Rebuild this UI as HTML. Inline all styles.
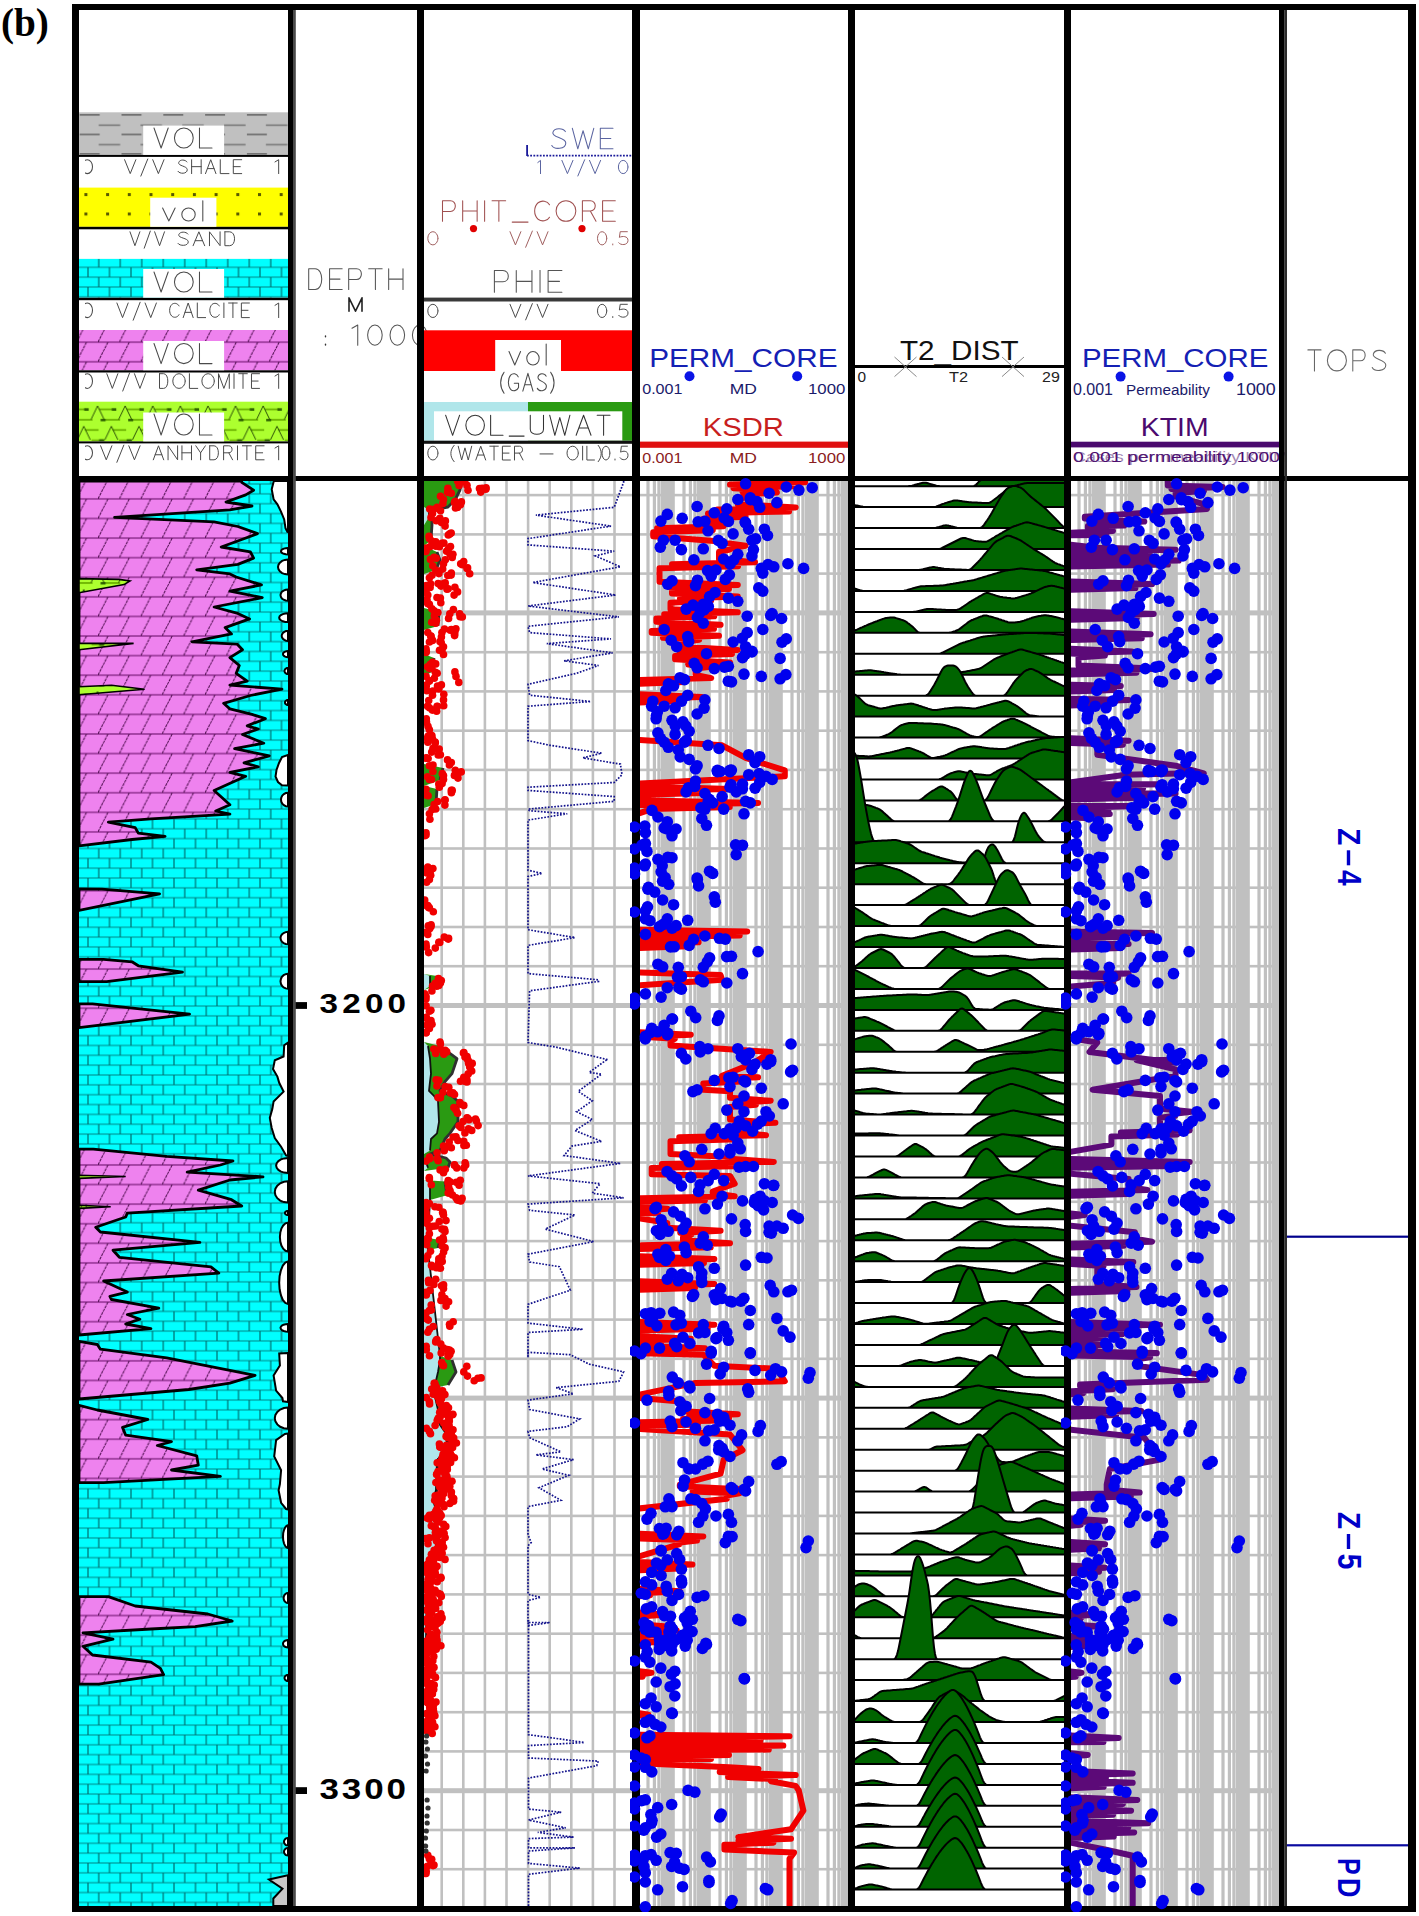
<!DOCTYPE html><html><head><meta charset="utf-8"><style>html,body{margin:0;padding:0;background:#fff}svg{display:block}text{font-family:'Liberation Sans',sans-serif}</style></head><body>
<svg xmlns="http://www.w3.org/2000/svg" width="1419" height="1916" viewBox="0 0 1419 1916">
<defs>
<pattern id="cal" patternUnits="userSpaceOnUse" x="2" y="11.2" width="21.5" height="19.7"><rect width="21.5" height="19.7" fill="#00ffff"/><rect x="0" y="-0.6" width="21.5" height="1.2" fill="#009a9a"/><rect x="0" y="9.25" width="21.5" height="1.2" fill="#009a9a"/><rect x="0" y="19.1" width="21.5" height="1.2" fill="#009a9a"/><rect x="-0.6" y="0" width="1.2" height="9.85" fill="#006e6e"/><rect x="20.9" y="0" width="1.2" height="9.85" fill="#006e6e"/><rect x="10.15" y="9.85" width="1.2" height="9.85" fill="#006e6e"/></pattern>
<pattern id="dol" patternUnits="userSpaceOnUse" x="12.4" y="9.15" width="21.4" height="19.59"><rect width="21.4" height="19.59" fill="#ee82ee"/><rect x="0" y="-0.7" width="21.4" height="1.4" fill="#8a2a8a"/><rect x="0" y="18.89" width="21.4" height="1.4" fill="#8a2a8a"/><line x1="0" y1="19.59" x2="9.9" y2="0" stroke="#4a0a4a" stroke-width="1" stroke-dasharray="3 0.8"/></pattern>
<pattern id="sand" patternUnits="userSpaceOnUse" x="84.4" y="193.1" width="21.7" height="19.4"><rect width="21.7" height="19.4" fill="#ffff00"/><rect x="0" y="0" width="3" height="3" fill="#5a5a00"/></pattern>
<pattern id="shale" patternUnits="userSpaceOnUse" x="79.7" y="114.1" width="41.8" height="19.5"><rect width="41.8" height="19.5" fill="#c0c0c0"/><rect x="0" y="0" width="20" height="1.6" fill="#6a6a6a"/><rect x="19" y="10.3" width="21.5" height="1.6" fill="#7a7a7a"/></pattern>
<pattern id="anh" patternUnits="userSpaceOnUse" x="90.6" y="405.9" width="27.6" height="40.8"><rect width="27.6" height="40.8" fill="#adff2f"/><rect x="8.7" y="2.6" width="14" height="1.8" fill="#6cb400"/><rect x="14" y="13" width="13.6" height="1.8" fill="#6cb400"/><rect x="0" y="13" width="2" height="1.8" fill="#6cb400"/><rect x="22" y="23.2" width="5.6" height="1.8" fill="#6cb400"/><rect x="0" y="23.2" width="8" height="1.8" fill="#6cb400"/><rect x="1" y="33.6" width="13" height="1.8" fill="#6cb400"/><rect x="-6.4" y="2.3" width="4.5" height="2.6" fill="#2d6000"/><rect x="21.2" y="2.3" width="4.5" height="2.6" fill="#2d6000"/><rect x="10" y="13" width="5" height="2.4" fill="#2d6000"/><rect x="8.5" y="33.4" width="5" height="2.4" fill="#2d6000"/><polyline points="0.5,13.5 7,0 13.5,13.5" fill="none" stroke="#1a3a00" stroke-width="0.9"/><polyline points="14.3,33.9 20.8,20.4 27.3,33.9" fill="none" stroke="#1a3a00" stroke-width="0.9"/><polyline points="-13.3,33.9 -6.8,20.4 -0.3,33.9" fill="none" stroke="#1a3a00" stroke-width="0.9"/></pattern>
<clipPath id="cb1"><rect x="79" y="481" width="209" height="1425"/></clipPath>
<clipPath id="cb3"><rect x="424" y="481" width="208" height="1425"/></clipPath>
<clipPath id="cb4"><rect x="640" y="481" width="208" height="1425"/></clipPath>
<clipPath id="cb5"><rect x="855" y="481" width="209" height="1425"/></clipPath>
<clipPath id="cb6"><rect x="1071" y="481" width="208" height="1425"/></clipPath>
<clipPath id="cb7"><rect x="1287" y="481" width="121" height="1425"/></clipPath>
<clipPath id="ch0"><rect x="85" y="100" width="300" height="380"/></clipPath>
<clipPath id="cdot4"><rect x="630" y="476" width="226" height="1436"/></clipPath>
<clipPath id="cdot6"><rect x="1061" y="476" width="226" height="1436"/></clipPath>
</defs>
<rect width="1419" height="1916" fill="#fff"/>
<text x="0.9" y="35.9" font-size="40" font-weight="bold" fill="#000" style="font-family:'Liberation Serif',serif" textLength="48" lengthAdjust="spacingAndGlyphs">(b)</text>
<rect x="79" y="112.3" width="209" height="42.6" fill="url(#shale)"/>
<rect x="79" y="154.9" width="209" height="2" fill="#000"/>
<rect x="79" y="187.6" width="209" height="39.2" fill="url(#sand)"/>
<rect x="79" y="226.8" width="209" height="2.5" fill="#000"/>
<rect x="79" y="258.9" width="209" height="38.8" fill="url(#cal)"/>
<rect x="79" y="297.7" width="209" height="2.5" fill="#000"/>
<rect x="79" y="330" width="209" height="40.3" fill="url(#dol)"/>
<rect x="79" y="370.3" width="209" height="2.2" fill="#000"/>
<rect x="79" y="401.7" width="209" height="39.7" fill="url(#anh)"/>
<rect x="79" y="441.4" width="209" height="2" fill="#000"/>
<rect x="143.2" y="125.6" width="80.9" height="29.3" fill="#fff"/>
<rect x="150.2" y="197.7" width="66.2" height="29.1" fill="#fff"/>
<rect x="143.2" y="269" width="80.9" height="28.7" fill="#fff"/>
<rect x="143.2" y="341" width="80.9" height="29.3" fill="#fff"/>
<rect x="143.2" y="412.5" width="80.9" height="28.9" fill="#fff"/>
<g fill="none" stroke="#4a4a4a" stroke-width="1.05" vector-effect="non-scaling-stroke" stroke-linecap="round" stroke-linejoin="round" ><path vector-effect="non-scaling-stroke" transform="translate(154.00,128.00) scale(20.8633,20.0000)" d="M0,0 L0.34,1 L0.68,0"/><path vector-effect="non-scaling-stroke" transform="translate(174.45,128.00) scale(20.8633,20.0000)" d="M0.9,0.5 A0.45,0.5 0 1,1 0,0.5 A0.45,0.5 0 1,1 0.9,0.5"/><path vector-effect="non-scaling-stroke" transform="translate(199.48,128.00) scale(20.8633,20.0000)" d="M0,0 L0,1 L0.6,1"/></g>
<g fill="none" stroke="#4a4a4a" stroke-width="1.05" vector-effect="non-scaling-stroke" stroke-linecap="round" stroke-linejoin="round" ><path vector-effect="non-scaling-stroke" transform="translate(162.60,200.80) scale(22.3370,20.1000)" d="M0,0.36 L0.28,1 L0.56,0.36"/><path vector-effect="non-scaling-stroke" transform="translate(181.81,200.80) scale(22.3370,20.1000)" d="M0.6,0.68 A0.3,0.32 0 1,1 0,0.68 A0.3,0.32 0 1,1 0.6,0.68"/><path vector-effect="non-scaling-stroke" transform="translate(201.91,200.80) scale(22.3370,20.1000)" d="M0.04,0 L0.04,1"/></g>
<g fill="none" stroke="#4a4a4a" stroke-width="1.05" vector-effect="non-scaling-stroke" stroke-linecap="round" stroke-linejoin="round" ><path vector-effect="non-scaling-stroke" transform="translate(154.00,272.00) scale(20.8633,20.0000)" d="M0,0 L0.34,1 L0.68,0"/><path vector-effect="non-scaling-stroke" transform="translate(174.45,272.00) scale(20.8633,20.0000)" d="M0.9,0.5 A0.45,0.5 0 1,1 0,0.5 A0.45,0.5 0 1,1 0.9,0.5"/><path vector-effect="non-scaling-stroke" transform="translate(199.48,272.00) scale(20.8633,20.0000)" d="M0,0 L0,1 L0.6,1"/></g>
<g fill="none" stroke="#4a4a4a" stroke-width="1.05" vector-effect="non-scaling-stroke" stroke-linecap="round" stroke-linejoin="round" ><path vector-effect="non-scaling-stroke" transform="translate(154.00,343.50) scale(20.8633,20.1000)" d="M0,0 L0.34,1 L0.68,0"/><path vector-effect="non-scaling-stroke" transform="translate(174.45,343.50) scale(20.8633,20.1000)" d="M0.9,0.5 A0.45,0.5 0 1,1 0,0.5 A0.45,0.5 0 1,1 0.9,0.5"/><path vector-effect="non-scaling-stroke" transform="translate(199.48,343.50) scale(20.8633,20.1000)" d="M0,0 L0,1 L0.6,1"/></g>
<g fill="none" stroke="#4a4a4a" stroke-width="1.05" vector-effect="non-scaling-stroke" stroke-linecap="round" stroke-linejoin="round" ><path vector-effect="non-scaling-stroke" transform="translate(154.00,414.00) scale(20.8633,21.0000)" d="M0,0 L0.34,1 L0.68,0"/><path vector-effect="non-scaling-stroke" transform="translate(174.45,414.00) scale(20.8633,21.0000)" d="M0.9,0.5 A0.45,0.5 0 1,1 0,0.5 A0.45,0.5 0 1,1 0.9,0.5"/><path vector-effect="non-scaling-stroke" transform="translate(199.48,414.00) scale(20.8633,21.0000)" d="M0,0 L0,1 L0.6,1"/></g>
<g clip-path="url(#ch1)">
</g>
<g fill="none" stroke="#4a4a4a" stroke-width="1.0" vector-effect="non-scaling-stroke" stroke-linecap="round" stroke-linejoin="round" ><path vector-effect="non-scaling-stroke" transform="translate(124.60,159.70) scale(16.5546,13.9000)" d="M0,0 L0.34,1 L0.68,0"/><path vector-effect="non-scaling-stroke" transform="translate(140.82,159.70) scale(16.5546,13.9000)" d="M0.42,-0.05 L0,1.18"/><path vector-effect="non-scaling-stroke" transform="translate(152.74,159.70) scale(16.5546,13.9000)" d="M0,0 L0.34,1 L0.68,0"/></g>
<g fill="none" stroke="#4a4a4a" stroke-width="1.0" vector-effect="non-scaling-stroke" stroke-linecap="round" stroke-linejoin="round" ><path vector-effect="non-scaling-stroke" transform="translate(178.00,159.70) scale(14.4773,13.9000)" d="M0.62,0.16 C0.52,-0.02 0.12,-0.04 0.05,0.2 C-0.02,0.46 0.64,0.44 0.64,0.72 C0.64,1.04 0.1,1.04 0,0.84"/><path vector-effect="non-scaling-stroke" transform="translate(191.61,159.70) scale(14.4773,13.9000)" d="M0,0 L0,1 M0.66,0 L0.66,1 M0,0.5 L0.66,0.5"/><path vector-effect="non-scaling-stroke" transform="translate(205.51,159.70) scale(14.4773,13.9000)" d="M0,1 L0.36,0 L0.72,1 M0.13,0.64 L0.59,0.64"/><path vector-effect="non-scaling-stroke" transform="translate(220.27,159.70) scale(14.4773,13.9000)" d="M0,0 L0,1 L0.6,1"/><path vector-effect="non-scaling-stroke" transform="translate(233.30,159.70) scale(14.4773,13.9000)" d="M0.58,0 L0,0 L0,1 L0.58,1 M0,0.5 L0.48,0.5"/></g>
<g fill="none" stroke="#4a4a4a" stroke-width="1.0" vector-effect="non-scaling-stroke" stroke-linecap="round" stroke-linejoin="round" ><path vector-effect="non-scaling-stroke" transform="translate(275.00,159.70) scale(16.6667,13.9000)" d="M0,0.16 L0.22,0 L0.22,1"/></g>
<g fill="none" stroke="#4a4a4a" stroke-width="1.0" vector-effect="non-scaling-stroke" stroke-linecap="round" stroke-linejoin="round" ><path vector-effect="non-scaling-stroke" transform="translate(130.00,231.80) scale(14.4958,13.9000)" d="M0,0 L0.34,1 L0.68,0"/><path vector-effect="non-scaling-stroke" transform="translate(144.21,231.80) scale(14.4958,13.9000)" d="M0.42,-0.05 L0,1.18"/><path vector-effect="non-scaling-stroke" transform="translate(154.64,231.80) scale(14.4958,13.9000)" d="M0,0 L0.34,1 L0.68,0"/></g>
<g fill="none" stroke="#4a4a4a" stroke-width="1.0" vector-effect="non-scaling-stroke" stroke-linecap="round" stroke-linejoin="round" ><path vector-effect="non-scaling-stroke" transform="translate(178.00,231.80) scale(16.0615,13.9000)" d="M0.62,0.16 C0.52,-0.02 0.12,-0.04 0.05,0.2 C-0.02,0.46 0.64,0.44 0.64,0.72 C0.64,1.04 0.1,1.04 0,0.84"/><path vector-effect="non-scaling-stroke" transform="translate(193.10,231.80) scale(16.0615,13.9000)" d="M0,1 L0.36,0 L0.72,1 M0.13,0.64 L0.59,0.64"/><path vector-effect="non-scaling-stroke" transform="translate(209.48,231.80) scale(16.0615,13.9000)" d="M0,1 L0,0 L0.66,1 L0.66,0"/><path vector-effect="non-scaling-stroke" transform="translate(224.90,231.80) scale(16.0615,13.9000)" d="M0,0 L0,1 L0.3,1 C0.7,1 0.7,0 0.3,0 L0,0"/></g>
<g fill="none" stroke="#4a4a4a" stroke-width="1.0" vector-effect="non-scaling-stroke" stroke-linecap="round" stroke-linejoin="round" ><path vector-effect="non-scaling-stroke" transform="translate(116.90,303.00) scale(16.5966,14.6000)" d="M0,0 L0.34,1 L0.68,0"/><path vector-effect="non-scaling-stroke" transform="translate(133.16,303.00) scale(16.5966,14.6000)" d="M0.42,-0.05 L0,1.18"/><path vector-effect="non-scaling-stroke" transform="translate(145.11,303.00) scale(16.5966,14.6000)" d="M0,0 L0.34,1 L0.68,0"/></g>
<g fill="none" stroke="#4a4a4a" stroke-width="1.0" vector-effect="non-scaling-stroke" stroke-linecap="round" stroke-linejoin="round" ><path vector-effect="non-scaling-stroke" transform="translate(169.60,303.00) scale(13.8542,14.6000)" d="M0.68,0.2 C0.58,0 0.32,-0.03 0.16,0.1 C-0.05,0.3 -0.05,0.7 0.16,0.9 C0.32,1.03 0.58,1 0.68,0.8"/><path vector-effect="non-scaling-stroke" transform="translate(183.18,303.00) scale(13.8542,14.6000)" d="M0,1 L0.36,0 L0.72,1 M0.13,0.64 L0.59,0.64"/><path vector-effect="non-scaling-stroke" transform="translate(197.31,303.00) scale(13.8542,14.6000)" d="M0,0 L0,1 L0.6,1"/><path vector-effect="non-scaling-stroke" transform="translate(209.78,303.00) scale(13.8542,14.6000)" d="M0.68,0.2 C0.58,0 0.32,-0.03 0.16,0.1 C-0.05,0.3 -0.05,0.7 0.16,0.9 C0.32,1.03 0.58,1 0.68,0.8"/><path vector-effect="non-scaling-stroke" transform="translate(223.35,303.00) scale(13.8542,14.6000)" d="M0.04,0 L0.04,1"/><path vector-effect="non-scaling-stroke" transform="translate(228.62,303.00) scale(13.8542,14.6000)" d="M0,0 L0.62,0 M0.31,0 L0.31,1"/><path vector-effect="non-scaling-stroke" transform="translate(241.36,303.00) scale(13.8542,14.6000)" d="M0.58,0 L0,0 L0,1 L0.58,1 M0,0.5 L0.48,0.5"/></g>
<g fill="none" stroke="#4a4a4a" stroke-width="1.0" vector-effect="non-scaling-stroke" stroke-linecap="round" stroke-linejoin="round" ><path vector-effect="non-scaling-stroke" transform="translate(275.00,303.00) scale(16.6667,14.6000)" d="M0,0.16 L0.22,0 L0.22,1"/></g>
<g fill="none" stroke="#4a4a4a" stroke-width="1.0" vector-effect="non-scaling-stroke" stroke-linecap="round" stroke-linejoin="round" ><path vector-effect="non-scaling-stroke" transform="translate(106.80,373.70) scale(16.2605,14.7000)" d="M0,0 L0.34,1 L0.68,0"/><path vector-effect="non-scaling-stroke" transform="translate(122.74,373.70) scale(16.2605,14.7000)" d="M0.42,-0.05 L0,1.18"/><path vector-effect="non-scaling-stroke" transform="translate(134.44,373.70) scale(16.2605,14.7000)" d="M0,0 L0.34,1 L0.68,0"/></g>
<g fill="none" stroke="#4a4a4a" stroke-width="1.0" vector-effect="non-scaling-stroke" stroke-linecap="round" stroke-linejoin="round" ><path vector-effect="non-scaling-stroke" transform="translate(159.50,373.70) scale(13.8504,14.7000)" d="M0,0 L0,1 L0.3,1 C0.7,1 0.7,0 0.3,0 L0,0"/><path vector-effect="non-scaling-stroke" transform="translate(172.80,373.70) scale(13.8504,14.7000)" d="M0.9,0.5 A0.45,0.5 0 1,1 0,0.5 A0.45,0.5 0 1,1 0.9,0.5"/><path vector-effect="non-scaling-stroke" transform="translate(189.42,373.70) scale(13.8504,14.7000)" d="M0,0 L0,1 L0.6,1"/><path vector-effect="non-scaling-stroke" transform="translate(201.88,373.70) scale(13.8504,14.7000)" d="M0.9,0.5 A0.45,0.5 0 1,1 0,0.5 A0.45,0.5 0 1,1 0.9,0.5"/><path vector-effect="non-scaling-stroke" transform="translate(218.50,373.70) scale(13.8504,14.7000)" d="M0,1 L0,0 L0.39,1 L0.78,0 L0.78,1"/><path vector-effect="non-scaling-stroke" transform="translate(233.46,373.70) scale(13.8504,14.7000)" d="M0.04,0 L0.04,1"/><path vector-effect="non-scaling-stroke" transform="translate(238.72,373.70) scale(13.8504,14.7000)" d="M0,0 L0.62,0 M0.31,0 L0.31,1"/><path vector-effect="non-scaling-stroke" transform="translate(251.47,373.70) scale(13.8504,14.7000)" d="M0.58,0 L0,0 L0,1 L0.58,1 M0,0.5 L0.48,0.5"/></g>
<g fill="none" stroke="#4a4a4a" stroke-width="1.0" vector-effect="non-scaling-stroke" stroke-linecap="round" stroke-linejoin="round" ><path vector-effect="non-scaling-stroke" transform="translate(275.00,373.70) scale(16.6667,14.7000)" d="M0,0.16 L0.22,0 L0.22,1"/></g>
<g fill="none" stroke="#4a4a4a" stroke-width="1.0" vector-effect="non-scaling-stroke" stroke-linecap="round" stroke-linejoin="round" ><path vector-effect="non-scaling-stroke" transform="translate(100.60,445.80) scale(16.5966,14.0000)" d="M0,0 L0.34,1 L0.68,0"/><path vector-effect="non-scaling-stroke" transform="translate(116.86,445.80) scale(16.5966,14.0000)" d="M0.42,-0.05 L0,1.18"/><path vector-effect="non-scaling-stroke" transform="translate(128.81,445.80) scale(16.5966,14.0000)" d="M0,0 L0.34,1 L0.68,0"/></g>
<g fill="none" stroke="#4a4a4a" stroke-width="1.0" vector-effect="non-scaling-stroke" stroke-linecap="round" stroke-linejoin="round" ><path vector-effect="non-scaling-stroke" transform="translate(153.30,445.80) scale(14.4648,14.0000)" d="M0,1 L0.36,0 L0.72,1 M0.13,0.64 L0.59,0.64"/><path vector-effect="non-scaling-stroke" transform="translate(168.05,445.80) scale(14.4648,14.0000)" d="M0,1 L0,0 L0.66,1 L0.66,0"/><path vector-effect="non-scaling-stroke" transform="translate(181.94,445.80) scale(14.4648,14.0000)" d="M0,0 L0,1 M0.66,0 L0.66,1 M0,0.5 L0.66,0.5"/><path vector-effect="non-scaling-stroke" transform="translate(195.83,445.80) scale(14.4648,14.0000)" d="M0,0 L0.33,0.5 L0.66,0 M0.33,0.5 L0.33,1"/><path vector-effect="non-scaling-stroke" transform="translate(209.71,445.80) scale(14.4648,14.0000)" d="M0,0 L0,1 L0.3,1 C0.7,1 0.7,0 0.3,0 L0,0"/><path vector-effect="non-scaling-stroke" transform="translate(223.60,445.80) scale(14.4648,14.0000)" d="M0,1 L0,0 L0.36,0 C0.66,0 0.66,0.5 0.36,0.5 L0,0.5 M0.36,0.5 L0.62,1"/><path vector-effect="non-scaling-stroke" transform="translate(236.91,445.80) scale(14.4648,14.0000)" d="M0.04,0 L0.04,1"/><path vector-effect="non-scaling-stroke" transform="translate(242.40,445.80) scale(14.4648,14.0000)" d="M0,0 L0.62,0 M0.31,0 L0.31,1"/><path vector-effect="non-scaling-stroke" transform="translate(255.71,445.80) scale(14.4648,14.0000)" d="M0.58,0 L0,0 L0,1 L0.58,1 M0,0.5 L0.48,0.5"/></g>
<g fill="none" stroke="#4a4a4a" stroke-width="1.0" vector-effect="non-scaling-stroke" stroke-linecap="round" stroke-linejoin="round" ><path vector-effect="non-scaling-stroke" transform="translate(275.00,445.80) scale(16.6667,14.0000)" d="M0,0.16 L0.22,0 L0.22,1"/></g>
<g clip-path="url(#ch0)">
<g fill="none" stroke="#4a4a4a" stroke-width="1.05" vector-effect="non-scaling-stroke" stroke-linecap="round" stroke-linejoin="round" ><path vector-effect="non-scaling-stroke" transform="translate(82.00,159.70) scale(18.7500,13.9000)" d="M0.56,0.5 A0.28,0.5 0 1,1 0,0.5 A0.28,0.5 0 1,1 0.56,0.5"/></g>
<g fill="none" stroke="#4a4a4a" stroke-width="1.05" vector-effect="non-scaling-stroke" stroke-linecap="round" stroke-linejoin="round" ><path vector-effect="non-scaling-stroke" transform="translate(82.00,303.00) scale(18.7500,14.6000)" d="M0.56,0.5 A0.28,0.5 0 1,1 0,0.5 A0.28,0.5 0 1,1 0.56,0.5"/></g>
<g fill="none" stroke="#4a4a4a" stroke-width="1.05" vector-effect="non-scaling-stroke" stroke-linecap="round" stroke-linejoin="round" ><path vector-effect="non-scaling-stroke" transform="translate(82.00,373.70) scale(18.7500,14.7000)" d="M0.56,0.5 A0.28,0.5 0 1,1 0,0.5 A0.28,0.5 0 1,1 0.56,0.5"/></g>
<g fill="none" stroke="#4a4a4a" stroke-width="1.05" vector-effect="non-scaling-stroke" stroke-linecap="round" stroke-linejoin="round" ><path vector-effect="non-scaling-stroke" transform="translate(82.00,445.80) scale(18.7500,14.0000)" d="M0.56,0.5 A0.28,0.5 0 1,1 0,0.5 A0.28,0.5 0 1,1 0.56,0.5"/></g>
</g>
<g fill="none" stroke="#555" stroke-width="1.05" vector-effect="non-scaling-stroke" stroke-linecap="round" stroke-linejoin="round" ><path vector-effect="non-scaling-stroke" transform="translate(308.70,268.70) scale(21.7281,20.8000)" d="M0,0 L0,1 L0.3,1 C0.7,1 0.7,0 0.3,0 L0,0"/><path vector-effect="non-scaling-stroke" transform="translate(329.56,268.70) scale(21.7281,20.8000)" d="M0.58,0 L0,0 L0,1 L0.58,1 M0,0.5 L0.48,0.5"/><path vector-effect="non-scaling-stroke" transform="translate(348.68,268.70) scale(21.7281,20.8000)" d="M0,1 L0,0 L0.36,0 C0.66,0 0.66,0.52 0.36,0.52 L0,0.52"/><path vector-effect="non-scaling-stroke" transform="translate(368.67,268.70) scale(21.7281,20.8000)" d="M0,0 L0.62,0 M0.31,0 L0.31,1"/><path vector-effect="non-scaling-stroke" transform="translate(388.66,268.70) scale(21.7281,20.8000)" d="M0,0 L0,1 M0.66,0 L0.66,1 M0,0.5 L0.66,0.5"/></g>
<g fill="none" stroke="#222" stroke-width="1.6" vector-effect="non-scaling-stroke" stroke-linecap="round" stroke-linejoin="round" ><path vector-effect="non-scaling-stroke" transform="translate(349.00,297.80) scale(16.6667,13.4000)" d="M0,1 L0,0 L0.39,1 L0.78,0 L0.78,1"/></g>
<g fill="none" stroke="#555" stroke-width="1.05" vector-effect="non-scaling-stroke" stroke-linecap="round" stroke-linejoin="round" ><path vector-effect="non-scaling-stroke" transform="translate(352.00,325.00) scale(26.0417,20.2000)" d="M0,0.16 L0.22,0 L0.22,1"/><path vector-effect="non-scaling-stroke" transform="translate(367.62,325.00) scale(26.0417,20.2000)" d="M0.56,0.5 A0.28,0.5 0 1,1 0,0.5 A0.28,0.5 0 1,1 0.56,0.5"/><path vector-effect="non-scaling-stroke" transform="translate(390.02,325.00) scale(26.0417,20.2000)" d="M0.56,0.5 A0.28,0.5 0 1,1 0,0.5 A0.28,0.5 0 1,1 0.56,0.5"/><path vector-effect="non-scaling-stroke" transform="translate(412.42,325.00) scale(26.0417,20.2000)" d="M0.56,0.5 A0.28,0.5 0 1,1 0,0.5 A0.28,0.5 0 1,1 0.56,0.5"/></g>
<g fill="none" stroke="#333" stroke-width="1.4" vector-effect="non-scaling-stroke" stroke-linecap="round" stroke-linejoin="round" ><path vector-effect="non-scaling-stroke" transform="translate(324.00,332.00) scale(25.0000,13.0000)" d="M0.06,0.3 L0.06,0.36 M0.06,0.93 L0.06,1"/></g>
<g fill="none" stroke="#5a64a0" stroke-width="1.05" vector-effect="non-scaling-stroke" stroke-linecap="round" stroke-linejoin="round" ><path vector-effect="non-scaling-stroke" transform="translate(551.80,128.30) scale(21.8571,20.5000)" d="M0.62,0.16 C0.52,-0.02 0.12,-0.04 0.05,0.2 C-0.02,0.46 0.64,0.44 0.64,0.72 C0.64,1.04 0.1,1.04 0,0.84"/><path vector-effect="non-scaling-stroke" transform="translate(572.35,128.30) scale(21.8571,20.5000)" d="M0,0 L0.25,1 L0.49,0.12 L0.73,1 L0.98,0"/><path vector-effect="non-scaling-stroke" transform="translate(600.32,128.30) scale(21.8571,20.5000)" d="M0.58,0 L0,0 L0,1 L0.58,1 M0,0.5 L0.48,0.5"/></g>
<line x1="527" y1="155.7" x2="632" y2="155.7" stroke="#1a1a9a" stroke-width="1.8" stroke-dasharray="1.8 1.4"/>
<rect x="526.2" y="145" width="1.8" height="11" fill="#1a1a9a"/>
<g fill="none" stroke="#5a64a0" stroke-width="1.0" vector-effect="non-scaling-stroke" stroke-linecap="round" stroke-linejoin="round" ><path vector-effect="non-scaling-stroke" transform="translate(537.80,160.40) scale(12.3333,13.2000)" d="M0,0.16 L0.22,0 L0.22,1"/></g>
<g fill="none" stroke="#5a64a0" stroke-width="1.0" vector-effect="non-scaling-stroke" stroke-linecap="round" stroke-linejoin="round" ><path vector-effect="non-scaling-stroke" transform="translate(561.90,160.40) scale(16.2605,13.2000)" d="M0,0 L0.34,1 L0.68,0"/><path vector-effect="non-scaling-stroke" transform="translate(577.84,160.40) scale(16.2605,13.2000)" d="M0.42,-0.05 L0,1.18"/><path vector-effect="non-scaling-stroke" transform="translate(589.54,160.40) scale(16.2605,13.2000)" d="M0,0 L0.34,1 L0.68,0"/></g>
<g fill="none" stroke="#5a64a0" stroke-width="1.0" vector-effect="non-scaling-stroke" stroke-linecap="round" stroke-linejoin="round" ><path vector-effect="non-scaling-stroke" transform="translate(618.40,160.40) scale(17.1429,13.2000)" d="M0.56,0.5 A0.28,0.5 0 1,1 0,0.5 A0.28,0.5 0 1,1 0.56,0.5"/></g>
<g fill="none" stroke="#a05050" stroke-width="1.05" vector-effect="non-scaling-stroke" stroke-linecap="round" stroke-linejoin="round" ><path vector-effect="non-scaling-stroke" transform="translate(442.50,200.70) scale(21.9289,20.6000)" d="M0,1 L0,0 L0.36,0 C0.66,0 0.66,0.52 0.36,0.52 L0,0.52"/><path vector-effect="non-scaling-stroke" transform="translate(462.67,200.70) scale(21.9289,20.6000)" d="M0,0 L0,1 M0.66,0 L0.66,1 M0,0.5 L0.66,0.5"/><path vector-effect="non-scaling-stroke" transform="translate(483.73,200.70) scale(21.9289,20.6000)" d="M0.04,0 L0.04,1"/><path vector-effect="non-scaling-stroke" transform="translate(492.06,200.70) scale(21.9289,20.6000)" d="M0,0 L0.62,0 M0.31,0 L0.31,1"/><path vector-effect="non-scaling-stroke" transform="translate(512.23,200.70) scale(21.9289,20.6000)" d="M0,1.04 L0.72,1.04"/><path vector-effect="non-scaling-stroke" transform="translate(534.60,200.70) scale(21.9289,20.6000)" d="M0.68,0.2 C0.58,0 0.32,-0.03 0.16,0.1 C-0.05,0.3 -0.05,0.7 0.16,0.9 C0.32,1.03 0.58,1 0.68,0.8"/><path vector-effect="non-scaling-stroke" transform="translate(556.09,200.70) scale(21.9289,20.6000)" d="M0.9,0.5 A0.45,0.5 0 1,1 0,0.5 A0.45,0.5 0 1,1 0.9,0.5"/><path vector-effect="non-scaling-stroke" transform="translate(582.41,200.70) scale(21.9289,20.6000)" d="M0,1 L0,0 L0.36,0 C0.66,0 0.66,0.5 0.36,0.5 L0,0.5 M0.36,0.5 L0.62,1"/><path vector-effect="non-scaling-stroke" transform="translate(602.58,200.70) scale(21.9289,20.6000)" d="M0.58,0 L0,0 L0,1 L0.58,1 M0,0.5 L0.48,0.5"/></g>
<circle cx="473.5" cy="228.6" r="3.6" fill="#e00000"/><circle cx="582" cy="228.6" r="3.6" fill="#e00000"/>
<g fill="none" stroke="#a06060" stroke-width="1.0" vector-effect="non-scaling-stroke" stroke-linecap="round" stroke-linejoin="round" ><path vector-effect="non-scaling-stroke" transform="translate(427.80,231.70) scale(18.2143,13.2000)" d="M0.56,0.5 A0.28,0.5 0 1,1 0,0.5 A0.28,0.5 0 1,1 0.56,0.5"/></g>
<g fill="none" stroke="#a06060" stroke-width="1.0" vector-effect="non-scaling-stroke" stroke-linecap="round" stroke-linejoin="round" ><path vector-effect="non-scaling-stroke" transform="translate(510.00,231.70) scale(15.9664,13.2000)" d="M0,0 L0.34,1 L0.68,0"/><path vector-effect="non-scaling-stroke" transform="translate(525.65,231.70) scale(15.9664,13.2000)" d="M0.42,-0.05 L0,1.18"/><path vector-effect="non-scaling-stroke" transform="translate(537.14,231.70) scale(15.9664,13.2000)" d="M0,0 L0.34,1 L0.68,0"/></g>
<g fill="none" stroke="#a06060" stroke-width="1.0" vector-effect="non-scaling-stroke" stroke-linecap="round" stroke-linejoin="round" ><path vector-effect="non-scaling-stroke" transform="translate(597.50,231.70) scale(16.5761,13.2000)" d="M0.56,0.5 A0.28,0.5 0 1,1 0,0.5 A0.28,0.5 0 1,1 0.56,0.5"/><path vector-effect="non-scaling-stroke" transform="translate(611.76,231.70) scale(16.5761,13.2000)" d="M0.06,0.93 L0.06,1"/><path vector-effect="non-scaling-stroke" transform="translate(618.72,231.70) scale(16.5761,13.2000)" d="M0.52,0 L0.09,0 L0.04,0.43 C0.22,0.32 0.56,0.32 0.56,0.66 C0.56,1.05 0.1,1.05 0,0.84"/></g>
<g fill="none" stroke="#555" stroke-width="1.05" vector-effect="non-scaling-stroke" stroke-linecap="round" stroke-linejoin="round" ><path vector-effect="non-scaling-stroke" transform="translate(494.40,270.50) scale(23.7676,21.7000)" d="M0,1 L0,0 L0.36,0 C0.66,0 0.66,0.52 0.36,0.52 L0,0.52"/><path vector-effect="non-scaling-stroke" transform="translate(516.27,270.50) scale(23.7676,21.7000)" d="M0,0 L0,1 M0.66,0 L0.66,1 M0,0.5 L0.66,0.5"/><path vector-effect="non-scaling-stroke" transform="translate(539.08,270.50) scale(23.7676,21.7000)" d="M0.04,0 L0.04,1"/><path vector-effect="non-scaling-stroke" transform="translate(548.11,270.50) scale(23.7676,21.7000)" d="M0.58,0 L0,0 L0,1 L0.58,1 M0,0.5 L0.48,0.5"/></g>
<rect x="424" y="297.6" width="208" height="3.9" fill="#3a3a3a"/>
<g fill="none" stroke="#4a4a4a" stroke-width="1.0" vector-effect="non-scaling-stroke" stroke-linecap="round" stroke-linejoin="round" ><path vector-effect="non-scaling-stroke" transform="translate(427.80,304.30) scale(18.2143,13.2000)" d="M0.56,0.5 A0.28,0.5 0 1,1 0,0.5 A0.28,0.5 0 1,1 0.56,0.5"/></g>
<g fill="none" stroke="#4a4a4a" stroke-width="1.0" vector-effect="non-scaling-stroke" stroke-linecap="round" stroke-linejoin="round" ><path vector-effect="non-scaling-stroke" transform="translate(510.00,304.30) scale(15.9664,13.2000)" d="M0,0 L0.34,1 L0.68,0"/><path vector-effect="non-scaling-stroke" transform="translate(525.65,304.30) scale(15.9664,13.2000)" d="M0.42,-0.05 L0,1.18"/><path vector-effect="non-scaling-stroke" transform="translate(537.14,304.30) scale(15.9664,13.2000)" d="M0,0 L0.34,1 L0.68,0"/></g>
<g fill="none" stroke="#4a4a4a" stroke-width="1.0" vector-effect="non-scaling-stroke" stroke-linecap="round" stroke-linejoin="round" ><path vector-effect="non-scaling-stroke" transform="translate(597.50,304.30) scale(16.5761,13.2000)" d="M0.56,0.5 A0.28,0.5 0 1,1 0,0.5 A0.28,0.5 0 1,1 0.56,0.5"/><path vector-effect="non-scaling-stroke" transform="translate(611.76,304.30) scale(16.5761,13.2000)" d="M0.06,0.93 L0.06,1"/><path vector-effect="non-scaling-stroke" transform="translate(618.72,304.30) scale(16.5761,13.2000)" d="M0.52,0 L0.09,0 L0.04,0.43 C0.22,0.32 0.56,0.32 0.56,0.66 C0.56,1.05 0.1,1.05 0,0.84"/></g>
<rect x="424" y="330.3" width="208" height="40.7" fill="#ff0000"/>
<rect x="495.2" y="340" width="65.8" height="31" fill="#fff"/>
<g fill="none" stroke="#4a4a4a" stroke-width="1.05" vector-effect="non-scaling-stroke" stroke-linecap="round" stroke-linejoin="round" ><path vector-effect="non-scaling-stroke" transform="translate(509.00,344.00) scale(20.6522,21.0000)" d="M0,0.36 L0.28,1 L0.56,0.36"/><path vector-effect="non-scaling-stroke" transform="translate(526.76,344.00) scale(20.6522,21.0000)" d="M0.6,0.68 A0.3,0.32 0 1,1 0,0.68 A0.3,0.32 0 1,1 0.6,0.68"/><path vector-effect="non-scaling-stroke" transform="translate(545.35,344.00) scale(20.6522,21.0000)" d="M0.04,0 L0.04,1"/></g>
<g fill="none" stroke="#4a4a4a" stroke-width="1.05" vector-effect="non-scaling-stroke" stroke-linecap="round" stroke-linejoin="round" ><path vector-effect="non-scaling-stroke" transform="translate(499.80,373.30) scale(14.2010,17.8000)" d="M0.3,-0.06 C-0.02,0.3 -0.02,0.76 0.3,1.12"/><path vector-effect="non-scaling-stroke" transform="translate(508.32,373.30) scale(14.2010,17.8000)" d="M0.7,0.2 C0.6,0 0.32,-0.03 0.16,0.1 C-0.05,0.3 -0.05,0.7 0.16,0.9 C0.32,1.03 0.62,1 0.72,0.8 L0.72,0.56 L0.42,0.56"/><path vector-effect="non-scaling-stroke" transform="translate(522.81,373.30) scale(14.2010,17.8000)" d="M0,1 L0.36,0 L0.72,1 M0.13,0.64 L0.59,0.64"/><path vector-effect="non-scaling-stroke" transform="translate(537.29,373.30) scale(14.2010,17.8000)" d="M0.62,0.16 C0.52,-0.02 0.12,-0.04 0.05,0.2 C-0.02,0.46 0.64,0.44 0.64,0.72 C0.64,1.04 0.1,1.04 0,0.84"/><path vector-effect="non-scaling-stroke" transform="translate(550.64,373.30) scale(14.2010,17.8000)" d="M0,-0.06 C0.32,0.3 0.32,0.76 0,1.12"/></g>
<rect x="424" y="402" width="104" height="38.7" fill="#b0e6ea"/>
<rect x="528" y="402" width="104" height="38.7" fill="#2a9a12"/>
<rect x="434" y="411.3" width="188.3" height="29.4" fill="#fff"/>
<g fill="none" stroke="#333" stroke-width="1.05" vector-effect="non-scaling-stroke" stroke-linecap="round" stroke-linejoin="round" ><path vector-effect="non-scaling-stroke" transform="translate(445.60,415.20) scale(20.6533,20.1000)" d="M0,0 L0.34,1 L0.68,0"/><path vector-effect="non-scaling-stroke" transform="translate(465.84,415.20) scale(20.6533,20.1000)" d="M0.9,0.5 A0.45,0.5 0 1,1 0,0.5 A0.45,0.5 0 1,1 0.9,0.5"/><path vector-effect="non-scaling-stroke" transform="translate(490.62,415.20) scale(20.6533,20.1000)" d="M0,0 L0,1 L0.6,1"/><path vector-effect="non-scaling-stroke" transform="translate(509.21,415.20) scale(20.6533,20.1000)" d="M0,1.04 L0.72,1.04"/><path vector-effect="non-scaling-stroke" transform="translate(530.28,415.20) scale(20.6533,20.1000)" d="M0,0 L0,0.7 C0,1.03 0.64,1.03 0.64,0.7 L0.64,0"/><path vector-effect="non-scaling-stroke" transform="translate(549.69,415.20) scale(20.6533,20.1000)" d="M0,0 L0.25,1 L0.49,0.12 L0.73,1 L0.98,0"/><path vector-effect="non-scaling-stroke" transform="translate(576.13,415.20) scale(20.6533,20.1000)" d="M0,1 L0.36,0 L0.72,1 M0.13,0.64 L0.59,0.64"/><path vector-effect="non-scaling-stroke" transform="translate(597.19,415.20) scale(20.6533,20.1000)" d="M0,0 L0.62,0 M0.31,0 L0.31,1"/></g>
<rect x="424" y="440.7" width="208" height="3.1" fill="#111"/>
<g fill="none" stroke="#4a4a4a" stroke-width="1.0" vector-effect="non-scaling-stroke" stroke-linecap="round" stroke-linejoin="round" ><path vector-effect="non-scaling-stroke" transform="translate(427.80,446.20) scale(18.2143,13.8000)" d="M0.56,0.5 A0.28,0.5 0 1,1 0,0.5 A0.28,0.5 0 1,1 0.56,0.5"/></g>
<g fill="none" stroke="#4a4a4a" stroke-width="1.0" vector-effect="non-scaling-stroke" stroke-linecap="round" stroke-linejoin="round" ><path vector-effect="non-scaling-stroke" transform="translate(450.00,446.20) scale(13.7218,13.8000)" d="M0.3,-0.06 C-0.02,0.3 -0.02,0.76 0.3,1.12"/><path vector-effect="non-scaling-stroke" transform="translate(458.23,446.20) scale(13.7218,13.8000)" d="M0,0 L0.25,1 L0.49,0.12 L0.73,1 L0.98,0"/><path vector-effect="non-scaling-stroke" transform="translate(475.80,446.20) scale(13.7218,13.8000)" d="M0,1 L0.36,0 L0.72,1 M0.13,0.64 L0.59,0.64"/><path vector-effect="non-scaling-stroke" transform="translate(489.79,446.20) scale(13.7218,13.8000)" d="M0,0 L0.62,0 M0.31,0 L0.31,1"/><path vector-effect="non-scaling-stroke" transform="translate(502.42,446.20) scale(13.7218,13.8000)" d="M0.58,0 L0,0 L0,1 L0.58,1 M0,0.5 L0.48,0.5"/><path vector-effect="non-scaling-stroke" transform="translate(514.49,446.20) scale(13.7218,13.8000)" d="M0,1 L0,0 L0.36,0 C0.66,0 0.66,0.5 0.36,0.5 L0,0.5 M0.36,0.5 L0.62,1"/></g>
<g fill="none" stroke="#4a4a4a" stroke-width="1.0" vector-effect="non-scaling-stroke" stroke-linecap="round" stroke-linejoin="round" ><path vector-effect="non-scaling-stroke" transform="translate(540.00,446.20) scale(26.0000,13.8000)" d="M0,0.56 L0.5,0.56"/></g>
<g fill="none" stroke="#4a4a4a" stroke-width="1.0" vector-effect="non-scaling-stroke" stroke-linecap="round" stroke-linejoin="round" ><path vector-effect="non-scaling-stroke" transform="translate(567.00,446.20) scale(12.5899,13.8000)" d="M0.9,0.5 A0.45,0.5 0 1,1 0,0.5 A0.45,0.5 0 1,1 0.9,0.5"/><path vector-effect="non-scaling-stroke" transform="translate(582.11,446.20) scale(12.5899,13.8000)" d="M0.04,0 L0.04,1"/><path vector-effect="non-scaling-stroke" transform="translate(586.89,446.20) scale(12.5899,13.8000)" d="M0,0 L0,1 L0.6,1"/><path vector-effect="non-scaling-stroke" transform="translate(598.22,446.20) scale(12.5899,13.8000)" d="M0,-0.06 C0.32,0.3 0.32,0.76 0,1.12"/></g>
<g fill="none" stroke="#4a4a4a" stroke-width="1.0" vector-effect="non-scaling-stroke" stroke-linecap="round" stroke-linejoin="round" ><path vector-effect="non-scaling-stroke" transform="translate(602.00,446.20) scale(14.1304,13.8000)" d="M0.56,0.5 A0.28,0.5 0 1,1 0,0.5 A0.28,0.5 0 1,1 0.56,0.5"/><path vector-effect="non-scaling-stroke" transform="translate(614.15,446.20) scale(14.1304,13.8000)" d="M0.06,0.93 L0.06,1"/><path vector-effect="non-scaling-stroke" transform="translate(620.09,446.20) scale(14.1304,13.8000)" d="M0.52,0 L0.09,0 L0.04,0.43 C0.22,0.32 0.56,0.32 0.56,0.66 C0.56,1.05 0.1,1.05 0,0.84"/></g>
<text x="649.2" y="367.2" font-size="26.4" fill="#1420b4" textLength="188.3" lengthAdjust="spacingAndGlyphs" >PERM_CORE</text>
<circle cx="689.5" cy="376.2" r="5" fill="#0a14e6"/><circle cx="797.2" cy="376.2" r="5" fill="#0a14e6"/>
<text x="642.2" y="394.3" font-size="15.1" fill="#1a1a6a" textLength="40.3" lengthAdjust="spacingAndGlyphs" >0.001</text>
<text x="729.8" y="394.3" font-size="15.1" fill="#1a1a6a" textLength="27.2" lengthAdjust="spacingAndGlyphs" >MD</text>
<text x="808" y="394.3" font-size="15.1" fill="#1a1a6a" textLength="37.3" lengthAdjust="spacingAndGlyphs" >1000</text>
<text x="702.7" y="436.2" font-size="26" fill="#c81e1e" textLength="81.3" lengthAdjust="spacingAndGlyphs" >KSDR</text>
<rect x="640" y="441.6" width="208" height="6.2" fill="#e01010"/>
<text x="642.2" y="462.6" font-size="14.1" fill="#8a2020" textLength="40.3" lengthAdjust="spacingAndGlyphs" >0.001</text>
<text x="729.8" y="462.6" font-size="14.1" fill="#8a2020" textLength="27.2" lengthAdjust="spacingAndGlyphs" >MD</text>
<text x="808" y="462.6" font-size="14.1" fill="#8a2020" textLength="37.3" lengthAdjust="spacingAndGlyphs" >1000</text>
<text x="900" y="359.5" font-size="28.1" fill="#111" textLength="118.7" lengthAdjust="spacingAndGlyphs" >T2_DIST</text>
<rect x="855" y="365" width="209" height="3" fill="#000"/>
<path d="M894.5,357 L916.5,376.6 M894.5,376.6 L916.5,357" stroke="#8a8a8a" stroke-width="1"/>
<path d="M1002,357 L1024,376.6 M1002,376.6 L1024,357" stroke="#8a8a8a" stroke-width="1"/>
<text x="857.4" y="382" font-size="14" fill="#222" textLength="8.6" lengthAdjust="spacingAndGlyphs" >0</text>
<text x="949" y="382" font-size="14" fill="#222" textLength="19" lengthAdjust="spacingAndGlyphs" >T2</text>
<text x="1042" y="382" font-size="14" fill="#222" textLength="17.8" lengthAdjust="spacingAndGlyphs" >29</text>
<text x="1081.9" y="366.8" font-size="25.1" fill="#1420b4" textLength="186.4" lengthAdjust="spacingAndGlyphs" >PERM_CORE</text>
<circle cx="1120.6" cy="376.6" r="5" fill="#0a14e6"/><circle cx="1228.6" cy="376.6" r="5" fill="#0a14e6"/>
<text x="1073" y="394.6" font-size="16.2" fill="#1a1a6a" textLength="40" lengthAdjust="spacingAndGlyphs" >0.001</text>
<text x="1126" y="394.6" font-size="15.5" fill="#1a1a6a" textLength="84" lengthAdjust="spacingAndGlyphs" >Permeability</text>
<text x="1236" y="394.6" font-size="16.2" fill="#1a1a6a" textLength="39.7" lengthAdjust="spacingAndGlyphs" >1000</text>
<text x="1140.8" y="435.5" font-size="25.1" fill="#4b0a6e" textLength="67.8" lengthAdjust="spacingAndGlyphs" >KTIM</text>
<rect x="1071" y="441.7" width="208" height="5.7" fill="#4b0a6e"/>
<text x="1073" y="462.4" font-size="15.5" fill="#4b0a6e" textLength="207" lengthAdjust="spacingAndGlyphs" >0.001 permeability 1000</text>
<text x="1073" y="462.4" font-size="15.5" fill="#5a2a7a" textLength="215" lengthAdjust="spacingAndGlyphs" opacity="0.55">Cases permmeability KTIM</text>
<g fill="none" stroke="#666" stroke-width="1.05" vector-effect="non-scaling-stroke" stroke-linecap="round" stroke-linejoin="round" ><path vector-effect="non-scaling-stroke" transform="translate(1307.90,349.90) scale(21.1685,21.0000)" d="M0,0 L0.62,0 M0.31,0 L0.31,1"/><path vector-effect="non-scaling-stroke" transform="translate(1327.38,349.90) scale(21.1685,21.0000)" d="M0.9,0.5 A0.45,0.5 0 1,1 0,0.5 A0.45,0.5 0 1,1 0.9,0.5"/><path vector-effect="non-scaling-stroke" transform="translate(1352.78,349.90) scale(21.1685,21.0000)" d="M0,1 L0,0 L0.36,0 C0.66,0 0.66,0.52 0.36,0.52 L0,0.52"/><path vector-effect="non-scaling-stroke" transform="translate(1372.25,349.90) scale(21.1685,21.0000)" d="M0.62,0.16 C0.52,-0.02 0.12,-0.04 0.05,0.2 C-0.02,0.46 0.64,0.44 0.64,0.72 C0.64,1.04 0.1,1.04 0,0.84"/></g>
<g clip-path="url(#cb1)">
<rect x="79" y="481" width="209" height="1425" fill="url(#cal)"/>
<polygon points="79,481 241.7,481 241.7,482.3 253.6,490.2 245.7,494.9 226,502 252,506 229.9,509.9 114.6,517.4 214,521.8 237.8,526.5 257.5,533.6 242.5,539.2 221.2,547 250.4,551.8 253.6,558.1 237.8,564.4 196.7,569.9 229.9,573.9 236.2,577 261.5,584.9 229.9,591.2 262.3,597.6 214.1,607 237.8,613.4 249.6,618.9 225.1,627.6 231.5,633.9 192,641.8 237,644.1 242.5,649.7 229.9,657.6 239.3,665.5 236.2,673.3 247.2,681.2 229.9,685.2 282,689.1 250.4,695.5 223.6,703.3 229.9,708.9 252,714.4 265.4,718.7 247.2,725.8 258.3,729 242.5,734.5 263.8,743.2 234.6,748.7 269.3,755.8 244,762.9 258.3,766.8 229.9,772.4 245.7,776.3 214.1,790.5 229.9,804.7 215.7,811 229.9,814.2 151,818.9 108.3,822.1 135.2,827.6 138.3,833.1 165.1,836.3 132,839.5 79,845.8" fill="url(#dol)" stroke="#000" stroke-width="2.8" stroke-linejoin="round"/>
<polygon points="79,889 102,889.2 159.6,893.9 79,910.5" fill="url(#dol)" stroke="#000" stroke-width="2.8" stroke-linejoin="round"/>
<polygon points="79,959.4 103.6,959.4 132,961.8 138.3,965.8 182.5,972.1 106.7,981.6 79,981.6" fill="url(#dol)" stroke="#000" stroke-width="2.8" stroke-linejoin="round"/>
<polygon points="79,1003.9 92.5,1003.9 189.6,1014.2 79,1027.6" fill="url(#dol)" stroke="#000" stroke-width="2.8" stroke-linejoin="round"/>
<polygon points="79,1149.2 93.3,1149.2 166.7,1156.3 233,1161 220.4,1165 187.2,1172.1 263,1176.8 229.9,1180 198.3,1190.2 231.5,1199.7 241.7,1206 127.3,1213.1 125.7,1217 95.7,1227.3 100.4,1232 199.9,1242.3 113,1250.2 119.4,1257.3 210.9,1266.8 218.8,1273.1 103.6,1281 127.3,1292.1 109.9,1296.3 111.5,1299.5 158.8,1308.2 127.3,1314.5 139.9,1319.2 125.7,1324 150.9,1328.7 79,1335" fill="url(#dol)" stroke="#000" stroke-width="2.8" stroke-linejoin="round"/>
<polygon points="79,1341.3 97.3,1344.5 100.4,1349.2 166.7,1357.9 255.1,1375.3 229.9,1383.1 188.8,1389.5 79,1399" fill="url(#dol)" stroke="#000" stroke-width="2.8" stroke-linejoin="round"/>
<polygon points="79,1405.3 97.3,1410 147.8,1419.5 122.5,1427.4 125.7,1435.2 171.5,1441.6 157.3,1445.5 196.7,1455.8 198.3,1465.2 171.5,1470 220.4,1476.3 103.6,1482.6 79,1482.6" fill="url(#dol)" stroke="#000" stroke-width="2.8" stroke-linejoin="round"/>
<polygon points="79,1596.6 108.3,1596.6 135.2,1606 207.8,1614 232.2,1621 195.1,1626.6 151,1629 83,1632.9 113,1639.2 83,1646.3 92.5,1655 151,1662.1 160.4,1668.4 163.6,1674.7 98.8,1684.2 79,1684.2" fill="url(#dol)" stroke="#000" stroke-width="2.8" stroke-linejoin="round"/>
<polygon points="79,578.6 119,579.4 130,581 124,584.6 79,592.8" fill="url(#anh)" stroke="#000" stroke-width="1.6"/>
<polygon points="79,643.4 133.6,643.4 79,649.7" fill="url(#anh)" stroke="#000" stroke-width="1.6"/>
<polygon points="79,686.8 111.5,685.3 144.6,689.3 79,694.7" fill="url(#anh)" stroke="#000" stroke-width="1.6"/>
<polygon points="79,1175.2 125.7,1176.5 79,1178.4" fill="url(#anh)" stroke="#000" stroke-width="1.6"/>
<polygon points="79,1205.2 110.7,1206.8 79,1208.4" fill="url(#anh)" stroke="#000" stroke-width="1.6"/>
<polygon points="288,481 273.6,481 273.6,481.8 271.7,489.3 273.6,499.3 277.4,504.3 281.1,511.8 284.2,519.4 285.5,528.1 287.4,531.9 288,532" fill="#fff" stroke="#000" stroke-width="2"/>
<polygon points="288,548 285.8,548.2 283.9,548.6 282.3,549.3 281.3,550.2 281,551.2 281.3,552.2 282.3,553.1 283.9,553.8 285.8,554.2 288,554.4" fill="#fff" stroke="#000" stroke-width="2"/>
<polygon points="288,559.5 284.9,559.9 282.1,560.9 279.9,562.6 278.5,564.7 278,567 278.5,569.3 279.9,571.4 282.1,573.1 284.9,574.1 288,574.5" fill="#fff" stroke="#000" stroke-width="2"/>
<polygon points="288,589.5 285.7,589.8 283.6,590.6 281.9,591.8 280.9,593.4 280.5,595.1 280.9,596.9 281.9,598.5 283.6,599.7 285.7,600.5 288,600.8" fill="#fff" stroke="#000" stroke-width="2"/>
<polygon points="288,613.3 285.3,613.5 282.8,614.1 280.9,615.1 279.6,616.3 279.2,617.7 279.6,619.1 280.9,620.3 282.8,621.3 285.3,621.9 288,622.1" fill="#fff" stroke="#000" stroke-width="2"/>
<polygon points="288,630.9 286.1,631.1 284.3,631.9 282.9,633 282,634.4 281.7,635.9 282,637.4 282.9,638.8 284.3,639.9 286.1,640.7 288,640.9" fill="#fff" stroke="#000" stroke-width="2"/>
<polygon points="288,651 286.5,651.2 285.1,651.6 284,652.3 283.2,653.1 283,654.1 283.2,655.1 284,655.9 285.1,656.6 286.5,657 288,657.2" fill="#fff" stroke="#000" stroke-width="2"/>
<polygon points="288,668 286.9,668.1 285.9,668.6 285.2,669.2 284.7,670.1 284.5,671 284.7,671.9 285.2,672.8 285.9,673.4 286.9,673.9 288,674" fill="#fff" stroke="#000" stroke-width="2"/>
<polygon points="288,700 287.1,700.1 286.2,700.5 285.6,701 285.1,701.7 285,702.5 285.1,703.3 285.6,704 286.2,704.5 287.1,704.9 288,705" fill="#fff" stroke="#000" stroke-width="2"/>
<polygon points="288,755 282,757 279,763 276.5,770 275.5,776.5 278,782 282,785.2 288,785.5" fill="#fff" stroke="#000" stroke-width="2"/>
<polygon points="288,792.7 285.8,793 283.9,794 282.3,795.5 281.3,797.5 281,799.6 281.3,801.7 282.3,803.7 283.9,805.2 285.8,806.2 288,806.5" fill="#fff" stroke="#000" stroke-width="2"/>
<polygon points="288,931.8 285.7,932.1 283.6,933 281.9,934.4 280.9,936.1 280.5,938 280.9,940 281.9,941.7 283.6,943.1 285.7,944 288,944.3" fill="#fff" stroke="#000" stroke-width="2"/>
<polygon points="288,973.8 285.7,974.2 283.6,975.2 281.9,976.9 280.9,979 280.5,981.3 280.9,983.6 281.9,985.7 283.6,987.4 285.7,988.4 288,988.8" fill="#fff" stroke="#000" stroke-width="2"/>
<polygon points="288,1042.7 284.2,1045.2 283.6,1056.5 274.8,1060.3 273,1069 277.4,1076.6 279.2,1082.8 283.6,1091.6 273.6,1101.6 272.3,1109.1 269.8,1117.9 271.7,1128 274.8,1138 281.1,1146.7 286.1,1155.5 288,1156" fill="#fff" stroke="#000" stroke-width="2"/>
<polygon points="288,1158 284.3,1158.4 281,1159.4 278.4,1161.1 276.7,1163.2 276.1,1165.5 276.7,1167.8 278.4,1169.9 281,1171.6 284.3,1172.6 288,1173" fill="#fff" stroke="#000" stroke-width="2"/>
<polygon points="288,1181.3 283.9,1181.8 280.2,1183.3 277.3,1185.7 275.4,1188.7 274.8,1191.9 275.4,1195.2 277.3,1198.2 280.2,1200.6 283.9,1202.1 288,1202.6" fill="#fff" stroke="#000" stroke-width="2"/>
<polygon points="288,1211 287,1211.1 286.2,1211.4 285.5,1211.8 285.1,1212.4 284.9,1213 285.1,1213.6 285.5,1214.2 286.2,1214.6 287,1214.9 288,1215" fill="#fff" stroke="#000" stroke-width="2"/>
<polygon points="288,1222.6 285.5,1223.3 283.2,1225.4 281.4,1228.6 280.3,1232.6 279.9,1237 280.3,1241.5 281.4,1245.5 283.2,1248.7 285.5,1250.8 288,1251.5" fill="#fff" stroke="#000" stroke-width="2"/>
<polygon points="288,1261.5 285.3,1262.5 282.8,1265.6 280.9,1270.3 279.6,1276.2 279.2,1282.8 279.6,1289.3 280.9,1295.2 282.8,1299.9 285.3,1303 288,1304" fill="#fff" stroke="#000" stroke-width="2"/>
<polygon points="288,1324 285.7,1324.2 283.6,1324.7 281.9,1325.6 280.9,1326.7 280.5,1327.8 280.9,1329 281.9,1330.1 283.6,1331 285.7,1331.5 288,1331.7" fill="#fff" stroke="#000" stroke-width="2"/>
<polygon points="288,1353 279.2,1353.5 279.9,1365.5 273.6,1375.5 276.1,1390.6 282.4,1398 283,1401.3 288,1402" fill="#fff" stroke="#000" stroke-width="2"/>
<polygon points="288,1407.5 283.9,1408 280.2,1409.5 277.3,1411.9 275.4,1414.9 274.8,1418.1 275.4,1421.4 277.3,1424.4 280.2,1426.8 283.9,1428.3 288,1428.8" fill="#fff" stroke="#000" stroke-width="2"/>
<polygon points="288,1433.5 284.9,1433.9 276.1,1440.1 274.2,1456.4 281.1,1470.2 279.9,1484 278.6,1490.3 281.1,1502.8 286.1,1509 288,1509.5" fill="#fff" stroke="#000" stroke-width="2"/>
<polygon points="288,1525.3 286.5,1525.9 285.1,1527.5 284,1530 283.2,1533.1 283,1536.6 283.2,1540.2 284,1543.3 285.1,1545.8 286.5,1547.4 288,1548" fill="#fff" stroke="#000" stroke-width="2"/>
<polygon points="288,1593 286.6,1593.2 285.4,1594 284.4,1595.1 283.8,1596.5 283.6,1598 283.8,1599.5 284.4,1600.9 285.4,1602 286.6,1602.8 288,1603" fill="#fff" stroke="#000" stroke-width="2"/>
<polygon points="288,1640 286.5,1640.2 285.1,1640.7 284,1641.5 283.2,1642.6 283,1643.8 283.2,1644.9 284,1646 285.1,1646.8 286.5,1647.3 288,1647.5" fill="#fff" stroke="#000" stroke-width="2"/>
<polygon points="288,1675 286.9,1675.1 285.9,1675.6 285.2,1676.2 284.7,1677.1 284.5,1678 284.7,1678.9 285.2,1679.8 285.9,1680.4 286.9,1680.9 288,1681" fill="#fff" stroke="#000" stroke-width="2"/>
<polygon points="288,1838 286.8,1838.2 285.6,1838.7 284.8,1839.5 284.2,1840.6 284,1841.8 284.2,1842.9 284.8,1844 285.6,1844.8 286.8,1845.3 288,1845.5" fill="#fff" stroke="#000" stroke-width="2"/>
<polygon points="288,1848 286.8,1848.2 285.6,1848.7 284.8,1849.5 284.2,1850.6 284,1851.8 284.2,1852.9 284.8,1854 285.6,1854.8 286.8,1855.3 288,1855.5" fill="#fff" stroke="#000" stroke-width="2"/>
<polygon points="288,1875.2 269,1879.5 282.5,1888.6 273.3,1898.5 273.3,1906 288,1906" fill="#c8c8c8" stroke="#000" stroke-width="2"/>
</g>
<rect x="293" y="1002.1" width="14" height="6.8" fill="#000"/>
<text transform="translate(319.5,1013.4) scale(1.17,1)" x="0" y="0" font-size="28.4" font-weight="bold" fill="#000" textLength="74" lengthAdjust="spacing">3200</text>
<rect x="293" y="1787.2" width="14" height="6.8" fill="#000"/>
<text transform="translate(319.5,1799) scale(1.17,1)" x="0" y="0" font-size="29.9" font-weight="bold" fill="#000" textLength="74" lengthAdjust="spacing">3300</text>
<g clip-path="url(#cb3)">
<rect x="440.4" y="481" width="2.6" height="1425" fill="#c0c0c0"/>
<rect x="462" y="481" width="2.6" height="1425" fill="#c0c0c0"/>
<rect x="483.6" y="481" width="2.6" height="1425" fill="#c0c0c0"/>
<rect x="505.2" y="481" width="2.6" height="1425" fill="#c0c0c0"/>
<rect x="526.8" y="481" width="2.6" height="1425" fill="#c0c0c0"/>
<rect x="548.4" y="481" width="2.6" height="1425" fill="#c0c0c0"/>
<rect x="570" y="481" width="2.6" height="1425" fill="#c0c0c0"/>
<rect x="591.6" y="481" width="2.6" height="1425" fill="#c0c0c0"/>
<rect x="613.2" y="481" width="2.6" height="1425" fill="#c0c0c0"/>
<rect x="424" y="493.8" width="208" height="2.6" fill="#c0c0c0"/>
<rect x="424" y="533.1" width="208" height="2.6" fill="#c0c0c0"/>
<rect x="424" y="572.3" width="208" height="2.6" fill="#c0c0c0"/>
<rect x="424" y="610.4" width="208" height="5" fill="#c0c0c0"/>
<rect x="424" y="650.9" width="208" height="2.6" fill="#c0c0c0"/>
<rect x="424" y="690.1" width="208" height="2.6" fill="#c0c0c0"/>
<rect x="424" y="729.4" width="208" height="2.6" fill="#c0c0c0"/>
<rect x="424" y="768.6" width="208" height="2.6" fill="#c0c0c0"/>
<rect x="424" y="807.9" width="208" height="2.6" fill="#c0c0c0"/>
<rect x="424" y="847.2" width="208" height="2.6" fill="#c0c0c0"/>
<rect x="424" y="886.4" width="208" height="2.6" fill="#c0c0c0"/>
<rect x="424" y="925.7" width="208" height="2.6" fill="#c0c0c0"/>
<rect x="424" y="964.9" width="208" height="2.6" fill="#c0c0c0"/>
<rect x="424" y="1003" width="208" height="5" fill="#c0c0c0"/>
<rect x="424" y="1043.5" width="208" height="2.6" fill="#c0c0c0"/>
<rect x="424" y="1082.7" width="208" height="2.6" fill="#c0c0c0"/>
<rect x="424" y="1122" width="208" height="2.6" fill="#c0c0c0"/>
<rect x="424" y="1161.2" width="208" height="2.6" fill="#c0c0c0"/>
<rect x="424" y="1200.5" width="208" height="2.6" fill="#c0c0c0"/>
<rect x="424" y="1239.8" width="208" height="2.6" fill="#c0c0c0"/>
<rect x="424" y="1279" width="208" height="2.6" fill="#c0c0c0"/>
<rect x="424" y="1318.3" width="208" height="2.6" fill="#c0c0c0"/>
<rect x="424" y="1357.5" width="208" height="2.6" fill="#c0c0c0"/>
<rect x="424" y="1395.6" width="208" height="5" fill="#c0c0c0"/>
<rect x="424" y="1436.1" width="208" height="2.6" fill="#c0c0c0"/>
<rect x="424" y="1475.3" width="208" height="2.6" fill="#c0c0c0"/>
<rect x="424" y="1514.6" width="208" height="2.6" fill="#c0c0c0"/>
<rect x="424" y="1553.8" width="208" height="2.6" fill="#c0c0c0"/>
<rect x="424" y="1593.1" width="208" height="2.6" fill="#c0c0c0"/>
<rect x="424" y="1632.4" width="208" height="2.6" fill="#c0c0c0"/>
<rect x="424" y="1671.6" width="208" height="2.6" fill="#c0c0c0"/>
<rect x="424" y="1710.9" width="208" height="2.6" fill="#c0c0c0"/>
<rect x="424" y="1750.1" width="208" height="2.6" fill="#c0c0c0"/>
<rect x="424" y="1788.2" width="208" height="5" fill="#c0c0c0"/>
<rect x="424" y="1828.7" width="208" height="2.6" fill="#c0c0c0"/>
<rect x="424" y="1867.9" width="208" height="2.6" fill="#c0c0c0"/>
<polygon points="424,481 424,481 424,490 424,500 424,507 429,510 429,517 424,525 424,540 424,546 424,552 424,560 424,570 424,574 424,608 424,612 424,626 424,630 424,654 424,658 424,672 424,676 424,764 424,768 424,780 424,786 424,789 424,804 424,808 424,974 430,976 430,986 424,990 424,1042 428,1046 430,1058.7 431,1073.6 430,1081.7 429,1090.8 434,1096 438,1101.2 439,1121.8 437,1133.3 431,1139 430,1150.5 424,1154 424,1158 426,1162 428,1167.8 424,1171 424,1180 430,1181.5 430,1195.3 430,1200 428,1238 428,1240 428,1248 428,1250 440,1356 440,1360 438,1372 435,1385 433,1388 438,1410 440,1425 447,1435 446,1450 437,1460 436,1490 433,1500 436,1510 436,1555 429,1560 427,1572 426,1640 424,1650 424,1906 424,1906" fill="#b0e6ea"/>
<polygon points="424,481 424,490 424,500 424,507 429,510 429,517 424,525 424,540 424,546 424,552 424,560 424,570 424,574 424,608 424,612 424,626 424,630 424,654 424,658 424,672 424,676 424,764 424,768 424,780 424,786 424,789 424,804 424,808 424,974 430,976 430,986 424,990 424,1042 428,1046 430,1058.7 431,1073.6 430,1081.7 429,1090.8 434,1096 438,1101.2 439,1121.8 437,1133.3 431,1139 430,1150.5 424,1154 424,1158 426,1162 428,1167.8 424,1171 424,1180 430,1181.5 430,1195.3 430,1200 428,1238 428,1240 428,1248 428,1250 440,1356 440,1360 438,1372 435,1385 433,1388 438,1410 440,1425 447,1435 446,1450 437,1460 436,1490 433,1500 436,1510 436,1555 429,1560 427,1572 426,1640 424,1650 424,1906 424,1906 424,1650 426,1640 427,1572 429,1560 436,1555 437,1510 434,1500 437,1490 438,1460 447,1450 449,1435 442,1425 440,1410 433,1388 448,1385 456,1372 452,1360 440,1356 428,1250 438,1248 440,1240 428,1238 430,1200 447,1195.3 445,1181.5 424,1180 424,1171 448,1167.8 450,1162 446,1158 430,1154 440,1150.5 445,1139 450,1133.3 458,1121.8 458,1101.2 452,1096 440,1090.8 445,1081.7 452,1073.6 457,1058.7 440,1046 424,1042 424,990 436,986 437,976 424,974 424,808 436,804 437,789 424,786 440,780 443,768 424,764 424,676 432,672 434,658 424,654 424,630 438,626 439,612 424,608 424,574 436,570 440,560 437,552 424,546 431,540 432,525 432,517 432,510 448,507 455,500 460,490 462,481" fill="#2a9a12"/>
<polyline points="462,481 460,490 455,500 448,507 432,510 432,517 432,525 431,540" fill="none" stroke="#303030" stroke-width="2.8" stroke-linejoin="round"/>
<polyline points="437,552 440,560 436,570" fill="none" stroke="#303030" stroke-width="2.8" stroke-linejoin="round"/>
<polyline points="439,612 438,626" fill="none" stroke="#303030" stroke-width="2.8" stroke-linejoin="round"/>
<polyline points="434,658 432,672" fill="none" stroke="#303030" stroke-width="2.8" stroke-linejoin="round"/>
<polyline points="443,768 440,780" fill="none" stroke="#303030" stroke-width="2.8" stroke-linejoin="round"/>
<polyline points="437,789 436,804" fill="none" stroke="#303030" stroke-width="2.8" stroke-linejoin="round"/>
<polyline points="437,976 436,986" fill="none" stroke="#303030" stroke-width="2.8" stroke-linejoin="round"/>
<polyline points="440,1046 457,1058.7 452,1073.6 445,1081.7 440,1090.8 452,1096 458,1101.2 458,1121.8 450,1133.3 445,1139 440,1150.5 430,1154 446,1158 450,1162 448,1167.8" fill="none" stroke="#303030" stroke-width="2.8" stroke-linejoin="round"/>
<polyline points="445,1181.5 447,1195.3" fill="none" stroke="#303030" stroke-width="2.8" stroke-linejoin="round"/>
<polyline points="440,1240 438,1248" fill="none" stroke="#303030" stroke-width="2.8" stroke-linejoin="round"/>
<polyline points="452,1360 456,1372 448,1385" fill="none" stroke="#303030" stroke-width="2.8" stroke-linejoin="round"/>
<polyline points="440,1410 442,1425 449,1435 447,1450 438,1460 437,1490 434,1500 437,1510" fill="none" stroke="#303030" stroke-width="2.8" stroke-linejoin="round"/>
<polyline points="429,510 429,517" fill="none" stroke="#111" stroke-width="1.8" stroke-linejoin="round"/>
<polyline points="430,976 430,986" fill="none" stroke="#111" stroke-width="1.8" stroke-linejoin="round"/>
<polyline points="428,1046 430,1058.7 431,1073.6 430,1081.7 429,1090.8 434,1096 438,1101.2 439,1121.8 437,1133.3 431,1139 430,1150.5" fill="none" stroke="#111" stroke-width="1.8" stroke-linejoin="round"/>
<polyline points="426,1162 428,1167.8" fill="none" stroke="#111" stroke-width="1.8" stroke-linejoin="round"/>
<polyline points="430,1181.5 430,1195.3 430,1200 428,1238 428,1240 428,1248 428,1250 440,1356 440,1360 438,1372 435,1385 433,1388 438,1410 440,1425 447,1435 446,1450 437,1460 436,1490 433,1500 436,1510 436,1555 429,1560 427,1572 426,1640" fill="none" stroke="#111" stroke-width="1.8" stroke-linejoin="round"/>
<polyline points="623.6,481 623.6,482.3 614.2,507.3 535.9,515.1 611,526.1 528,538.6 528,544.9 614.2,551.2 595.4,555.9 620.4,566.8 532.7,582.5 615.7,595 528,606 618.9,616.9 528,626.3 529.6,632.6 611,638.9 546.8,643.6 612.6,652.9 564.1,660.8 598.5,665.5 576.6,673.3 528,684.3 529.6,695.2 590.7,701.5 528,706.2 528,740.6 550,745.3 601.6,753.2 582.9,757.9 620.4,764.1 622,774.7 614.2,782.5 528,787.2 528,790.4 614.2,796.6 614.2,801.3 528,809.1 529.6,810.7 567.2,813.8 528,820.1 528,870.2 542.1,873.4 528,876.5 528,929.7 575,937.6 528,945.4 528,973.6 598.5,979.8 598.5,981.4 529.6,990.8 528,1042.5 556.2,1047.2 607.9,1059.7 606.3,1060 589.1,1072.5 601.6,1074.1 578.2,1091.3 592.3,1100.7 576.6,1111.7 592.3,1119.5 575,1130.5 601.6,1141.4 571.9,1146.1 564.1,1155.5 620.4,1163.4 528,1175.9 600.1,1183.7 592.3,1193.1 623.6,1197.8 528,1204.1 529.6,1210.3 575,1215 545.3,1229.1 593.8,1241.6 528,1254.2 529.6,1262 559.4,1266.7 570.3,1290.2 528,1304.3 528,1323.1 582.9,1329.3 528,1332.5 528,1357.5 528,1352.3 570.3,1354.7 589.1,1364.1 623.6,1371.9 618.9,1381.3 556.2,1387.6 573.5,1393.8 528,1400.1 529.6,1409.5 579.7,1418.9 567.2,1426.7 528,1431.4 529.6,1437.7 560.9,1451.8 535.9,1454.9 573.5,1459.6 542.1,1469 568.8,1475.3 539,1487.8 560.9,1500.3 528,1506.6 528,1534.8 531.2,1542.6 528,1545.7 528,1594.3 540.6,1597.4 528,1600.5 528,1622.5 550,1622.5 528,1625.6 528.5,1620 528.5,1734.7 551.8,1737.8 584.3,1742.5 528.5,1745.6 528.5,1758 598.3,1761.1 596.7,1765.7 528.5,1778.1 528.5,1809.1 561.1,1812.2 528.5,1820 565.7,1827.8 537.8,1832.4 573.5,1837.1 528.5,1838.6 528.5,1847.9 575,1847.9 528.5,1851 528.5,1863.4 579.7,1868.1 528.5,1874.3 528.5,1909.9 528.5,1906" fill="none" stroke="#12128c" stroke-width="1.7" stroke-dasharray="1.7 1.5"/>
<circle cx="459.1" cy="485.4" r="3.8" fill="#f00000"/>
<circle cx="457.7" cy="481.2" r="3.8" fill="#f00000"/>
<circle cx="460.4" cy="480.3" r="3.8" fill="#f00000"/>
<circle cx="485.8" cy="489.3" r="3.8" fill="#f00000"/>
<circle cx="486.1" cy="487.7" r="3.8" fill="#f00000"/>
<circle cx="482.2" cy="489.4" r="3.8" fill="#f00000"/>
<circle cx="451.3" cy="493.2" r="3.8" fill="#f00000"/>
<circle cx="447.6" cy="492.4" r="3.8" fill="#f00000"/>
<circle cx="447.9" cy="488.3" r="3.8" fill="#f00000"/>
<circle cx="443.5" cy="499.5" r="3.8" fill="#f00000"/>
<circle cx="442.9" cy="503.4" r="3.8" fill="#f00000"/>
<circle cx="440.5" cy="496.2" r="3.8" fill="#f00000"/>
<circle cx="454.5" cy="502.6" r="3.8" fill="#f00000"/>
<circle cx="455.5" cy="508" r="3.8" fill="#f00000"/>
<circle cx="455.1" cy="501.4" r="3.8" fill="#f00000"/>
<circle cx="457.6" cy="507.3" r="3.8" fill="#f00000"/>
<circle cx="461.4" cy="501.9" r="3.8" fill="#f00000"/>
<circle cx="460.4" cy="504.8" r="3.8" fill="#f00000"/>
<circle cx="432.5" cy="513.6" r="3.8" fill="#f00000"/>
<circle cx="429.7" cy="509" r="3.8" fill="#f00000"/>
<circle cx="431" cy="517.4" r="3.8" fill="#f00000"/>
<circle cx="438.8" cy="519.8" r="3.8" fill="#f00000"/>
<circle cx="436.2" cy="520.8" r="3.8" fill="#f00000"/>
<circle cx="439.9" cy="518.3" r="3.8" fill="#f00000"/>
<circle cx="445.1" cy="526.1" r="3.8" fill="#f00000"/>
<circle cx="445.4" cy="520.9" r="3.8" fill="#f00000"/>
<circle cx="441.5" cy="522.6" r="3.8" fill="#f00000"/>
<circle cx="449.8" cy="533.9" r="3.8" fill="#f00000"/>
<circle cx="451.2" cy="533.1" r="3.8" fill="#f00000"/>
<circle cx="448.3" cy="535" r="3.8" fill="#f00000"/>
<circle cx="429.4" cy="538.6" r="3.8" fill="#f00000"/>
<circle cx="429" cy="536.2" r="3.8" fill="#f00000"/>
<circle cx="431.8" cy="541" r="3.8" fill="#f00000"/>
<circle cx="435.7" cy="541.8" r="3.8" fill="#f00000"/>
<circle cx="433.6" cy="542.7" r="3.8" fill="#f00000"/>
<circle cx="435.9" cy="546.3" r="3.8" fill="#f00000"/>
<circle cx="446.6" cy="551.2" r="3.8" fill="#f00000"/>
<circle cx="448.5" cy="548.6" r="3.8" fill="#f00000"/>
<circle cx="450.5" cy="546.6" r="3.8" fill="#f00000"/>
<circle cx="452.9" cy="554.3" r="3.8" fill="#f00000"/>
<circle cx="452.2" cy="557.4" r="3.8" fill="#f00000"/>
<circle cx="450.1" cy="554.2" r="3.8" fill="#f00000"/>
<circle cx="434.1" cy="557.4" r="3.8" fill="#f00000"/>
<circle cx="430.4" cy="559.4" r="3.8" fill="#f00000"/>
<circle cx="436.2" cy="558.3" r="3.8" fill="#f00000"/>
<circle cx="460.7" cy="563.7" r="3.8" fill="#f00000"/>
<circle cx="463.7" cy="561.5" r="3.8" fill="#f00000"/>
<circle cx="462.3" cy="564.8" r="3.8" fill="#f00000"/>
<circle cx="467" cy="568.4" r="3.8" fill="#f00000"/>
<circle cx="467.6" cy="567.9" r="3.8" fill="#f00000"/>
<circle cx="469.7" cy="573.7" r="3.8" fill="#f00000"/>
<circle cx="451.3" cy="573.1" r="3.8" fill="#f00000"/>
<circle cx="451.1" cy="575.1" r="3.8" fill="#f00000"/>
<circle cx="447.8" cy="575.5" r="3.8" fill="#f00000"/>
<circle cx="429.4" cy="577.8" r="3.8" fill="#f00000"/>
<circle cx="430.6" cy="583.7" r="3.8" fill="#f00000"/>
<circle cx="432" cy="575.2" r="3.8" fill="#f00000"/>
<circle cx="441.9" cy="584" r="3.8" fill="#f00000"/>
<circle cx="441" cy="586.1" r="3.8" fill="#f00000"/>
<circle cx="438.1" cy="583.6" r="3.8" fill="#f00000"/>
<circle cx="457.6" cy="591.9" r="3.8" fill="#f00000"/>
<circle cx="454.9" cy="587.3" r="3.8" fill="#f00000"/>
<circle cx="454.1" cy="595.1" r="3.8" fill="#f00000"/>
<circle cx="427.8" cy="595" r="3.8" fill="#f00000"/>
<circle cx="426" cy="592" r="3.8" fill="#f00000"/>
<circle cx="427" cy="599.5" r="3.8" fill="#f00000"/>
<circle cx="440.4" cy="598.1" r="3.8" fill="#f00000"/>
<circle cx="437" cy="597.5" r="3.8" fill="#f00000"/>
<circle cx="440.8" cy="602.7" r="3.8" fill="#f00000"/>
<circle cx="429.4" cy="604.4" r="3.8" fill="#f00000"/>
<circle cx="431.9" cy="608.8" r="3.8" fill="#f00000"/>
<circle cx="427.6" cy="603.4" r="3.8" fill="#f00000"/>
<circle cx="449.8" cy="613.8" r="3.8" fill="#f00000"/>
<circle cx="448.6" cy="618.4" r="3.8" fill="#f00000"/>
<circle cx="453.4" cy="609.6" r="3.8" fill="#f00000"/>
<circle cx="462.3" cy="616.9" r="3.8" fill="#f00000"/>
<circle cx="459.7" cy="613.7" r="3.8" fill="#f00000"/>
<circle cx="460.1" cy="616.8" r="3.8" fill="#f00000"/>
<circle cx="435.7" cy="623.2" r="3.8" fill="#f00000"/>
<circle cx="436.4" cy="620.3" r="3.8" fill="#f00000"/>
<circle cx="431.7" cy="622.2" r="3.8" fill="#f00000"/>
<circle cx="451.3" cy="629.5" r="3.8" fill="#f00000"/>
<circle cx="450.3" cy="630.3" r="3.8" fill="#f00000"/>
<circle cx="454.9" cy="631.7" r="3.8" fill="#f00000"/>
<circle cx="454.5" cy="634.2" r="3.8" fill="#f00000"/>
<circle cx="454.6" cy="635.6" r="3.8" fill="#f00000"/>
<circle cx="455.9" cy="628.8" r="3.8" fill="#f00000"/>
<circle cx="427.8" cy="632.6" r="3.8" fill="#f00000"/>
<circle cx="431" cy="636" r="3.8" fill="#f00000"/>
<circle cx="430.8" cy="636.2" r="3.8" fill="#f00000"/>
<circle cx="432.5" cy="640.4" r="3.8" fill="#f00000"/>
<circle cx="431.7" cy="639.2" r="3.8" fill="#f00000"/>
<circle cx="429.4" cy="642" r="3.8" fill="#f00000"/>
<circle cx="443.5" cy="646.7" r="3.8" fill="#f00000"/>
<circle cx="440" cy="641.5" r="3.8" fill="#f00000"/>
<circle cx="441.2" cy="642.6" r="3.8" fill="#f00000"/>
<circle cx="443.5" cy="654.5" r="3.8" fill="#f00000"/>
<circle cx="442.2" cy="649.1" r="3.8" fill="#f00000"/>
<circle cx="439.5" cy="650.3" r="3.8" fill="#f00000"/>
<circle cx="435.7" cy="663.9" r="3.8" fill="#f00000"/>
<circle cx="432.5" cy="662.3" r="3.8" fill="#f00000"/>
<circle cx="431.9" cy="668.4" r="3.8" fill="#f00000"/>
<circle cx="429.4" cy="668.6" r="3.8" fill="#f00000"/>
<circle cx="430.3" cy="664.4" r="3.8" fill="#f00000"/>
<circle cx="427.4" cy="666.8" r="3.8" fill="#f00000"/>
<circle cx="456" cy="676.4" r="3.8" fill="#f00000"/>
<circle cx="454.9" cy="671.9" r="3.8" fill="#f00000"/>
<circle cx="458.8" cy="682.4" r="3.8" fill="#f00000"/>
<circle cx="429.4" cy="681.1" r="3.8" fill="#f00000"/>
<circle cx="429.1" cy="680.9" r="3.8" fill="#f00000"/>
<circle cx="426.1" cy="676.4" r="3.8" fill="#f00000"/>
<circle cx="438.8" cy="689" r="3.8" fill="#f00000"/>
<circle cx="437.5" cy="686.1" r="3.8" fill="#f00000"/>
<circle cx="441.4" cy="684.9" r="3.8" fill="#f00000"/>
<circle cx="432.5" cy="695.2" r="3.8" fill="#f00000"/>
<circle cx="428.7" cy="700.6" r="3.8" fill="#f00000"/>
<circle cx="432.8" cy="691" r="3.8" fill="#f00000"/>
<circle cx="443.5" cy="699.9" r="3.8" fill="#f00000"/>
<circle cx="443.8" cy="694.3" r="3.8" fill="#f00000"/>
<circle cx="443.7" cy="705.7" r="3.8" fill="#f00000"/>
<circle cx="429.4" cy="707.8" r="3.8" fill="#f00000"/>
<circle cx="432.3" cy="710.1" r="3.8" fill="#f00000"/>
<circle cx="427.5" cy="706.2" r="3.8" fill="#f00000"/>
<circle cx="426.3" cy="718.7" r="3.8" fill="#f00000"/>
<circle cx="426" cy="722" r="3.8" fill="#f00000"/>
<circle cx="426.5" cy="722.1" r="3.8" fill="#f00000"/>
<circle cx="429.4" cy="729.7" r="3.8" fill="#f00000"/>
<circle cx="428" cy="726.4" r="3.8" fill="#f00000"/>
<circle cx="431.9" cy="735.5" r="3.8" fill="#f00000"/>
<circle cx="432.5" cy="739.1" r="3.8" fill="#f00000"/>
<circle cx="435.3" cy="742.7" r="3.8" fill="#f00000"/>
<circle cx="435.1" cy="742" r="3.8" fill="#f00000"/>
<circle cx="440.4" cy="754.7" r="3.8" fill="#f00000"/>
<circle cx="438.2" cy="754.9" r="3.8" fill="#f00000"/>
<circle cx="439.2" cy="749.1" r="3.8" fill="#f00000"/>
<circle cx="451.3" cy="762.6" r="3.8" fill="#f00000"/>
<circle cx="447.5" cy="759.9" r="3.8" fill="#f00000"/>
<circle cx="449.4" cy="764.9" r="3.8" fill="#f00000"/>
<circle cx="429.4" cy="765.7" r="3.8" fill="#f00000"/>
<circle cx="433" cy="765.1" r="3.8" fill="#f00000"/>
<circle cx="432.9" cy="771.6" r="3.8" fill="#f00000"/>
<circle cx="457.6" cy="773.5" r="3.8" fill="#f00000"/>
<circle cx="461.2" cy="771.9" r="3.8" fill="#f00000"/>
<circle cx="455.3" cy="770.2" r="3.8" fill="#f00000"/>
<circle cx="467" cy="485.4" r="3.8" fill="#f00000"/>
<circle cx="464.6" cy="481.8" r="3.8" fill="#f00000"/>
<circle cx="468" cy="490.2" r="3.8" fill="#f00000"/>
<circle cx="479.5" cy="488.5" r="3.8" fill="#f00000"/>
<circle cx="482.2" cy="488.3" r="3.8" fill="#f00000"/>
<circle cx="480.7" cy="492.1" r="3.8" fill="#f00000"/>
<circle cx="437.2" cy="507.3" r="3.8" fill="#f00000"/>
<circle cx="433.9" cy="509.2" r="3.8" fill="#f00000"/>
<circle cx="440.5" cy="510.7" r="3.8" fill="#f00000"/>
<circle cx="441.9" cy="543.3" r="3.8" fill="#f00000"/>
<circle cx="443.9" cy="543.1" r="3.8" fill="#f00000"/>
<circle cx="439.4" cy="546.8" r="3.8" fill="#f00000"/>
<circle cx="426.3" cy="548" r="3.8" fill="#f00000"/>
<circle cx="426" cy="551.6" r="3.8" fill="#f00000"/>
<circle cx="430" cy="546.8" r="3.8" fill="#f00000"/>
<circle cx="443.5" cy="563.7" r="3.8" fill="#f00000"/>
<circle cx="442.7" cy="569.1" r="3.8" fill="#f00000"/>
<circle cx="445.3" cy="559.7" r="3.8" fill="#f00000"/>
<circle cx="435.7" cy="570" r="3.8" fill="#f00000"/>
<circle cx="432.7" cy="565.8" r="3.8" fill="#f00000"/>
<circle cx="438.9" cy="573.6" r="3.8" fill="#f00000"/>
<circle cx="426.3" cy="585.6" r="3.8" fill="#f00000"/>
<circle cx="426" cy="589.5" r="3.8" fill="#f00000"/>
<circle cx="430.1" cy="587.5" r="3.8" fill="#f00000"/>
<circle cx="448.2" cy="588.7" r="3.8" fill="#f00000"/>
<circle cx="447" cy="589.3" r="3.8" fill="#f00000"/>
<circle cx="445.2" cy="582.9" r="3.8" fill="#f00000"/>
<circle cx="434.1" cy="610.7" r="3.8" fill="#f00000"/>
<circle cx="437.9" cy="612.5" r="3.8" fill="#f00000"/>
<circle cx="434.3" cy="615.9" r="3.8" fill="#f00000"/>
<circle cx="441.9" cy="632.6" r="3.8" fill="#f00000"/>
<circle cx="441.4" cy="637.1" r="3.8" fill="#f00000"/>
<circle cx="444.5" cy="629.1" r="3.8" fill="#f00000"/>
<circle cx="426.3" cy="651.4" r="3.8" fill="#f00000"/>
<circle cx="426" cy="648.9" r="3.8" fill="#f00000"/>
<circle cx="426" cy="652.4" r="3.8" fill="#f00000"/>
<circle cx="437.2" cy="673.3" r="3.8" fill="#f00000"/>
<circle cx="435.3" cy="672.3" r="3.8" fill="#f00000"/>
<circle cx="434.3" cy="678.2" r="3.8" fill="#f00000"/>
<circle cx="426.3" cy="685.8" r="3.8" fill="#f00000"/>
<circle cx="426" cy="685.3" r="3.8" fill="#f00000"/>
<circle cx="426.9" cy="690.7" r="3.8" fill="#f00000"/>
<circle cx="437.2" cy="706.2" r="3.8" fill="#f00000"/>
<circle cx="436.6" cy="711.2" r="3.8" fill="#f00000"/>
<circle cx="437.2" cy="706.6" r="3.8" fill="#f00000"/>
<circle cx="427.8" cy="742.2" r="3.8" fill="#f00000"/>
<circle cx="428" cy="736.4" r="3.8" fill="#f00000"/>
<circle cx="427.4" cy="738.4" r="3.8" fill="#f00000"/>
<circle cx="435.7" cy="748.5" r="3.8" fill="#f00000"/>
<circle cx="431.7" cy="752.1" r="3.8" fill="#f00000"/>
<circle cx="433" cy="748.2" r="3.8" fill="#f00000"/>
<circle cx="426.3" cy="757.9" r="3.8" fill="#f00000"/>
<circle cx="428.1" cy="758.5" r="3.8" fill="#f00000"/>
<circle cx="426" cy="758.1" r="3.8" fill="#f00000"/>
<circle cx="457.6" cy="774.7" r="3.8" fill="#f00000"/>
<circle cx="458" cy="778.1" r="3.8" fill="#f00000"/>
<circle cx="454.4" cy="775.4" r="3.8" fill="#f00000"/>
<circle cx="429.4" cy="779.4" r="3.8" fill="#f00000"/>
<circle cx="427.4" cy="776.7" r="3.8" fill="#f00000"/>
<circle cx="431.6" cy="779.5" r="3.8" fill="#f00000"/>
<circle cx="438.8" cy="784.1" r="3.8" fill="#f00000"/>
<circle cx="439.3" cy="787.2" r="3.8" fill="#f00000"/>
<circle cx="442.1" cy="783.4" r="3.8" fill="#f00000"/>
<circle cx="451.3" cy="790.4" r="3.8" fill="#f00000"/>
<circle cx="452.2" cy="790.4" r="3.8" fill="#f00000"/>
<circle cx="451.4" cy="792.7" r="3.8" fill="#f00000"/>
<circle cx="445.1" cy="799.8" r="3.8" fill="#f00000"/>
<circle cx="444.7" cy="800.2" r="3.8" fill="#f00000"/>
<circle cx="444.9" cy="805.1" r="3.8" fill="#f00000"/>
<circle cx="434.1" cy="804.5" r="3.8" fill="#f00000"/>
<circle cx="435.7" cy="809" r="3.8" fill="#f00000"/>
<circle cx="437.6" cy="801.6" r="3.8" fill="#f00000"/>
<circle cx="429.4" cy="813.8" r="3.8" fill="#f00000"/>
<circle cx="429.9" cy="819.2" r="3.8" fill="#f00000"/>
<circle cx="432.1" cy="809.5" r="3.8" fill="#f00000"/>
<circle cx="424.7" cy="835.8" r="3.8" fill="#f00000"/>
<circle cx="426" cy="835.1" r="3.8" fill="#f00000"/>
<circle cx="426" cy="832.7" r="3.8" fill="#f00000"/>
<circle cx="427.8" cy="867.1" r="3.8" fill="#f00000"/>
<circle cx="426" cy="869.1" r="3.8" fill="#f00000"/>
<circle cx="430.1" cy="871.9" r="3.8" fill="#f00000"/>
<circle cx="429.4" cy="879.6" r="3.8" fill="#f00000"/>
<circle cx="426.6" cy="882.2" r="3.8" fill="#f00000"/>
<circle cx="430.7" cy="875.3" r="3.8" fill="#f00000"/>
<circle cx="424.7" cy="900" r="3.8" fill="#f00000"/>
<circle cx="427.8" cy="905.6" r="3.8" fill="#f00000"/>
<circle cx="426" cy="905.4" r="3.8" fill="#f00000"/>
<circle cx="429.4" cy="907.8" r="3.8" fill="#f00000"/>
<circle cx="428.6" cy="907.6" r="3.8" fill="#f00000"/>
<circle cx="433.3" cy="911.8" r="3.8" fill="#f00000"/>
<circle cx="431" cy="926.6" r="3.8" fill="#f00000"/>
<circle cx="428.3" cy="925.8" r="3.8" fill="#f00000"/>
<circle cx="431.1" cy="924.7" r="3.8" fill="#f00000"/>
<circle cx="427.8" cy="934.4" r="3.8" fill="#f00000"/>
<circle cx="426" cy="932.2" r="3.8" fill="#f00000"/>
<circle cx="429.6" cy="928.7" r="3.8" fill="#f00000"/>
<circle cx="448.2" cy="939.1" r="3.8" fill="#f00000"/>
<circle cx="448.6" cy="938.4" r="3.8" fill="#f00000"/>
<circle cx="444.3" cy="937.1" r="3.8" fill="#f00000"/>
<circle cx="438.8" cy="942.3" r="3.8" fill="#f00000"/>
<circle cx="439.8" cy="942.4" r="3.8" fill="#f00000"/>
<circle cx="435.3" cy="948.1" r="3.8" fill="#f00000"/>
<circle cx="426.3" cy="946.9" r="3.8" fill="#f00000"/>
<circle cx="428.6" cy="952.6" r="3.8" fill="#f00000"/>
<circle cx="426" cy="944.1" r="3.8" fill="#f00000"/>
<circle cx="440.4" cy="983" r="3.8" fill="#f00000"/>
<circle cx="436.7" cy="986.3" r="3.8" fill="#f00000"/>
<circle cx="438.5" cy="978.5" r="3.8" fill="#f00000"/>
<circle cx="432.5" cy="986.1" r="3.8" fill="#f00000"/>
<circle cx="431.9" cy="991" r="3.8" fill="#f00000"/>
<circle cx="435.1" cy="983.2" r="3.8" fill="#f00000"/>
<circle cx="424.7" cy="993.9" r="3.8" fill="#f00000"/>
<circle cx="426" cy="999" r="3.8" fill="#f00000"/>
<circle cx="426" cy="996.3" r="3.8" fill="#f00000"/>
<circle cx="429.4" cy="1011.2" r="3.8" fill="#f00000"/>
<circle cx="426.1" cy="1005.8" r="3.8" fill="#f00000"/>
<circle cx="430.9" cy="1010.3" r="3.8" fill="#f00000"/>
<circle cx="431" cy="1020.5" r="3.8" fill="#f00000"/>
<circle cx="427.5" cy="1025.8" r="3.8" fill="#f00000"/>
<circle cx="432" cy="1024.2" r="3.8" fill="#f00000"/>
<circle cx="429.4" cy="1028.4" r="3.8" fill="#f00000"/>
<circle cx="426.1" cy="1032.7" r="3.8" fill="#f00000"/>
<circle cx="426" cy="1032.7" r="3.8" fill="#f00000"/>
<circle cx="440.4" cy="1044" r="3.8" fill="#f00000"/>
<circle cx="440" cy="1042.1" r="3.8" fill="#f00000"/>
<circle cx="440.8" cy="1049.2" r="3.8" fill="#f00000"/>
<circle cx="435.7" cy="1053.4" r="3.8" fill="#f00000"/>
<circle cx="433.8" cy="1049" r="3.8" fill="#f00000"/>
<circle cx="435.9" cy="1050.3" r="3.8" fill="#f00000"/>
<circle cx="467" cy="1056.6" r="3.8" fill="#f00000"/>
<circle cx="463.9" cy="1052.5" r="3.8" fill="#f00000"/>
<circle cx="463.4" cy="1053" r="3.8" fill="#f00000"/>
<circle cx="470.1" cy="1066" r="3.8" fill="#f00000"/>
<circle cx="468.6" cy="1063.6" r="3.8" fill="#f00000"/>
<circle cx="472.2" cy="1063.4" r="3.8" fill="#f00000"/>
<circle cx="443.5" cy="779.4" r="3.8" fill="#f00000"/>
<circle cx="443.5" cy="775.5" r="3.8" fill="#f00000"/>
<circle cx="442.3" cy="773.6" r="3.8" fill="#f00000"/>
<circle cx="426.3" cy="795.1" r="3.8" fill="#f00000"/>
<circle cx="426" cy="789.2" r="3.8" fill="#f00000"/>
<circle cx="428.1" cy="795.7" r="3.8" fill="#f00000"/>
<circle cx="429.4" cy="873.4" r="3.8" fill="#f00000"/>
<circle cx="426.9" cy="873" r="3.8" fill="#f00000"/>
<circle cx="432.9" cy="868.6" r="3.8" fill="#f00000"/>
<circle cx="438.8" cy="981.4" r="3.8" fill="#f00000"/>
<circle cx="441.3" cy="980.6" r="3.8" fill="#f00000"/>
<circle cx="438.8" cy="985.4" r="3.8" fill="#f00000"/>
<circle cx="426.3" cy="1017.4" r="3.8" fill="#f00000"/>
<circle cx="426" cy="1017.5" r="3.8" fill="#f00000"/>
<circle cx="427.8" cy="1023.2" r="3.8" fill="#f00000"/>
<circle cx="445.1" cy="1050.3" r="3.8" fill="#f00000"/>
<circle cx="443.8" cy="1054.3" r="3.8" fill="#f00000"/>
<circle cx="446.7" cy="1051.9" r="3.8" fill="#f00000"/>
<circle cx="468.5" cy="1061.6" r="3.8" fill="#f00000"/>
<circle cx="467.8" cy="1059.7" r="3.8" fill="#f00000"/>
<circle cx="465" cy="1057.1" r="3.8" fill="#f00000"/>
<circle cx="471.7" cy="1071" r="3.8" fill="#f00000"/>
<circle cx="468.2" cy="1073.9" r="3.8" fill="#f00000"/>
<circle cx="469.7" cy="1066.9" r="3.8" fill="#f00000"/>
<circle cx="463.8" cy="1077.2" r="3.8" fill="#f00000"/>
<circle cx="460.5" cy="1081.3" r="3.8" fill="#f00000"/>
<circle cx="466.8" cy="1079.3" r="3.8" fill="#f00000"/>
<circle cx="467" cy="1081.9" r="3.8" fill="#f00000"/>
<circle cx="465.2" cy="1078.8" r="3.8" fill="#f00000"/>
<circle cx="465.3" cy="1081.4" r="3.8" fill="#f00000"/>
<circle cx="438.8" cy="1080.4" r="3.8" fill="#f00000"/>
<circle cx="436.1" cy="1079.7" r="3.8" fill="#f00000"/>
<circle cx="436.9" cy="1085.9" r="3.8" fill="#f00000"/>
<circle cx="445.1" cy="1086.6" r="3.8" fill="#f00000"/>
<circle cx="448.8" cy="1087.2" r="3.8" fill="#f00000"/>
<circle cx="443" cy="1092.2" r="3.8" fill="#f00000"/>
<circle cx="454.5" cy="1094.5" r="3.8" fill="#f00000"/>
<circle cx="452.9" cy="1092.7" r="3.8" fill="#f00000"/>
<circle cx="450.5" cy="1093" r="3.8" fill="#f00000"/>
<circle cx="440.4" cy="1097.6" r="3.8" fill="#f00000"/>
<circle cx="440.2" cy="1097.6" r="3.8" fill="#f00000"/>
<circle cx="438" cy="1097.6" r="3.8" fill="#f00000"/>
<circle cx="463.8" cy="1105.4" r="3.8" fill="#f00000"/>
<circle cx="459.9" cy="1102.6" r="3.8" fill="#f00000"/>
<circle cx="460.6" cy="1104.2" r="3.8" fill="#f00000"/>
<circle cx="457.6" cy="1113.2" r="3.8" fill="#f00000"/>
<circle cx="453.9" cy="1107.5" r="3.8" fill="#f00000"/>
<circle cx="456" cy="1110" r="3.8" fill="#f00000"/>
<circle cx="467" cy="1117.9" r="3.8" fill="#f00000"/>
<circle cx="467.7" cy="1118.3" r="3.8" fill="#f00000"/>
<circle cx="469" cy="1119.8" r="3.8" fill="#f00000"/>
<circle cx="476.4" cy="1121.1" r="3.8" fill="#f00000"/>
<circle cx="478.1" cy="1125.6" r="3.8" fill="#f00000"/>
<circle cx="475.5" cy="1119" r="3.8" fill="#f00000"/>
<circle cx="459.1" cy="1125.8" r="3.8" fill="#f00000"/>
<circle cx="463" cy="1121.6" r="3.8" fill="#f00000"/>
<circle cx="460.9" cy="1127.5" r="3.8" fill="#f00000"/>
<circle cx="468.5" cy="1128.9" r="3.8" fill="#f00000"/>
<circle cx="464.9" cy="1132.9" r="3.8" fill="#f00000"/>
<circle cx="471.7" cy="1130.4" r="3.8" fill="#f00000"/>
<circle cx="456" cy="1136.7" r="3.8" fill="#f00000"/>
<circle cx="457.9" cy="1140.5" r="3.8" fill="#f00000"/>
<circle cx="453.1" cy="1137" r="3.8" fill="#f00000"/>
<circle cx="463.8" cy="1141.4" r="3.8" fill="#f00000"/>
<circle cx="463.9" cy="1145.4" r="3.8" fill="#f00000"/>
<circle cx="466.3" cy="1145.3" r="3.8" fill="#f00000"/>
<circle cx="443.5" cy="1146.1" r="3.8" fill="#f00000"/>
<circle cx="444.2" cy="1150.8" r="3.8" fill="#f00000"/>
<circle cx="445" cy="1148.4" r="3.8" fill="#f00000"/>
<circle cx="451.3" cy="1147.7" r="3.8" fill="#f00000"/>
<circle cx="449.2" cy="1142.1" r="3.8" fill="#f00000"/>
<circle cx="448.4" cy="1146" r="3.8" fill="#f00000"/>
<circle cx="429.4" cy="1157.1" r="3.8" fill="#f00000"/>
<circle cx="426.2" cy="1161.1" r="3.8" fill="#f00000"/>
<circle cx="429.9" cy="1158.6" r="3.8" fill="#f00000"/>
<circle cx="437.2" cy="1158.7" r="3.8" fill="#f00000"/>
<circle cx="438.2" cy="1160.8" r="3.8" fill="#f00000"/>
<circle cx="437.1" cy="1152.7" r="3.8" fill="#f00000"/>
<circle cx="454.5" cy="1164.9" r="3.8" fill="#f00000"/>
<circle cx="456.8" cy="1167.9" r="3.8" fill="#f00000"/>
<circle cx="454.5" cy="1165.3" r="3.8" fill="#f00000"/>
<circle cx="463.8" cy="1168" r="3.8" fill="#f00000"/>
<circle cx="465.1" cy="1162.8" r="3.8" fill="#f00000"/>
<circle cx="465.7" cy="1165.1" r="3.8" fill="#f00000"/>
<circle cx="443.5" cy="1172.7" r="3.8" fill="#f00000"/>
<circle cx="440.1" cy="1169.9" r="3.8" fill="#f00000"/>
<circle cx="445.3" cy="1169.2" r="3.8" fill="#f00000"/>
<circle cx="429.4" cy="1179" r="3.8" fill="#f00000"/>
<circle cx="431.3" cy="1184.7" r="3.8" fill="#f00000"/>
<circle cx="429.3" cy="1177.6" r="3.8" fill="#f00000"/>
<circle cx="448.2" cy="1180.6" r="3.8" fill="#f00000"/>
<circle cx="448" cy="1182.8" r="3.8" fill="#f00000"/>
<circle cx="450.3" cy="1182" r="3.8" fill="#f00000"/>
<circle cx="459.1" cy="1185.3" r="3.8" fill="#f00000"/>
<circle cx="460.3" cy="1180.2" r="3.8" fill="#f00000"/>
<circle cx="456.3" cy="1182.3" r="3.8" fill="#f00000"/>
<circle cx="448.2" cy="1193.1" r="3.8" fill="#f00000"/>
<circle cx="450.1" cy="1190.8" r="3.8" fill="#f00000"/>
<circle cx="448.7" cy="1187.3" r="3.8" fill="#f00000"/>
<circle cx="456" cy="1197.8" r="3.8" fill="#f00000"/>
<circle cx="452.5" cy="1195" r="3.8" fill="#f00000"/>
<circle cx="457.4" cy="1200.1" r="3.8" fill="#f00000"/>
<circle cx="460.7" cy="1200.9" r="3.8" fill="#f00000"/>
<circle cx="462.1" cy="1198.4" r="3.8" fill="#f00000"/>
<circle cx="460.8" cy="1200.5" r="3.8" fill="#f00000"/>
<circle cx="426.3" cy="1207.2" r="3.8" fill="#f00000"/>
<circle cx="426" cy="1202.6" r="3.8" fill="#f00000"/>
<circle cx="429.4" cy="1203.6" r="3.8" fill="#f00000"/>
<circle cx="438.8" cy="1207.2" r="3.8" fill="#f00000"/>
<circle cx="442.6" cy="1212.4" r="3.8" fill="#f00000"/>
<circle cx="434.9" cy="1206.7" r="3.8" fill="#f00000"/>
<circle cx="443.5" cy="1215" r="3.8" fill="#f00000"/>
<circle cx="446" cy="1220.6" r="3.8" fill="#f00000"/>
<circle cx="443.1" cy="1212.3" r="3.8" fill="#f00000"/>
<circle cx="429.4" cy="1218.2" r="3.8" fill="#f00000"/>
<circle cx="427.1" cy="1223.5" r="3.8" fill="#f00000"/>
<circle cx="427.1" cy="1219.1" r="3.8" fill="#f00000"/>
<circle cx="435.7" cy="1226" r="3.8" fill="#f00000"/>
<circle cx="432.8" cy="1226.3" r="3.8" fill="#f00000"/>
<circle cx="439.3" cy="1221.6" r="3.8" fill="#f00000"/>
<circle cx="441.9" cy="1229.1" r="3.8" fill="#f00000"/>
<circle cx="444.5" cy="1229.2" r="3.8" fill="#f00000"/>
<circle cx="445" cy="1231.6" r="3.8" fill="#f00000"/>
<circle cx="429.4" cy="1233.8" r="3.8" fill="#f00000"/>
<circle cx="427.2" cy="1238.6" r="3.8" fill="#f00000"/>
<circle cx="429.3" cy="1228.1" r="3.8" fill="#f00000"/>
<circle cx="443.5" cy="1240.1" r="3.8" fill="#f00000"/>
<circle cx="439.5" cy="1240" r="3.8" fill="#f00000"/>
<circle cx="443.1" cy="1237.7" r="3.8" fill="#f00000"/>
<circle cx="445.1" cy="1247.9" r="3.8" fill="#f00000"/>
<circle cx="442.2" cy="1246" r="3.8" fill="#f00000"/>
<circle cx="443.6" cy="1252" r="3.8" fill="#f00000"/>
<circle cx="427.8" cy="1255.7" r="3.8" fill="#f00000"/>
<circle cx="426" cy="1258.7" r="3.8" fill="#f00000"/>
<circle cx="430.5" cy="1251.2" r="3.8" fill="#f00000"/>
<circle cx="438.8" cy="1258.9" r="3.8" fill="#f00000"/>
<circle cx="442.2" cy="1261.4" r="3.8" fill="#f00000"/>
<circle cx="442" cy="1256.4" r="3.8" fill="#f00000"/>
<circle cx="432.5" cy="1266.7" r="3.8" fill="#f00000"/>
<circle cx="431.5" cy="1265.4" r="3.8" fill="#f00000"/>
<circle cx="436.5" cy="1267.8" r="3.8" fill="#f00000"/>
<circle cx="440.4" cy="1268.3" r="3.8" fill="#f00000"/>
<circle cx="439.2" cy="1267.4" r="3.8" fill="#f00000"/>
<circle cx="438.6" cy="1262.8" r="3.8" fill="#f00000"/>
<circle cx="435.7" cy="1279.2" r="3.8" fill="#f00000"/>
<circle cx="432.5" cy="1283.2" r="3.8" fill="#f00000"/>
<circle cx="433.9" cy="1284.5" r="3.8" fill="#f00000"/>
<circle cx="443.5" cy="1288.6" r="3.8" fill="#f00000"/>
<circle cx="441.5" cy="1285.8" r="3.8" fill="#f00000"/>
<circle cx="443.6" cy="1284.9" r="3.8" fill="#f00000"/>
<circle cx="441.9" cy="1294.9" r="3.8" fill="#f00000"/>
<circle cx="440.9" cy="1300.4" r="3.8" fill="#f00000"/>
<circle cx="445" cy="1298.6" r="3.8" fill="#f00000"/>
<circle cx="445.1" cy="1301.2" r="3.8" fill="#f00000"/>
<circle cx="446.1" cy="1306.1" r="3.8" fill="#f00000"/>
<circle cx="448.6" cy="1301.7" r="3.8" fill="#f00000"/>
<circle cx="429.4" cy="1310.5" r="3.8" fill="#f00000"/>
<circle cx="431.2" cy="1305.1" r="3.8" fill="#f00000"/>
<circle cx="431.3" cy="1310" r="3.8" fill="#f00000"/>
<circle cx="426.3" cy="1318.4" r="3.8" fill="#f00000"/>
<circle cx="428.3" cy="1320.1" r="3.8" fill="#f00000"/>
<circle cx="426" cy="1313" r="3.8" fill="#f00000"/>
<circle cx="449.8" cy="1326.2" r="3.8" fill="#f00000"/>
<circle cx="453.2" cy="1321.7" r="3.8" fill="#f00000"/>
<circle cx="449.5" cy="1324.3" r="3.8" fill="#f00000"/>
<circle cx="429.4" cy="1329.3" r="3.8" fill="#f00000"/>
<circle cx="427.8" cy="1332.2" r="3.8" fill="#f00000"/>
<circle cx="433.2" cy="1326.5" r="3.8" fill="#f00000"/>
<circle cx="435.7" cy="1341.9" r="3.8" fill="#f00000"/>
<circle cx="436.9" cy="1339.5" r="3.8" fill="#f00000"/>
<circle cx="436.1" cy="1340.6" r="3.8" fill="#f00000"/>
<circle cx="443.5" cy="1348.1" r="3.8" fill="#f00000"/>
<circle cx="440.8" cy="1344.1" r="3.8" fill="#f00000"/>
<circle cx="441.2" cy="1353" r="3.8" fill="#f00000"/>
<circle cx="426.3" cy="1349.7" r="3.8" fill="#f00000"/>
<circle cx="426.2" cy="1346.3" r="3.8" fill="#f00000"/>
<circle cx="429.5" cy="1355.7" r="3.8" fill="#f00000"/>
<circle cx="449.8" cy="1354.4" r="3.8" fill="#f00000"/>
<circle cx="449.4" cy="1350.1" r="3.8" fill="#f00000"/>
<circle cx="447.3" cy="1349.5" r="3.8" fill="#f00000"/>
<circle cx="426.3" cy="1216.6" r="3.8" fill="#f00000"/>
<circle cx="426" cy="1211.7" r="3.8" fill="#f00000"/>
<circle cx="426" cy="1213.7" r="3.8" fill="#f00000"/>
<circle cx="426.3" cy="1240.1" r="3.8" fill="#f00000"/>
<circle cx="426.8" cy="1244.7" r="3.8" fill="#f00000"/>
<circle cx="428.3" cy="1239" r="3.8" fill="#f00000"/>
<circle cx="429.4" cy="1282.4" r="3.8" fill="#f00000"/>
<circle cx="428.7" cy="1282.7" r="3.8" fill="#f00000"/>
<circle cx="428.4" cy="1280.4" r="3.8" fill="#f00000"/>
<circle cx="426.3" cy="1294.9" r="3.8" fill="#f00000"/>
<circle cx="426" cy="1292.2" r="3.8" fill="#f00000"/>
<circle cx="430" cy="1290.4" r="3.8" fill="#f00000"/>
<circle cx="448.2" cy="1354.7" r="3.8" fill="#f00000"/>
<circle cx="448.2" cy="1356.3" r="3.8" fill="#f00000"/>
<circle cx="451.1" cy="1351.3" r="3.8" fill="#f00000"/>
<circle cx="443.5" cy="1365.7" r="3.8" fill="#f00000"/>
<circle cx="441.7" cy="1362.6" r="3.8" fill="#f00000"/>
<circle cx="442.7" cy="1365" r="3.8" fill="#f00000"/>
<circle cx="463.8" cy="1371.9" r="3.8" fill="#f00000"/>
<circle cx="467.5" cy="1376.1" r="3.8" fill="#f00000"/>
<circle cx="466.8" cy="1366.2" r="3.8" fill="#f00000"/>
<circle cx="477.9" cy="1378.2" r="3.8" fill="#f00000"/>
<circle cx="474.2" cy="1380.7" r="3.8" fill="#f00000"/>
<circle cx="481.1" cy="1377.9" r="3.8" fill="#f00000"/>
<circle cx="434.1" cy="1389.1" r="3.8" fill="#f00000"/>
<circle cx="434.8" cy="1383.2" r="3.8" fill="#f00000"/>
<circle cx="433.2" cy="1394.3" r="3.8" fill="#f00000"/>
<circle cx="438.8" cy="1393.8" r="3.8" fill="#f00000"/>
<circle cx="441.4" cy="1398.1" r="3.8" fill="#f00000"/>
<circle cx="442.6" cy="1390.8" r="3.8" fill="#f00000"/>
<circle cx="429.4" cy="1401.7" r="3.8" fill="#f00000"/>
<circle cx="426.3" cy="1397.5" r="3.8" fill="#f00000"/>
<circle cx="429.6" cy="1403.9" r="3.8" fill="#f00000"/>
<circle cx="443.5" cy="1409.5" r="3.8" fill="#f00000"/>
<circle cx="447" cy="1412.2" r="3.8" fill="#f00000"/>
<circle cx="444.7" cy="1412.7" r="3.8" fill="#f00000"/>
<circle cx="452.9" cy="1414.2" r="3.8" fill="#f00000"/>
<circle cx="452.5" cy="1414.8" r="3.8" fill="#f00000"/>
<circle cx="449.2" cy="1417.6" r="3.8" fill="#f00000"/>
<circle cx="437.2" cy="1420.5" r="3.8" fill="#f00000"/>
<circle cx="435.1" cy="1425.5" r="3.8" fill="#f00000"/>
<circle cx="438.4" cy="1418.1" r="3.8" fill="#f00000"/>
<circle cx="429.4" cy="1431.4" r="3.8" fill="#f00000"/>
<circle cx="426.4" cy="1428.4" r="3.8" fill="#f00000"/>
<circle cx="430.5" cy="1433.8" r="3.8" fill="#f00000"/>
<circle cx="451.3" cy="1434.6" r="3.8" fill="#f00000"/>
<circle cx="448.2" cy="1429.4" r="3.8" fill="#f00000"/>
<circle cx="451.5" cy="1435.6" r="3.8" fill="#f00000"/>
<circle cx="452.9" cy="1444" r="3.8" fill="#f00000"/>
<circle cx="452" cy="1440.6" r="3.8" fill="#f00000"/>
<circle cx="453.7" cy="1438.1" r="3.8" fill="#f00000"/>
<circle cx="446.6" cy="1451.8" r="3.8" fill="#f00000"/>
<circle cx="445" cy="1451.3" r="3.8" fill="#f00000"/>
<circle cx="450.3" cy="1453.5" r="3.8" fill="#f00000"/>
<circle cx="451.3" cy="1458" r="3.8" fill="#f00000"/>
<circle cx="454.4" cy="1457.8" r="3.8" fill="#f00000"/>
<circle cx="449.2" cy="1455" r="3.8" fill="#f00000"/>
<circle cx="443.5" cy="1464.3" r="3.8" fill="#f00000"/>
<circle cx="447.2" cy="1466.8" r="3.8" fill="#f00000"/>
<circle cx="441.9" cy="1458.6" r="3.8" fill="#f00000"/>
<circle cx="445.1" cy="1472.1" r="3.8" fill="#f00000"/>
<circle cx="445" cy="1474.2" r="3.8" fill="#f00000"/>
<circle cx="444.4" cy="1469.2" r="3.8" fill="#f00000"/>
<circle cx="438.8" cy="1480" r="3.8" fill="#f00000"/>
<circle cx="440.1" cy="1485.1" r="3.8" fill="#f00000"/>
<circle cx="436.6" cy="1474.4" r="3.8" fill="#f00000"/>
<circle cx="443.5" cy="1487.8" r="3.8" fill="#f00000"/>
<circle cx="442.2" cy="1486.8" r="3.8" fill="#f00000"/>
<circle cx="444.9" cy="1484.2" r="3.8" fill="#f00000"/>
<circle cx="451.3" cy="1495.6" r="3.8" fill="#f00000"/>
<circle cx="453.7" cy="1498.5" r="3.8" fill="#f00000"/>
<circle cx="451.4" cy="1492.1" r="3.8" fill="#f00000"/>
<circle cx="449.8" cy="1503.5" r="3.8" fill="#f00000"/>
<circle cx="453.5" cy="1501.2" r="3.8" fill="#f00000"/>
<circle cx="452.3" cy="1500.2" r="3.8" fill="#f00000"/>
<circle cx="435.7" cy="1511.3" r="3.8" fill="#f00000"/>
<circle cx="433.4" cy="1514.4" r="3.8" fill="#f00000"/>
<circle cx="434" cy="1516.7" r="3.8" fill="#f00000"/>
<circle cx="429.4" cy="1519.1" r="3.8" fill="#f00000"/>
<circle cx="429.4" cy="1515.4" r="3.8" fill="#f00000"/>
<circle cx="427.2" cy="1518.1" r="3.8" fill="#f00000"/>
<circle cx="434.1" cy="1526.9" r="3.8" fill="#f00000"/>
<circle cx="435.4" cy="1532.3" r="3.8" fill="#f00000"/>
<circle cx="431.3" cy="1525.7" r="3.8" fill="#f00000"/>
<circle cx="438.8" cy="1534.8" r="3.8" fill="#f00000"/>
<circle cx="436.5" cy="1540.5" r="3.8" fill="#f00000"/>
<circle cx="435.9" cy="1529.4" r="3.8" fill="#f00000"/>
<circle cx="440.4" cy="1542.6" r="3.8" fill="#f00000"/>
<circle cx="436.8" cy="1541.3" r="3.8" fill="#f00000"/>
<circle cx="443.5" cy="1547.2" r="3.8" fill="#f00000"/>
<circle cx="434.1" cy="1550.4" r="3.8" fill="#f00000"/>
<circle cx="436" cy="1556.4" r="3.8" fill="#f00000"/>
<circle cx="437.5" cy="1548.4" r="3.8" fill="#f00000"/>
<circle cx="429.4" cy="1559.8" r="3.8" fill="#f00000"/>
<circle cx="426.9" cy="1565.1" r="3.8" fill="#f00000"/>
<circle cx="431.4" cy="1554.2" r="3.8" fill="#f00000"/>
<circle cx="435.7" cy="1567.7" r="3.8" fill="#f00000"/>
<circle cx="437" cy="1566.2" r="3.8" fill="#f00000"/>
<circle cx="434.7" cy="1565.6" r="3.8" fill="#f00000"/>
<circle cx="429.4" cy="1575.5" r="3.8" fill="#f00000"/>
<circle cx="426.7" cy="1569.5" r="3.8" fill="#f00000"/>
<circle cx="427.6" cy="1573.7" r="3.8" fill="#f00000"/>
<circle cx="437.2" cy="1581.8" r="3.8" fill="#f00000"/>
<circle cx="440.9" cy="1577.2" r="3.8" fill="#f00000"/>
<circle cx="440.9" cy="1578.2" r="3.8" fill="#f00000"/>
<circle cx="432.5" cy="1591.2" r="3.8" fill="#f00000"/>
<circle cx="431.4" cy="1595" r="3.8" fill="#f00000"/>
<circle cx="435.1" cy="1590.3" r="3.8" fill="#f00000"/>
<circle cx="429.4" cy="1600.5" r="3.8" fill="#f00000"/>
<circle cx="426" cy="1600.2" r="3.8" fill="#f00000"/>
<circle cx="428.4" cy="1605.6" r="3.8" fill="#f00000"/>
<circle cx="435.7" cy="1608.4" r="3.8" fill="#f00000"/>
<circle cx="433.2" cy="1606.7" r="3.8" fill="#f00000"/>
<circle cx="438.8" cy="1602.7" r="3.8" fill="#f00000"/>
<circle cx="438.8" cy="1619.3" r="3.8" fill="#f00000"/>
<circle cx="438.1" cy="1623.1" r="3.8" fill="#f00000"/>
<circle cx="440.9" cy="1613.8" r="3.8" fill="#f00000"/>
<circle cx="429.4" cy="1627.2" r="3.8" fill="#f00000"/>
<circle cx="426" cy="1621.9" r="3.8" fill="#f00000"/>
<circle cx="432.8" cy="1624.3" r="3.8" fill="#f00000"/>
<circle cx="432.5" cy="1638.1" r="3.8" fill="#f00000"/>
<circle cx="434.5" cy="1642.9" r="3.8" fill="#f00000"/>
<circle cx="431.2" cy="1635.4" r="3.8" fill="#f00000"/>
<circle cx="437.2" cy="1644.4" r="3.8" fill="#f00000"/>
<circle cx="440.9" cy="1645.8" r="3.8" fill="#f00000"/>
<circle cx="435.3" cy="1647" r="3.8" fill="#f00000"/>
<circle cx="435.7" cy="1386" r="3.8" fill="#f00000"/>
<circle cx="434.2" cy="1383.3" r="3.8" fill="#f00000"/>
<circle cx="431.7" cy="1389.1" r="3.8" fill="#f00000"/>
<circle cx="445.1" cy="1423.6" r="3.8" fill="#f00000"/>
<circle cx="448.4" cy="1425.2" r="3.8" fill="#f00000"/>
<circle cx="448.6" cy="1417.9" r="3.8" fill="#f00000"/>
<circle cx="449.8" cy="1437.7" r="3.8" fill="#f00000"/>
<circle cx="447.6" cy="1437.4" r="3.8" fill="#f00000"/>
<circle cx="453.4" cy="1443.1" r="3.8" fill="#f00000"/>
<circle cx="440.4" cy="1447.1" r="3.8" fill="#f00000"/>
<circle cx="439.4" cy="1444.1" r="3.8" fill="#f00000"/>
<circle cx="439.8" cy="1447" r="3.8" fill="#f00000"/>
<circle cx="448.2" cy="1459.6" r="3.8" fill="#f00000"/>
<circle cx="451.6" cy="1455.8" r="3.8" fill="#f00000"/>
<circle cx="450.6" cy="1462.5" r="3.8" fill="#f00000"/>
<circle cx="441.9" cy="1469" r="3.8" fill="#f00000"/>
<circle cx="444.5" cy="1472.3" r="3.8" fill="#f00000"/>
<circle cx="442.8" cy="1466.9" r="3.8" fill="#f00000"/>
<circle cx="449.8" cy="1486.2" r="3.8" fill="#f00000"/>
<circle cx="448.3" cy="1484.6" r="3.8" fill="#f00000"/>
<circle cx="452" cy="1481.2" r="3.8" fill="#f00000"/>
<circle cx="440.4" cy="1500.3" r="3.8" fill="#f00000"/>
<circle cx="437.9" cy="1503.4" r="3.8" fill="#f00000"/>
<circle cx="438.3" cy="1495.1" r="3.8" fill="#f00000"/>
<circle cx="429.4" cy="1537.9" r="3.8" fill="#f00000"/>
<circle cx="426" cy="1538.5" r="3.8" fill="#f00000"/>
<circle cx="428" cy="1543.7" r="3.8" fill="#f00000"/>
<circle cx="441.9" cy="1553.6" r="3.8" fill="#f00000"/>
<circle cx="445" cy="1559.4" r="3.8" fill="#f00000"/>
<circle cx="440" cy="1548.6" r="3.8" fill="#f00000"/>
<circle cx="427.8" cy="1584.9" r="3.8" fill="#f00000"/>
<circle cx="426" cy="1584.9" r="3.8" fill="#f00000"/>
<circle cx="429.5" cy="1584.3" r="3.8" fill="#f00000"/>
<circle cx="440.4" cy="1594.3" r="3.8" fill="#f00000"/>
<circle cx="438.2" cy="1593.3" r="3.8" fill="#f00000"/>
<circle cx="441.3" cy="1596.4" r="3.8" fill="#f00000"/>
<circle cx="429.4" cy="1616.2" r="3.8" fill="#f00000"/>
<circle cx="431.4" cy="1620.4" r="3.8" fill="#f00000"/>
<circle cx="430.7" cy="1611.7" r="3.8" fill="#f00000"/>
<circle cx="429.3" cy="1623.1" r="3.8" fill="#f00000"/>
<circle cx="432" cy="1620.6" r="3.8" fill="#f00000"/>
<circle cx="429.8" cy="1621.6" r="3.8" fill="#f00000"/>
<circle cx="440.2" cy="1621.6" r="3.8" fill="#f00000"/>
<circle cx="442.1" cy="1617.9" r="3.8" fill="#f00000"/>
<circle cx="438.1" cy="1618.5" r="3.8" fill="#f00000"/>
<circle cx="429.3" cy="1638.6" r="3.8" fill="#f00000"/>
<circle cx="426.5" cy="1643.2" r="3.8" fill="#f00000"/>
<circle cx="429.9" cy="1636.5" r="3.8" fill="#f00000"/>
<circle cx="437.1" cy="1643.3" r="3.8" fill="#f00000"/>
<circle cx="436.2" cy="1649.2" r="3.8" fill="#f00000"/>
<circle cx="437.1" cy="1640" r="3.8" fill="#f00000"/>
<circle cx="427.8" cy="1647.9" r="3.8" fill="#f00000"/>
<circle cx="430.2" cy="1649.7" r="3.8" fill="#f00000"/>
<circle cx="431.7" cy="1643.1" r="3.8" fill="#f00000"/>
<circle cx="429.3" cy="1669.6" r="3.8" fill="#f00000"/>
<circle cx="429.1" cy="1673.4" r="3.8" fill="#f00000"/>
<circle cx="432" cy="1674.6" r="3.8" fill="#f00000"/>
<circle cx="435.5" cy="1677.4" r="3.8" fill="#f00000"/>
<circle cx="431.8" cy="1674.9" r="3.8" fill="#f00000"/>
<circle cx="432.5" cy="1673.6" r="3.8" fill="#f00000"/>
<circle cx="427.8" cy="1685.1" r="3.8" fill="#f00000"/>
<circle cx="431.5" cy="1686.1" r="3.8" fill="#f00000"/>
<circle cx="431.2" cy="1683.6" r="3.8" fill="#f00000"/>
<circle cx="429.3" cy="1694.4" r="3.8" fill="#f00000"/>
<circle cx="432.2" cy="1693.8" r="3.8" fill="#f00000"/>
<circle cx="427.4" cy="1697.8" r="3.8" fill="#f00000"/>
<circle cx="432.4" cy="1706.8" r="3.8" fill="#f00000"/>
<circle cx="436" cy="1702.1" r="3.8" fill="#f00000"/>
<circle cx="433.2" cy="1708.3" r="3.8" fill="#f00000"/>
<circle cx="434" cy="1714.6" r="3.8" fill="#f00000"/>
<circle cx="431.7" cy="1713" r="3.8" fill="#f00000"/>
<circle cx="431.1" cy="1711" r="3.8" fill="#f00000"/>
<circle cx="427.8" cy="1722.3" r="3.8" fill="#f00000"/>
<circle cx="426" cy="1723.5" r="3.8" fill="#f00000"/>
<circle cx="429" cy="1718.8" r="3.8" fill="#f00000"/>
<circle cx="427.8" cy="1728.5" r="3.8" fill="#f00000"/>
<circle cx="426" cy="1726.5" r="3.8" fill="#f00000"/>
<circle cx="429.2" cy="1724.7" r="3.8" fill="#f00000"/>
<circle cx="429.3" cy="1858.8" r="3.8" fill="#f00000"/>
<circle cx="427.8" cy="1855.2" r="3.8" fill="#f00000"/>
<circle cx="431.7" cy="1859.3" r="3.8" fill="#f00000"/>
<circle cx="434" cy="1865" r="3.8" fill="#f00000"/>
<circle cx="430.5" cy="1860.2" r="3.8" fill="#f00000"/>
<circle cx="433.1" cy="1865.6" r="3.8" fill="#f00000"/>
<circle cx="426.2" cy="1871.2" r="3.8" fill="#f00000"/>
<circle cx="427.3" cy="1866.3" r="3.8" fill="#f00000"/>
<circle cx="426" cy="1873.5" r="3.8" fill="#f00000"/>
<circle cx="436.9" cy="1388" r="3.8" fill="#f00000"/>
<circle cx="435.9" cy="1390.2" r="3.8" fill="#f00000"/>
<circle cx="436.7" cy="1392.4" r="3.8" fill="#f00000"/>
<circle cx="444.9" cy="1394.6" r="3.8" fill="#f00000"/>
<circle cx="437.7" cy="1396.8" r="3.8" fill="#f00000"/>
<circle cx="441.3" cy="1399" r="3.8" fill="#f00000"/>
<circle cx="439.3" cy="1401.2" r="3.8" fill="#f00000"/>
<circle cx="440.5" cy="1403.4" r="3.8" fill="#f00000"/>
<circle cx="446.4" cy="1405.6" r="3.8" fill="#f00000"/>
<circle cx="448.5" cy="1407.8" r="3.8" fill="#f00000"/>
<circle cx="441.4" cy="1410" r="3.8" fill="#f00000"/>
<circle cx="439.7" cy="1412.2" r="3.8" fill="#f00000"/>
<circle cx="446.3" cy="1414.4" r="3.8" fill="#f00000"/>
<circle cx="440.3" cy="1416.6" r="3.8" fill="#f00000"/>
<circle cx="438.2" cy="1418.8" r="3.8" fill="#f00000"/>
<circle cx="449.3" cy="1421" r="3.8" fill="#f00000"/>
<circle cx="443.8" cy="1423.2" r="3.8" fill="#f00000"/>
<circle cx="449.1" cy="1425.4" r="3.8" fill="#f00000"/>
<circle cx="445.7" cy="1427.6" r="3.8" fill="#f00000"/>
<circle cx="453" cy="1429.8" r="3.8" fill="#f00000"/>
<circle cx="449.4" cy="1432" r="3.8" fill="#f00000"/>
<circle cx="447.4" cy="1434.2" r="3.8" fill="#f00000"/>
<circle cx="446.1" cy="1436.4" r="3.8" fill="#f00000"/>
<circle cx="452.4" cy="1438.6" r="3.8" fill="#f00000"/>
<circle cx="453.3" cy="1440.8" r="3.8" fill="#f00000"/>
<circle cx="456.4" cy="1443" r="3.8" fill="#f00000"/>
<circle cx="446.4" cy="1445.2" r="3.8" fill="#f00000"/>
<circle cx="452.6" cy="1447.4" r="3.8" fill="#f00000"/>
<circle cx="449.5" cy="1449.6" r="3.8" fill="#f00000"/>
<circle cx="449.4" cy="1451.8" r="3.8" fill="#f00000"/>
<circle cx="443.2" cy="1454" r="3.8" fill="#f00000"/>
<circle cx="442.8" cy="1456.2" r="3.8" fill="#f00000"/>
<circle cx="443.7" cy="1458.4" r="3.8" fill="#f00000"/>
<circle cx="447.1" cy="1460.6" r="3.8" fill="#f00000"/>
<circle cx="437.2" cy="1462.8" r="3.8" fill="#f00000"/>
<circle cx="441.7" cy="1465" r="3.8" fill="#f00000"/>
<circle cx="445.4" cy="1467.2" r="3.8" fill="#f00000"/>
<circle cx="447.3" cy="1469.4" r="3.8" fill="#f00000"/>
<circle cx="438" cy="1471.6" r="3.8" fill="#f00000"/>
<circle cx="437.1" cy="1473.8" r="3.8" fill="#f00000"/>
<circle cx="446.8" cy="1476" r="3.8" fill="#f00000"/>
<circle cx="447.1" cy="1478.2" r="3.8" fill="#f00000"/>
<circle cx="441.1" cy="1480.4" r="3.8" fill="#f00000"/>
<circle cx="435.9" cy="1482.6" r="3.8" fill="#f00000"/>
<circle cx="446.3" cy="1484.8" r="3.8" fill="#f00000"/>
<circle cx="439.8" cy="1487" r="3.8" fill="#f00000"/>
<circle cx="445.9" cy="1489.2" r="3.8" fill="#f00000"/>
<circle cx="442" cy="1491.4" r="3.8" fill="#f00000"/>
<circle cx="443.8" cy="1493.6" r="3.8" fill="#f00000"/>
<circle cx="435.2" cy="1495.8" r="3.8" fill="#f00000"/>
<circle cx="442" cy="1498" r="3.8" fill="#f00000"/>
<circle cx="434.7" cy="1500.2" r="3.8" fill="#f00000"/>
<circle cx="437.6" cy="1502.4" r="3.8" fill="#f00000"/>
<circle cx="443.5" cy="1504.6" r="3.8" fill="#f00000"/>
<circle cx="444" cy="1506.8" r="3.8" fill="#f00000"/>
<circle cx="436.9" cy="1509" r="3.8" fill="#f00000"/>
<circle cx="437.6" cy="1511.2" r="3.8" fill="#f00000"/>
<circle cx="439.8" cy="1513.4" r="3.8" fill="#f00000"/>
<circle cx="441.2" cy="1515.6" r="3.8" fill="#f00000"/>
<circle cx="439.6" cy="1517.8" r="3.8" fill="#f00000"/>
<circle cx="436.5" cy="1520" r="3.8" fill="#f00000"/>
<circle cx="438" cy="1522.2" r="3.8" fill="#f00000"/>
<circle cx="443.7" cy="1524.4" r="3.8" fill="#f00000"/>
<circle cx="445.8" cy="1526.6" r="3.8" fill="#f00000"/>
<circle cx="435.5" cy="1528.8" r="3.8" fill="#f00000"/>
<circle cx="441.7" cy="1531" r="3.8" fill="#f00000"/>
<circle cx="444.1" cy="1533.2" r="3.8" fill="#f00000"/>
<circle cx="435.5" cy="1535.4" r="3.8" fill="#f00000"/>
<circle cx="445.1" cy="1537.6" r="3.8" fill="#f00000"/>
<circle cx="436.4" cy="1539.8" r="3.8" fill="#f00000"/>
<circle cx="442.2" cy="1542" r="3.8" fill="#f00000"/>
<circle cx="441.6" cy="1544.2" r="3.8" fill="#f00000"/>
<circle cx="442.5" cy="1546.4" r="3.8" fill="#f00000"/>
<circle cx="438.7" cy="1548.6" r="3.8" fill="#f00000"/>
<circle cx="440" cy="1550.8" r="3.8" fill="#f00000"/>
<circle cx="442" cy="1553" r="3.8" fill="#f00000"/>
<circle cx="439.8" cy="1555.2" r="3.8" fill="#f00000"/>
<circle cx="439.5" cy="1557.4" r="3.8" fill="#f00000"/>
<circle cx="433.9" cy="1559.6" r="3.8" fill="#f00000"/>
<circle cx="433" cy="1561.8" r="3.8" fill="#f00000"/>
<circle cx="427.6" cy="1564" r="3.8" fill="#f00000"/>
<circle cx="434.4" cy="1566.2" r="3.8" fill="#f00000"/>
<circle cx="432.5" cy="1568.4" r="3.8" fill="#f00000"/>
<circle cx="429.1" cy="1570.6" r="3.8" fill="#f00000"/>
<circle cx="435.2" cy="1572.8" r="3.8" fill="#f00000"/>
<circle cx="435.3" cy="1575" r="3.8" fill="#f00000"/>
<circle cx="431.4" cy="1577.2" r="3.8" fill="#f00000"/>
<circle cx="428" cy="1579.4" r="3.8" fill="#f00000"/>
<circle cx="431.5" cy="1581.6" r="3.8" fill="#f00000"/>
<circle cx="427.1" cy="1583.8" r="3.8" fill="#f00000"/>
<circle cx="427.3" cy="1586" r="3.8" fill="#f00000"/>
<circle cx="430.9" cy="1588.2" r="3.8" fill="#f00000"/>
<circle cx="426.8" cy="1590.4" r="3.8" fill="#f00000"/>
<circle cx="431" cy="1592.6" r="3.8" fill="#f00000"/>
<circle cx="431.8" cy="1594.8" r="3.8" fill="#f00000"/>
<circle cx="426.5" cy="1597" r="3.8" fill="#f00000"/>
<circle cx="433.2" cy="1599.2" r="3.8" fill="#f00000"/>
<circle cx="426.6" cy="1601.4" r="3.8" fill="#f00000"/>
<circle cx="434.3" cy="1603.6" r="3.8" fill="#f00000"/>
<circle cx="434.8" cy="1605.8" r="3.8" fill="#f00000"/>
<circle cx="431.6" cy="1608" r="3.8" fill="#f00000"/>
<circle cx="426.5" cy="1610.2" r="3.8" fill="#f00000"/>
<circle cx="431.5" cy="1612.4" r="3.8" fill="#f00000"/>
<circle cx="429.9" cy="1614.6" r="3.8" fill="#f00000"/>
<circle cx="436.8" cy="1616.8" r="3.8" fill="#f00000"/>
<circle cx="426.9" cy="1619" r="3.8" fill="#f00000"/>
<circle cx="435.6" cy="1621.2" r="3.8" fill="#f00000"/>
<circle cx="437.2" cy="1623.4" r="3.8" fill="#f00000"/>
<circle cx="434" cy="1625.6" r="3.8" fill="#f00000"/>
<circle cx="435" cy="1627.8" r="3.8" fill="#f00000"/>
<circle cx="427.5" cy="1630" r="3.8" fill="#f00000"/>
<circle cx="436.9" cy="1632.2" r="3.8" fill="#f00000"/>
<circle cx="431" cy="1634.4" r="3.8" fill="#f00000"/>
<circle cx="436.5" cy="1636.6" r="3.8" fill="#f00000"/>
<circle cx="436" cy="1638.8" r="3.8" fill="#f00000"/>
<circle cx="426.8" cy="1641" r="3.8" fill="#f00000"/>
<circle cx="433.8" cy="1643.2" r="3.8" fill="#f00000"/>
<circle cx="435.1" cy="1645.4" r="3.8" fill="#f00000"/>
<circle cx="426.5" cy="1647.6" r="3.8" fill="#f00000"/>
<circle cx="427.3" cy="1649.8" r="3.8" fill="#f00000"/>
<circle cx="432.1" cy="1652" r="3.8" fill="#f00000"/>
<circle cx="426.5" cy="1654.2" r="3.8" fill="#f00000"/>
<circle cx="433.8" cy="1656.4" r="3.8" fill="#f00000"/>
<circle cx="426.5" cy="1658.6" r="3.8" fill="#f00000"/>
<circle cx="432.8" cy="1660.8" r="3.8" fill="#f00000"/>
<circle cx="426.5" cy="1663" r="3.8" fill="#f00000"/>
<circle cx="429" cy="1665.2" r="3.8" fill="#f00000"/>
<circle cx="434" cy="1667.4" r="3.8" fill="#f00000"/>
<circle cx="426.5" cy="1669.6" r="3.8" fill="#f00000"/>
<circle cx="426.5" cy="1671.8" r="3.8" fill="#f00000"/>
<circle cx="429.1" cy="1674" r="3.8" fill="#f00000"/>
<circle cx="426.8" cy="1676.2" r="3.8" fill="#f00000"/>
<circle cx="426.5" cy="1678.4" r="3.8" fill="#f00000"/>
<circle cx="426.5" cy="1680.6" r="3.8" fill="#f00000"/>
<circle cx="426.5" cy="1682.8" r="3.8" fill="#f00000"/>
<circle cx="434.2" cy="1685" r="3.8" fill="#f00000"/>
<circle cx="431.2" cy="1687.2" r="3.8" fill="#f00000"/>
<circle cx="433.7" cy="1689.4" r="3.8" fill="#f00000"/>
<circle cx="426.5" cy="1691.6" r="3.8" fill="#f00000"/>
<circle cx="432.4" cy="1693.8" r="3.8" fill="#f00000"/>
<circle cx="426.5" cy="1696" r="3.8" fill="#f00000"/>
<circle cx="429.4" cy="1698.2" r="3.8" fill="#f00000"/>
<circle cx="430.6" cy="1700.4" r="3.8" fill="#f00000"/>
<circle cx="427.3" cy="1702.6" r="3.8" fill="#f00000"/>
<circle cx="433.5" cy="1704.8" r="3.8" fill="#f00000"/>
<circle cx="429.7" cy="1707" r="3.8" fill="#f00000"/>
<circle cx="430" cy="1709.2" r="3.8" fill="#f00000"/>
<circle cx="433.6" cy="1711.4" r="3.8" fill="#f00000"/>
<circle cx="426.5" cy="1713.6" r="3.8" fill="#f00000"/>
<circle cx="434.9" cy="1715.8" r="3.8" fill="#f00000"/>
<circle cx="430.6" cy="1718" r="3.8" fill="#f00000"/>
<circle cx="427.7" cy="1720.2" r="3.8" fill="#f00000"/>
<circle cx="432.6" cy="1722.4" r="3.8" fill="#f00000"/>
<circle cx="426.5" cy="1724.6" r="3.8" fill="#f00000"/>
<circle cx="434.9" cy="1726.8" r="3.8" fill="#f00000"/>
<circle cx="429.9" cy="1729" r="3.8" fill="#f00000"/>
<circle cx="427.3" cy="1731.2" r="3.8" fill="#f00000"/>
<circle cx="432.2" cy="1733.4" r="3.8" fill="#f00000"/>
<circle cx="426.6" cy="1736" r="2.6" fill="#333"/>
<circle cx="425.9" cy="1742" r="2.6" fill="#333"/>
<circle cx="427.4" cy="1749" r="2.6" fill="#333"/>
<circle cx="425.6" cy="1756" r="2.6" fill="#333"/>
<circle cx="427.5" cy="1764" r="2.6" fill="#333"/>
<circle cx="426.1" cy="1771" r="2.6" fill="#333"/>
<circle cx="427.1" cy="1800" r="2.6" fill="#333"/>
<circle cx="428" cy="1808" r="2.6" fill="#333"/>
<circle cx="427" cy="1816" r="2.6" fill="#333"/>
<circle cx="427.2" cy="1823" r="2.6" fill="#333"/>
<circle cx="426.3" cy="1831" r="2.6" fill="#333"/>
<circle cx="425.5" cy="1838" r="2.6" fill="#333"/>
<circle cx="425.6" cy="1846" r="2.6" fill="#333"/>
<circle cx="425.9" cy="1851" r="2.6" fill="#333"/>
</g>
<g clip-path="url(#cb4)">
<rect x="640" y="481" width="208" height="1425" fill="#fff"/>
<rect x="635.6" y="481" width="3.2" height="1425" fill="#c0c0c0"/>
<rect x="646.4" y="481" width="3.2" height="1425" fill="#c0c0c0"/>
<rect x="652.8" y="481" width="3.2" height="1425" fill="#c0c0c0"/>
<rect x="657.3" y="481" width="3.2" height="1425" fill="#c0c0c0"/>
<rect x="660.8" y="481" width="3.2" height="1425" fill="#c0c0c0"/>
<rect x="663.6" y="481" width="3.2" height="1425" fill="#c0c0c0"/>
<rect x="666" y="481" width="3.2" height="1425" fill="#c0c0c0"/>
<rect x="668.1" y="481" width="3.2" height="1425" fill="#c0c0c0"/>
<rect x="670" y="481" width="3.2" height="1425" fill="#c0c0c0"/>
<rect x="671.6" y="481" width="3.2" height="1425" fill="#c0c0c0"/>
<rect x="682.4" y="481" width="3.2" height="1425" fill="#c0c0c0"/>
<rect x="688.8" y="481" width="3.2" height="1425" fill="#c0c0c0"/>
<rect x="693.3" y="481" width="3.2" height="1425" fill="#c0c0c0"/>
<rect x="696.8" y="481" width="3.2" height="1425" fill="#c0c0c0"/>
<rect x="699.6" y="481" width="3.2" height="1425" fill="#c0c0c0"/>
<rect x="702" y="481" width="3.2" height="1425" fill="#c0c0c0"/>
<rect x="704.1" y="481" width="3.2" height="1425" fill="#c0c0c0"/>
<rect x="706" y="481" width="3.2" height="1425" fill="#c0c0c0"/>
<rect x="707.6" y="481" width="3.2" height="1425" fill="#c0c0c0"/>
<rect x="718.4" y="481" width="3.2" height="1425" fill="#c0c0c0"/>
<rect x="724.8" y="481" width="3.2" height="1425" fill="#c0c0c0"/>
<rect x="729.3" y="481" width="3.2" height="1425" fill="#c0c0c0"/>
<rect x="732.8" y="481" width="3.2" height="1425" fill="#c0c0c0"/>
<rect x="735.6" y="481" width="3.2" height="1425" fill="#c0c0c0"/>
<rect x="738" y="481" width="3.2" height="1425" fill="#c0c0c0"/>
<rect x="740.1" y="481" width="3.2" height="1425" fill="#c0c0c0"/>
<rect x="742" y="481" width="3.2" height="1425" fill="#c0c0c0"/>
<rect x="743.6" y="481" width="3.2" height="1425" fill="#c0c0c0"/>
<rect x="754.4" y="481" width="3.2" height="1425" fill="#c0c0c0"/>
<rect x="760.8" y="481" width="3.2" height="1425" fill="#c0c0c0"/>
<rect x="765.3" y="481" width="3.2" height="1425" fill="#c0c0c0"/>
<rect x="768.8" y="481" width="3.2" height="1425" fill="#c0c0c0"/>
<rect x="771.6" y="481" width="3.2" height="1425" fill="#c0c0c0"/>
<rect x="774" y="481" width="3.2" height="1425" fill="#c0c0c0"/>
<rect x="776.1" y="481" width="3.2" height="1425" fill="#c0c0c0"/>
<rect x="778" y="481" width="3.2" height="1425" fill="#c0c0c0"/>
<rect x="779.6" y="481" width="3.2" height="1425" fill="#c0c0c0"/>
<rect x="790.4" y="481" width="3.2" height="1425" fill="#c0c0c0"/>
<rect x="796.8" y="481" width="3.2" height="1425" fill="#c0c0c0"/>
<rect x="801.3" y="481" width="3.2" height="1425" fill="#c0c0c0"/>
<rect x="804.8" y="481" width="3.2" height="1425" fill="#c0c0c0"/>
<rect x="807.6" y="481" width="3.2" height="1425" fill="#c0c0c0"/>
<rect x="810" y="481" width="3.2" height="1425" fill="#c0c0c0"/>
<rect x="812.1" y="481" width="3.2" height="1425" fill="#c0c0c0"/>
<rect x="814" y="481" width="3.2" height="1425" fill="#c0c0c0"/>
<rect x="815.6" y="481" width="3.2" height="1425" fill="#c0c0c0"/>
<rect x="826.4" y="481" width="3.2" height="1425" fill="#c0c0c0"/>
<rect x="832.8" y="481" width="3.2" height="1425" fill="#c0c0c0"/>
<rect x="837.3" y="481" width="3.2" height="1425" fill="#c0c0c0"/>
<rect x="840.8" y="481" width="3.2" height="1425" fill="#c0c0c0"/>
<rect x="843.6" y="481" width="3.2" height="1425" fill="#c0c0c0"/>
<rect x="846" y="481" width="3.2" height="1425" fill="#c0c0c0"/>
<rect x="848.1" y="481" width="3.2" height="1425" fill="#c0c0c0"/>
<rect x="850" y="481" width="3.2" height="1425" fill="#c0c0c0"/>
<rect x="851.6" y="481" width="3.2" height="1425" fill="#c0c0c0"/>
<rect x="862.4" y="481" width="3.2" height="1425" fill="#c0c0c0"/>
<rect x="868.8" y="481" width="3.2" height="1425" fill="#c0c0c0"/>
<rect x="873.3" y="481" width="3.2" height="1425" fill="#c0c0c0"/>
<rect x="876.8" y="481" width="3.2" height="1425" fill="#c0c0c0"/>
<rect x="879.6" y="481" width="3.2" height="1425" fill="#c0c0c0"/>
<rect x="882" y="481" width="3.2" height="1425" fill="#c0c0c0"/>
<rect x="884.1" y="481" width="3.2" height="1425" fill="#c0c0c0"/>
<rect x="886" y="481" width="3.2" height="1425" fill="#c0c0c0"/>
<rect x="640" y="493.8" width="208" height="2.6" fill="#c0c0c0"/>
<rect x="640" y="533.1" width="208" height="2.6" fill="#c0c0c0"/>
<rect x="640" y="572.3" width="208" height="2.6" fill="#c0c0c0"/>
<rect x="640" y="610.4" width="208" height="5" fill="#c0c0c0"/>
<rect x="640" y="650.9" width="208" height="2.6" fill="#c0c0c0"/>
<rect x="640" y="690.1" width="208" height="2.6" fill="#c0c0c0"/>
<rect x="640" y="729.4" width="208" height="2.6" fill="#c0c0c0"/>
<rect x="640" y="768.6" width="208" height="2.6" fill="#c0c0c0"/>
<rect x="640" y="807.9" width="208" height="2.6" fill="#c0c0c0"/>
<rect x="640" y="847.2" width="208" height="2.6" fill="#c0c0c0"/>
<rect x="640" y="886.4" width="208" height="2.6" fill="#c0c0c0"/>
<rect x="640" y="925.7" width="208" height="2.6" fill="#c0c0c0"/>
<rect x="640" y="964.9" width="208" height="2.6" fill="#c0c0c0"/>
<rect x="640" y="1003" width="208" height="5" fill="#c0c0c0"/>
<rect x="640" y="1043.5" width="208" height="2.6" fill="#c0c0c0"/>
<rect x="640" y="1082.7" width="208" height="2.6" fill="#c0c0c0"/>
<rect x="640" y="1122" width="208" height="2.6" fill="#c0c0c0"/>
<rect x="640" y="1161.2" width="208" height="2.6" fill="#c0c0c0"/>
<rect x="640" y="1200.5" width="208" height="2.6" fill="#c0c0c0"/>
<rect x="640" y="1239.8" width="208" height="2.6" fill="#c0c0c0"/>
<rect x="640" y="1279" width="208" height="2.6" fill="#c0c0c0"/>
<rect x="640" y="1318.3" width="208" height="2.6" fill="#c0c0c0"/>
<rect x="640" y="1357.5" width="208" height="2.6" fill="#c0c0c0"/>
<rect x="640" y="1395.6" width="208" height="5" fill="#c0c0c0"/>
<rect x="640" y="1436.1" width="208" height="2.6" fill="#c0c0c0"/>
<rect x="640" y="1475.3" width="208" height="2.6" fill="#c0c0c0"/>
<rect x="640" y="1514.6" width="208" height="2.6" fill="#c0c0c0"/>
<rect x="640" y="1553.8" width="208" height="2.6" fill="#c0c0c0"/>
<rect x="640" y="1593.1" width="208" height="2.6" fill="#c0c0c0"/>
<rect x="640" y="1632.4" width="208" height="2.6" fill="#c0c0c0"/>
<rect x="640" y="1671.6" width="208" height="2.6" fill="#c0c0c0"/>
<rect x="640" y="1710.9" width="208" height="2.6" fill="#c0c0c0"/>
<rect x="640" y="1750.1" width="208" height="2.6" fill="#c0c0c0"/>
<rect x="640" y="1788.2" width="208" height="5" fill="#c0c0c0"/>
<rect x="640" y="1828.7" width="208" height="2.6" fill="#c0c0c0"/>
<rect x="640" y="1867.9" width="208" height="2.6" fill="#c0c0c0"/>
</g>
<g clip-path="url(#cb6)">
<rect x="1071" y="481" width="208" height="1425" fill="#fff"/>
<rect x="1066.6" y="481" width="3.2" height="1425" fill="#c0c0c0"/>
<rect x="1077.4" y="481" width="3.2" height="1425" fill="#c0c0c0"/>
<rect x="1083.8" y="481" width="3.2" height="1425" fill="#c0c0c0"/>
<rect x="1088.3" y="481" width="3.2" height="1425" fill="#c0c0c0"/>
<rect x="1091.8" y="481" width="3.2" height="1425" fill="#c0c0c0"/>
<rect x="1094.6" y="481" width="3.2" height="1425" fill="#c0c0c0"/>
<rect x="1097" y="481" width="3.2" height="1425" fill="#c0c0c0"/>
<rect x="1099.1" y="481" width="3.2" height="1425" fill="#c0c0c0"/>
<rect x="1101" y="481" width="3.2" height="1425" fill="#c0c0c0"/>
<rect x="1102.6" y="481" width="3.2" height="1425" fill="#c0c0c0"/>
<rect x="1113.4" y="481" width="3.2" height="1425" fill="#c0c0c0"/>
<rect x="1119.8" y="481" width="3.2" height="1425" fill="#c0c0c0"/>
<rect x="1124.3" y="481" width="3.2" height="1425" fill="#c0c0c0"/>
<rect x="1127.8" y="481" width="3.2" height="1425" fill="#c0c0c0"/>
<rect x="1130.6" y="481" width="3.2" height="1425" fill="#c0c0c0"/>
<rect x="1133" y="481" width="3.2" height="1425" fill="#c0c0c0"/>
<rect x="1135.1" y="481" width="3.2" height="1425" fill="#c0c0c0"/>
<rect x="1137" y="481" width="3.2" height="1425" fill="#c0c0c0"/>
<rect x="1138.6" y="481" width="3.2" height="1425" fill="#c0c0c0"/>
<rect x="1149.4" y="481" width="3.2" height="1425" fill="#c0c0c0"/>
<rect x="1155.8" y="481" width="3.2" height="1425" fill="#c0c0c0"/>
<rect x="1160.3" y="481" width="3.2" height="1425" fill="#c0c0c0"/>
<rect x="1163.8" y="481" width="3.2" height="1425" fill="#c0c0c0"/>
<rect x="1166.6" y="481" width="3.2" height="1425" fill="#c0c0c0"/>
<rect x="1169" y="481" width="3.2" height="1425" fill="#c0c0c0"/>
<rect x="1171.1" y="481" width="3.2" height="1425" fill="#c0c0c0"/>
<rect x="1173" y="481" width="3.2" height="1425" fill="#c0c0c0"/>
<rect x="1174.6" y="481" width="3.2" height="1425" fill="#c0c0c0"/>
<rect x="1185.4" y="481" width="3.2" height="1425" fill="#c0c0c0"/>
<rect x="1191.8" y="481" width="3.2" height="1425" fill="#c0c0c0"/>
<rect x="1196.3" y="481" width="3.2" height="1425" fill="#c0c0c0"/>
<rect x="1199.8" y="481" width="3.2" height="1425" fill="#c0c0c0"/>
<rect x="1202.6" y="481" width="3.2" height="1425" fill="#c0c0c0"/>
<rect x="1205" y="481" width="3.2" height="1425" fill="#c0c0c0"/>
<rect x="1207.1" y="481" width="3.2" height="1425" fill="#c0c0c0"/>
<rect x="1209" y="481" width="3.2" height="1425" fill="#c0c0c0"/>
<rect x="1210.6" y="481" width="3.2" height="1425" fill="#c0c0c0"/>
<rect x="1221.4" y="481" width="3.2" height="1425" fill="#c0c0c0"/>
<rect x="1227.8" y="481" width="3.2" height="1425" fill="#c0c0c0"/>
<rect x="1232.3" y="481" width="3.2" height="1425" fill="#c0c0c0"/>
<rect x="1235.8" y="481" width="3.2" height="1425" fill="#c0c0c0"/>
<rect x="1238.6" y="481" width="3.2" height="1425" fill="#c0c0c0"/>
<rect x="1241" y="481" width="3.2" height="1425" fill="#c0c0c0"/>
<rect x="1243.1" y="481" width="3.2" height="1425" fill="#c0c0c0"/>
<rect x="1245" y="481" width="3.2" height="1425" fill="#c0c0c0"/>
<rect x="1246.6" y="481" width="3.2" height="1425" fill="#c0c0c0"/>
<rect x="1257.4" y="481" width="3.2" height="1425" fill="#c0c0c0"/>
<rect x="1263.8" y="481" width="3.2" height="1425" fill="#c0c0c0"/>
<rect x="1268.3" y="481" width="3.2" height="1425" fill="#c0c0c0"/>
<rect x="1271.8" y="481" width="3.2" height="1425" fill="#c0c0c0"/>
<rect x="1274.6" y="481" width="3.2" height="1425" fill="#c0c0c0"/>
<rect x="1277" y="481" width="3.2" height="1425" fill="#c0c0c0"/>
<rect x="1279.1" y="481" width="3.2" height="1425" fill="#c0c0c0"/>
<rect x="1281" y="481" width="3.2" height="1425" fill="#c0c0c0"/>
<rect x="1282.6" y="481" width="3.2" height="1425" fill="#c0c0c0"/>
<rect x="1293.4" y="481" width="3.2" height="1425" fill="#c0c0c0"/>
<rect x="1299.8" y="481" width="3.2" height="1425" fill="#c0c0c0"/>
<rect x="1304.3" y="481" width="3.2" height="1425" fill="#c0c0c0"/>
<rect x="1307.8" y="481" width="3.2" height="1425" fill="#c0c0c0"/>
<rect x="1310.6" y="481" width="3.2" height="1425" fill="#c0c0c0"/>
<rect x="1313" y="481" width="3.2" height="1425" fill="#c0c0c0"/>
<rect x="1315.1" y="481" width="3.2" height="1425" fill="#c0c0c0"/>
<rect x="1317" y="481" width="3.2" height="1425" fill="#c0c0c0"/>
<rect x="1071" y="493.8" width="208" height="2.6" fill="#c0c0c0"/>
<rect x="1071" y="533.1" width="208" height="2.6" fill="#c0c0c0"/>
<rect x="1071" y="572.3" width="208" height="2.6" fill="#c0c0c0"/>
<rect x="1071" y="610.4" width="208" height="5" fill="#c0c0c0"/>
<rect x="1071" y="650.9" width="208" height="2.6" fill="#c0c0c0"/>
<rect x="1071" y="690.1" width="208" height="2.6" fill="#c0c0c0"/>
<rect x="1071" y="729.4" width="208" height="2.6" fill="#c0c0c0"/>
<rect x="1071" y="768.6" width="208" height="2.6" fill="#c0c0c0"/>
<rect x="1071" y="807.9" width="208" height="2.6" fill="#c0c0c0"/>
<rect x="1071" y="847.2" width="208" height="2.6" fill="#c0c0c0"/>
<rect x="1071" y="886.4" width="208" height="2.6" fill="#c0c0c0"/>
<rect x="1071" y="925.7" width="208" height="2.6" fill="#c0c0c0"/>
<rect x="1071" y="964.9" width="208" height="2.6" fill="#c0c0c0"/>
<rect x="1071" y="1003" width="208" height="5" fill="#c0c0c0"/>
<rect x="1071" y="1043.5" width="208" height="2.6" fill="#c0c0c0"/>
<rect x="1071" y="1082.7" width="208" height="2.6" fill="#c0c0c0"/>
<rect x="1071" y="1122" width="208" height="2.6" fill="#c0c0c0"/>
<rect x="1071" y="1161.2" width="208" height="2.6" fill="#c0c0c0"/>
<rect x="1071" y="1200.5" width="208" height="2.6" fill="#c0c0c0"/>
<rect x="1071" y="1239.8" width="208" height="2.6" fill="#c0c0c0"/>
<rect x="1071" y="1279" width="208" height="2.6" fill="#c0c0c0"/>
<rect x="1071" y="1318.3" width="208" height="2.6" fill="#c0c0c0"/>
<rect x="1071" y="1357.5" width="208" height="2.6" fill="#c0c0c0"/>
<rect x="1071" y="1395.6" width="208" height="5" fill="#c0c0c0"/>
<rect x="1071" y="1436.1" width="208" height="2.6" fill="#c0c0c0"/>
<rect x="1071" y="1475.3" width="208" height="2.6" fill="#c0c0c0"/>
<rect x="1071" y="1514.6" width="208" height="2.6" fill="#c0c0c0"/>
<rect x="1071" y="1553.8" width="208" height="2.6" fill="#c0c0c0"/>
<rect x="1071" y="1593.1" width="208" height="2.6" fill="#c0c0c0"/>
<rect x="1071" y="1632.4" width="208" height="2.6" fill="#c0c0c0"/>
<rect x="1071" y="1671.6" width="208" height="2.6" fill="#c0c0c0"/>
<rect x="1071" y="1710.9" width="208" height="2.6" fill="#c0c0c0"/>
<rect x="1071" y="1750.1" width="208" height="2.6" fill="#c0c0c0"/>
<rect x="1071" y="1788.2" width="208" height="5" fill="#c0c0c0"/>
<rect x="1071" y="1828.7" width="208" height="2.6" fill="#c0c0c0"/>
<rect x="1071" y="1867.9" width="208" height="2.6" fill="#c0c0c0"/>
</g>
<g clip-path="url(#cb4)"><polyline points="805.1,481 805.1,482.3 730,484.6 730,484.6 792.6,486.2 733.5,488.2 774,490.2 742.5,491.7 742.5,491.7 742.5,491.7 776.9,492.5 743.3,494.5 756.8,496.5 737.8,498.6 737.8,499.5 737.8,504.3 795.7,507.4 717.4,509.4 789.1,511.4 708,513.5 708,513.6 708,513.7 745.6,516.8 703.5,518.8 719.7,520.8 703.3,522.9 703.3,523 703.3,523.1 723.7,526.2 657.1,528.2 712.8,530.2 653.2,532.3 653.2,536.3 723.7,541.8 723.7,542.6 745.6,545.7 733.9,547.7 728.9,549.7 719,551.8 719,554.3 719,559.1 755,562.2 672,564.2 738.1,566.2 659.5,568.3 659.5,577.8 659.5,581.8 737.8,584.9 669.1,586.9 729,588.9 672,591 672,591.9 672,593.5 737.8,596.6 680,598.6 711.1,600.6 670.5,602.7 670.5,606 670.5,609.2 737.8,612.3 664.2,614.3 714.3,616.3 656.4,618.4 656.4,621.6 656.4,621.7 720.6,624.8 661.7,626.8 714,628.8 651.7,630.9 651.7,631 651.7,632.7 719,635.8 663,637.8 699.2,639.8 683,641.9 683,645.1 683,646.8 737.8,649.9 679.7,651.9 732,653.9 675.1,656 675.1,659.2 675.1,659.3 730,662.4 688.1,664.4 713.1,666.4 695.5,668.5 695.5,671.7 695.5,675 711.2,678.1 638.8,680.1 684.2,682.1 628,684.2 628,687.4 628,693.8 701.8,696.9 638.7,698.9 673.7,700.9 628,703 628,706.2 628,739.1 722.1,745.3 745.6,757.9 784.8,770.4 784.8,776.3 628,784.1 628,785.8 730,788.9 633.9,790.9 704.9,792.9 628,795 628,796.6 628,799.9 758.1,803 634.7,805 729.8,807 651.7,809.1 651.7,809.1 628,817 628,929.7 628,929.7 747.2,931.4 641.2,933.4 739.7,935.4 628,937.5 628,939.1 628,939.2 698.6,942.3 630,944.3 688.2,946.3 628,948.4 628,972 720.6,975.1 722.1,979.8 628,986.1 628,1023.7 628,1031.6 690.8,1034.7 642.5,1036.7 674.9,1038.7 670.5,1040.8 670.5,1045.6 770.7,1051.9 758.1,1060 761.3,1060 722.1,1075.7 722.1,1075.7 758.1,1077.3 712.7,1079.3 745.6,1081.3 703.3,1083.4 703.3,1089.8 730,1091.3 730,1097.7 770.7,1100.8 737.6,1102.8 756,1104.8 730,1106.9 730,1111.7 730,1119.6 775.4,1122.7 735.2,1124.7 755.7,1126.7 730,1128.8 730,1130.5 730,1132.1 766,1135.2 679.2,1137.2 738.4,1139.2 670.5,1141.3 670.5,1154 730,1157.1 730,1158.8 773.8,1161.9 661.9,1163.9 745.6,1165.9 651.7,1168 651.7,1174.3 730,1175.9 734.7,1183.7 712.7,1191.5 712.7,1193.2 734.7,1196.3 640.8,1198.3 704.9,1200.3 628,1202.4 628,1204.1 628,1205.7 667.3,1208.8 638.1,1210.8 658.2,1212.8 628,1214.9 628,1216.6 667.3,1222.9 667.3,1227.7 720.6,1230.8 680.2,1232.8 691.4,1234.8 683,1236.9 683,1238.5 683,1240.2 730,1243.3 641.6,1245.3 710.7,1247.3 628,1249.4 628,1252.6 628,1255.8 714.3,1258.9 638.7,1260.9 704,1262.9 628,1265 628,1269.8 628,1280.9 714.3,1284 640.5,1286 695,1288 628,1290.1 628,1301.2 628,1310.5 628,1321.6 714.3,1324.7 632.3,1326.7 707.7,1328.7 628,1330.8 628,1334 628,1335.7 690.8,1338.8 640.8,1340.8 661.1,1342.8 628,1344.9 628,1345 628,1345.1 704.9,1348.2 629.3,1350.2 679.9,1352.2 628,1353.1 628,1353.1 703.3,1354.7 714.3,1365.7 776.9,1368.8 784.8,1381.3 695.5,1382.9 628,1397 683,1401.7 683,1411.2 737.8,1414.3 689.1,1416.3 729,1418.3 683,1418.9 683,1418.9 683,1418.9 722.1,1420.5 632.4,1422.5 697.9,1424.5 628,1426.6 628,1428.3 730,1434.6 742.5,1450.2 723.7,1459.6 720.6,1473.7 679.8,1484.7 679.8,1486.3 745.6,1489.4 692.9,1491.4 739.5,1493.4 726.8,1495.5 726.8,1498.8 628,1509.7 628,1522.3 628,1533.3 703.3,1536.4 637.2,1538.4 697.2,1540.4 679.8,1542.5 679.8,1544.2 628,1559.8 628,1561.5 692.4,1564.6 638.8,1566.6 679.1,1568.6 628,1570.7 628,1575.5 628,1588.1 679.8,1591.2 641.2,1593.2 650.3,1595.2 628,1597.3 628,1600.5 628,1611.6 664.2,1614.7 635.6,1616.7 634.2,1618.7 628,1620.8 628,1624 628,1627.3 676.7,1630.4 632.6,1632.4 669.8,1634.4 628,1636.5 628,1644.4 628,1620 628,1623.2 663.9,1626.3 637,1628.3 658.1,1630.3 628,1632.4 628,1635.5 628,1638.7 659.3,1641.8 631,1643.8 644.1,1645.8 628,1647.9 628,1651 628,1669.7 651.5,1672.8 637.2,1674.8 642.6,1676.8 628,1675.8 628,1675.8 628,1711.5 648.4,1714.6 628.6,1716.6 621.7,1718.6 628,1719.2 628,1719.2 628,1734.7 628,1734.7 789.5,1736.3 632.7,1738.3 760.5,1740.3 628,1742.4 628,1744 628,1744 783.3,1745.6 641.4,1747.6 768.8,1749.6 628,1750.2 628,1750.2 628,1751.8 729,1754.9 634.9,1756.9 711,1758.9 628,1761 628,1762.6 729,1767.3 729,1767.3 758.5,1768.9 729.4,1770.9 738.6,1772.9 719.7,1771.9 719.7,1771.9 719.7,1772 795.7,1775.1 728.1,1777.1 775.2,1779.1 770.9,1781.2 770.9,1781.2 795.7,1785.9 798.8,1790.5 803.4,1810.7 791,1829.3 738.3,1837.1 738.3,1837.1 791,1838.7 738.5,1840.7 773.4,1842.7 724.4,1844.8 724.4,1849.5 794.1,1852.6 789.5,1858.8 789.5,1911.5 789.5,1906" fill="none" stroke="#f00000" stroke-width="6" stroke-linejoin="round" stroke-linecap="round"/></g>
<g clip-path="url(#cb6)"><polyline points="1167.8,481 1167.8,485.4 1167.8,485.4 1222.6,487 1171.4,489 1204,491 1175.6,493.1 1175.6,496.4 1203.8,504.2 1206.9,508.9 1084.8,516.7 1084.8,518.4 1144.3,521.5 1090.3,523.5 1124.2,525.5 1087.9,526.1 1087.9,526.1 1087.9,527.8 1113,530.9 1067.4,532.9 1106.3,534.9 1058,535.5 1058,535.5 1058,546.6 1175.6,549.7 1058.2,551.7 1149.7,553.7 1058,543.3 1058,543.3 1058,557.5 1178.7,560.6 1061.9,562.6 1167.9,564.6 1058,566.7 1058,577.8 1058,581 1152.1,584.1 1072.9,586.1 1135.4,588.1 1058,590.2 1058,606 1058,610.8 1153.7,613.9 1070.5,615.9 1136.8,617.9 1058,620 1058,624.8 1058,631.1 1150.6,634.2 1067.6,636.2 1141.8,638.2 1058,640.3 1058,643.6 1058,648.3 1131.8,651.4 1067.5,653.4 1105.1,655.4 1078.5,657.5 1078.5,660.8 1078.5,665.6 1160,668.7 1065.8,670.7 1136.4,672.7 1058,674.8 1058,684.3 1058,684.3 1120.8,685.9 1068.1,687.9 1114.2,689.9 1058,692 1058,698.4 1058,698.4 1128.6,700 1069.4,702 1108.9,704 1058,706.1 1058,726.5 1058,737.6 1128.6,740.7 1062.5,742.7 1122.9,744.7 1097.3,746.8 1097.3,754.7 1175.6,765.7 1203.8,773.5 1199.1,773.1 1125.5,774.7 1058,784.1 1058,784.1 1160,784.2 1071,786.2 1143.1,788.2 1058,790.3 1058,793.5 1058,793.5 1175.6,793.6 1068.8,795.6 1148.6,797.6 1058,799.7 1058,806 1058,806 1136.5,806.1 1068.7,808.1 1108.4,810.1 1058,812.2 1058,813.8 1058,813.8 1109.8,813.9 1063.9,815.9 1084.8,817.9 1058,817 1058,817 1058,931.3 1058,931.3 1152.1,932.9 1064.7,934.9 1123.7,936.9 1058,939 1058,943.8 1058,943.8 1128.6,943.9 1071.2,945.9 1121.2,947.9 1058,950 1058,973.6 1058,973.6 1128.6,973.6 1060,975.6 1118.2,977.6 1113,979.7 1113,983 1058,987.7 1058,1036.2 1097.3,1042.5 1089.5,1051.9 1175.6,1062.8 1175.6,1060 1136.5,1060 1175.6,1069.4 1175.6,1075.7 1092.6,1089.8 1160,1096 1160,1108.6 1191.3,1111.7 1174.4,1113.7 1175.4,1115.7 1160,1117.8 1160,1122.6 1160,1127.4 1189.7,1130.5 1120.8,1132.5 1177.2,1134.5 1111.4,1136.6 1111.4,1144.6 1058,1154 1058,1158.8 1189.7,1161.9 1065.6,1163.9 1175.1,1165.9 1058,1168 1058,1172.7 1128.6,1179 1128.6,1186.9 1147.4,1190 1063.3,1192 1127.8,1194 1058,1196.1 1058,1200.9 1058,1212 1084.8,1215.1 1066.8,1217.1 1057.2,1219.1 1058,1221.2 1058,1224.4 1134.9,1232.3 1134.9,1238.6 1152.1,1241.7 1068.2,1243.7 1123.9,1245.7 1058,1247.8 1058,1252.6 1058,1259 1133.3,1262.1 1070.8,1264.1 1103.6,1266.1 1097.3,1268.2 1097.3,1276.1 1097.3,1284 1136.5,1287.1 1068.1,1289.1 1127.4,1291.1 1058,1293.2 1058,1299.6 1058,1321.6 1160,1324.7 1070.9,1326.7 1130.8,1328.7 1058,1329.3 1058,1329.3 1058,1331 1122.4,1334.1 1071.6,1336.1 1103.1,1338.1 1058,1340.2 1058,1341.9 1058,1342 1105.1,1345.1 1068.7,1347.1 1094.9,1349.1 1058,1351.2 1058,1351.3 1058,1351.3 1156.8,1352.9 1070.5,1354.9 1137.5,1356.9 1058,1353.1 1058,1353.1 1058,1353.1 1156.8,1353.2 1062.3,1355.2 1150.2,1357.2 1136.5,1359.3 1136.5,1365.7 1203.8,1375.1 1206.9,1379.8 1080.1,1384.5 1080.1,1386.1 1113,1389.2 1070.8,1391.2 1083.2,1393.2 1058,1395.3 1058,1403.2 1058,1408 1141.2,1411.1 1059.3,1413.1 1116.1,1415.1 1058,1417.2 1058,1428.3 1144.3,1437.7 1153.7,1450.2 1160,1459.6 1109.8,1469 1106.7,1484.7 1106.7,1489.5 1139.6,1492.6 1064.2,1494.6 1130.8,1496.6 1058,1498.7 1058,1506.6 1058,1517.7 1105.1,1520.8 1062.4,1522.8 1080.9,1524.8 1058,1526.9 1058,1530.1 1058,1541.1 1105.1,1544.2 1071.1,1546.2 1099,1548.2 1058,1550.3 1058,1553.6 1058,1564.6 1105.1,1567.7 1067.2,1569.7 1099,1571.7 1058,1573.8 1058,1584.9 1058,1611.6 1094.2,1614.7 1068.8,1616.7 1080.9,1618.7 1058,1620.8 1058,1624 1058,1635.1 1097.3,1638.2 1071.2,1640.2 1067.8,1642.2 1058,1620 1058,1620 1058,1623.2 1097,1626.3 1065.6,1628.3 1067,1630.3 1058,1632.4 1058,1635.5 1058,1638.7 1097,1641.8 1062.6,1643.8 1090.1,1645.8 1058,1647.9 1058,1651 1058,1669.7 1081.5,1672.8 1067,1674.8 1075.7,1676.8 1058,1677.4 1058,1677.4 1058,1734.8 1118.7,1737.9 1061,1739.9 1103.5,1741.9 1058,1742.5 1058,1742.5 1058,1751.8 1087.7,1754.9 1067.2,1756.9 1078.8,1758.9 1058,1759.5 1058,1759.5 1058,1770.4 1132.7,1773.5 1058.6,1775.5 1106,1777.5 1058,1779.6 1058,1779.7 1058,1779.7 1132.7,1782.8 1062.7,1784.8 1103.7,1786.8 1058,1788.9 1058,1790.5 1058,1796.8 1137.3,1799.9 1071.4,1801.9 1122.9,1803.9 1058,1806 1058,1806 1058,1807.6 1131.1,1810.7 1064.9,1812.7 1113.1,1814.7 1058,1816.8 1058,1818.4 1058,1820.1 1148.2,1823.2 1067.7,1825.2 1128.3,1827.2 1058,1829.3 1058,1829.3 1058,1829.4 1134.2,1832.5 1066.4,1834.5 1113.7,1836.5 1058,1838.6 1058,1840.2 1104.8,1849.5 1132.7,1855.7 1132.7,1911.5 1132.7,1906" fill="none" stroke="#5c0a78" stroke-width="6" stroke-linejoin="round" stroke-linecap="round"/></g>
<g clip-path="url(#cb5)">
<polygon points="853,486.2 853,486.2 854,486.2 855,486.2 856,486.2 857,486.2 858,486.2 859,486.2 860,486.2 861,486.2 862,486.2 863,486.2 864,486.2 865,486.2 866,486.2 867,486.2 868,486.2 869,486.2 870,486.2 871,486.2 872,486.2 873,486.2 874,486.2 875,486.2 876,486.2 877,486.2 878,486.2 879,486.2 880,486.2 881,486.2 882,486.2 883,486.2 884,486.2 885,486.2 886,486.2 887,486.2 888,486.2 889,486.2 890,486.2 891,486.2 892,486.2 893,486.2 894,486.2 895,486.2 896,486.2 897,486.2 898,486.2 899,486.2 900,486.2 901,486.2 902,486.2 903,486.2 904,486.2 905,486.2 906,486.2 907,486.2 908,486.2 909,486.1 910,486 911,485.9 912,485.7 913,485.4 914,485.1 915,484.8 916,484.6 917,484.3 918,484 919,483.8 920,483.5 921,483.2 922,482.9 923,482.7 924,482.7 925,482.7 926,482.8 927,483 928,483.3 929,483.6 930,483.9 931,484.2 932,484.5 933,484.8 934,485.1 935,485.3 936,485.6 937,485.9 938,486 939,486.1 940,486.2 941,486.2 942,486.2 943,486.2 944,486.2 945,486.2 946,486.2 947,486.2 948,486.2 949,486.2 950,486.2 951,486.2 952,486.2 953,486.2 954,486.2 955,486.2 956,486.2 957,486.2 958,486.2 959,486.2 960,486.2 961,486.2 962,486.2 963,486.2 964,486.2 965,486.2 966,486.2 967,486.2 968,486.2 969,486.2 970,486.2 971,486.2 972,486.2 973,486.2 974,486 975,485.5 976,484.8 977,483.8 978,482.6 979,481.6 980,480.7 981,480 982,479.4 983,479 984,478.6 985,478.2 986,477.8 987,477.4 988,477 989,476.7 990,476.4 991,476.3 992,476.2 993,476.2 994,476.2 995,476.2 996,476.2 997,476.2 998,476.2 999,476.2 1000,476.2 1001,476.2 1002,476.2 1003,476.2 1004,476.2 1005,476.2 1006,476.2 1007,476.2 1008,476.2 1009,476.2 1010,476.2 1011,476.2 1012,476.2 1013,476.2 1014,476.2 1015,476.2 1016,476.2 1017,476.2 1018,476.2 1019,476.2 1020,476.2 1021,476.2 1022,476.2 1023,476.2 1024,476.2 1025,476.2 1026,476.2 1027,476.2 1028,476.2 1029,476.2 1030,476.2 1031,476.2 1032,476.2 1033,476.2 1034,476.2 1035,476.2 1036,476.2 1037,476.2 1038,476.2 1039,476.2 1040,476.2 1041,476.2 1042,476.2 1043,476.2 1044,476.2 1045,476.2 1046,476.2 1047,476.2 1048,476.2 1049,476.2 1050,476.2 1051,476.2 1052,476.2 1053,476.2 1054,476.2 1055,476.2 1056,476.2 1057,476.2 1058,476.2 1059,476.2 1060,476.2 1061,476.2 1062,476.2 1063,476.2 1064,476.2 1065,476.2 1066,476.2 1066,486.2" fill="#006400" stroke="#000" stroke-width="2" stroke-linejoin="round"/>
<polygon points="853,507.1 853,505 854,505.1 855,505.2 856,505.4 857,505.6 858,505.8 859,506 860,506.2 861,506.4 862,506.6 863,506.8 864,506.9 865,507 866,507.1 867,507.1 868,507.1 869,507.1 870,507.1 871,507.1 872,507.1 873,507.1 874,507.1 875,507.1 876,507.1 877,507.1 878,507.1 879,507.1 880,507.1 881,507.1 882,507.1 883,507.1 884,507.1 885,507.1 886,507.1 887,507.1 888,507.1 889,507.1 890,507.1 891,507.1 892,507.1 893,507.1 894,507.1 895,507.1 896,507.1 897,507.1 898,507.1 899,507.1 900,507.1 901,507.1 902,507.1 903,507.1 904,507.1 905,507.1 906,507.1 907,507.1 908,507.1 909,507.1 910,507.1 911,507.1 912,507.1 913,507.1 914,507.1 915,507.1 916,507.1 917,507.1 918,507.1 919,507.1 920,507.1 921,507.1 922,507.1 923,507.1 924,507.1 925,507.1 926,507.1 927,507.1 928,507.1 929,507.1 930,507.1 931,507.1 932,507.1 933,507.1 934,507.1 935,506.9 936,506.7 937,506.3 938,505.9 939,505.5 940,505.1 941,504.7 942,504.3 943,503.9 944,503.6 945,503.2 946,502.9 947,502.6 948,502.3 949,502 950,501.7 951,501.4 952,501.1 953,500.8 954,500.6 955,500.5 956,500.4 957,500.4 958,500.6 959,500.7 960,500.9 961,501 962,501.2 963,501.4 964,501.5 965,501.7 966,501.8 967,502 968,502.1 969,502.2 970,502.2 971,502.3 972,502.4 973,502.4 974,502.5 975,502.5 976,502.6 977,502.6 978,502.7 979,502.7 980,502.8 981,502.8 982,502.9 983,502.9 984,503 985,503 986,503.1 987,503.1 988,503.1 989,502.9 990,502.5 991,502 992,501.3 993,500.5 994,499.8 995,499 996,498.2 997,497.5 998,496.7 999,495.9 1000,495.1 1001,494.3 1002,493.5 1003,492.7 1004,491.9 1005,491.1 1006,490.3 1007,489.5 1008,488.7 1009,488.1 1010,487.5 1011,487 1012,486.6 1013,486.3 1014,486.1 1015,485.8 1016,485.5 1017,485.3 1018,485 1019,484.7 1020,484.5 1021,484.2 1022,483.9 1023,483.7 1024,483.5 1025,483.3 1026,483.2 1027,483.1 1028,483.1 1029,483.1 1030,483.1 1031,483.1 1032,483.1 1033,483.1 1034,483.1 1035,483.1 1036,483.1 1037,483.1 1038,483.1 1039,483.1 1040,483.1 1041,483.1 1042,483.1 1043,483.1 1044,483.1 1045,483.1 1046,483.1 1047,483.1 1048,483.1 1049,483.1 1050,483.1 1051,483.1 1052,483.1 1053,483.1 1054,483.1 1055,483.1 1056,483.1 1057,483.1 1058,483.1 1059,483.1 1060,483.1 1061,483.1 1062,483.1 1063,483.1 1064,483.1 1065,483.1 1066,483.1 1066,507.1" fill="#006400" stroke="#000" stroke-width="2" stroke-linejoin="round"/>
<polygon points="853,528.1 853,528.1 854,528.1 855,528.1 856,528.1 857,528.1 858,528.1 859,528.1 860,528.1 861,528.1 862,528.1 863,528.1 864,528.1 865,528.1 866,528.1 867,528.1 868,528.1 869,528.1 870,528.1 871,528.1 872,528.1 873,528.1 874,528.1 875,528.1 876,528.1 877,528.1 878,528.1 879,528.1 880,528.1 881,528.1 882,528.1 883,528.1 884,528.1 885,528.1 886,528.1 887,528.1 888,528.1 889,528.1 890,528.1 891,528.1 892,528.1 893,528.1 894,528.1 895,528.1 896,528.1 897,528.1 898,528.1 899,528.1 900,528.1 901,528.1 902,528.1 903,528.1 904,528.1 905,528.1 906,528.1 907,528.1 908,528.1 909,528.1 910,528.1 911,528.1 912,528.1 913,528.1 914,528.1 915,528.1 916,528.1 917,528.1 918,528.1 919,528.1 920,528.1 921,528.1 922,528.1 923,528.1 924,528.1 925,528.1 926,528.1 927,528.1 928,528.1 929,528.1 930,528.1 931,528.1 932,528.1 933,528.1 934,528 935,527.9 936,527.8 937,527.5 938,527.2 939,527 940,526.7 941,526.4 942,526.1 943,525.8 944,525.6 945,525.4 946,525.3 947,525.4 948,525.5 949,525.8 950,526 951,526.3 952,526.5 953,526.8 954,527.1 955,527.3 956,527.6 957,527.8 958,527.9 959,528 960,528.1 961,528.1 962,528.1 963,528.1 964,528.1 965,528.1 966,528.1 967,528.1 968,528.1 969,528.1 970,528.1 971,528.1 972,528.1 973,528.1 974,528.1 975,528.1 976,528.1 977,528.1 978,528.1 979,528.1 980,528 981,527.7 982,527 983,526.1 984,524.9 985,523.4 986,521.9 987,520.5 988,519 989,517.5 990,515.9 991,514.2 992,512.5 993,510.7 994,508.9 995,507.1 996,505.3 997,503.5 998,501.7 999,500 1000,498.3 1001,496.7 1002,495.2 1003,493.8 1004,492.4 1005,490.9 1006,489.7 1007,488.7 1008,488 1009,487.4 1010,487 1011,486.7 1012,486.3 1013,486.1 1014,485.9 1015,486 1016,486.1 1017,486.4 1018,486.7 1019,487.1 1020,487.4 1021,487.9 1022,488.5 1023,489.2 1024,490.1 1025,491.1 1026,492.1 1027,493.1 1028,494.1 1029,495.1 1030,496 1031,496.9 1032,497.7 1033,498.5 1034,499.3 1035,500.1 1036,500.9 1037,501.7 1038,502.5 1039,503.3 1040,504.1 1041,504.9 1042,505.7 1043,506.5 1044,507.3 1045,508.2 1046,509.1 1047,510.1 1048,511.1 1049,512.1 1050,513.1 1051,514.1 1052,515.1 1053,516.1 1054,517.1 1055,518.1 1056,519.2 1057,520.3 1058,521.3 1059,522.4 1060,523.5 1061,524.5 1062,525.4 1063,526.2 1064,526.9 1065,527.3 1066,527.5 1066,528.1" fill="#006400" stroke="#000" stroke-width="2" stroke-linejoin="round"/>
<polygon points="853,549 853,549 854,549 855,549 856,549 857,549 858,549 859,549 860,549 861,549 862,549 863,549 864,549 865,549 866,549 867,549 868,549 869,549 870,549 871,549 872,549 873,549 874,549 875,549 876,549 877,549 878,549 879,549 880,549 881,549 882,549 883,549 884,549 885,549 886,549 887,549 888,549 889,549 890,549 891,549 892,549 893,549 894,549 895,549 896,549 897,549 898,549 899,549 900,549 901,549 902,549 903,549 904,549 905,549 906,549 907,549 908,549 909,549 910,549 911,549 912,549 913,549 914,549 915,549 916,549 917,549 918,549 919,549 920,549 921,549 922,549 923,549 924,549 925,549 926,549 927,549 928,549 929,549 930,549 931,549 932,549 933,549 934,549 935,549 936,549 937,549 938,549 939,548.9 940,548.7 941,548.4 942,548 943,547.5 944,547 945,546.5 946,546 947,545.5 948,545 949,544.5 950,544 951,543.5 952,543 953,542.5 954,542 955,541.5 956,541 957,540.5 958,540 959,539.5 960,539 961,538.5 962,538.2 963,538 964,537.9 965,538 966,538.3 967,538.6 968,538.9 969,539.2 970,539.5 971,539.8 972,540.1 973,540.4 974,540.7 975,540.9 976,541.1 977,541.2 978,541.3 979,541.4 980,541.5 981,541.6 982,541.7 983,541.7 984,541.8 985,541.8 986,541.7 987,541.4 988,541 989,540.5 990,539.9 991,539.3 992,538.7 993,538.1 994,537.5 995,536.8 996,536.2 997,535.6 998,535.1 999,534.5 1000,533.9 1001,533.3 1002,532.8 1003,532.2 1004,531.6 1005,531 1006,530.5 1007,529.9 1008,529.3 1009,528.8 1010,528.2 1011,527.7 1012,527.2 1013,526.7 1014,526.3 1015,526 1016,525.7 1017,525.3 1018,525 1019,524.6 1020,524.3 1021,523.9 1022,523.6 1023,523.2 1024,522.9 1025,522.6 1026,522.4 1027,522.3 1028,522.4 1029,522.6 1030,522.9 1031,523.1 1032,523.4 1033,523.7 1034,524 1035,524.3 1036,524.5 1037,524.8 1038,525.1 1039,525.4 1040,525.6 1041,525.9 1042,526.2 1043,526.5 1044,526.8 1045,527.1 1046,527.4 1047,527.7 1048,528 1049,528.3 1050,528.6 1051,528.9 1052,529.2 1053,529.5 1054,529.8 1055,530.1 1056,530.4 1057,530.8 1058,531.1 1059,531.4 1060,531.7 1061,532 1062,532.3 1063,532.6 1064,532.9 1065,533.1 1066,533.2 1066,549" fill="#006400" stroke="#000" stroke-width="2" stroke-linejoin="round"/>
<polygon points="853,570 853,570 854,570 855,570 856,570 857,570 858,570 859,570 860,570 861,570 862,570 863,570 864,570 865,570 866,570 867,570 868,570 869,570 870,570 871,570 872,570 873,570 874,570 875,570 876,570 877,570 878,570 879,570 880,570 881,570 882,570 883,570 884,570 885,570 886,570 887,570 888,570 889,570 890,570 891,570 892,570 893,570 894,570 895,570 896,570 897,570 898,570 899,570 900,570 901,570 902,570 903,570 904,570 905,570 906,570 907,570 908,570 909,570 910,570 911,570 912,570 913,570 914,570 915,570 916,570 917,570 918,570 919,569.9 920,569.8 921,569.7 922,569.5 923,569.3 924,569 925,568.8 926,568.6 927,568.3 928,568.1 929,567.8 930,567.6 931,567.4 932,567.2 933,567.1 934,567.1 935,567.2 936,567.4 937,567.6 938,567.8 939,567.9 940,568.1 941,568.3 942,568.5 943,568.6 944,568.8 945,568.9 946,569 947,569.1 948,569.1 949,569.1 950,569.2 951,569.2 952,569.3 953,569.3 954,569.3 955,569.4 956,569.4 957,569.5 958,569.5 959,569.5 960,569.6 961,569.6 962,569.7 963,569.7 964,569.7 965,569.8 966,569.8 967,569.9 968,569.9 969,569.7 970,569.4 971,568.8 972,568 973,567 974,566 975,565 976,564 977,563 978,562 979,560.9 980,559.9 981,558.7 982,557.6 983,556.4 984,555.2 985,554 986,552.8 987,551.6 988,550.4 989,549.2 990,548 991,546.8 992,545.6 993,544.4 994,543.3 995,542.4 996,541.6 997,540.9 998,540.4 999,539.9 1000,539.4 1001,538.8 1002,538.3 1003,537.8 1004,537.2 1005,536.7 1006,536.2 1007,535.8 1008,535.7 1009,535.7 1010,535.9 1011,536.3 1012,536.7 1013,537.1 1014,537.5 1015,537.9 1016,538.3 1017,538.7 1018,539.2 1019,539.6 1020,540.1 1021,540.7 1022,541.3 1023,542 1024,542.7 1025,543.3 1026,544 1027,544.7 1028,545.3 1029,546 1030,546.7 1031,547.3 1032,548 1033,548.7 1034,549.3 1035,549.9 1036,550.6 1037,551.2 1038,551.8 1039,552.4 1040,553 1041,553.6 1042,554.2 1043,554.8 1044,555.4 1045,556 1046,556.7 1047,557.4 1048,558.1 1049,558.8 1050,559.5 1051,560.2 1052,560.9 1053,561.6 1054,562.2 1055,562.8 1056,563.3 1057,563.7 1058,564.1 1059,564.4 1060,564.8 1061,565.2 1062,565.5 1063,565.9 1064,566.3 1065,566.4 1066,566.6 1066,570" fill="#006400" stroke="#000" stroke-width="2" stroke-linejoin="round"/>
<polygon points="853,590.9 853,588.3 854,588.4 855,588.6 856,588.9 857,589.3 858,589.6 859,589.9 860,590.3 861,590.5 862,590.7 863,590.9 864,590.9 865,590.9 866,590.9 867,590.9 868,590.9 869,590.9 870,590.9 871,590.9 872,590.9 873,590.9 874,590.9 875,590.9 876,590.9 877,590.9 878,590.9 879,590.9 880,590.9 881,590.9 882,590.9 883,590.9 884,590.9 885,590.9 886,590.9 887,590.9 888,590.9 889,590.9 890,590.9 891,590.9 892,590.9 893,590.9 894,590.9 895,590.9 896,590.9 897,590.9 898,590.9 899,590.9 900,590.9 901,590.9 902,590.9 903,590.9 904,590.8 905,590.6 906,590.4 907,590.1 908,589.8 909,589.5 910,589.2 911,588.9 912,588.6 913,588.3 914,588.1 915,587.8 916,587.5 917,587.2 918,586.9 919,586.7 920,586.5 921,586.3 922,586.3 923,586.2 924,586.2 925,586.2 926,586.1 927,586.1 928,586.1 929,586 930,586 931,585.9 932,585.9 933,585.9 934,585.8 935,585.8 936,585.8 937,585.7 938,585.7 939,585.7 940,585.6 941,585.6 942,585.5 943,585.4 944,585.3 945,585.2 946,585 947,584.8 948,584.6 949,584.5 950,584.3 951,584.1 952,583.9 953,583.8 954,583.6 955,583.4 956,583.2 957,583 958,582.9 959,582.7 960,582.5 961,582.3 962,582.2 963,582 964,581.8 965,581.6 966,581.4 967,581.3 968,581.1 969,580.9 970,580.7 971,580.6 972,580.4 973,580.2 974,580 975,579.7 976,579.4 977,579.1 978,578.8 979,578.5 980,578.2 981,577.9 982,577.6 983,577.3 984,577 985,576.7 986,576.4 987,576.1 988,575.8 989,575.5 990,575.2 991,574.9 992,574.6 993,574.3 994,574 995,573.7 996,573.4 997,573.1 998,572.8 999,572.5 1000,572.2 1001,571.9 1002,571.6 1003,571.3 1004,571.1 1005,570.8 1006,570.6 1007,570.4 1008,570.3 1009,570.1 1010,570 1011,569.8 1012,569.7 1013,569.5 1014,569.4 1015,569.2 1016,569.1 1017,568.9 1018,568.8 1019,568.7 1020,568.6 1021,568.6 1022,568.6 1023,568.7 1024,568.8 1025,568.9 1026,569 1027,569.1 1028,569.2 1029,569.3 1030,569.4 1031,569.5 1032,569.6 1033,569.7 1034,569.8 1035,569.9 1036,570 1037,570.1 1038,570.2 1039,570.3 1040,570.4 1041,570.5 1042,570.6 1043,570.7 1044,570.9 1045,571.1 1046,571.3 1047,571.6 1048,571.9 1049,572.2 1050,572.5 1051,572.7 1052,573 1053,573.3 1054,573.6 1055,573.9 1056,574.1 1057,574.4 1058,574.7 1059,575 1060,575.3 1061,575.5 1062,575.8 1063,576.1 1064,576.4 1065,576.5 1066,576.7 1066,590.9" fill="#006400" stroke="#000" stroke-width="2" stroke-linejoin="round"/>
<polygon points="853,611.9 853,611.9 854,611.9 855,611.9 856,611.9 857,611.9 858,611.9 859,611.9 860,611.9 861,611.9 862,611.9 863,611.9 864,611.9 865,611.9 866,611.9 867,611.9 868,611.9 869,611.9 870,611.9 871,611.9 872,611.9 873,611.9 874,611.9 875,611.9 876,611.9 877,611.9 878,611.9 879,611.9 880,611.9 881,611.9 882,611.9 883,611.9 884,611.9 885,611.9 886,611.9 887,611.9 888,611.9 889,611.9 890,611.9 891,611.9 892,611.9 893,611.9 894,611.9 895,611.9 896,611.9 897,611.9 898,611.9 899,611.9 900,611.9 901,611.9 902,611.9 903,611.9 904,611.9 905,611.9 906,611.9 907,611.9 908,611.9 909,611.9 910,611.9 911,611.9 912,611.9 913,611.9 914,611.8 915,611.7 916,611.6 917,611.4 918,611.1 919,610.9 920,610.6 921,610.4 922,610.1 923,609.9 924,609.6 925,609.4 926,609.2 927,609 928,608.9 929,608.9 930,608.9 931,609 932,609.1 933,609.1 934,609.2 935,609.2 936,609.3 937,609.4 938,609.4 939,609.5 940,609.6 941,609.6 942,609.7 943,609.8 944,609.8 945,609.8 946,609.9 947,609.9 948,609.9 949,609.9 950,609.9 951,609.9 952,609.9 953,609.9 954,609.9 955,609.9 956,609.9 957,609.8 958,609.6 959,609.2 960,608.8 961,608.1 962,607.4 963,606.7 964,606 965,605.4 966,604.7 967,604 968,603.3 969,602.6 970,601.9 971,601.3 972,600.7 973,600.2 974,599.6 975,599 976,598.4 977,597.9 978,597.3 979,596.7 980,596.1 981,595.6 982,595 983,594.4 984,593.9 985,593.4 986,593.1 987,593 988,593.1 989,593.3 990,593.6 991,594 992,594.3 993,594.6 994,594.9 995,595.3 996,595.6 997,595.9 998,596.2 999,596.5 1000,596.8 1001,597 1002,597.1 1003,597.3 1004,597.4 1005,597.5 1006,597.6 1007,597.8 1008,597.9 1009,598 1010,598.1 1011,598.3 1012,598.4 1013,598.5 1014,598.4 1015,598.3 1016,598.1 1017,597.9 1018,597.5 1019,597.2 1020,596.9 1021,596.6 1022,596.3 1023,596 1024,595.7 1025,595.4 1026,595.1 1027,594.8 1028,594.5 1029,594.1 1030,593.8 1031,593.4 1032,592.9 1033,592.5 1034,592 1035,591.5 1036,591.1 1037,590.6 1038,590.1 1039,589.7 1040,589.2 1041,588.7 1042,588.3 1043,587.8 1044,587.4 1045,587 1046,586.7 1047,586.5 1048,586.2 1049,586 1050,585.9 1051,585.8 1052,585.8 1053,585.9 1054,586 1055,586.3 1056,586.5 1057,586.8 1058,587 1059,587.2 1060,587.5 1061,587.7 1062,587.9 1063,588.2 1064,588.4 1065,588.5 1066,588.6 1066,611.9" fill="#006400" stroke="#000" stroke-width="2" stroke-linejoin="round"/>
<polygon points="853,632.8 853,630.9 854,630.7 855,630.4 856,630 857,629.6 858,629.1 859,628.7 860,628.2 861,627.8 862,627.4 863,626.9 864,626.5 865,626 866,625.6 867,625.1 868,624.7 869,624.3 870,623.9 871,623.5 872,623.1 873,622.7 874,622.3 875,621.9 876,621.5 877,621.2 878,620.8 879,620.4 880,620 881,619.6 882,619.3 883,618.9 884,618.6 885,618.3 886,618.1 887,617.9 888,617.8 889,617.7 890,617.6 891,617.6 892,617.5 893,617.5 894,617.6 895,617.8 896,618.1 897,618.4 898,618.7 899,619 900,619.3 901,619.6 902,619.9 903,620.2 904,620.6 905,621.1 906,621.7 907,622.4 908,623.2 909,623.9 910,624.7 911,625.5 912,626.3 913,627.1 914,628.1 915,629.2 916,630.3 917,631.3 918,632.1 919,632.6 920,632.8 921,632.8 922,632.8 923,632.8 924,632.8 925,632.8 926,632.8 927,632.8 928,632.8 929,632.8 930,632.8 931,632.8 932,632.8 933,632.8 934,632.8 935,632.8 936,632.8 937,632.8 938,632.8 939,632.8 940,632.8 941,632.8 942,632.8 943,632.8 944,632.8 945,632.8 946,632.8 947,632.8 948,632.8 949,632.8 950,632.6 951,632.4 952,632.1 953,631.8 954,631.4 955,631.1 956,630.7 957,630.3 958,629.8 959,629.3 960,628.6 961,627.9 962,627.1 963,626.3 964,625.5 965,624.7 966,624 967,623.2 968,622.4 969,621.7 970,621.1 971,620.5 972,620 973,619.7 974,619.3 975,618.9 976,618.5 977,618.1 978,617.7 979,617.3 980,616.9 981,616.5 982,616.2 983,615.8 984,615.5 985,615.4 986,615.4 987,615.6 988,615.9 989,616.2 990,616.4 991,616.7 992,617 993,617.3 994,617.6 995,617.9 996,618.2 997,618.5 998,618.8 999,619.2 1000,619.5 1001,619.8 1002,620.2 1003,620.5 1004,620.8 1005,621.2 1006,621.5 1007,621.8 1008,622.2 1009,622.4 1010,622.6 1011,622.6 1012,622.6 1013,622.6 1014,622.5 1015,622.4 1016,622.3 1017,622.2 1018,622.1 1019,622 1020,621.8 1021,621.5 1022,621.2 1023,620.9 1024,620.6 1025,620.2 1026,619.9 1027,619.5 1028,619.2 1029,618.9 1030,618.5 1031,618.2 1032,617.8 1033,617.5 1034,617.2 1035,616.9 1036,616.7 1037,616.5 1038,616.3 1039,616.1 1040,615.9 1041,615.8 1042,615.6 1043,615.4 1044,615.3 1045,615.2 1046,615.3 1047,615.4 1048,615.5 1049,615.7 1050,615.9 1051,616.1 1052,616.3 1053,616.5 1054,616.7 1055,616.9 1056,617.1 1057,617.4 1058,617.6 1059,617.9 1060,618.2 1061,618.5 1062,618.7 1063,619 1064,619.3 1065,619.4 1066,619.5 1066,632.8" fill="#006400" stroke="#000" stroke-width="2" stroke-linejoin="round"/>
<polygon points="853,653.8 853,653.8 854,653.8 855,653.8 856,653.8 857,653.8 858,653.8 859,653.8 860,653.8 861,653.8 862,653.8 863,653.8 864,653.8 865,653.8 866,653.8 867,653.8 868,653.8 869,653.8 870,653.8 871,653.8 872,653.8 873,653.8 874,653.8 875,653.8 876,653.8 877,653.8 878,653.8 879,653.8 880,653.8 881,653.8 882,653.8 883,653.8 884,653.8 885,653.8 886,653.8 887,653.8 888,653.8 889,653.8 890,653.8 891,653.8 892,653.8 893,653.8 894,653.8 895,653.8 896,653.8 897,653.8 898,653.8 899,653.8 900,653.8 901,653.8 902,653.8 903,653.8 904,653.8 905,653.8 906,653.8 907,653.8 908,653.8 909,653.8 910,653.8 911,653.8 912,653.8 913,653.8 914,653.8 915,653.8 916,653.8 917,653.8 918,653.8 919,653.8 920,653.8 921,653.8 922,653.8 923,653.8 924,653.8 925,653.8 926,653.8 927,653.8 928,653.8 929,653.8 930,653.8 931,653.8 932,653.8 933,653.8 934,653.8 935,653.8 936,653.8 937,653.8 938,653.8 939,653.7 940,653.5 941,653.2 942,652.8 943,652.3 944,651.8 945,651.3 946,650.8 947,650.3 948,649.8 949,649.3 950,648.8 951,648.3 952,647.8 953,647.3 954,646.8 955,646.3 956,645.8 957,645.3 958,644.8 959,644.3 960,643.9 961,643.5 962,643.1 963,642.8 964,642.5 965,642.2 966,641.8 967,641.5 968,641.2 969,640.9 970,640.6 971,640.2 972,639.9 973,639.6 974,639.3 975,639 976,638.6 977,638.3 978,638 979,637.7 980,637.4 981,637.1 982,636.9 983,636.7 984,636.5 985,636.4 986,636.3 987,636.2 988,636.1 989,636 990,635.9 991,635.8 992,635.7 993,635.6 994,635.5 995,635.4 996,635.3 997,635.2 998,635.1 999,635 1000,634.9 1001,634.8 1002,634.7 1003,634.6 1004,634.5 1005,634.4 1006,634.3 1007,634.2 1008,634.2 1009,634.1 1010,634 1011,634 1012,633.9 1013,633.9 1014,633.8 1015,633.7 1016,633.7 1017,633.6 1018,633.5 1019,633.5 1020,633.4 1021,633.3 1022,633.3 1023,633.2 1024,633.1 1025,633.1 1026,633 1027,633 1028,632.9 1029,632.9 1030,632.9 1031,633 1032,633 1033,633 1034,633.1 1035,633.1 1036,633.1 1037,633.1 1038,633.2 1039,633.2 1040,633.2 1041,633.3 1042,633.3 1043,633.3 1044,633.4 1045,633.4 1046,633.4 1047,633.5 1048,633.5 1049,633.5 1050,633.6 1051,633.7 1052,633.8 1053,633.9 1054,634 1055,634.1 1056,634.2 1057,634.3 1058,634.4 1059,634.5 1060,634.6 1061,634.7 1062,634.8 1063,634.9 1064,635 1065,635 1066,635.1 1066,653.8" fill="#006400" stroke="#000" stroke-width="2" stroke-linejoin="round"/>
<polygon points="853,674.7 853,671.6 854,671.6 855,671.5 856,671.4 857,671.3 858,671.2 859,671.2 860,671.1 861,671 862,670.9 863,670.8 864,670.7 865,670.6 866,670.5 867,670.4 868,670.3 869,670.3 870,670.3 871,670.3 872,670.4 873,670.6 874,670.7 875,670.9 876,671 877,671.2 878,671.3 879,671.5 880,671.6 881,671.8 882,672 883,672.1 884,672.3 885,672.4 886,672.6 887,672.7 888,672.9 889,673.1 890,673.2 891,673.4 892,673.5 893,673.7 894,673.8 895,674 896,674.1 897,674.3 898,674.4 899,674.5 900,674.6 901,674.7 902,674.7 903,674.7 904,674.7 905,674.7 906,674.7 907,674.7 908,674.7 909,674.7 910,674.7 911,674.7 912,674.7 913,674.7 914,674.7 915,674.7 916,674.7 917,674.7 918,674.7 919,674.7 920,674.7 921,674.7 922,674.7 923,674.7 924,674.7 925,674.7 926,674.7 927,674.7 928,674.7 929,674.7 930,674.7 931,674.7 932,674.7 933,674.7 934,674.7 935,674.7 936,674.7 937,674.7 938,674.7 939,674.7 940,674.6 941,674.6 942,674.5 943,674.4 944,674.2 945,674.1 946,674 947,673.9 948,673.8 949,673.6 950,673.5 951,673.4 952,673.3 953,673.2 954,673 955,672.9 956,672.8 957,672.7 958,672.6 959,672.4 960,672.3 961,672.2 962,672.1 963,672 964,671.8 965,671.7 966,671.5 967,671.3 968,671.1 969,670.9 970,670.7 971,670.5 972,670.3 973,670.1 974,669.9 975,669.7 976,669.5 977,669.3 978,669.1 979,668.8 980,668.4 981,668 982,667.4 983,666.7 984,666 985,665.4 986,664.7 987,664 988,663.4 989,662.7 990,662 991,661.4 992,660.7 993,660 994,659.4 995,658.9 996,658.4 997,657.9 998,657.5 999,657.1 1000,656.7 1001,656.3 1002,655.9 1003,655.5 1004,655.1 1005,654.7 1006,654.4 1007,654 1008,653.6 1009,653.3 1010,652.9 1011,652.5 1012,652.2 1013,651.8 1014,651.5 1015,651.1 1016,650.7 1017,650.4 1018,650 1019,649.7 1020,649.6 1021,649.5 1022,649.6 1023,649.8 1024,650.1 1025,650.4 1026,650.7 1027,651 1028,651.3 1029,651.6 1030,651.8 1031,652.1 1032,652.4 1033,652.7 1034,653 1035,653.3 1036,653.6 1037,653.9 1038,654.1 1039,654.4 1040,654.8 1041,655.1 1042,655.4 1043,655.8 1044,656.1 1045,656.5 1046,656.8 1047,657.2 1048,657.5 1049,657.9 1050,658.2 1051,658.6 1052,658.9 1053,659.3 1054,659.6 1055,660 1056,660.3 1057,660.7 1058,661 1059,661.4 1060,661.7 1061,662.1 1062,662.4 1063,662.8 1064,663.1 1065,663.3 1066,663.5 1066,674.7" fill="#006400" stroke="#000" stroke-width="2" stroke-linejoin="round"/>
<polygon points="853,695.7 853,695.7 854,695.7 855,695.7 856,695.7 857,695.7 858,695.7 859,695.7 860,695.7 861,695.7 862,695.7 863,695.7 864,695.7 865,695.7 866,695.7 867,695.7 868,695.7 869,695.7 870,695.7 871,695.7 872,695.7 873,695.7 874,695.7 875,695.7 876,695.7 877,695.7 878,695.7 879,695.7 880,695.7 881,695.7 882,695.7 883,695.7 884,695.7 885,695.7 886,695.7 887,695.7 888,695.7 889,695.7 890,695.7 891,695.7 892,695.7 893,695.7 894,695.7 895,695.7 896,695.7 897,695.7 898,695.7 899,695.7 900,695.7 901,695.7 902,695.7 903,695.7 904,695.7 905,695.7 906,695.7 907,695.7 908,695.7 909,695.7 910,695.7 911,695.7 912,695.7 913,695.7 914,695.7 915,695.7 916,695.7 917,695.7 918,695.7 919,695.7 920,695.7 921,695.7 922,695.7 923,695.7 924,695.7 925,695.7 926,695.5 927,695 928,694.2 929,693.1 930,691.7 931,690.1 932,688.5 933,686.9 934,685.2 935,683.4 936,681.6 937,679.7 938,677.7 939,675.7 940,673.7 941,671.7 942,669.9 943,668.5 944,667.4 945,666.6 946,666.1 947,665.8 948,665.6 949,665.5 950,665.5 951,665.5 952,665.5 953,665.5 954,665.7 955,666.1 956,666.7 957,667.5 958,668.6 959,669.8 960,671.3 961,673.1 962,675 963,677.2 964,679.3 965,681.4 966,683.3 967,685 968,686.7 969,688.2 970,689.7 971,691.2 972,692.7 973,693.9 974,694.8 975,695.4 976,695.7 977,695.7 978,695.7 979,695.7 980,695.7 981,695.7 982,695.7 983,695.7 984,695.7 985,695.7 986,695.7 987,695.7 988,695.7 989,695.7 990,695.7 991,695.7 992,695.7 993,695.7 994,695.7 995,695.7 996,695.7 997,695.7 998,695.7 999,695.7 1000,695.7 1001,695.7 1002,695.7 1003,695.7 1004,695.4 1005,694.8 1006,693.9 1007,692.7 1008,691.2 1009,689.7 1010,688.2 1011,686.7 1012,685.2 1013,683.7 1014,682.3 1015,681 1016,679.8 1017,678.7 1018,677.7 1019,676.7 1020,675.7 1021,674.7 1022,673.7 1023,672.7 1024,671.8 1025,671.1 1026,670.5 1027,670 1028,669.7 1029,669.3 1030,669.1 1031,669 1032,669.1 1033,669.4 1034,669.8 1035,670.3 1036,670.8 1037,671.2 1038,671.7 1039,672.2 1040,672.8 1041,673.4 1042,674.1 1043,674.8 1044,675.5 1045,676.2 1046,676.9 1047,677.6 1048,678.3 1049,678.9 1050,679.5 1051,680.1 1052,680.6 1053,681.1 1054,681.5 1055,682 1056,682.5 1057,682.9 1058,683.4 1059,683.9 1060,684.3 1061,684.8 1062,685.3 1063,685.8 1064,686.2 1065,686.5 1066,686.7 1066,695.7" fill="#006400" stroke="#000" stroke-width="2" stroke-linejoin="round"/>
<polygon points="853,716.6 853,694 854,694.3 855,694.6 856,695.3 857,696 858,696.8 859,697.7 860,698.6 861,699.6 862,700.6 863,701.6 864,702.6 865,703.5 866,704.2 867,704.7 868,705.2 869,705.4 870,705.7 871,706 872,706.3 873,706.6 874,706.8 875,707.1 876,707.4 877,707.7 878,708 879,708.2 880,708.4 881,708.5 882,708.5 883,708.3 884,708.1 885,707.9 886,707.7 887,707.4 888,707.2 889,707 890,706.7 891,706.5 892,706.3 893,706.1 894,705.9 895,705.7 896,705.5 897,705.3 898,705.2 899,705.1 900,705 901,704.8 902,704.7 903,704.6 904,704.4 905,704.3 906,704.2 907,704.1 908,703.9 909,703.8 910,703.7 911,703.6 912,703.7 913,703.8 914,704.1 915,704.4 916,704.7 917,705 918,705.3 919,705.7 920,706 921,706.3 922,706.6 923,707 924,707.3 925,707.6 926,707.9 927,708.2 928,708.6 929,708.9 930,709.2 931,709.5 932,709.8 933,710 934,710.1 935,710.1 936,710 937,709.9 938,709.7 939,709.6 940,709.4 941,709.2 942,709.1 943,708.9 944,708.8 945,708.6 946,708.5 947,708.4 948,708.3 949,708.2 950,708.1 951,708 952,707.9 953,707.8 954,707.7 955,707.6 956,707.5 957,707.5 958,707.4 959,707.4 960,707.4 961,707.5 962,707.6 963,707.7 964,707.7 965,707.8 966,707.9 967,708 968,708.1 969,708.1 970,708.2 971,708.3 972,708.4 973,708.4 974,708.5 975,708.4 976,708.3 977,708.1 978,707.8 979,707.5 980,707.3 981,707 982,706.7 983,706.5 984,706.2 985,705.9 986,705.7 987,705.4 988,705.1 989,704.9 990,704.6 991,704.3 992,704.1 993,703.8 994,703.6 995,703.3 996,703.1 997,702.8 998,702.5 999,702.3 1000,702 1001,701.8 1002,701.5 1003,701.2 1004,701 1005,700.8 1006,700.8 1007,700.9 1008,701.2 1009,701.6 1010,702.2 1011,702.7 1012,703.3 1013,703.8 1014,704.4 1015,704.9 1016,705.5 1017,706.1 1018,706.8 1019,707.5 1020,708.3 1021,709.1 1022,709.9 1023,710.7 1024,711.6 1025,712.4 1026,713.2 1027,713.9 1028,714.5 1029,715 1030,715.3 1031,715.5 1032,715.6 1033,715.7 1034,715.8 1035,716 1036,716.1 1037,716.2 1038,716.3 1039,716.5 1040,716.5 1041,716.6 1042,716.6 1043,716.6 1044,716.6 1045,716.6 1046,716.6 1047,716.6 1048,716.6 1049,716.6 1050,716.6 1051,716.6 1052,716.6 1053,716.6 1054,716.6 1055,716.6 1056,716.6 1057,716.6 1058,716.6 1059,716.6 1060,716.6 1061,716.6 1062,716.6 1063,716.6 1064,716.6 1065,716.6 1066,716.6 1066,716.6" fill="#006400" stroke="#000" stroke-width="2" stroke-linejoin="round"/>
<polygon points="853,737.6 853,737.6 854,737.6 855,737.6 856,737.6 857,737.6 858,737.6 859,737.6 860,737.6 861,737.6 862,737.6 863,737.6 864,737.6 865,737.6 866,737.6 867,737.6 868,737.6 869,737.6 870,737.6 871,737.6 872,737.6 873,737.6 874,737.6 875,737.6 876,737.6 877,737.6 878,737.6 879,737.5 880,737.3 881,737.1 882,736.8 883,736.4 884,736 885,735.6 886,735.2 887,734.8 888,734.4 889,733.9 890,733.3 891,732.7 892,732 893,731.2 894,730.4 895,729.6 896,728.8 897,728 898,727.2 899,726.5 900,725.8 901,725.3 902,724.9 903,724.6 904,724.3 905,724 906,723.7 907,723.4 908,723.2 909,723 910,722.9 911,722.9 912,723 913,723 914,723 915,723.1 916,723.1 917,723.1 918,723.2 919,723.2 920,723.2 921,723.3 922,723.3 923,723.3 924,723.4 925,723.4 926,723.4 927,723.5 928,723.5 929,723.5 930,723.6 931,723.6 932,723.7 933,723.8 934,723.9 935,723.9 936,724 937,724.1 938,724.2 939,724.2 940,724.3 941,724.4 942,724.5 943,724.7 944,724.9 945,725.1 946,725.4 947,725.7 948,726 949,726.3 950,726.6 951,726.9 952,727.2 953,727.5 954,727.7 955,728 956,728.3 957,728.6 958,729 959,729.4 960,729.9 961,730.5 962,731 963,731.6 964,732.2 965,732.7 966,733.3 967,733.9 968,734.4 969,734.9 970,735.4 971,735.7 972,736 973,736.2 974,736.5 975,736.7 976,736.9 977,737.1 978,737.1 979,736.9 980,736.5 981,735.9 982,735.2 983,734.5 984,733.8 985,733.1 986,732.4 987,731.7 988,731 989,730.3 990,729.6 991,729 992,728.3 993,727.7 994,727.1 995,726.5 996,725.9 997,725.2 998,724.6 999,724 1000,723.4 1001,722.8 1002,722.2 1003,721.7 1004,721.3 1005,720.9 1006,720.5 1007,720.2 1008,719.8 1009,719.5 1010,719.1 1011,718.8 1012,718.7 1013,718.7 1014,718.8 1015,719.1 1016,719.6 1017,720 1018,720.5 1019,720.9 1020,721.3 1021,721.8 1022,722.2 1023,722.7 1024,723.1 1025,723.6 1026,724.1 1027,724.6 1028,725.2 1029,725.7 1030,726.2 1031,726.8 1032,727.3 1033,727.8 1034,728.4 1035,728.9 1036,729.4 1037,730 1038,730.5 1039,731 1040,731.5 1041,732 1042,732.6 1043,733.1 1044,733.6 1045,734.1 1046,734.6 1047,735.1 1048,735.6 1049,736 1050,736.3 1051,736.5 1052,736.7 1053,736.7 1054,736.8 1055,736.9 1056,736.9 1057,737 1058,737.1 1059,737.1 1060,737.2 1061,737.2 1062,737.3 1063,737.4 1064,737.4 1065,737.5 1066,737.5 1066,737.6" fill="#006400" stroke="#000" stroke-width="2" stroke-linejoin="round"/>
<polygon points="853,758.5 853,755.6 854,755.6 855,755.6 856,755.7 857,755.7 858,755.8 859,755.9 860,755.9 861,756 862,756 863,756.1 864,756.1 865,756.2 866,756.3 867,756.3 868,756.4 869,756.4 870,756.3 871,756.2 872,756.1 873,755.9 874,755.7 875,755.5 876,755.3 877,755.1 878,754.9 879,754.7 880,754.5 881,754.3 882,754.1 883,753.9 884,753.7 885,753.5 886,753.3 887,753.1 888,752.9 889,752.7 890,752.5 891,752.2 892,752 893,751.7 894,751.5 895,751.2 896,750.9 897,750.7 898,750.4 899,750.2 900,749.9 901,749.6 902,749.4 903,749.1 904,748.9 905,748.6 906,748.3 907,748.1 908,748 909,748 910,748.1 911,748.4 912,748.8 913,749.1 914,749.5 915,749.9 916,750.3 917,750.6 918,751 919,751.4 920,751.7 921,752.2 922,752.6 923,753.1 924,753.7 925,754.3 926,754.9 927,755.5 928,756.1 929,756.7 930,757.3 931,757.7 932,758 933,758.1 934,758 935,757.8 936,757.6 937,757.3 938,757.1 939,756.9 940,756.7 941,756.4 942,756.2 943,756 944,755.7 945,755.4 946,755 947,754.6 948,754.1 949,753.6 950,753.2 951,752.7 952,752.2 953,751.8 954,751.3 955,750.8 956,750.4 957,749.9 958,749.4 959,749 960,748.7 961,748.4 962,748.2 963,748 964,747.8 965,747.6 966,747.5 967,747.3 968,747.1 969,747 970,746.8 971,746.6 972,746.4 973,746.3 974,746.3 975,746.3 976,746.4 977,746.5 978,746.7 979,746.8 980,747 981,747.1 982,747.3 983,747.4 984,747.6 985,747.7 986,747.9 987,748 988,748.2 989,748.3 990,748.4 991,748.5 992,748.6 993,748.6 994,748.7 995,748.7 996,748.8 997,748.8 998,748.9 999,748.9 1000,749 1001,749 1002,749.1 1003,749.1 1004,749.1 1005,749 1006,748.8 1007,748.5 1008,748.2 1009,747.9 1010,747.5 1011,747.2 1012,746.9 1013,746.5 1014,746.2 1015,745.8 1016,745.5 1017,745.2 1018,744.8 1019,744.5 1020,744.2 1021,743.8 1022,743.5 1023,743.2 1024,742.9 1025,742.6 1026,742.3 1027,742.1 1028,741.8 1029,741.6 1030,741.4 1031,741.2 1032,740.9 1033,740.7 1034,740.5 1035,740.3 1036,740 1037,739.8 1038,739.6 1039,739.4 1040,739.1 1041,738.9 1042,738.7 1043,738.5 1044,738.4 1045,738.2 1046,738.1 1047,738.1 1048,738 1049,737.9 1050,737.9 1051,737.8 1052,737.7 1053,737.7 1054,737.6 1055,737.5 1056,737.5 1057,737.4 1058,737.3 1059,737.3 1060,737.2 1061,737.1 1062,737.1 1063,737 1064,736.9 1065,736.9 1066,736.9 1066,758.5" fill="#006400" stroke="#000" stroke-width="2" stroke-linejoin="round"/>
<polygon points="853,779.4 853,779.4 854,779.4 855,779.4 856,779.4 857,779.4 858,779.4 859,779.4 860,779.4 861,779.4 862,779.4 863,779.4 864,779.4 865,779.4 866,779.4 867,779.4 868,779.4 869,779.4 870,779.4 871,779.4 872,779.4 873,779.4 874,779.4 875,779.4 876,779.4 877,779.4 878,779.4 879,779.4 880,779.4 881,779.4 882,779.4 883,779.4 884,779.4 885,779.4 886,779.4 887,779.4 888,779.4 889,779.4 890,779.4 891,779.4 892,779.4 893,779.4 894,779.4 895,779.4 896,779.4 897,779.4 898,779.4 899,779.4 900,779.4 901,779.4 902,779.4 903,779.4 904,779.4 905,779.4 906,779.4 907,779.4 908,779.4 909,779.4 910,779.4 911,779.4 912,779.4 913,779.4 914,779.4 915,779.4 916,779.4 917,779.4 918,779.4 919,779.4 920,779.4 921,779.4 922,779.4 923,779.4 924,779.4 925,779.4 926,779.4 927,779.4 928,779.4 929,779.4 930,779.4 931,779.4 932,779.4 933,779.4 934,779.4 935,779.4 936,779.4 937,779.4 938,779.4 939,779.3 940,779.1 941,778.7 942,778.2 943,777.6 944,777 945,776.4 946,775.8 947,775.2 948,774.6 949,774.1 950,773.6 951,773.2 952,772.9 953,772.6 954,772.3 955,772 956,771.7 957,771.4 958,771.3 959,771.3 960,771.3 961,771.5 962,771.7 963,771.9 964,772.1 965,772.4 966,772.6 967,772.8 968,773 969,773.2 970,773.4 971,773.5 972,773.7 973,773.8 974,773.9 975,774 976,774.1 977,774.2 978,774.3 979,774.4 980,774.5 981,774.6 982,774.7 983,774.8 984,775 985,775.1 986,775.2 987,775.3 988,775.3 989,775.2 990,775 991,774.6 992,774.1 993,773.5 994,772.9 995,772.3 996,771.8 997,771.2 998,770.6 999,770.1 1000,769.6 1001,769.1 1002,768.7 1003,768.3 1004,768 1005,767.6 1006,767.2 1007,766.9 1008,766.5 1009,766.1 1010,765.8 1011,765.4 1012,765 1013,764.5 1014,763.9 1015,763.3 1016,762.6 1017,762 1018,761.3 1019,760.7 1020,760 1021,759.4 1022,758.7 1023,758 1024,757.4 1025,756.7 1026,756.1 1027,755.4 1028,754.8 1029,754.2 1030,753.7 1031,753.2 1032,752.8 1033,752.5 1034,752.2 1035,751.9 1036,751.6 1037,751.3 1038,751 1039,750.7 1040,750.4 1041,750.1 1042,749.8 1043,749.6 1044,749.5 1045,749.5 1046,749.6 1047,749.7 1048,749.8 1049,750 1050,750.1 1051,750.3 1052,750.4 1053,750.6 1054,750.7 1055,750.9 1056,751 1057,751.1 1058,751.3 1059,751.4 1060,751.6 1061,751.7 1062,751.9 1063,752 1064,752.2 1065,752.2 1066,752.3 1066,779.4" fill="#006400" stroke="#000" stroke-width="2" stroke-linejoin="round"/>
<polygon points="853,800.4 853,800.4 854,800.4 855,800.4 856,800.4 857,800.4 858,800.4 859,800.4 860,800.4 861,800.4 862,800.4 863,800.4 864,800.4 865,800.4 866,800.4 867,800.4 868,800.4 869,800.4 870,800.4 871,800.4 872,800.4 873,800.4 874,800.4 875,800.4 876,800.4 877,800.4 878,800.4 879,800.4 880,800.4 881,800.4 882,800.4 883,800.4 884,800.4 885,800.4 886,800.4 887,800.4 888,800.4 889,800.4 890,800.4 891,800.4 892,800.4 893,800.4 894,800.4 895,800.4 896,800.4 897,800.4 898,800.4 899,800.4 900,800.4 901,800.4 902,800.4 903,800.4 904,800.4 905,800.4 906,800.4 907,800.4 908,800.4 909,800.4 910,800.4 911,800.4 912,800.4 913,800.4 914,800.4 915,800.4 916,800.4 917,800.4 918,800.4 919,800.2 920,799.9 921,799.4 922,798.8 923,798 924,797.2 925,796.4 926,795.6 927,794.8 928,794 929,793.2 930,792.5 931,791.9 932,791.2 933,790.6 934,790.1 935,789.5 936,788.9 937,788.3 938,787.7 939,787.1 940,786.7 941,786.5 942,786.5 943,786.8 944,787.3 945,787.9 946,788.6 947,789.2 948,789.8 949,790.5 950,791.1 951,791.9 952,793 953,794.2 954,795.6 955,797.2 956,798.5 957,799.4 958,800.1 959,800.4 960,800.4 961,800.4 962,800.4 963,800.4 964,800.4 965,800.4 966,800.4 967,800.4 968,800.4 969,800.4 970,800.4 971,800.4 972,800.4 973,800.4 974,800.4 975,800.4 976,800.4 977,800.4 978,800.4 979,800.4 980,800.4 981,800.4 982,800.4 983,800.4 984,800.4 985,800.1 986,799.5 987,798.4 988,796.9 989,794.9 990,792.9 991,790.8 992,788.7 993,786.6 994,784.6 995,782.7 996,781 997,779.4 998,777.9 999,776.4 1000,774.9 1001,773.4 1002,772.1 1003,771 1004,770.1 1005,769.4 1006,768.9 1007,768.4 1008,767.9 1009,767.4 1010,767 1011,766.8 1012,766.8 1013,767 1014,767.3 1015,767.6 1016,768 1017,768.3 1018,768.7 1019,769.1 1020,769.6 1021,770.2 1022,770.9 1023,771.6 1024,772.3 1025,773.1 1026,773.8 1027,774.5 1028,775.3 1029,776 1030,776.7 1031,777.5 1032,778.2 1033,778.9 1034,779.7 1035,780.4 1036,781.1 1037,781.9 1038,782.6 1039,783.3 1040,784.1 1041,784.8 1042,785.5 1043,786.3 1044,787 1045,787.7 1046,788.5 1047,789.2 1048,789.9 1049,790.7 1050,791.4 1051,792.1 1052,792.9 1053,793.6 1054,794.4 1055,795.1 1056,795.9 1057,796.6 1058,797.4 1059,798.1 1060,798.9 1061,799.5 1062,799.9 1063,800.2 1064,800.4 1065,800.4 1066,800.4 1066,800.4" fill="#006400" stroke="#000" stroke-width="2" stroke-linejoin="round"/>
<polygon points="853,821.3 853,807.1 854,806.9 855,806.8 856,806.5 857,806.2 858,805.9 859,805.7 860,805.5 861,805.3 862,805.2 863,805.2 864,805.1 865,805.1 866,805 867,805.1 868,805.2 869,805.4 870,805.7 871,806 872,806.4 873,806.8 874,807.1 875,807.5 876,807.9 877,808.2 878,808.6 879,809.1 880,809.7 881,810.3 882,811.1 883,812 884,812.9 885,813.8 886,814.7 887,815.6 888,816.5 889,817.4 890,818.3 891,819.2 892,820 893,820.6 894,821 895,821.3 896,821.3 897,821.3 898,821.3 899,821.3 900,821.3 901,821.3 902,821.3 903,821.3 904,821.3 905,821.3 906,821.3 907,821.3 908,821.3 909,821.3 910,821.3 911,821.3 912,821.3 913,821.3 914,821.3 915,821.3 916,821.3 917,821.3 918,821.3 919,821.3 920,821.3 921,821.3 922,821.3 923,821.3 924,821.3 925,821.3 926,821.3 927,821.3 928,821.3 929,821.3 930,821.3 931,821.3 932,821.3 933,821.3 934,821.3 935,821.3 936,821.3 937,821.3 938,821.3 939,821.3 940,821.3 941,821.3 942,821.3 943,821.3 944,821.3 945,821.3 946,821.3 947,821.3 948,821.3 949,820.9 950,820 951,818.6 952,816.6 953,814.2 954,811.6 955,809 956,806.5 957,803.8 958,801 959,798.1 960,795.1 961,791.9 962,788.8 963,785.6 964,782.7 965,779.9 966,777.4 967,775.1 968,772.9 969,771.4 970,770.8 971,770.9 972,771.8 973,773.6 974,775.5 975,777.6 976,779.8 977,782.3 978,784.8 979,787.6 980,790.3 981,793.1 982,795.8 983,798.5 984,801.1 985,803.6 986,806 987,808.4 988,810.7 989,813.1 990,815.5 991,817.6 992,819.2 993,820.4 994,821.1 995,821.3 996,821.3 997,821.3 998,821.3 999,821.3 1000,821.3 1001,821.3 1002,821.3 1003,821.3 1004,821.3 1005,821.3 1006,821.3 1007,821.3 1008,821.3 1009,821.3 1010,821.3 1011,821.3 1012,821.3 1013,821.3 1014,821.3 1015,821.3 1016,821.3 1017,821.3 1018,821.3 1019,821.3 1020,821.3 1021,821.3 1022,821.3 1023,821.3 1024,821.3 1025,821.3 1026,821.3 1027,821.3 1028,821.3 1029,821.3 1030,821.3 1031,821.3 1032,821.3 1033,821.3 1034,821.3 1035,821.3 1036,821.3 1037,821.3 1038,821.3 1039,821.3 1040,821.3 1041,821.3 1042,821.3 1043,821.3 1044,821.3 1045,821.3 1046,821.3 1047,821.3 1048,821.3 1049,821.1 1050,820.7 1051,820.1 1052,819.3 1053,818.3 1054,817.3 1055,816.3 1056,815.3 1057,814.3 1058,813.3 1059,812.2 1060,811.1 1061,810 1062,808.8 1063,807.7 1064,806.6 1065,806 1066,805.5 1066,821.3" fill="#006400" stroke="#000" stroke-width="2" stroke-linejoin="round"/>
<polygon points="853,842.3 853,752.4 854,752.5 855,753.6 856,755.6 857,758.6 858,762.5 859,767.7 860,773.2 861,778.9 862,785 863,791.4 864,797.6 865,803.6 866,809.3 867,814.8 868,820.1 869,824.9 870,829.4 871,833.6 872,837 873,839.4 874,841.1 875,842.1 876,842.3 877,842.3 878,842.3 879,842.3 880,842.3 881,842.3 882,842.3 883,842.3 884,842.3 885,842.3 886,842.3 887,842.3 888,842.3 889,842.3 890,842.3 891,842.3 892,842.3 893,842.3 894,842.3 895,842.3 896,842.3 897,842.3 898,842.3 899,842.3 900,842.3 901,842.3 902,842.3 903,842.3 904,842.3 905,842.3 906,842.3 907,842.3 908,842.3 909,842.3 910,842.3 911,842.3 912,842.3 913,842.3 914,842.3 915,842.3 916,842.3 917,842.3 918,842.3 919,842.3 920,842.3 921,842.3 922,842.3 923,842.3 924,842.3 925,842.3 926,842.3 927,842.3 928,842.3 929,842.3 930,842.3 931,842.3 932,842.3 933,842.3 934,842.3 935,842.3 936,842.3 937,842.3 938,842.3 939,842.3 940,842.3 941,842.3 942,842.3 943,842.3 944,842.3 945,842.3 946,842.3 947,842.3 948,842.3 949,842.3 950,842.3 951,842.3 952,842.3 953,842.3 954,842.3 955,842.3 956,842.3 957,842.3 958,842.3 959,842.3 960,842.3 961,842.3 962,842.3 963,842.3 964,842.3 965,842.3 966,842.3 967,842.3 968,842.3 969,842.3 970,842.3 971,842.3 972,842.3 973,842.3 974,842.3 975,842.3 976,842.3 977,842.3 978,842.3 979,842.3 980,842.3 981,842.3 982,842.3 983,842.3 984,842.3 985,842.3 986,842.3 987,842.3 988,842.3 989,842.3 990,842.3 991,842.3 992,842.3 993,842.3 994,842.3 995,842.3 996,842.3 997,842.3 998,842.3 999,842.3 1000,842.3 1001,842.3 1002,842.3 1003,842.3 1004,842.3 1005,842.3 1006,842.3 1007,842.3 1008,842.3 1009,842.3 1010,842.3 1011,842.3 1012,842.3 1013,841.3 1014,839.3 1015,836.3 1016,832.3 1017,827.9 1018,824 1019,820.8 1020,818.1 1021,816 1022,814.1 1023,813.1 1024,812.7 1025,813.1 1026,814.2 1027,815.7 1028,817.2 1029,818.8 1030,820.6 1031,822.4 1032,824.3 1033,826.3 1034,828.3 1035,830.3 1036,832.1 1037,833.8 1038,835.3 1039,836.6 1040,837.8 1041,839 1042,840.1 1043,841 1044,841.7 1045,842.1 1046,842.3 1047,842.3 1048,842.3 1049,842.3 1050,842.3 1051,842.3 1052,842.3 1053,842.3 1054,842.3 1055,842.3 1056,842.3 1057,842.3 1058,842.3 1059,842.3 1060,842.3 1061,842.3 1062,842.3 1063,842.3 1064,842.3 1065,842.3 1066,842.3 1066,842.3" fill="#006400" stroke="#000" stroke-width="2" stroke-linejoin="round"/>
<polygon points="853,863.2 853,843.7 854,843.6 855,843.5 856,843.4 857,843.2 858,843.1 859,842.9 860,842.8 861,842.6 862,842.5 863,842.3 864,842.1 865,842 866,841.8 867,841.7 868,841.5 869,841.4 870,841.3 871,841.2 872,841.1 873,841.1 874,841 875,841 876,840.9 877,840.9 878,840.8 879,840.8 880,840.7 881,840.7 882,840.6 883,840.6 884,840.5 885,840.5 886,840.4 887,840.4 888,840.3 889,840.3 890,840.2 891,840.2 892,840.1 893,840.1 894,840.1 895,840 896,840.1 897,840.2 898,840.4 899,840.7 900,841 901,841.4 902,841.7 903,842 904,842.3 905,842.6 906,843 907,843.3 908,843.6 909,844 910,844.5 911,845 912,845.6 913,846.3 914,847 915,847.7 916,848.4 917,849.1 918,849.8 919,850.5 920,851 921,851.5 922,851.9 923,852.2 924,852.5 925,852.8 926,853.2 927,853.5 928,853.8 929,854.1 930,854.4 931,854.8 932,855.1 933,855.4 934,855.7 935,856.1 936,856.4 937,856.7 938,857 939,857.3 940,857.7 941,858 942,858.3 943,858.6 944,858.8 945,859.1 946,859.3 947,859.6 948,859.8 949,860 950,860.3 951,860.5 952,860.7 953,861 954,861.2 955,861.4 956,861.6 957,861.9 958,862 959,862.2 960,862.3 961,862.3 962,862.4 963,862.4 964,862.5 965,862.5 966,862.5 967,862.6 968,862.6 969,862.7 970,862.7 971,862.7 972,862.8 973,862.8 974,862.9 975,862.9 976,862.9 977,863 978,863 979,863.1 980,863.1 981,863.1 982,862.4 983,861 984,858.7 985,855.7 986,852.5 987,849.9 988,847.9 989,846.4 990,845.4 991,844.7 992,844.4 993,844.6 994,845.3 995,846.4 996,847.9 997,849.6 998,851.3 999,853.2 1000,855.2 1001,857.2 1002,859.2 1003,860.8 1004,862 1005,862.8 1006,863.2 1007,863.2 1008,863.2 1009,863.2 1010,863.2 1011,863.2 1012,863.2 1013,863.2 1014,863.2 1015,863.2 1016,863.2 1017,863.2 1018,863.2 1019,863.2 1020,863.2 1021,863.2 1022,863.2 1023,863.2 1024,863.2 1025,863.2 1026,863.2 1027,863.2 1028,863.2 1029,863.2 1030,863.2 1031,863.2 1032,863.2 1033,863.2 1034,863.2 1035,863.2 1036,863.2 1037,863.2 1038,863.2 1039,863.2 1040,863.2 1041,863.2 1042,863.2 1043,863.2 1044,863.2 1045,863.2 1046,863.2 1047,863.2 1048,863.2 1049,863.2 1050,863.2 1051,863.2 1052,863.2 1053,863.2 1054,863.2 1055,863.2 1056,863.2 1057,863.2 1058,863.2 1059,863.2 1060,863.2 1061,863.2 1062,863.2 1063,863.2 1064,863.2 1065,863.2 1066,863.2 1066,863.2" fill="#006400" stroke="#000" stroke-width="2" stroke-linejoin="round"/>
<polygon points="853,884.2 853,869.9 854,869.7 855,869.6 856,869.3 857,868.9 858,868.6 859,868.3 860,868 861,867.7 862,867.4 863,867.1 864,866.8 865,866.5 866,866.3 867,866.1 868,866 869,865.9 870,865.8 871,865.7 872,865.6 873,865.5 874,865.4 875,865.3 876,865.2 877,865.1 878,865.1 879,865 880,864.9 881,865 882,865.1 883,865.3 884,865.6 885,865.9 886,866.2 887,866.5 888,866.8 889,867 890,867.3 891,867.6 892,867.9 893,868.2 894,868.5 895,868.8 896,869 897,869.3 898,869.6 899,869.9 900,870.3 901,870.8 902,871.2 903,871.8 904,872.3 905,872.8 906,873.4 907,873.9 908,874.4 909,875 910,875.5 911,876 912,876.6 913,877.1 914,877.7 915,878.3 916,878.9 917,879.5 918,880.2 919,880.8 920,881.5 921,882.2 922,882.8 923,883.4 924,883.8 925,884 926,884.2 927,884.2 928,884.2 929,884.2 930,884.2 931,884.2 932,884.2 933,884.2 934,884.2 935,884.2 936,884.2 937,884.2 938,884.2 939,884.2 940,884.2 941,884.2 942,884.2 943,884.2 944,884.2 945,884.2 946,884.2 947,884.2 948,884.2 949,884.1 950,883.8 951,883.2 952,882.4 953,881.3 954,880 955,878.7 956,877.4 957,876.1 958,874.8 959,873.4 960,872 961,870.5 962,869 963,867.4 964,865.8 965,864.2 966,862.6 967,861 968,859.4 969,857.9 970,856.6 971,855.3 972,854.2 973,853.3 974,852.3 975,851.3 976,850.7 977,850.4 978,850.5 979,851 980,851.8 981,852.7 982,853.6 983,854.4 984,855.5 985,856.8 986,858.4 987,860.2 988,862.2 989,864.2 990,866.2 991,868.2 992,870.7 993,873.6 994,876.8 995,879.6 996,882 997,883.6 998,884.2 999,884.2 1000,884.2 1001,884.2 1002,884.2 1003,884.2 1004,884.2 1005,884.2 1006,884.2 1007,884.2 1008,884.2 1009,884.2 1010,884.2 1011,884.2 1012,884.2 1013,884.2 1014,884.2 1015,884.2 1016,884.2 1017,884.2 1018,884.2 1019,884.2 1020,884.2 1021,884.2 1022,884.2 1023,884.2 1024,884.2 1025,884.2 1026,884.2 1027,884.2 1028,884.2 1029,884.2 1030,884.2 1031,884.2 1032,884.2 1033,884.2 1034,884.2 1035,884.2 1036,884.2 1037,884.2 1038,884.2 1039,884.2 1040,884.2 1041,884.2 1042,884.2 1043,884.2 1044,884.2 1045,884.2 1046,884.2 1047,884.2 1048,884.2 1049,884.2 1050,884.2 1051,884.2 1052,884.2 1053,884.2 1054,884.2 1055,884.2 1056,884.2 1057,884.2 1058,884.2 1059,884.2 1060,884.2 1061,884.2 1062,884.2 1063,884.2 1064,884.2 1065,884.2 1066,884.2 1066,884.2" fill="#006400" stroke="#000" stroke-width="2" stroke-linejoin="round"/>
<polygon points="853,905.1 853,905.1 854,905.1 855,905.1 856,905.1 857,905.1 858,905.1 859,905.1 860,905.1 861,905.1 862,905.1 863,905.1 864,905.1 865,905.1 866,905.1 867,905.1 868,905.1 869,905.1 870,905.1 871,905.1 872,905.1 873,905.1 874,905.1 875,905.1 876,905.1 877,905.1 878,905.1 879,905.1 880,905.1 881,905.1 882,905.1 883,905.1 884,905.1 885,905.1 886,905.1 887,905.1 888,905.1 889,905.1 890,905.1 891,905.1 892,905.1 893,905.1 894,905.1 895,905.1 896,905.1 897,905.1 898,905.1 899,905.1 900,905.1 901,905.1 902,905.1 903,905.1 904,905 905,904.8 906,904.4 907,903.9 908,903.3 909,902.7 910,902 911,901.4 912,900.8 913,900.2 914,899.6 915,899 916,898.4 917,897.7 918,897.1 919,896.4 920,895.8 921,895.1 922,894.5 923,893.8 924,893.1 925,892.5 926,891.8 927,891.1 928,890.5 929,889.8 930,889.3 931,888.7 932,888.3 933,887.8 934,887.4 935,887 936,886.6 937,886.1 938,885.7 939,885.3 940,884.9 941,884.8 942,884.8 943,885 944,885.4 945,885.9 946,886.3 947,886.8 948,887.3 949,887.7 950,888.2 951,888.8 952,889.4 953,890.2 954,891.1 955,892.1 956,893.1 957,894.1 958,895.1 959,896.1 960,897.1 961,898.1 962,899.1 963,900.1 964,901.1 965,902.1 966,903.1 967,903.9 968,904.5 969,904.9 970,905.1 971,905.1 972,905.1 973,905.1 974,905.1 975,905.1 976,905.1 977,905.1 978,905.1 979,905.1 980,905.1 981,905.1 982,905.1 983,905.1 984,905.1 985,904.7 986,903.8 987,902.5 988,900.8 989,898.7 990,896.5 991,894.4 992,892.3 993,890.1 994,888 995,885.8 996,883.7 997,881.5 998,879.4 999,877.5 1000,875.9 1001,874.5 1002,873.4 1003,872.5 1004,871.7 1005,870.9 1006,870.4 1007,870.2 1008,870.3 1009,870.6 1010,871.1 1011,871.6 1012,872.1 1013,872.9 1014,874 1015,875.4 1016,877.1 1017,879.1 1018,881.1 1019,883.1 1020,884.9 1021,886.8 1022,888.5 1023,890.3 1024,892 1025,893.7 1026,895.6 1027,897.7 1028,900 1029,901.9 1030,903.5 1031,904.6 1032,905.1 1033,905.1 1034,905.1 1035,905.1 1036,905.1 1037,905.1 1038,905.1 1039,905.1 1040,905.1 1041,905.1 1042,905.1 1043,905.1 1044,905.1 1045,905.1 1046,905.1 1047,905.1 1048,905.1 1049,905.1 1050,905.1 1051,905.1 1052,905.1 1053,905.1 1054,905.1 1055,905.1 1056,905.1 1057,905.1 1058,905.1 1059,905.1 1060,905.1 1061,905.1 1062,905.1 1063,905.1 1064,905.1 1065,905.1 1066,905.1 1066,905.1" fill="#006400" stroke="#000" stroke-width="2" stroke-linejoin="round"/>
<polygon points="853,926.1 853,907.3 854,907.6 855,907.9 856,908.5 857,909.1 858,909.7 859,910.3 860,910.9 861,911.5 862,912.1 863,912.8 864,913.5 865,914.2 866,914.9 867,915.6 868,916.3 869,917 870,917.7 871,918.3 872,918.9 873,919.4 874,919.8 875,920.2 876,920.6 877,921 878,921.4 879,921.8 880,922.2 881,922.6 882,923 883,923.3 884,923.7 885,924.1 886,924.5 887,924.9 888,925.3 889,925.6 890,925.8 891,926 892,926.1 893,926.1 894,926.1 895,926.1 896,926.1 897,926.1 898,926.1 899,926.1 900,926.1 901,926.1 902,926.1 903,926.1 904,926.1 905,926.1 906,926.1 907,926.1 908,926.1 909,926.1 910,926.1 911,926.1 912,926.1 913,926.1 914,926.1 915,926.1 916,926.1 917,926.1 918,926 919,925.8 920,925.4 921,924.7 922,923.9 923,922.9 924,921.9 925,921 926,920 927,919 928,918 929,917.1 930,916.3 931,915.5 932,914.9 933,914.3 934,913.7 935,913.1 936,912.5 937,911.9 938,911.3 939,910.7 940,910.1 941,909.5 942,909 943,908.8 944,908.8 945,908.9 946,909.2 947,909.5 948,909.8 949,910.2 950,910.5 951,910.8 952,911.1 953,911.4 954,911.7 955,912.1 956,912.4 957,912.7 958,913 959,913.2 960,913.5 961,913.8 962,914.1 963,914.4 964,914.7 965,915 966,915.3 967,915.6 968,915.9 969,916.2 970,916.3 971,916.4 972,916.3 973,916.1 974,915.7 975,915.4 976,915.1 977,914.7 978,914.4 979,914.1 980,913.7 981,913.4 982,913.1 983,912.7 984,912.4 985,912.1 986,911.9 987,911.6 988,911.4 989,911.1 990,910.9 991,910.7 992,910.5 993,910.2 994,910 995,909.8 996,909.5 997,909.3 998,909.1 999,908.8 1000,908.6 1001,908.4 1002,908.2 1003,907.9 1004,907.8 1005,907.9 1006,908.1 1007,908.5 1008,909 1009,909.5 1010,910 1011,910.5 1012,911 1013,911.5 1014,912 1015,912.5 1016,913.1 1017,913.6 1018,914.2 1019,914.9 1020,915.7 1021,916.5 1022,917.3 1023,918.1 1024,918.9 1025,919.7 1026,920.5 1027,921.2 1028,921.9 1029,922.5 1030,923.1 1031,923.6 1032,924.1 1033,924.6 1034,925.1 1035,925.5 1036,925.8 1037,926 1038,926.1 1039,926.1 1040,926.1 1041,926.1 1042,926.1 1043,926.1 1044,926.1 1045,926.1 1046,926.1 1047,926.1 1048,926.1 1049,926.1 1050,926.1 1051,926.1 1052,926.1 1053,926.1 1054,926.1 1055,926.1 1056,926.1 1057,926.1 1058,926.1 1059,926.1 1060,926.1 1061,926.1 1062,926.1 1063,926.1 1064,926.1 1065,926.1 1066,926.1 1066,926.1" fill="#006400" stroke="#000" stroke-width="2" stroke-linejoin="round"/>
<polygon points="853,947 853,942.6 854,942.4 855,942.2 856,941.7 857,941.2 858,940.8 859,940.3 860,939.8 861,939.4 862,938.9 863,938.4 864,938 865,937.5 866,937.2 867,936.9 868,936.7 869,936.5 870,936.4 871,936.2 872,936.1 873,935.9 874,935.7 875,935.6 876,935.4 877,935.3 878,935.1 879,934.9 880,934.8 881,934.8 882,934.8 883,935 884,935.1 885,935.3 886,935.5 887,935.6 888,935.8 889,936 890,936.2 891,936.3 892,936.5 893,936.7 894,936.8 895,937 896,937.1 897,937.2 898,937.3 899,937.4 900,937.5 901,937.5 902,937.6 903,937.7 904,937.8 905,937.9 906,938 907,938.1 908,938.2 909,938.2 910,938.3 911,938.4 912,938.3 913,938.2 914,938 915,937.8 916,937.5 917,937.3 918,937 919,936.8 920,936.5 921,936.3 922,936 923,935.8 924,935.5 925,935.3 926,935 927,934.8 928,934.5 929,934.3 930,934 931,933.8 932,933.6 933,933.4 934,933.2 935,933.1 936,932.9 937,932.7 938,932.5 939,932.3 940,932.1 941,931.9 942,931.8 943,931.9 944,932 945,932.3 946,932.7 947,933 948,933.4 949,933.8 950,934.2 951,934.6 952,935 953,935.3 954,935.7 955,936.1 956,936.5 957,936.9 958,937.2 959,937.6 960,938 961,938.4 962,938.7 963,939.1 964,939.5 965,939.8 966,940.2 967,940.6 968,940.9 969,941.3 970,941.7 971,942 972,942.4 973,942.6 974,942.6 975,942.4 976,942.1 977,941.6 978,941.1 979,940.6 980,940.1 981,939.6 982,939.1 983,938.6 984,938 985,937.5 986,937 987,936.5 988,936 989,935.6 990,935.1 991,934.8 992,934.5 993,934.2 994,933.9 995,933.6 996,933.3 997,933.1 998,932.8 999,932.5 1000,932.2 1001,932 1002,931.7 1003,931.4 1004,931.1 1005,930.8 1006,930.6 1007,930.4 1008,930.4 1009,930.5 1010,930.7 1011,931.1 1012,931.4 1013,931.8 1014,932.2 1015,932.5 1016,932.9 1017,933.2 1018,933.6 1019,933.9 1020,934.3 1021,934.7 1022,935.2 1023,935.8 1024,936.4 1025,937.1 1026,937.8 1027,938.5 1028,939.2 1029,939.9 1030,940.6 1031,941.2 1032,941.9 1033,942.6 1034,943.3 1035,943.9 1036,944.3 1037,944.7 1038,944.9 1039,944.9 1040,945 1041,945.1 1042,945.2 1043,945.2 1044,945.3 1045,945.4 1046,945.5 1047,945.6 1048,945.6 1049,945.7 1050,945.8 1051,945.9 1052,945.9 1053,946 1054,946.1 1055,946.2 1056,946.2 1057,946.3 1058,946.4 1059,946.5 1060,946.6 1061,946.6 1062,946.7 1063,946.8 1064,946.9 1065,946.9 1066,946.9 1066,947" fill="#006400" stroke="#000" stroke-width="2" stroke-linejoin="round"/>
<polygon points="853,968 853,967.2 854,966.9 855,966.5 856,965.8 857,965.1 858,964.4 859,963.6 860,962.8 861,962 862,961.2 863,960.3 864,959.4 865,958.5 866,957.6 867,956.7 868,955.8 869,954.9 870,954.2 871,953.5 872,953 873,952.5 874,952 875,951.5 876,951 877,950.5 878,950 879,949.5 880,949.2 881,949.1 882,949.2 883,949.5 884,950 885,950.5 886,951 887,951.5 888,952 889,952.5 890,953 891,953.6 892,954.4 893,955.4 894,956.5 895,957.7 896,959 897,960.2 898,961.5 899,962.7 900,964 901,965.3 902,966.4 903,967.2 904,967.7 905,968 906,968 907,968 908,968 909,968 910,968 911,968 912,968 913,968 914,968 915,968 916,968 917,968 918,968 919,968 920,968 921,968 922,968 923,968 924,967.8 925,967.4 926,966.8 927,966 928,965 929,964 930,963 931,962 932,961 933,960 934,959 935,958 936,957.1 937,956.1 938,955.2 939,954.3 940,953.4 941,952.4 942,951.5 943,950.6 944,949.7 945,948.7 946,947.9 947,947.3 948,947.1 949,947.1 950,947.3 951,947.8 952,948.3 953,948.7 954,949.2 955,949.6 956,950.1 957,950.6 958,951 959,951.5 960,951.9 961,952.3 962,952.7 963,953.1 964,953.4 965,953.8 966,954.2 967,954.5 968,954.9 969,955.3 970,955.6 971,955.9 972,956.1 973,956.3 974,956.4 975,956.4 976,956.4 977,956.4 978,956.4 979,956.4 980,956.4 981,956.4 982,956.4 983,956.4 984,956.4 985,956.4 986,956.4 987,956.4 988,956.4 989,956.3 990,956.3 991,956.3 992,956.3 993,956.2 994,956.1 995,956.1 996,956 997,956 998,955.9 999,955.9 1000,955.8 1001,955.8 1002,955.7 1003,955.7 1004,955.7 1005,955.7 1006,955.8 1007,955.9 1008,956.1 1009,956.3 1010,956.4 1011,956.6 1012,956.8 1013,957 1014,957.1 1015,957.3 1016,957.5 1017,957.7 1018,957.8 1019,958 1020,958.2 1021,958.4 1022,958.6 1023,958.7 1024,958.9 1025,959.1 1026,959.3 1027,959.4 1028,959.6 1029,959.7 1030,959.8 1031,959.8 1032,959.8 1033,959.7 1034,959.6 1035,959.5 1036,959.4 1037,959.3 1038,959.2 1039,959.1 1040,959 1041,958.9 1042,958.8 1043,958.8 1044,958.7 1045,958.7 1046,958.7 1047,958.7 1048,958.7 1049,958.7 1050,958.7 1051,958.8 1052,958.8 1053,958.8 1054,958.8 1055,958.8 1056,958.8 1057,958.8 1058,958.8 1059,958.9 1060,958.9 1061,958.9 1062,958.9 1063,958.9 1064,958.9 1065,958.9 1066,958.9 1066,968" fill="#006400" stroke="#000" stroke-width="2" stroke-linejoin="round"/>
<polygon points="853,988.9 853,969.4 854,969.7 855,969.9 856,970.4 857,970.9 858,971.4 859,971.9 860,972.4 861,972.9 862,973.4 863,973.9 864,974.4 865,974.9 866,975.4 867,976 868,976.5 869,977 870,977.6 871,978.1 872,978.6 873,979.2 874,979.7 875,980.2 876,980.8 877,981.3 878,981.8 879,982.4 880,982.9 881,983.4 882,983.8 883,984.3 884,984.8 885,985.2 886,985.7 887,986.1 888,986.6 889,987.1 890,987.5 891,988 892,988.4 893,988.6 894,988.8 895,988.9 896,988.9 897,988.9 898,988.9 899,988.9 900,988.9 901,988.9 902,988.9 903,988.9 904,988.9 905,988.9 906,988.9 907,988.9 908,988.9 909,988.9 910,988.9 911,988.9 912,988.9 913,988.9 914,988.9 915,988.9 916,988.9 917,988.9 918,988.9 919,988.9 920,988.9 921,988.9 922,988.9 923,988.9 924,988.9 925,988.9 926,988.9 927,988.9 928,988.9 929,988.9 930,988.9 931,988.9 932,988.9 933,988.9 934,988.9 935,988.9 936,988.9 937,988.9 938,988.9 939,988.7 940,988.3 941,987.7 942,986.9 943,985.9 944,984.9 945,983.9 946,982.9 947,981.9 948,980.9 949,979.9 950,979 951,978.1 952,977.3 953,976.5 954,975.7 955,974.9 956,974.1 957,973.3 958,972.5 959,971.8 960,971.2 961,970.6 962,970.2 963,969.8 964,969.4 965,969 966,968.7 967,968.5 968,968.5 969,968.7 970,969.1 971,969.5 972,970 973,970.5 974,971 975,971.5 976,971.9 977,972.4 978,972.8 979,973.2 980,973.5 981,973.8 982,974.2 983,974.5 984,974.8 985,975.1 986,975.4 987,975.7 988,976 989,976.1 990,976.1 991,975.9 992,975.6 993,975.3 994,975 995,974.6 996,974.3 997,973.9 998,973.6 999,973.3 1000,972.9 1001,972.6 1002,972.3 1003,972 1004,971.7 1005,971.4 1006,971.1 1007,970.8 1008,970.6 1009,970.3 1010,970 1011,969.7 1012,969.4 1013,969.2 1014,969.1 1015,969.2 1016,969.4 1017,969.8 1018,970.2 1019,970.6 1020,971 1021,971.3 1022,971.7 1023,972.1 1024,972.5 1025,972.9 1026,973.3 1027,973.7 1028,974.1 1029,974.6 1030,975.1 1031,975.8 1032,976.5 1033,977.2 1034,978 1035,978.8 1036,979.6 1037,980.3 1038,981.1 1039,981.9 1040,982.7 1041,983.5 1042,984.2 1043,985 1044,985.8 1045,986.6 1046,987.3 1047,988 1048,988.4 1049,988.7 1050,988.9 1051,988.9 1052,988.9 1053,988.9 1054,988.9 1055,988.9 1056,988.9 1057,988.9 1058,988.9 1059,988.9 1060,988.9 1061,988.9 1062,988.9 1063,988.9 1064,988.9 1065,988.9 1066,988.9 1066,988.9" fill="#006400" stroke="#000" stroke-width="2" stroke-linejoin="round"/>
<polygon points="853,1009.9 853,998.2 854,998.1 855,998.1 856,998 857,997.9 858,997.8 859,997.8 860,997.7 861,997.6 862,997.5 863,997.4 864,997.3 865,997.3 866,997.2 867,997.1 868,997 869,996.9 870,996.9 871,996.8 872,996.7 873,996.6 874,996.5 875,996.5 876,996.4 877,996.3 878,996.2 879,996.2 880,996.1 881,996 882,995.9 883,995.9 884,995.8 885,995.7 886,995.7 887,995.6 888,995.6 889,995.5 890,995.5 891,995.4 892,995.4 893,995.3 894,995.3 895,995.2 896,995.2 897,995.1 898,995.1 899,995 900,995 901,994.9 902,994.9 903,994.8 904,994.8 905,994.7 906,994.7 907,994.6 908,994.6 909,994.5 910,994.5 911,994.4 912,994.4 913,994.4 914,994.5 915,994.5 916,994.6 917,994.6 918,994.7 919,994.7 920,994.8 921,994.8 922,994.9 923,994.9 924,995 925,995 926,995.1 927,995 928,995 929,994.9 930,994.7 931,994.6 932,994.4 933,994.2 934,994.1 935,993.9 936,993.7 937,993.6 938,993.4 939,993.2 940,993.1 941,992.9 942,992.7 943,992.6 944,992.4 945,992.2 946,992.1 947,991.9 948,991.7 949,991.6 950,991.5 951,991.4 952,991.4 953,991.5 954,991.6 955,991.7 956,991.8 957,991.9 958,992.2 959,992.5 960,992.9 961,993.5 962,994 963,994.6 964,995.2 965,995.7 966,996.5 967,997.5 968,998.8 969,1000.3 970,1002 971,1003.7 972,1005.4 973,1006.8 974,1007.9 975,1008.6 976,1009 977,1009 978,1009.1 979,1009.1 980,1009.2 981,1009.2 982,1009.3 983,1009.4 984,1009.4 985,1009.5 986,1009.5 987,1009.6 988,1009.6 989,1009.7 990,1009.7 991,1009.7 992,1009.4 993,1009.1 994,1008.6 995,1007.9 996,1007.3 997,1006.7 998,1006 999,1005.4 1000,1004.8 1001,1004.1 1002,1003.6 1003,1003.1 1004,1002.7 1005,1002.3 1006,1002.1 1007,1001.8 1008,1001.5 1009,1001.3 1010,1001 1011,1000.7 1012,1000.5 1013,1000.3 1014,1000.2 1015,1000.3 1016,1000.4 1017,1000.7 1018,1001 1019,1001.3 1020,1001.7 1021,1002 1022,1002.3 1023,1002.6 1024,1002.9 1025,1003.3 1026,1003.6 1027,1003.9 1028,1004.2 1029,1004.5 1030,1004.8 1031,1005 1032,1005.3 1033,1005.5 1034,1005.7 1035,1005.9 1036,1006.2 1037,1006.4 1038,1006.6 1039,1006.8 1040,1007 1041,1007.2 1042,1007.5 1043,1007.6 1044,1007.8 1045,1007.9 1046,1008 1047,1008.1 1048,1008.2 1049,1008.3 1050,1008.4 1051,1008.5 1052,1008.6 1053,1008.7 1054,1008.8 1055,1008.9 1056,1008.9 1057,1009 1058,1009.1 1059,1009.2 1060,1009.3 1061,1009.4 1062,1009.5 1063,1009.6 1064,1009.7 1065,1009.7 1066,1009.8 1066,1009.9" fill="#006400" stroke="#000" stroke-width="2" stroke-linejoin="round"/>
<polygon points="853,1030.8 853,1018.6 854,1018.6 855,1018.5 856,1018.3 857,1018.2 858,1018 859,1017.8 860,1017.7 861,1017.5 862,1017.4 863,1017.2 864,1017.1 865,1017.1 866,1017.2 867,1017.5 868,1017.8 869,1018.2 870,1018.7 871,1019.1 872,1019.5 873,1019.9 874,1020.3 875,1020.7 876,1021.1 877,1021.6 878,1022 879,1022.4 880,1022.9 881,1023.4 882,1023.9 883,1024.4 884,1024.9 885,1025.5 886,1026 887,1026.5 888,1027.1 889,1027.6 890,1028.1 891,1028.7 892,1029.2 893,1029.7 894,1030.2 895,1030.5 896,1030.7 897,1030.8 898,1030.8 899,1030.8 900,1030.8 901,1030.8 902,1030.8 903,1030.8 904,1030.8 905,1030.8 906,1030.8 907,1030.8 908,1030.8 909,1030.8 910,1030.8 911,1030.8 912,1030.8 913,1030.8 914,1030.8 915,1030.8 916,1030.8 917,1030.8 918,1030.8 919,1030.8 920,1030.8 921,1030.8 922,1030.8 923,1030.8 924,1030.8 925,1030.8 926,1030.8 927,1030.8 928,1030.8 929,1030.8 930,1030.8 931,1030.8 932,1030.8 933,1030.8 934,1030.8 935,1030.8 936,1030.8 937,1030.8 938,1030.8 939,1030.6 940,1030.1 941,1029.4 942,1028.4 943,1027.2 944,1026 945,1024.8 946,1023.6 947,1022.4 948,1021.2 949,1020 950,1018.9 951,1017.9 952,1016.8 953,1015.9 954,1014.9 955,1013.9 956,1013 957,1012 958,1011 959,1010 960,1009.2 961,1008.7 962,1008.6 963,1008.8 964,1009.4 965,1010.2 966,1011 967,1011.8 968,1012.6 969,1013.4 970,1014.2 971,1015 972,1015.9 973,1016.9 974,1017.9 975,1018.9 976,1020 977,1021 978,1022 979,1023.1 980,1024.1 981,1025.2 982,1026.2 983,1027.3 984,1028.3 985,1029.2 986,1029.9 987,1030.4 988,1030.7 989,1030.8 990,1030.8 991,1030.8 992,1030.8 993,1030.8 994,1030.8 995,1030.8 996,1030.8 997,1030.8 998,1030.8 999,1030.8 1000,1030.8 1001,1030.8 1002,1030.8 1003,1030.8 1004,1030.8 1005,1030.8 1006,1030.8 1007,1030.8 1008,1030.8 1009,1030.8 1010,1030.8 1011,1030.8 1012,1030.8 1013,1030.8 1014,1030.8 1015,1030.8 1016,1030.8 1017,1030.8 1018,1030.8 1019,1030.6 1020,1030.2 1021,1029.6 1022,1028.8 1023,1027.8 1024,1026.8 1025,1025.8 1026,1024.8 1027,1023.8 1028,1022.8 1029,1021.8 1030,1021 1031,1020.1 1032,1019.3 1033,1018.6 1034,1017.8 1035,1017.1 1036,1016.4 1037,1015.6 1038,1014.9 1039,1014.1 1040,1013.4 1041,1012.7 1042,1012 1043,1011.4 1044,1011.1 1045,1010.9 1046,1010.9 1047,1011.1 1048,1011.2 1049,1011.3 1050,1011.5 1051,1011.6 1052,1011.8 1053,1011.9 1054,1012.1 1055,1012.2 1056,1012.4 1057,1012.5 1058,1012.6 1059,1012.8 1060,1012.9 1061,1013.1 1062,1013.2 1063,1013.4 1064,1013.5 1065,1013.6 1066,1013.7 1066,1030.8" fill="#006400" stroke="#000" stroke-width="2" stroke-linejoin="round"/>
<polygon points="853,1051.7 853,1039.5 854,1039.3 855,1039.2 856,1038.9 857,1038.6 858,1038.3 859,1038 860,1037.7 861,1037.4 862,1037.1 863,1036.8 864,1036.6 865,1036.3 866,1036.2 867,1036 868,1035.9 869,1035.8 870,1035.7 871,1035.7 872,1035.8 873,1036 874,1036.4 875,1036.8 876,1037.2 877,1037.5 878,1037.9 879,1038.4 880,1039 881,1039.6 882,1040.3 883,1041.1 884,1041.9 885,1042.7 886,1043.5 887,1044.3 888,1045.1 889,1046 890,1046.9 891,1047.8 892,1048.7 893,1049.7 894,1050.5 895,1051.1 896,1051.5 897,1051.7 898,1051.7 899,1051.7 900,1051.7 901,1051.7 902,1051.7 903,1051.7 904,1051.7 905,1051.7 906,1051.7 907,1051.7 908,1051.7 909,1051.7 910,1051.7 911,1051.7 912,1051.7 913,1051.7 914,1051.7 915,1051.7 916,1051.7 917,1051.7 918,1051.7 919,1051.7 920,1051.7 921,1051.7 922,1051.7 923,1051.7 924,1051.7 925,1051.7 926,1051.7 927,1051.7 928,1051.7 929,1051.7 930,1051.7 931,1051.7 932,1051.7 933,1051.7 934,1051.7 935,1051.6 936,1051.3 937,1050.9 938,1050.4 939,1049.7 940,1049.1 941,1048.4 942,1047.7 943,1047.1 944,1046.4 945,1045.8 946,1045.1 947,1044.5 948,1043.9 949,1043.3 950,1042.7 951,1042 952,1041.4 953,1040.8 954,1040.3 955,1040.1 956,1040 957,1040.2 958,1040.5 959,1041 960,1041.5 961,1041.9 962,1042.4 963,1042.8 964,1043.3 965,1043.8 966,1044.3 967,1044.7 968,1045.2 969,1045.7 970,1046.2 971,1046.7 972,1047.2 973,1047.7 974,1048.2 975,1048.7 976,1049.2 977,1049.6 978,1049.9 979,1050.1 980,1050.1 981,1050 982,1050 983,1049.9 984,1049.8 985,1049.6 986,1049.4 987,1049.2 988,1048.9 989,1048.7 990,1048.4 991,1048.1 992,1047.9 993,1047.6 994,1047.3 995,1047.1 996,1046.8 997,1046.5 998,1046.3 999,1046 1000,1045.7 1001,1045.5 1002,1045.2 1003,1044.9 1004,1044.6 1005,1044.3 1006,1044.1 1007,1043.8 1008,1043.5 1009,1043.2 1010,1042.9 1011,1042.7 1012,1042.4 1013,1042.1 1014,1041.8 1015,1041.5 1016,1041.3 1017,1041 1018,1040.7 1019,1040.4 1020,1040.1 1021,1039.8 1022,1039.5 1023,1039.2 1024,1038.9 1025,1038.5 1026,1038.2 1027,1037.9 1028,1037.6 1029,1037.3 1030,1036.9 1031,1036.6 1032,1036.3 1033,1036 1034,1035.7 1035,1035.3 1036,1035 1037,1034.7 1038,1034.4 1039,1034 1040,1033.7 1041,1033.3 1042,1033 1043,1032.6 1044,1032.2 1045,1031.8 1046,1031.4 1047,1031 1048,1030.6 1049,1030.3 1050,1029.9 1051,1029.7 1052,1029.5 1053,1029.4 1054,1029.5 1055,1029.6 1056,1029.7 1057,1029.8 1058,1029.9 1059,1030 1060,1030.1 1061,1030.2 1062,1030.3 1063,1030.4 1064,1030.5 1065,1030.6 1066,1030.6 1066,1051.7" fill="#006400" stroke="#000" stroke-width="2" stroke-linejoin="round"/>
<polygon points="853,1072.7 853,1069.6 854,1069.6 855,1069.5 856,1069.5 857,1069.4 858,1069.3 859,1069.2 860,1069.1 861,1069.1 862,1069 863,1068.9 864,1068.8 865,1068.7 866,1068.7 867,1068.6 868,1068.5 869,1068.4 870,1068.3 871,1068.3 872,1068.2 873,1068.2 874,1068.3 875,1068.4 876,1068.5 877,1068.7 878,1068.9 879,1069 880,1069.2 881,1069.4 882,1069.5 883,1069.7 884,1069.9 885,1070 886,1070.2 887,1070.4 888,1070.5 889,1070.7 890,1070.9 891,1071 892,1071.2 893,1071.4 894,1071.5 895,1071.6 896,1071.8 897,1071.9 898,1072 899,1072.1 900,1072.2 901,1072.3 902,1072.4 903,1072.5 904,1072.6 905,1072.6 906,1072.7 907,1072.7 908,1072.7 909,1072.7 910,1072.7 911,1072.7 912,1072.7 913,1072.7 914,1072.7 915,1072.7 916,1072.7 917,1072.7 918,1072.7 919,1072.7 920,1072.7 921,1072.7 922,1072.7 923,1072.7 924,1072.7 925,1072.7 926,1072.7 927,1072.7 928,1072.7 929,1072.7 930,1072.7 931,1072.7 932,1072.7 933,1072.7 934,1072.7 935,1072.7 936,1072.7 937,1072.7 938,1072.7 939,1072.7 940,1072.7 941,1072.7 942,1072.7 943,1072.7 944,1072.7 945,1072.7 946,1072.7 947,1072.7 948,1072.7 949,1072.7 950,1072.7 951,1072.7 952,1072.7 953,1072.7 954,1072.7 955,1072.7 956,1072.7 957,1072.7 958,1072.7 959,1072.7 960,1072.7 961,1072.7 962,1072.7 963,1072.7 964,1072.7 965,1072.5 966,1072 967,1071.4 968,1070.5 969,1069.4 970,1068.2 971,1067.1 972,1066 973,1064.9 974,1063.9 975,1063.1 976,1062.5 977,1062 978,1061.6 979,1061.2 980,1060.9 981,1060.5 982,1060.1 983,1059.8 984,1059.4 985,1059 986,1058.7 987,1058.3 988,1057.9 989,1057.6 990,1057.3 991,1057 992,1056.8 993,1056.6 994,1056.4 995,1056.2 996,1055.9 997,1055.7 998,1055.5 999,1055.3 1000,1055.1 1001,1054.9 1002,1054.7 1003,1054.5 1004,1054.3 1005,1054.2 1006,1054.1 1007,1054 1008,1053.9 1009,1053.9 1010,1053.8 1011,1053.8 1012,1053.7 1013,1053.6 1014,1053.6 1015,1053.5 1016,1053.5 1017,1053.4 1018,1053.4 1019,1053.3 1020,1053.2 1021,1053.2 1022,1053.1 1023,1053.1 1024,1053 1025,1053 1026,1052.9 1027,1052.9 1028,1052.8 1029,1052.7 1030,1052.6 1031,1052.5 1032,1052.4 1033,1052.2 1034,1052 1035,1051.9 1036,1051.7 1037,1051.5 1038,1051.4 1039,1051.2 1040,1051 1041,1050.9 1042,1050.7 1043,1050.5 1044,1050.4 1045,1050.2 1046,1050 1047,1049.9 1048,1049.7 1049,1049.6 1050,1049.5 1051,1049.5 1052,1049.6 1053,1049.7 1054,1049.8 1055,1049.9 1056,1050 1057,1050.1 1058,1050.2 1059,1050.3 1060,1050.4 1061,1050.5 1062,1050.6 1063,1050.7 1064,1050.8 1065,1050.8 1066,1050.9 1066,1072.7" fill="#006400" stroke="#000" stroke-width="2" stroke-linejoin="round"/>
<polygon points="853,1093.6 853,1090.5 854,1090.5 855,1090.4 856,1090.3 857,1090.2 858,1090.1 859,1090 860,1089.9 861,1089.8 862,1089.6 863,1089.5 864,1089.4 865,1089.3 866,1089.2 867,1089.1 868,1089 869,1088.9 870,1088.8 871,1088.7 872,1088.5 873,1088.4 874,1088.4 875,1088.4 876,1088.5 877,1088.7 878,1088.9 879,1089.1 880,1089.4 881,1089.6 882,1089.8 883,1090 884,1090.2 885,1090.5 886,1090.7 887,1090.9 888,1091.1 889,1091.3 890,1091.5 891,1091.8 892,1092 893,1092.2 894,1092.4 895,1092.6 896,1092.7 897,1092.8 898,1092.9 899,1093 900,1093.1 901,1093.2 902,1093.3 903,1093.4 904,1093.5 905,1093.6 906,1093.6 907,1093.6 908,1093.6 909,1093.6 910,1093.6 911,1093.6 912,1093.6 913,1093.6 914,1093.6 915,1093.6 916,1093.6 917,1093.6 918,1093.6 919,1093.6 920,1093.6 921,1093.6 922,1093.6 923,1093.6 924,1093.6 925,1093.6 926,1093.6 927,1093.6 928,1093.6 929,1093.6 930,1093.6 931,1093.6 932,1093.6 933,1093.6 934,1093.6 935,1093.6 936,1093.6 937,1093.6 938,1093.6 939,1093.6 940,1093.6 941,1093.6 942,1093.6 943,1093.6 944,1093.6 945,1093.6 946,1093.6 947,1093.6 948,1093.6 949,1093.6 950,1093.6 951,1093.6 952,1093.6 953,1093.6 954,1093.6 955,1093.6 956,1093.6 957,1093.5 958,1093.3 959,1092.8 960,1092.2 961,1091.4 962,1090.5 963,1089.6 964,1088.7 965,1087.9 966,1087 967,1086.1 968,1085.2 969,1084.3 970,1083.4 971,1082.6 972,1081.9 973,1081.3 974,1080.7 975,1080.3 976,1079.9 977,1079.4 978,1079 979,1078.5 980,1078.1 981,1077.6 982,1077.2 983,1076.7 984,1076.3 985,1075.9 986,1075.4 987,1075 988,1074.5 989,1074.1 990,1073.8 991,1073.4 992,1073.1 993,1072.9 994,1072.7 995,1072.4 996,1072.2 997,1071.9 998,1071.7 999,1071.4 1000,1071.2 1001,1070.9 1002,1070.7 1003,1070.4 1004,1070.2 1005,1069.9 1006,1069.7 1007,1069.5 1008,1069.2 1009,1069 1010,1068.7 1011,1068.5 1012,1068.4 1013,1068.3 1014,1068.4 1015,1068.5 1016,1068.7 1017,1068.9 1018,1069.1 1019,1069.3 1020,1069.5 1021,1069.8 1022,1070 1023,1070.2 1024,1070.4 1025,1070.6 1026,1070.8 1027,1071 1028,1071.2 1029,1071.5 1030,1071.8 1031,1072.1 1032,1072.5 1033,1072.9 1034,1073.4 1035,1073.8 1036,1074.2 1037,1074.6 1038,1075 1039,1075.4 1040,1075.8 1041,1076.2 1042,1076.5 1043,1076.9 1044,1077.3 1045,1077.7 1046,1078.1 1047,1078.5 1048,1078.9 1049,1079.2 1050,1079.6 1051,1079.9 1052,1080.1 1053,1080.4 1054,1080.6 1055,1080.9 1056,1081.1 1057,1081.4 1058,1081.6 1059,1081.9 1060,1082.1 1061,1082.4 1062,1082.6 1063,1082.9 1064,1083.1 1065,1083.3 1066,1083.4 1066,1093.6" fill="#006400" stroke="#000" stroke-width="2" stroke-linejoin="round"/>
<polygon points="853,1114.6 853,1110.3 854,1110.4 855,1110.6 856,1110.9 857,1111.2 858,1111.5 859,1111.8 860,1112.1 861,1112.4 862,1112.7 863,1113 864,1113.2 865,1113.4 866,1113.6 867,1113.7 868,1113.8 869,1113.8 870,1113.9 871,1114 872,1114 873,1114.1 874,1114.2 875,1114.2 876,1114.3 877,1114.4 878,1114.4 879,1114.5 880,1114.5 881,1114.4 882,1114.3 883,1114.2 884,1114 885,1113.9 886,1113.8 887,1113.6 888,1113.5 889,1113.4 890,1113.2 891,1113.1 892,1113 893,1112.8 894,1112.7 895,1112.6 896,1112.5 897,1112.4 898,1112.2 899,1112.1 900,1112 901,1111.9 902,1111.8 903,1111.7 904,1111.6 905,1111.5 906,1111.4 907,1111.2 908,1111.1 909,1111 910,1110.9 911,1110.8 912,1110.8 913,1110.9 914,1111 915,1111.2 916,1111.3 917,1111.5 918,1111.6 919,1111.8 920,1112 921,1112.1 922,1112.3 923,1112.5 924,1112.6 925,1112.8 926,1112.9 927,1113.1 928,1113.3 929,1113.4 930,1113.5 931,1113.6 932,1113.6 933,1113.7 934,1113.7 935,1113.7 936,1113.7 937,1113.7 938,1113.8 939,1113.8 940,1113.8 941,1113.8 942,1113.9 943,1113.9 944,1113.9 945,1113.9 946,1114 947,1114 948,1114 949,1114 950,1114.1 951,1114.1 952,1114.1 953,1114.1 954,1114.1 955,1114.2 956,1114.2 957,1114.2 958,1114.2 959,1114.3 960,1114.3 961,1114.3 962,1114.3 963,1114.4 964,1114.4 965,1114.4 966,1114.4 967,1114.5 968,1114.5 969,1114.5 970,1114.5 971,1114.4 972,1114 973,1113.3 974,1112.4 975,1111.2 976,1109.8 977,1108.5 978,1107.1 979,1105.7 980,1104.4 981,1103 982,1101.7 983,1100.3 984,1099.1 985,1097.9 986,1096.9 987,1096 988,1095.2 989,1094.4 990,1093.6 991,1092.8 992,1092 993,1091.2 994,1090.5 995,1089.8 996,1089.3 997,1088.8 998,1088.5 999,1088.1 1000,1087.7 1001,1087.4 1002,1087 1003,1086.6 1004,1086.2 1005,1085.9 1006,1085.5 1007,1085.1 1008,1084.8 1009,1084.4 1010,1084.1 1011,1084 1012,1084 1013,1084.1 1014,1084.4 1015,1084.7 1016,1085 1017,1085.3 1018,1085.6 1019,1085.8 1020,1086.1 1021,1086.4 1022,1086.7 1023,1087 1024,1087.3 1025,1087.6 1026,1088 1027,1088.3 1028,1088.7 1029,1089 1030,1089.4 1031,1089.8 1032,1090.1 1033,1090.5 1034,1090.9 1035,1091.3 1036,1091.7 1037,1092.2 1038,1092.7 1039,1093.3 1040,1093.9 1041,1094.4 1042,1095 1043,1095.6 1044,1096.2 1045,1096.7 1046,1097.3 1047,1097.9 1048,1098.4 1049,1099 1050,1099.5 1051,1099.9 1052,1100.3 1053,1100.6 1054,1101 1055,1101.4 1056,1101.7 1057,1102.1 1058,1102.4 1059,1102.8 1060,1103.1 1061,1103.5 1062,1103.9 1063,1104.2 1064,1104.6 1065,1104.7 1066,1104.9 1066,1114.6" fill="#006400" stroke="#000" stroke-width="2" stroke-linejoin="round"/>
<polygon points="853,1135.5 853,1133.5 854,1133.5 855,1133.5 856,1133.5 857,1133.5 858,1133.5 859,1133.5 860,1133.4 861,1133.4 862,1133.4 863,1133.4 864,1133.4 865,1133.4 866,1133.4 867,1133.4 868,1133.4 869,1133.3 870,1133.3 871,1133.3 872,1133.3 873,1133.3 874,1133.3 875,1133.3 876,1133.3 877,1133.3 878,1133.2 879,1133.3 880,1133.3 881,1133.4 882,1133.5 883,1133.6 884,1133.7 885,1133.8 886,1133.9 887,1134 888,1134.1 889,1134.3 890,1134.4 891,1134.5 892,1134.6 893,1134.7 894,1134.8 895,1135 896,1135.1 897,1135.2 898,1135.3 899,1135.4 900,1135.5 901,1135.5 902,1135.5 903,1135.5 904,1135.5 905,1135.5 906,1135.5 907,1135.5 908,1135.5 909,1135.5 910,1135.5 911,1135.5 912,1135.5 913,1135.5 914,1135.5 915,1135.5 916,1135.5 917,1135.5 918,1135.5 919,1135.5 920,1135.5 921,1135.5 922,1135.5 923,1135.5 924,1135.5 925,1135.5 926,1135.5 927,1135.5 928,1135.5 929,1135.5 930,1135.5 931,1135.5 932,1135.5 933,1135.5 934,1135.5 935,1135.5 936,1135.5 937,1135.5 938,1135.5 939,1135.5 940,1135.5 941,1135.5 942,1135.5 943,1135.5 944,1135.5 945,1135.5 946,1135.5 947,1135.5 948,1135.5 949,1135.5 950,1135.5 951,1135.5 952,1135.5 953,1135.5 954,1135.5 955,1135.5 956,1135.5 957,1135.5 958,1135.5 959,1135.5 960,1135.5 961,1135.5 962,1135.5 963,1135.5 964,1135.3 965,1134.9 966,1134.3 967,1133.5 968,1132.5 969,1131.5 970,1130.5 971,1129.5 972,1128.5 973,1127.5 974,1126.6 975,1125.8 976,1125 977,1124.3 978,1123.7 979,1123.1 980,1122.5 981,1121.9 982,1121.3 983,1120.7 984,1120.1 985,1119.5 986,1118.9 987,1118.3 988,1117.7 989,1117.2 990,1116.7 991,1116.3 992,1116 993,1115.7 994,1115.4 995,1115.2 996,1114.9 997,1114.6 998,1114.4 999,1114.1 1000,1113.8 1001,1113.5 1002,1113.3 1003,1113 1004,1112.7 1005,1112.4 1006,1112.2 1007,1111.9 1008,1111.6 1009,1111.4 1010,1111.1 1011,1110.8 1012,1110.7 1013,1110.6 1014,1110.6 1015,1110.7 1016,1110.9 1017,1111.1 1018,1111.3 1019,1111.5 1020,1111.7 1021,1111.9 1022,1112.1 1023,1112.3 1024,1112.4 1025,1112.6 1026,1112.8 1027,1113 1028,1113.2 1029,1113.4 1030,1113.6 1031,1113.8 1032,1114 1033,1114.1 1034,1114.4 1035,1114.6 1036,1114.8 1037,1115.1 1038,1115.4 1039,1115.7 1040,1116 1041,1116.3 1042,1116.6 1043,1116.8 1044,1117.1 1045,1117.4 1046,1117.7 1047,1118 1048,1118.3 1049,1118.6 1050,1118.9 1051,1119.2 1052,1119.5 1053,1119.8 1054,1120 1055,1120.3 1056,1120.6 1057,1120.9 1058,1121.2 1059,1121.5 1060,1121.8 1061,1122.1 1062,1122.4 1063,1122.7 1064,1122.9 1065,1123.1 1066,1123.2 1066,1135.5" fill="#006400" stroke="#000" stroke-width="2" stroke-linejoin="round"/>
<polygon points="853,1156.5 853,1156.5 854,1156.5 855,1156.5 856,1156.5 857,1156.5 858,1156.5 859,1156.5 860,1156.5 861,1156.5 862,1156.5 863,1156.5 864,1156.5 865,1156.5 866,1156.5 867,1156.5 868,1156.5 869,1156.5 870,1156.5 871,1156.5 872,1156.5 873,1156.5 874,1156.5 875,1156.5 876,1156.5 877,1156.5 878,1156.5 879,1156.5 880,1156.5 881,1156.5 882,1156.5 883,1156.5 884,1156.5 885,1156.5 886,1156.5 887,1156.5 888,1156.5 889,1156.5 890,1156.5 891,1156.5 892,1156.5 893,1156.5 894,1156.5 895,1156.5 896,1156.3 897,1156 898,1155.6 899,1155 900,1154.2 901,1153.5 902,1152.7 903,1152 904,1151.2 905,1150.5 906,1149.8 907,1149 908,1148.3 909,1147.6 910,1146.9 911,1146.2 912,1145.5 913,1144.8 914,1144.3 915,1144 916,1144 917,1144.3 918,1144.8 919,1145.3 920,1145.8 921,1146.4 922,1146.9 923,1147.4 924,1148 925,1148.7 926,1149.4 927,1150.2 928,1151.1 929,1152 930,1152.9 931,1153.8 932,1154.7 933,1155.4 934,1155.9 935,1156.3 936,1156.5 937,1156.5 938,1156.5 939,1156.5 940,1156.5 941,1156.5 942,1156.5 943,1156.5 944,1156.5 945,1156.5 946,1156.5 947,1156.5 948,1156.5 949,1156.5 950,1156.5 951,1156.5 952,1156.5 953,1156.5 954,1156.5 955,1156.5 956,1156.5 957,1156.5 958,1156.5 959,1156.3 960,1156 961,1155.5 962,1154.9 963,1154.1 964,1153.3 965,1152.5 966,1151.7 967,1150.9 968,1150.1 969,1149.3 970,1148.6 971,1148 972,1147.4 973,1146.8 974,1146.2 975,1145.7 976,1145.1 977,1144.6 978,1144 979,1143.4 980,1142.9 981,1142.4 982,1141.9 983,1141.4 984,1141 985,1140.6 986,1140.2 987,1139.8 988,1139.4 989,1139 990,1138.7 991,1138.3 992,1137.9 993,1137.5 994,1137.1 995,1136.7 996,1136.3 997,1135.9 998,1135.5 999,1135.1 1000,1134.8 1001,1134.5 1002,1134.3 1003,1134.2 1004,1134.2 1005,1134.4 1006,1134.5 1007,1134.7 1008,1134.8 1009,1134.9 1010,1135.1 1011,1135.2 1012,1135.4 1013,1135.5 1014,1135.6 1015,1135.8 1016,1135.9 1017,1136.1 1018,1136.2 1019,1136.4 1020,1136.6 1021,1136.8 1022,1137 1023,1137.3 1024,1137.6 1025,1137.8 1026,1138.1 1027,1138.4 1028,1138.7 1029,1139 1030,1139.3 1031,1139.7 1032,1140 1033,1140.3 1034,1140.7 1035,1141 1036,1141.3 1037,1141.6 1038,1142 1039,1142.3 1040,1142.6 1041,1143 1042,1143.3 1043,1143.6 1044,1144 1045,1144.3 1046,1144.6 1047,1145 1048,1145.3 1049,1145.6 1050,1145.9 1051,1146.2 1052,1146.4 1053,1146.6 1054,1146.7 1055,1146.8 1056,1146.9 1057,1147 1058,1147.1 1059,1147.2 1060,1147.3 1061,1147.5 1062,1147.6 1063,1147.7 1064,1147.8 1065,1147.8 1066,1147.9 1066,1156.5" fill="#006400" stroke="#000" stroke-width="2" stroke-linejoin="round"/>
<polygon points="853,1177.4 853,1177.4 854,1177.4 855,1177.4 856,1177.4 857,1177.4 858,1177.4 859,1177.4 860,1177.4 861,1177.4 862,1177.4 863,1177.4 864,1177.4 865,1177.4 866,1177.4 867,1177.3 868,1177.1 869,1176.7 870,1176.3 871,1175.7 872,1175.1 873,1174.6 874,1174 875,1173.5 876,1172.9 877,1172.4 878,1171.9 879,1171.4 880,1170.9 881,1170.5 882,1170 883,1169.6 884,1169.5 885,1169.6 886,1169.9 887,1170.4 888,1170.9 889,1171.4 890,1171.9 891,1172.4 892,1172.9 893,1173.5 894,1174 895,1174.6 896,1175.1 897,1175.7 898,1176.3 899,1176.7 900,1177.1 901,1177.3 902,1177.4 903,1177.4 904,1177.4 905,1177.4 906,1177.4 907,1177.4 908,1177.4 909,1177.4 910,1177.4 911,1177.4 912,1177.4 913,1177.4 914,1177.4 915,1177.4 916,1177.4 917,1177.4 918,1177.4 919,1177.4 920,1177.4 921,1177.4 922,1177.4 923,1177.4 924,1177.4 925,1177.4 926,1177.4 927,1177.4 928,1177.4 929,1177.4 930,1177.4 931,1177.4 932,1177.4 933,1177.4 934,1177.4 935,1177.4 936,1177.4 937,1177.4 938,1177.4 939,1177.4 940,1177.4 941,1177.4 942,1177.4 943,1177.4 944,1177.4 945,1177.4 946,1177.4 947,1177.4 948,1177.4 949,1177.4 950,1177.4 951,1177.4 952,1177.4 953,1177.4 954,1177.4 955,1177.4 956,1177.4 957,1177.4 958,1177.4 959,1177.4 960,1177.4 961,1177.4 962,1177.4 963,1177.3 964,1176.8 965,1176 966,1174.9 967,1173.3 968,1171.5 969,1169.8 970,1168 971,1166.3 972,1164.6 973,1163 974,1161.4 975,1159.9 976,1158.4 977,1156.9 978,1155.4 979,1154.1 980,1152.9 981,1151.9 982,1151 983,1150.3 984,1149.6 985,1149.1 986,1148.8 987,1148.8 988,1149.1 989,1149.7 990,1150.4 991,1151.1 992,1151.9 993,1152.8 994,1153.9 995,1155.1 996,1156.4 997,1157.8 998,1159.1 999,1160.4 1000,1161.8 1001,1163 1002,1164.1 1003,1165.2 1004,1166.2 1005,1167 1006,1167.9 1007,1168.8 1008,1169.7 1009,1170.4 1010,1170.9 1011,1171.3 1012,1171.6 1013,1171.7 1014,1171.8 1015,1171.8 1016,1171.8 1017,1171.6 1018,1171.2 1019,1170.7 1020,1170 1021,1169.4 1022,1168.7 1023,1168 1024,1167.4 1025,1166.7 1026,1166.1 1027,1165.4 1028,1164.7 1029,1164 1030,1163.3 1031,1162.6 1032,1161.8 1033,1160.9 1034,1160.1 1035,1159.3 1036,1158.4 1037,1157.6 1038,1156.8 1039,1155.9 1040,1155.1 1041,1154.3 1042,1153.6 1043,1153 1044,1152.4 1045,1151.9 1046,1151.5 1047,1151 1048,1150.5 1049,1150 1050,1149.5 1051,1149.2 1052,1149 1053,1149 1054,1149 1055,1149.1 1056,1149.2 1057,1149.4 1058,1149.5 1059,1149.6 1060,1149.7 1061,1149.8 1062,1149.9 1063,1150.1 1064,1150.2 1065,1150.2 1066,1150.3 1066,1177.4" fill="#006400" stroke="#000" stroke-width="2" stroke-linejoin="round"/>
<polygon points="853,1198.4 853,1196.3 854,1196.2 855,1196.2 856,1196.1 857,1195.9 858,1195.8 859,1195.7 860,1195.6 861,1195.5 862,1195.4 863,1195.3 864,1195.2 865,1195.1 866,1195 867,1194.9 868,1194.8 869,1194.7 870,1194.6 871,1194.5 872,1194.4 873,1194.3 874,1194.2 875,1194.1 876,1194 877,1193.9 878,1193.9 879,1194 880,1194.1 881,1194.3 882,1194.4 883,1194.6 884,1194.8 885,1194.9 886,1195.1 887,1195.2 888,1195.4 889,1195.6 890,1195.7 891,1195.9 892,1196.1 893,1196.2 894,1196.4 895,1196.5 896,1196.7 897,1196.9 898,1197 899,1197.2 900,1197.3 901,1197.4 902,1197.4 903,1197.4 904,1197.4 905,1197.5 906,1197.5 907,1197.5 908,1197.5 909,1197.5 910,1197.5 911,1197.6 912,1197.6 913,1197.6 914,1197.6 915,1197.6 916,1197.6 917,1197.7 918,1197.7 919,1197.7 920,1197.7 921,1197.7 922,1197.7 923,1197.8 924,1197.8 925,1197.8 926,1197.8 927,1197.8 928,1197.8 929,1197.9 930,1197.9 931,1197.9 932,1197.9 933,1197.9 934,1198 935,1198 936,1198 937,1198 938,1198 939,1198 940,1198.1 941,1198.1 942,1198.1 943,1198.1 944,1198.1 945,1198.1 946,1198.2 947,1198.2 948,1198.2 949,1198.2 950,1198.2 951,1198.2 952,1198.3 953,1198.3 954,1198.3 955,1198.3 956,1198.3 957,1198.2 958,1198 959,1197.6 960,1197 961,1196.4 962,1195.7 963,1195 964,1194.4 965,1193.7 966,1193 967,1192.4 968,1191.7 969,1191 970,1190.3 971,1189.7 972,1189 973,1188.3 974,1187.6 975,1186.8 976,1186.1 977,1185.4 978,1184.7 979,1184 980,1183.3 981,1182.7 982,1182.2 983,1181.7 984,1181.3 985,1180.9 986,1180.6 987,1180.2 988,1179.9 989,1179.5 990,1179.1 991,1178.8 992,1178.4 993,1178.1 994,1177.8 995,1177.5 996,1177.2 997,1177 998,1176.8 999,1176.7 1000,1176.5 1001,1176.3 1002,1176.1 1003,1176 1004,1175.8 1005,1175.6 1006,1175.4 1007,1175.3 1008,1175.3 1009,1175.3 1010,1175.3 1011,1175.5 1012,1175.6 1013,1175.7 1014,1175.9 1015,1176 1016,1176.1 1017,1176.3 1018,1176.4 1019,1176.5 1020,1176.7 1021,1176.8 1022,1177 1023,1177.1 1024,1177.3 1025,1177.4 1026,1177.7 1027,1177.9 1028,1178.2 1029,1178.5 1030,1178.7 1031,1179 1032,1179.3 1033,1179.5 1034,1179.8 1035,1180.1 1036,1180.4 1037,1180.7 1038,1180.9 1039,1181.2 1040,1181.5 1041,1181.8 1042,1182.1 1043,1182.4 1044,1182.6 1045,1182.9 1046,1183.2 1047,1183.5 1048,1183.8 1049,1184.1 1050,1184.3 1051,1184.5 1052,1184.7 1053,1184.8 1054,1185 1055,1185.1 1056,1185.3 1057,1185.4 1058,1185.6 1059,1185.7 1060,1185.9 1061,1186 1062,1186.2 1063,1186.3 1064,1186.5 1065,1186.5 1066,1186.6 1066,1198.4" fill="#006400" stroke="#000" stroke-width="2" stroke-linejoin="round"/>
<polygon points="853,1219.3 853,1219.3 854,1219.3 855,1219.3 856,1219.3 857,1219.3 858,1219.3 859,1219.3 860,1219.3 861,1219.3 862,1219.3 863,1219.3 864,1219.3 865,1219.3 866,1219.3 867,1219.3 868,1219.3 869,1219.3 870,1219.3 871,1219.3 872,1219.3 873,1219.3 874,1219.3 875,1219.3 876,1219.3 877,1219.3 878,1219.3 879,1219.3 880,1219.3 881,1219.3 882,1219.3 883,1219.3 884,1219.3 885,1219.3 886,1219.3 887,1219.3 888,1219.3 889,1219.3 890,1219.3 891,1219.3 892,1219.3 893,1219.3 894,1219.3 895,1219.3 896,1219.3 897,1219.3 898,1219.3 899,1219.3 900,1219.3 901,1219.3 902,1219.3 903,1219.3 904,1219.3 905,1219.2 906,1218.9 907,1218.5 908,1218 909,1217.3 910,1216.6 911,1216 912,1215.3 913,1214.6 914,1213.9 915,1213.2 916,1212.4 917,1211.5 918,1210.6 919,1209.7 920,1208.8 921,1207.9 922,1207 923,1206.1 924,1205.3 925,1204.7 926,1204.1 927,1203.7 928,1203.3 929,1203 930,1202.7 931,1202.4 932,1202.1 933,1201.9 934,1201.9 935,1202 936,1202.3 937,1202.6 938,1203 939,1203.3 940,1203.6 941,1204 942,1204.3 943,1204.6 944,1204.9 945,1205.2 946,1205.5 947,1205.7 948,1205.9 949,1206.1 950,1206.2 951,1206.4 952,1206.6 953,1206.8 954,1207 955,1207.2 956,1207.4 957,1207.6 958,1207.7 959,1207.9 960,1208.1 961,1208 962,1207.9 963,1207.6 964,1207.1 965,1206.6 966,1206.1 967,1205.5 968,1205 969,1204.5 970,1204 971,1203.4 972,1202.9 973,1202.4 974,1201.9 975,1201.4 976,1201 977,1200.7 978,1200.3 979,1200 980,1199.7 981,1199.4 982,1199 983,1198.7 984,1198.4 985,1198.2 986,1198.1 987,1198.1 988,1198.3 989,1198.7 990,1199.1 991,1199.5 992,1199.9 993,1200.3 994,1200.7 995,1201.1 996,1201.5 997,1202 998,1202.5 999,1203.1 1000,1203.8 1001,1204.6 1002,1205.3 1003,1206.1 1004,1206.8 1005,1207.6 1006,1208.3 1007,1209.1 1008,1209.8 1009,1210.5 1010,1211.1 1011,1211.7 1012,1212.2 1013,1212.7 1014,1213.1 1015,1213.6 1016,1214 1017,1214.2 1018,1214.3 1019,1214.3 1020,1214.1 1021,1213.8 1022,1213.6 1023,1213.3 1024,1213.1 1025,1212.8 1026,1212.6 1027,1212.3 1028,1212.1 1029,1211.8 1030,1211.6 1031,1211.3 1032,1211.1 1033,1210.8 1034,1210.6 1035,1210.4 1036,1210.2 1037,1210 1038,1209.9 1039,1209.7 1040,1209.6 1041,1209.5 1042,1209.3 1043,1209.2 1044,1209 1045,1208.9 1046,1208.8 1047,1208.6 1048,1208.6 1049,1208.6 1050,1208.7 1051,1208.8 1052,1209 1053,1209.2 1054,1209.3 1055,1209.5 1056,1209.7 1057,1209.8 1058,1210 1059,1210.2 1060,1210.3 1061,1210.5 1062,1210.7 1063,1210.8 1064,1211 1065,1211.1 1066,1211.1 1066,1219.3" fill="#006400" stroke="#000" stroke-width="2" stroke-linejoin="round"/>
<polygon points="853,1240.3 853,1236 854,1235.9 855,1235.8 856,1235.5 857,1235.3 858,1235 859,1234.8 860,1234.5 861,1234.3 862,1234 863,1233.8 864,1233.5 865,1233.4 866,1233.2 867,1233.1 868,1233.1 869,1233 870,1232.9 871,1232.9 872,1232.8 873,1232.8 874,1232.7 875,1232.6 876,1232.6 877,1232.6 878,1232.7 879,1232.8 880,1233 881,1233.2 882,1233.5 883,1233.7 884,1234 885,1234.2 886,1234.5 887,1234.7 888,1235 889,1235.2 890,1235.5 891,1235.8 892,1236 893,1236.3 894,1236.6 895,1236.9 896,1237.3 897,1237.6 898,1237.9 899,1238.3 900,1238.6 901,1238.9 902,1239.3 903,1239.6 904,1239.9 905,1240.1 906,1240.2 907,1240.3 908,1240.3 909,1240.3 910,1240.3 911,1240.3 912,1240.3 913,1240.3 914,1240.3 915,1240.3 916,1240.3 917,1240.3 918,1240.3 919,1240.3 920,1240.3 921,1240.3 922,1240.3 923,1240.3 924,1240.3 925,1240.3 926,1240.3 927,1240.3 928,1240.3 929,1240.3 930,1240.3 931,1240.3 932,1240.3 933,1240.3 934,1240.3 935,1240.3 936,1240.3 937,1240.3 938,1240.3 939,1240.3 940,1240.3 941,1240.3 942,1240.3 943,1240.3 944,1240.3 945,1240.3 946,1240.3 947,1240.3 948,1240.3 949,1240.1 950,1239.9 951,1239.5 952,1238.9 953,1238.3 954,1237.6 955,1236.9 956,1236.3 957,1235.6 958,1234.9 959,1234.3 960,1233.6 961,1232.9 962,1232.2 963,1231.6 964,1230.9 965,1230.2 966,1229.5 967,1228.8 968,1228.1 969,1227.4 970,1226.7 971,1226 972,1225.3 973,1224.6 974,1224 975,1223.5 976,1223 977,1222.6 978,1222.2 979,1221.8 980,1221.5 981,1221.3 982,1221.2 983,1221.2 984,1221.4 985,1221.6 986,1221.8 987,1222.1 988,1222.3 989,1222.6 990,1222.8 991,1223 992,1223.3 993,1223.5 994,1223.7 995,1223.9 996,1224.2 997,1224.4 998,1224.6 999,1224.9 1000,1225.1 1001,1225.3 1002,1225.6 1003,1225.8 1004,1226 1005,1226.1 1006,1226.3 1007,1226.3 1008,1226.4 1009,1226.4 1010,1226.5 1011,1226.5 1012,1226.5 1013,1226.6 1014,1226.6 1015,1226.7 1016,1226.7 1017,1226.7 1018,1226.8 1019,1226.8 1020,1226.9 1021,1226.9 1022,1226.9 1023,1227 1024,1227 1025,1227.1 1026,1227.1 1027,1227.1 1028,1227.2 1029,1227.2 1030,1227.2 1031,1227.3 1032,1227.3 1033,1227.3 1034,1227.4 1035,1227.4 1036,1227.4 1037,1227.5 1038,1227.5 1039,1227.5 1040,1227.6 1041,1227.6 1042,1227.6 1043,1227.6 1044,1227.7 1045,1227.7 1046,1227.7 1047,1227.8 1048,1227.8 1049,1227.9 1050,1227.9 1051,1228 1052,1228.2 1053,1228.3 1054,1228.5 1055,1228.6 1056,1228.8 1057,1228.9 1058,1229.1 1059,1229.2 1060,1229.4 1061,1229.5 1062,1229.7 1063,1229.8 1064,1230 1065,1230 1066,1230.1 1066,1240.3" fill="#006400" stroke="#000" stroke-width="2" stroke-linejoin="round"/>
<polygon points="853,1261.2 853,1257.8 854,1257.6 855,1257.4 856,1257 857,1256.7 858,1256.3 859,1255.9 860,1255.5 861,1255.1 862,1254.7 863,1254.4 864,1254 865,1253.6 866,1253.3 867,1253.1 868,1252.9 869,1252.8 870,1252.6 871,1252.5 872,1252.3 873,1252.2 874,1252.2 875,1252.3 876,1252.5 877,1252.8 878,1253.3 879,1253.7 880,1254.1 881,1254.5 882,1254.9 883,1255.4 884,1255.8 885,1256.3 886,1256.9 887,1257.5 888,1258.1 889,1258.7 890,1259.3 891,1260 892,1260.5 893,1260.8 894,1261.1 895,1261.2 896,1261.2 897,1261.2 898,1261.2 899,1261.2 900,1261.2 901,1261.2 902,1261.2 903,1261.2 904,1261.2 905,1261.2 906,1261.2 907,1261.2 908,1261.2 909,1261.2 910,1261.2 911,1261.2 912,1261.2 913,1261.2 914,1261.2 915,1261.2 916,1261.2 917,1261.2 918,1261.2 919,1261.2 920,1261.2 921,1261.2 922,1261.2 923,1261.2 924,1261.2 925,1261.2 926,1261.2 927,1261.2 928,1261.2 929,1261.2 930,1261.2 931,1261.2 932,1261.2 933,1261.2 934,1261 935,1260.7 936,1260.2 937,1259.6 938,1258.8 939,1258 940,1257.2 941,1256.4 942,1255.6 943,1254.8 944,1254.1 945,1253.4 946,1252.8 947,1252.3 948,1251.9 949,1251.4 950,1251 951,1250.5 952,1250.1 953,1249.6 954,1249.2 955,1248.8 956,1248.3 957,1247.9 958,1247.6 959,1247.4 960,1247.3 961,1247.4 962,1247.4 963,1247.5 964,1247.5 965,1247.6 966,1247.7 967,1247.7 968,1247.8 969,1247.8 970,1247.9 971,1248 972,1248 973,1248.1 974,1248.1 975,1248.2 976,1248.2 977,1248.2 978,1248.2 979,1248.2 980,1248.2 981,1248.2 982,1248.2 983,1248.2 984,1248.2 985,1248.2 986,1248.2 987,1248.2 988,1248.2 989,1248.1 990,1247.9 991,1247.7 992,1247.3 993,1246.8 994,1246.4 995,1245.9 996,1245.5 997,1245 998,1244.5 999,1244.1 1000,1243.6 1001,1243.2 1002,1242.7 1003,1242.3 1004,1241.9 1005,1241.6 1006,1241.4 1007,1241.1 1008,1240.9 1009,1240.7 1010,1240.5 1011,1240.2 1012,1240 1013,1239.9 1014,1239.8 1015,1239.8 1016,1240 1017,1240.2 1018,1240.4 1019,1240.7 1020,1240.9 1021,1241.2 1022,1241.4 1023,1241.7 1024,1242 1025,1242.3 1026,1242.7 1027,1243.1 1028,1243.6 1029,1244 1030,1244.5 1031,1244.9 1032,1245.4 1033,1245.8 1034,1246.3 1035,1246.8 1036,1247.3 1037,1247.8 1038,1248.3 1039,1248.9 1040,1249.5 1041,1250.1 1042,1250.6 1043,1251.2 1044,1251.8 1045,1252.3 1046,1252.9 1047,1253.5 1048,1254.1 1049,1254.6 1050,1255 1051,1255.4 1052,1255.7 1053,1256 1054,1256.2 1055,1256.5 1056,1256.7 1057,1257 1058,1257.2 1059,1257.5 1060,1257.7 1061,1258 1062,1258.2 1063,1258.5 1064,1258.7 1065,1258.8 1066,1259 1066,1261.2" fill="#006400" stroke="#000" stroke-width="2" stroke-linejoin="round"/>
<polygon points="853,1282.1 853,1282 854,1281.9 855,1281.8 856,1281.7 857,1281.5 858,1281.4 859,1281.2 860,1281.1 861,1280.9 862,1280.8 863,1280.6 864,1280.5 865,1280.3 866,1280.2 867,1280.2 868,1280.1 869,1280.1 870,1280.1 871,1280 872,1280 873,1280 874,1280 875,1280 876,1279.9 877,1279.9 878,1279.9 879,1279.9 880,1280 881,1280.1 882,1280.2 883,1280.4 884,1280.6 885,1280.7 886,1280.9 887,1281.1 888,1281.3 889,1281.4 890,1281.6 891,1281.8 892,1281.9 893,1282 894,1282.1 895,1282.1 896,1282.1 897,1282.1 898,1282.1 899,1282.1 900,1282.1 901,1282.1 902,1282.1 903,1282.1 904,1282.1 905,1282.1 906,1282.1 907,1282.1 908,1282.1 909,1282.1 910,1282.1 911,1282.1 912,1282.1 913,1282.1 914,1282.1 915,1282.1 916,1282.1 917,1282.1 918,1282.1 919,1282.1 920,1282.1 921,1282 922,1281.7 923,1281.2 924,1280.6 925,1279.8 926,1279.1 927,1278.3 928,1277.5 929,1276.8 930,1276 931,1275.2 932,1274.5 933,1273.7 934,1273 935,1272.4 936,1271.9 937,1271.5 938,1271.1 939,1270.8 940,1270.5 941,1270.1 942,1269.8 943,1269.5 944,1269.1 945,1268.8 946,1268.5 947,1268.1 948,1267.8 949,1267.5 950,1267.2 951,1266.9 952,1266.7 953,1266.4 954,1266.2 955,1266 956,1265.7 957,1265.5 958,1265.4 959,1265.4 960,1265.5 961,1265.6 962,1265.8 963,1266 964,1266.1 965,1266.3 966,1266.5 967,1266.7 968,1266.9 969,1267.1 970,1267.2 971,1267.4 972,1267.6 973,1267.8 974,1268 975,1268.1 976,1268.2 977,1268.4 978,1268.5 979,1268.6 980,1268.7 981,1268.8 982,1268.9 983,1269 984,1269.1 985,1269.2 986,1269.3 987,1269.5 988,1269.6 989,1269.7 990,1269.8 991,1269.9 992,1270 993,1270.1 994,1270.2 995,1270.3 996,1270.5 997,1270.6 998,1270.8 999,1270.9 1000,1271.1 1001,1271.3 1002,1271.5 1003,1271.7 1004,1271.9 1005,1272.1 1006,1272.3 1007,1272.5 1008,1272.7 1009,1272.9 1010,1273.1 1011,1273.3 1012,1273.3 1013,1273.3 1014,1273.2 1015,1272.9 1016,1272.5 1017,1272.2 1018,1271.8 1019,1271.4 1020,1271.1 1021,1270.7 1022,1270.3 1023,1270 1024,1269.6 1025,1269.2 1026,1268.9 1027,1268.5 1028,1268.2 1029,1267.8 1030,1267.5 1031,1267.1 1032,1266.8 1033,1266.4 1034,1266.1 1035,1265.8 1036,1265.4 1037,1265.1 1038,1264.7 1039,1264.4 1040,1264 1041,1263.7 1042,1263.4 1043,1263.2 1044,1263 1045,1263 1046,1263.1 1047,1263.2 1048,1263.4 1049,1263.5 1050,1263.7 1051,1263.9 1052,1264 1053,1264.2 1054,1264.3 1055,1264.5 1056,1264.6 1057,1264.8 1058,1264.9 1059,1265.1 1060,1265.2 1061,1265.4 1062,1265.5 1063,1265.7 1064,1265.8 1065,1265.9 1066,1266 1066,1282.1" fill="#006400" stroke="#000" stroke-width="2" stroke-linejoin="round"/>
<polygon points="853,1303.1 853,1303.1 854,1303.1 855,1303.1 856,1303.1 857,1303.1 858,1303.1 859,1303.1 860,1303.1 861,1303.1 862,1303.1 863,1303.1 864,1303.1 865,1303.1 866,1303.1 867,1303.1 868,1303.1 869,1303.1 870,1303.1 871,1303.1 872,1303.1 873,1303.1 874,1303.1 875,1303.1 876,1303.1 877,1303.1 878,1303.1 879,1303.1 880,1303.1 881,1303.1 882,1303.1 883,1303.1 884,1303.1 885,1303.1 886,1303.1 887,1303.1 888,1303.1 889,1303.1 890,1303.1 891,1303.1 892,1303.1 893,1303.1 894,1303.1 895,1303.1 896,1303.1 897,1303.1 898,1303.1 899,1303.1 900,1303.1 901,1303.1 902,1303.1 903,1303.1 904,1303.1 905,1303.1 906,1303.1 907,1303.1 908,1303.1 909,1303.1 910,1303.1 911,1303.1 912,1303.1 913,1303.1 914,1303.1 915,1303.1 916,1303.1 917,1303.1 918,1303.1 919,1303.1 920,1303.1 921,1303.1 922,1303.1 923,1303.1 924,1303.1 925,1303.1 926,1303.1 927,1303.1 928,1303.1 929,1303.1 930,1303.1 931,1303.1 932,1303.1 933,1303.1 934,1303.1 935,1303.1 936,1303.1 937,1303.1 938,1303.1 939,1303.1 940,1303.1 941,1303.1 942,1303.1 943,1303.1 944,1303.1 945,1303.1 946,1303.1 947,1303.1 948,1303.1 949,1303.1 950,1303.1 951,1303.1 952,1302.7 953,1301.6 954,1300 955,1297.7 956,1294.8 957,1291.8 958,1288.9 959,1286.1 960,1283.4 961,1280.9 962,1278.6 963,1276.4 964,1274.3 965,1272.5 966,1270.9 967,1269.5 968,1268.5 969,1268 970,1268.1 971,1268.8 972,1270 973,1271.6 974,1273.4 975,1275.5 976,1277.8 977,1280.2 978,1282.9 979,1285.7 980,1288.6 981,1291.7 982,1294.9 983,1297.9 984,1300.2 985,1301.8 986,1302.8 987,1303.1 988,1303.1 989,1303.1 990,1303.1 991,1303.1 992,1303.1 993,1303.1 994,1303.1 995,1303.1 996,1303.1 997,1303.1 998,1303.1 999,1303.1 1000,1303.1 1001,1303.1 1002,1303.1 1003,1303.1 1004,1303.1 1005,1303.1 1006,1303.1 1007,1303.1 1008,1303.1 1009,1303.1 1010,1303.1 1011,1303.1 1012,1303.1 1013,1303.1 1014,1303.1 1015,1303.1 1016,1303.1 1017,1303.1 1018,1303.1 1019,1303.1 1020,1303.1 1021,1303.1 1022,1303.1 1023,1303.1 1024,1303.1 1025,1303.1 1026,1303.1 1027,1303.1 1028,1303.1 1029,1302.8 1030,1302.3 1031,1301.4 1032,1300.3 1033,1298.9 1034,1297.5 1035,1296.1 1036,1294.7 1037,1293.3 1038,1291.9 1039,1290.7 1040,1289.6 1041,1288.7 1042,1287.9 1043,1287.3 1044,1286.7 1045,1286.1 1046,1285.5 1047,1285.1 1048,1284.9 1049,1284.9 1050,1285.2 1051,1285.8 1052,1286.5 1053,1287.1 1054,1287.8 1055,1288.5 1056,1289.2 1057,1289.9 1058,1290.7 1059,1291.5 1060,1292.3 1061,1293.1 1062,1293.9 1063,1294.7 1064,1295.5 1065,1295.9 1066,1296.3 1066,1303.1" fill="#006400" stroke="#000" stroke-width="2" stroke-linejoin="round"/>
<polygon points="853,1324 853,1323.7 854,1323.5 855,1323.4 856,1323 857,1322.7 858,1322.4 859,1322 860,1321.7 861,1321.4 862,1321.1 863,1320.9 864,1320.7 865,1320.5 866,1320.4 867,1320.2 868,1320 869,1319.9 870,1319.7 871,1319.5 872,1319.4 873,1319.2 874,1319 875,1318.9 876,1318.7 877,1318.5 878,1318.4 879,1318.2 880,1318.1 881,1317.9 882,1317.8 883,1317.6 884,1317.5 885,1317.4 886,1317.2 887,1317.1 888,1317 889,1316.8 890,1316.7 891,1316.6 892,1316.5 893,1316.4 894,1316.5 895,1316.6 896,1316.7 897,1316.9 898,1317.1 899,1317.3 900,1317.5 901,1317.7 902,1317.9 903,1318.1 904,1318.3 905,1318.5 906,1318.7 907,1318.9 908,1319.1 909,1319.4 910,1319.6 911,1319.9 912,1320.2 913,1320.5 914,1320.8 915,1321.1 916,1321.4 917,1321.7 918,1322 919,1322.3 920,1322.6 921,1322.9 922,1323.2 923,1323.5 924,1323.7 925,1323.8 926,1323.8 927,1323.8 928,1323.7 929,1323.6 930,1323.4 931,1323.3 932,1323.2 933,1323.1 934,1323 935,1322.8 936,1322.7 937,1322.6 938,1322.5 939,1322.4 940,1322.2 941,1322.1 942,1322 943,1321.9 944,1321.8 945,1321.6 946,1321.5 947,1321.4 948,1321.3 949,1321.1 950,1320.8 951,1320.4 952,1319.9 953,1319.3 954,1318.7 955,1318.1 956,1317.5 957,1317 958,1316.4 959,1315.8 960,1315.2 961,1314.6 962,1314 963,1313.5 964,1312.9 965,1312.3 966,1311.7 967,1311.1 968,1310.5 969,1310 970,1309.4 971,1308.8 972,1308.2 973,1307.7 974,1307.2 975,1306.8 976,1306.4 977,1306.1 978,1305.8 979,1305.5 980,1305.2 981,1304.9 982,1304.5 983,1304.2 984,1303.9 985,1303.6 986,1303.3 987,1303 988,1302.7 989,1302.4 990,1302.2 991,1302 992,1301.9 993,1301.8 994,1301.7 995,1301.6 996,1301.5 997,1301.4 998,1301.3 999,1301.3 1000,1301.2 1001,1301.1 1002,1301 1003,1300.9 1004,1300.9 1005,1300.9 1006,1301 1007,1301.2 1008,1301.5 1009,1301.7 1010,1301.9 1011,1302.2 1012,1302.4 1013,1302.7 1014,1302.9 1015,1303.1 1016,1303.4 1017,1303.6 1018,1303.8 1019,1304.1 1020,1304.3 1021,1304.6 1022,1304.8 1023,1305 1024,1305.3 1025,1305.5 1026,1305.8 1027,1306.1 1028,1306.4 1029,1306.9 1030,1307.4 1031,1308 1032,1308.5 1033,1309.1 1034,1309.7 1035,1310.3 1036,1310.8 1037,1311.4 1038,1312 1039,1312.6 1040,1313.1 1041,1313.7 1042,1314.3 1043,1314.9 1044,1315.4 1045,1316 1046,1316.6 1047,1317.2 1048,1317.7 1049,1318.3 1050,1318.9 1051,1319.4 1052,1319.9 1053,1320.3 1054,1320.6 1055,1320.9 1056,1321.2 1057,1321.5 1058,1321.8 1059,1322 1060,1322.3 1061,1322.6 1062,1322.9 1063,1323.2 1064,1323.5 1065,1323.6 1066,1323.8 1066,1324" fill="#006400" stroke="#000" stroke-width="2" stroke-linejoin="round"/>
<polygon points="853,1345 853,1345 854,1345 855,1345 856,1345 857,1345 858,1345 859,1345 860,1345 861,1345 862,1345 863,1345 864,1345 865,1345 866,1345 867,1345 868,1345 869,1345 870,1345 871,1345 872,1345 873,1345 874,1345 875,1345 876,1345 877,1345 878,1345 879,1345 880,1345 881,1345 882,1345 883,1345 884,1345 885,1345 886,1345 887,1345 888,1345 889,1345 890,1345 891,1345 892,1345 893,1345 894,1345 895,1345 896,1345 897,1345 898,1345 899,1345 900,1345 901,1345 902,1345 903,1345 904,1345 905,1345 906,1345 907,1345 908,1345 909,1345 910,1345 911,1345 912,1345 913,1345 914,1345 915,1345 916,1345 917,1345 918,1345 919,1344.9 920,1344.7 921,1344.4 922,1344 923,1343.6 924,1343.1 925,1342.6 926,1342.1 927,1341.7 928,1341.2 929,1340.7 930,1340.2 931,1339.8 932,1339.3 933,1338.8 934,1338.4 935,1337.9 936,1337.4 937,1336.9 938,1336.5 939,1336 940,1335.5 941,1335 942,1334.6 943,1334.3 944,1333.9 945,1333.7 946,1333.5 947,1333.3 948,1333.1 949,1332.9 950,1332.7 951,1332.5 952,1332.3 953,1332.1 954,1331.9 955,1331.7 956,1331.5 957,1331.3 958,1331.1 959,1330.9 960,1330.7 961,1330.5 962,1330.3 963,1330.1 964,1329.9 965,1329.6 966,1329.2 967,1328.7 968,1328.2 969,1327.5 970,1326.9 971,1326.2 972,1325.5 973,1324.9 974,1324.2 975,1323.6 976,1322.9 977,1322.3 978,1321.6 979,1321 980,1320.3 981,1319.6 982,1319 983,1318.4 984,1318 985,1317.9 986,1318 987,1318.4 988,1319 989,1319.6 990,1320.2 991,1320.8 992,1321.4 993,1322 994,1322.6 995,1323.2 996,1323.8 997,1324.3 998,1324.8 999,1325.3 1000,1325.7 1001,1326 1002,1326.3 1003,1326.7 1004,1327 1005,1327.3 1006,1327.7 1007,1328 1008,1328.3 1009,1328.6 1010,1328.9 1011,1329.2 1012,1329.4 1013,1329.6 1014,1329.8 1015,1330 1016,1330.2 1017,1330.4 1018,1330.6 1019,1330.8 1020,1331 1021,1331.2 1022,1331.4 1023,1331.6 1024,1331.8 1025,1332 1026,1332.2 1027,1332.4 1028,1332.6 1029,1332.7 1030,1332.8 1031,1332.8 1032,1332.8 1033,1332.7 1034,1332.6 1035,1332.5 1036,1332.4 1037,1332.3 1038,1332.2 1039,1332.1 1040,1332 1041,1331.9 1042,1331.8 1043,1331.7 1044,1331.6 1045,1331.5 1046,1331.4 1047,1331.3 1048,1331.2 1049,1331.1 1050,1331.1 1051,1331.2 1052,1331.2 1053,1331.4 1054,1331.5 1055,1331.6 1056,1331.7 1057,1331.9 1058,1332 1059,1332.1 1060,1332.2 1061,1332.4 1062,1332.5 1063,1332.6 1064,1332.7 1065,1332.8 1066,1332.9 1066,1345" fill="#006400" stroke="#000" stroke-width="2" stroke-linejoin="round"/>
<polygon points="853,1365.9 853,1365.9 854,1365.9 855,1365.9 856,1365.9 857,1365.9 858,1365.9 859,1365.9 860,1365.9 861,1365.9 862,1365.9 863,1365.9 864,1365.9 865,1365.9 866,1365.9 867,1365.9 868,1365.9 869,1365.9 870,1365.9 871,1365.9 872,1365.9 873,1365.9 874,1365.9 875,1365.9 876,1365.9 877,1365.9 878,1365.9 879,1365.9 880,1365.9 881,1365.9 882,1365.9 883,1365.9 884,1365.9 885,1365.9 886,1365.9 887,1365.9 888,1365.9 889,1365.9 890,1365.9 891,1365.9 892,1365.9 893,1365.9 894,1365.9 895,1365.9 896,1365.9 897,1365.9 898,1365.9 899,1365.9 900,1365.7 901,1365.5 902,1365.1 903,1364.7 904,1364.3 905,1363.9 906,1363.5 907,1363.1 908,1362.7 909,1362.4 910,1362 911,1361.7 912,1361.5 913,1361.3 914,1361 915,1360.8 916,1360.6 917,1360.4 918,1360.2 919,1360 920,1360 921,1360.1 922,1360.2 923,1360.4 924,1360.6 925,1360.8 926,1361 927,1361.2 928,1361.5 929,1361.7 930,1361.9 931,1362.1 932,1362.3 933,1362.5 934,1362.6 935,1362.7 936,1362.6 937,1362.5 938,1362.2 939,1362 940,1361.8 941,1361.5 942,1361.3 943,1361.1 944,1360.8 945,1360.6 946,1360.4 947,1360.1 948,1359.9 949,1359.7 950,1359.4 951,1359.2 952,1359 953,1358.7 954,1358.5 955,1358.3 956,1358 957,1357.8 958,1357.7 959,1357.7 960,1357.8 961,1358 962,1358.2 963,1358.4 964,1358.6 965,1358.8 966,1359 967,1359.2 968,1359.4 969,1359.7 970,1359.9 971,1360.1 972,1360.3 973,1360.5 974,1360.7 975,1361 976,1361.2 977,1361.5 978,1361.7 979,1362 980,1362.2 981,1362.5 982,1362.8 983,1363 984,1363.3 985,1363.6 986,1363.8 987,1364.1 988,1364.4 989,1364.6 990,1364.9 991,1365.1 992,1365.4 993,1365.1 994,1364.3 995,1362.9 996,1360.9 997,1358.4 998,1355.9 999,1353.4 1000,1350.9 1001,1348.4 1002,1345.8 1003,1343.2 1004,1340.6 1005,1337.9 1006,1335.3 1007,1332.9 1008,1330.9 1009,1329.2 1010,1327.9 1011,1326.8 1012,1325.8 1013,1325 1014,1324.7 1015,1324.8 1016,1325.4 1017,1326.4 1018,1327.6 1019,1328.8 1020,1330.2 1021,1331.6 1022,1333.1 1023,1334.7 1024,1336.3 1025,1337.9 1026,1339.5 1027,1341.1 1028,1342.7 1029,1344.3 1030,1345.9 1031,1347.5 1032,1349 1033,1350.5 1034,1352.1 1035,1353.6 1036,1355.2 1037,1356.7 1038,1358.2 1039,1359.8 1040,1361.3 1041,1362.9 1042,1364.1 1043,1365 1044,1365.6 1045,1365.9 1046,1365.9 1047,1365.9 1048,1365.9 1049,1365.9 1050,1365.9 1051,1365.9 1052,1365.9 1053,1365.9 1054,1365.9 1055,1365.9 1056,1365.9 1057,1365.9 1058,1365.9 1059,1365.9 1060,1365.9 1061,1365.9 1062,1365.9 1063,1365.9 1064,1365.9 1065,1365.9 1066,1365.9 1066,1365.9" fill="#006400" stroke="#000" stroke-width="2" stroke-linejoin="round"/>
<polygon points="853,1386.9 853,1381.5 854,1381.8 855,1382.1 856,1382.7 857,1383.2 858,1383.7 859,1384.2 860,1384.6 861,1385 862,1385.4 863,1385.8 864,1386.1 865,1386.4 866,1386.7 867,1386.8 868,1386.9 869,1386.9 870,1386.9 871,1386.9 872,1386.9 873,1386.9 874,1386.9 875,1386.9 876,1386.9 877,1386.9 878,1386.9 879,1386.9 880,1386.9 881,1386.9 882,1386.9 883,1386.9 884,1386.9 885,1386.9 886,1386.9 887,1386.9 888,1386.9 889,1386.9 890,1386.9 891,1386.9 892,1386.9 893,1386.9 894,1386.9 895,1386.9 896,1386.9 897,1386.9 898,1386.9 899,1386.9 900,1386.9 901,1386.9 902,1386.9 903,1386.9 904,1386.9 905,1386.9 906,1386.9 907,1386.9 908,1386.9 909,1386.9 910,1386.9 911,1386.9 912,1386.9 913,1386.9 914,1386.9 915,1386.9 916,1386.9 917,1386.9 918,1386.9 919,1386.9 920,1386.9 921,1386.9 922,1386.9 923,1386.9 924,1386.9 925,1386.9 926,1386.9 927,1386.9 928,1386.9 929,1386.9 930,1386.9 931,1386.9 932,1386.9 933,1386.9 934,1386.9 935,1386.9 936,1386.9 937,1386.9 938,1386.9 939,1386.9 940,1386.9 941,1386.9 942,1386.9 943,1386.9 944,1386.9 945,1386.9 946,1386.9 947,1386.9 948,1386.9 949,1386.9 950,1386.9 951,1386.9 952,1386.9 953,1386.9 954,1386.7 955,1386.4 956,1385.9 957,1385.3 958,1384.5 959,1383.7 960,1382.9 961,1382.1 962,1381.3 963,1380.5 964,1379.6 965,1378.7 966,1377.7 967,1376.7 968,1375.6 969,1374.6 970,1373.5 971,1372.4 972,1371.3 973,1370.3 974,1369.2 975,1368.1 976,1367 977,1366 978,1365 979,1364.1 980,1363.2 981,1362.4 982,1361.6 983,1360.8 984,1360 985,1359.2 986,1358.4 987,1357.5 988,1356.7 989,1355.9 990,1355.4 991,1355.2 992,1355.2 993,1355.6 994,1356.3 995,1356.9 996,1357.6 997,1358.2 998,1358.9 999,1359.6 1000,1360.3 1001,1361.1 1002,1361.9 1003,1362.9 1004,1363.9 1005,1364.9 1006,1365.9 1007,1366.9 1008,1367.9 1009,1368.9 1010,1369.9 1011,1370.8 1012,1371.5 1013,1372.2 1014,1372.7 1015,1373.1 1016,1373.5 1017,1374 1018,1374.4 1019,1374.8 1020,1375.2 1021,1375.6 1022,1376 1023,1376.4 1024,1376.7 1025,1376.8 1026,1377 1027,1377 1028,1377.1 1029,1377.1 1030,1377.1 1031,1377.2 1032,1377.2 1033,1377.3 1034,1377.3 1035,1377.4 1036,1377.4 1037,1377.4 1038,1377.5 1039,1377.5 1040,1377.6 1041,1377.6 1042,1377.6 1043,1377.6 1044,1377.6 1045,1377.6 1046,1377.6 1047,1377.6 1048,1377.6 1049,1377.6 1050,1377.6 1051,1377.6 1052,1377.6 1053,1377.6 1054,1377.6 1055,1377.6 1056,1377.6 1057,1377.6 1058,1377.6 1059,1377.6 1060,1377.6 1061,1377.6 1062,1377.6 1063,1377.6 1064,1377.6 1065,1377.6 1066,1377.6 1066,1386.9" fill="#006400" stroke="#000" stroke-width="2" stroke-linejoin="round"/>
<polygon points="853,1407.8 853,1407.8 854,1407.8 855,1407.8 856,1407.8 857,1407.8 858,1407.8 859,1407.8 860,1407.8 861,1407.8 862,1407.8 863,1407.8 864,1407.8 865,1407.8 866,1407.8 867,1407.8 868,1407.8 869,1407.8 870,1407.8 871,1407.8 872,1407.8 873,1407.8 874,1407.8 875,1407.8 876,1407.8 877,1407.8 878,1407.8 879,1407.8 880,1407.8 881,1407.8 882,1407.8 883,1407.8 884,1407.8 885,1407.8 886,1407.8 887,1407.8 888,1407.8 889,1407.8 890,1407.8 891,1407.8 892,1407.8 893,1407.8 894,1407.8 895,1407.8 896,1407.8 897,1407.8 898,1407.8 899,1407.8 900,1407.8 901,1407.8 902,1407.8 903,1407.8 904,1407.8 905,1407.8 906,1407.8 907,1407.8 908,1407.7 909,1407.4 910,1407.1 911,1406.6 912,1405.9 913,1405.3 914,1404.6 915,1404 916,1403.4 917,1402.7 918,1402.1 919,1401.6 920,1401.1 921,1400.7 922,1400.5 923,1400.3 924,1400.1 925,1400 926,1399.8 927,1399.6 928,1399.5 929,1399.3 930,1399.1 931,1399 932,1398.8 933,1398.6 934,1398.5 935,1398.3 936,1398.1 937,1397.9 938,1397.8 939,1397.6 940,1397.4 941,1397.3 942,1397 943,1396.8 944,1396.5 945,1396.1 946,1395.7 947,1395.3 948,1394.9 949,1394.4 950,1394 951,1393.6 952,1393.2 953,1392.8 954,1392.4 955,1392 956,1391.5 957,1391.1 958,1390.7 959,1390.3 960,1389.9 961,1389.5 962,1389.1 963,1388.7 964,1388.3 965,1388 966,1387.7 967,1387.5 968,1387.3 969,1387.1 970,1386.9 971,1386.7 972,1386.5 973,1386.4 974,1386.2 975,1386 976,1385.8 977,1385.7 978,1385.6 979,1385.6 980,1385.7 981,1385.9 982,1386.1 983,1386.4 984,1386.6 985,1386.9 986,1387.1 987,1387.4 988,1387.6 989,1387.9 990,1388.1 991,1388.3 992,1388.6 993,1388.8 994,1389.1 995,1389.3 996,1389.6 997,1389.8 998,1389.9 999,1390.1 1000,1390.3 1001,1390.4 1002,1390.5 1003,1390.7 1004,1390.8 1005,1391 1006,1391.1 1007,1391.3 1008,1391.4 1009,1391.5 1010,1391.7 1011,1391.8 1012,1392 1013,1392.1 1014,1392.3 1015,1392.4 1016,1392.6 1017,1392.7 1018,1392.8 1019,1393 1020,1393.1 1021,1393.2 1022,1393.3 1023,1393.4 1024,1393.5 1025,1393.6 1026,1393.7 1027,1393.8 1028,1393.9 1029,1394 1030,1394.1 1031,1394.2 1032,1394.3 1033,1394.4 1034,1394.5 1035,1394.6 1036,1394.7 1037,1394.8 1038,1394.8 1039,1394.9 1040,1395 1041,1395.1 1042,1395.2 1043,1395.4 1044,1395.6 1045,1395.8 1046,1396.1 1047,1396.4 1048,1396.7 1049,1397 1050,1397.3 1051,1397.7 1052,1398 1053,1398.3 1054,1398.6 1055,1398.9 1056,1399.2 1057,1399.6 1058,1399.9 1059,1400.2 1060,1400.5 1061,1400.8 1062,1401.2 1063,1401.5 1064,1401.8 1065,1401.9 1066,1402.1 1066,1407.8" fill="#006400" stroke="#000" stroke-width="2" stroke-linejoin="round"/>
<polygon points="853,1428.8 853,1428.8 854,1428.8 855,1428.8 856,1428.8 857,1428.8 858,1428.8 859,1428.8 860,1428.8 861,1428.8 862,1428.8 863,1428.8 864,1428.8 865,1428.8 866,1428.8 867,1428.8 868,1428.8 869,1428.8 870,1428.8 871,1428.8 872,1428.8 873,1428.8 874,1428.8 875,1428.8 876,1428.8 877,1428.8 878,1428.8 879,1428.8 880,1428.8 881,1428.8 882,1428.8 883,1428.8 884,1428.8 885,1428.8 886,1428.8 887,1428.8 888,1428.8 889,1428.8 890,1428.8 891,1428.8 892,1428.8 893,1428.8 894,1428.8 895,1428.8 896,1428.8 897,1428.8 898,1428.8 899,1428.8 900,1428.8 901,1428.8 902,1428.8 903,1428.8 904,1428.7 905,1428.4 906,1428 907,1427.6 908,1427 909,1426.4 910,1425.8 911,1425.2 912,1424.6 913,1424 914,1423.4 915,1422.7 916,1422.1 917,1421.5 918,1420.9 919,1420.2 920,1419.6 921,1418.9 922,1418.3 923,1417.7 924,1417 925,1416.4 926,1415.7 927,1415.1 928,1414.5 929,1413.8 930,1413.2 931,1412.7 932,1412.5 933,1412.5 934,1412.8 935,1413.3 936,1413.8 937,1414.4 938,1414.9 939,1415.5 940,1416 941,1416.6 942,1417.1 943,1417.7 944,1418.2 945,1418.7 946,1419.2 947,1419.7 948,1420.1 949,1420.6 950,1421 951,1421.5 952,1421.9 953,1422.4 954,1422.8 955,1423.3 956,1423.7 957,1424.1 958,1424.3 959,1424.4 960,1424.3 961,1424 962,1423.6 963,1423.3 964,1422.9 965,1422.6 966,1422.2 967,1421.8 968,1421.5 969,1421 970,1420.4 971,1419.7 972,1418.9 973,1418 974,1417 975,1416.1 976,1415.2 977,1414.2 978,1413.3 979,1412.4 980,1411.4 981,1410.5 982,1409.6 983,1408.6 984,1407.8 985,1407 986,1406.4 987,1405.8 988,1405.3 989,1404.8 990,1404.3 991,1403.9 992,1403.4 993,1402.9 994,1402.4 995,1401.9 996,1401.4 997,1401 998,1400.7 999,1400.5 1000,1400.5 1001,1400.7 1002,1401 1003,1401.2 1004,1401.5 1005,1401.8 1006,1402.1 1007,1402.4 1008,1402.6 1009,1402.9 1010,1403.2 1011,1403.5 1012,1403.8 1013,1404.1 1014,1404.4 1015,1404.7 1016,1405 1017,1405.3 1018,1405.6 1019,1406 1020,1406.3 1021,1406.6 1022,1406.9 1023,1407.2 1024,1407.5 1025,1407.8 1026,1408.1 1027,1408.5 1028,1408.9 1029,1409.3 1030,1409.7 1031,1410.2 1032,1410.7 1033,1411.1 1034,1411.6 1035,1412.1 1036,1412.5 1037,1413 1038,1413.5 1039,1413.9 1040,1414.4 1041,1414.9 1042,1415.4 1043,1415.8 1044,1416.3 1045,1416.7 1046,1417.2 1047,1417.6 1048,1418.1 1049,1418.5 1050,1418.9 1051,1419.3 1052,1419.8 1053,1420.2 1054,1420.6 1055,1421.1 1056,1421.5 1057,1421.9 1058,1422.3 1059,1422.8 1060,1423.2 1061,1423.6 1062,1424.1 1063,1424.5 1064,1424.9 1065,1425.1 1066,1425.3 1066,1428.8" fill="#006400" stroke="#000" stroke-width="2" stroke-linejoin="round"/>
<polygon points="853,1449.7 853,1449.7 854,1449.7 855,1449.7 856,1449.7 857,1449.7 858,1449.7 859,1449.7 860,1449.7 861,1449.7 862,1449.7 863,1449.7 864,1449.7 865,1449.7 866,1449.7 867,1449.7 868,1449.7 869,1449.7 870,1449.7 871,1449.7 872,1449.7 873,1449.7 874,1449.7 875,1449.7 876,1449.7 877,1449.7 878,1449.7 879,1449.7 880,1449.7 881,1449.7 882,1449.7 883,1449.7 884,1449.7 885,1449.7 886,1449.7 887,1449.7 888,1449.7 889,1449.7 890,1449.7 891,1449.7 892,1449.7 893,1449.7 894,1449.7 895,1449.7 896,1449.7 897,1449.7 898,1449.7 899,1449.7 900,1449.7 901,1449.7 902,1449.7 903,1449.7 904,1449.7 905,1449.7 906,1449.7 907,1449.7 908,1449.7 909,1449.7 910,1449.7 911,1449.7 912,1449.7 913,1449.7 914,1449.7 915,1449.7 916,1449.7 917,1449.7 918,1449.7 919,1449.7 920,1449.7 921,1449.7 922,1449.7 923,1449.7 924,1449.7 925,1449.7 926,1449.7 927,1449.7 928,1449.7 929,1449.6 930,1449.4 931,1449 932,1448.5 933,1447.9 934,1447.4 935,1447 936,1446.8 937,1446.6 938,1446.6 939,1446.5 940,1446.4 941,1446.4 942,1446.3 943,1446.3 944,1446.2 945,1446.2 946,1446.1 947,1446.1 948,1446 949,1446 950,1445.9 951,1445.9 952,1445.8 953,1445.8 954,1445.7 955,1445.6 956,1445.6 957,1445.5 958,1445.5 959,1445.4 960,1445.4 961,1445.3 962,1445.3 963,1445.2 964,1445.1 965,1444.8 966,1444.5 967,1444.1 968,1443.6 969,1443 970,1442.5 971,1442 972,1441.5 973,1441 974,1440.4 975,1439.9 976,1439.4 977,1438.9 978,1438.4 979,1437.8 980,1437.3 981,1436.8 982,1436.3 983,1435.8 984,1435.1 985,1434.4 986,1433.6 987,1432.7 988,1431.7 989,1430.7 990,1429.7 991,1428.7 992,1427.7 993,1426.7 994,1425.7 995,1424.8 996,1423.8 997,1422.9 998,1422 999,1421.1 1000,1420.2 1001,1419.3 1002,1418.4 1003,1417.5 1004,1416.7 1005,1416 1006,1415.4 1007,1414.9 1008,1414.5 1009,1414.1 1010,1413.7 1011,1413.3 1012,1413.1 1013,1413.1 1014,1413.2 1015,1413.5 1016,1414 1017,1414.4 1018,1414.9 1019,1415.3 1020,1415.8 1021,1416.3 1022,1416.9 1023,1417.5 1024,1418.1 1025,1418.8 1026,1419.5 1027,1420.2 1028,1420.9 1029,1421.6 1030,1422.3 1031,1422.9 1032,1423.6 1033,1424.3 1034,1425 1035,1425.8 1036,1426.5 1037,1427.3 1038,1428.1 1039,1428.9 1040,1429.7 1041,1430.5 1042,1431.3 1043,1432.1 1044,1432.9 1045,1433.7 1046,1434.5 1047,1435.3 1048,1436.1 1049,1436.9 1050,1437.7 1051,1438.5 1052,1439.3 1053,1440.1 1054,1440.9 1055,1441.7 1056,1442.5 1057,1443.3 1058,1444.1 1059,1444.8 1060,1445.4 1061,1446 1062,1446.4 1063,1446.7 1064,1447 1065,1447.2 1066,1447.4 1066,1449.7" fill="#006400" stroke="#000" stroke-width="2" stroke-linejoin="round"/>
<polygon points="853,1470.7 853,1470.7 854,1470.7 855,1470.7 856,1470.7 857,1470.7 858,1470.7 859,1470.7 860,1470.7 861,1470.7 862,1470.7 863,1470.7 864,1470.7 865,1470.7 866,1470.7 867,1470.7 868,1470.7 869,1470.7 870,1470.7 871,1470.7 872,1470.7 873,1470.7 874,1470.7 875,1470.7 876,1470.7 877,1470.7 878,1470.7 879,1470.7 880,1470.7 881,1470.7 882,1470.7 883,1470.7 884,1470.7 885,1470.7 886,1470.7 887,1470.7 888,1470.7 889,1470.7 890,1470.7 891,1470.7 892,1470.7 893,1470.7 894,1470.7 895,1470.7 896,1470.7 897,1470.7 898,1470.7 899,1470.7 900,1470.7 901,1470.7 902,1470.7 903,1470.7 904,1470.7 905,1470.7 906,1470.7 907,1470.7 908,1470.7 909,1470.7 910,1470.7 911,1470.7 912,1470.7 913,1470.7 914,1470.7 915,1470.7 916,1470.7 917,1470.7 918,1470.7 919,1470.7 920,1470.7 921,1470.7 922,1470.7 923,1470.7 924,1470.7 925,1470.7 926,1470.7 927,1470.7 928,1470.7 929,1470.7 930,1470.7 931,1470.7 932,1470.7 933,1470.7 934,1470.7 935,1470.7 936,1470.7 937,1470.7 938,1470.7 939,1470.7 940,1470.7 941,1470.7 942,1470.7 943,1470.7 944,1470.7 945,1470.7 946,1470.7 947,1470.7 948,1470.7 949,1470.7 950,1470.7 951,1470.7 952,1470.7 953,1470.7 954,1470.7 955,1470.7 956,1470.3 957,1469.5 958,1468.4 959,1466.9 960,1465 961,1463.2 962,1461.3 963,1459.4 964,1457.5 965,1455.5 966,1453.5 967,1451.4 968,1449.2 969,1447.1 970,1444.9 971,1443 972,1441.2 973,1439.7 974,1438.3 975,1437.1 976,1436 977,1435 978,1434.5 979,1434.4 980,1434.7 981,1435.3 982,1436.2 983,1437 984,1438 985,1439.2 986,1440.6 987,1442.1 988,1443.8 989,1445.5 990,1447.2 991,1448.9 992,1450.5 993,1452 994,1453.4 995,1454.8 996,1456.2 997,1457.5 998,1458.9 999,1460 1000,1460.9 1001,1461.5 1002,1461.9 1003,1462 1004,1462.1 1005,1462.2 1006,1462.3 1007,1462.4 1008,1462.5 1009,1462.5 1010,1462.4 1011,1462.2 1012,1461.9 1013,1461.5 1014,1461.1 1015,1460.7 1016,1460.3 1017,1459.9 1018,1459.5 1019,1459.1 1020,1458.7 1021,1458.3 1022,1457.9 1023,1457.5 1024,1457.1 1025,1456.7 1026,1456.3 1027,1456 1028,1455.6 1029,1455.2 1030,1454.9 1031,1454.5 1032,1454.2 1033,1453.8 1034,1453.5 1035,1453.1 1036,1452.8 1037,1452.5 1038,1452.3 1039,1452.1 1040,1452.1 1041,1452.1 1042,1452.1 1043,1452.1 1044,1452.1 1045,1452.1 1046,1452.1 1047,1452.1 1048,1452.1 1049,1452.1 1050,1452.2 1051,1452.4 1052,1452.6 1053,1452.9 1054,1453.2 1055,1453.5 1056,1453.8 1057,1454.1 1058,1454.4 1059,1454.6 1060,1454.9 1061,1455.2 1062,1455.5 1063,1455.8 1064,1456.1 1065,1456.2 1066,1456.4 1066,1470.7" fill="#006400" stroke="#000" stroke-width="2" stroke-linejoin="round"/>
<polygon points="853,1491.6 853,1491.6 854,1491.6 855,1491.6 856,1491.6 857,1491.6 858,1491.6 859,1491.6 860,1491.6 861,1491.6 862,1491.6 863,1491.6 864,1491.6 865,1491.6 866,1491.6 867,1491.6 868,1491.6 869,1491.6 870,1491.6 871,1491.6 872,1491.6 873,1491.6 874,1491.6 875,1491.6 876,1491.6 877,1491.6 878,1491.6 879,1491.6 880,1491.6 881,1491.6 882,1491.6 883,1491.6 884,1491.6 885,1491.6 886,1491.6 887,1491.6 888,1491.6 889,1491.6 890,1491.6 891,1491.6 892,1491.6 893,1491.6 894,1491.6 895,1491.6 896,1491.6 897,1491.6 898,1491.6 899,1491.6 900,1491.6 901,1491.6 902,1491.6 903,1491.6 904,1491.6 905,1491.6 906,1491.6 907,1491.6 908,1491.6 909,1491.6 910,1491.6 911,1491.6 912,1491.6 913,1491.6 914,1491.5 915,1491.3 916,1490.9 917,1490.5 918,1489.9 919,1489.3 920,1488.7 921,1488.2 922,1487.6 923,1487.2 924,1487 925,1487.1 926,1487.4 927,1488.1 928,1488.8 929,1489.5 930,1490.2 931,1490.8 932,1491.2 933,1491.5 934,1491.6 935,1491.6 936,1491.6 937,1491.6 938,1491.6 939,1491.6 940,1491.6 941,1491.6 942,1491.6 943,1491.6 944,1491.6 945,1491.6 946,1491.6 947,1491.6 948,1491.6 949,1491.6 950,1491.6 951,1491.6 952,1491.6 953,1491.6 954,1491.6 955,1491.6 956,1491.6 957,1491.6 958,1491.6 959,1491.6 960,1491.6 961,1491.6 962,1491.6 963,1491.6 964,1491.6 965,1491.6 966,1491.6 967,1491.6 968,1491.6 969,1491.4 970,1491 971,1490.4 972,1489.6 973,1488.6 974,1487.6 975,1486.6 976,1485.6 977,1484.6 978,1483.6 979,1482.6 980,1481.6 981,1480.6 982,1479.6 983,1478.6 984,1477.6 985,1476.7 986,1475.8 987,1475 988,1474.2 989,1473.4 990,1472.6 991,1471.8 992,1471 993,1470.2 994,1469.4 995,1468.6 996,1467.8 997,1467 998,1466.2 999,1465.5 1000,1464.9 1001,1464.4 1002,1464 1003,1463.8 1004,1463.5 1005,1463.2 1006,1462.9 1007,1462.6 1008,1462.3 1009,1462 1010,1461.9 1011,1461.8 1012,1462 1013,1462.2 1014,1462.6 1015,1463.1 1016,1463.5 1017,1463.9 1018,1464.4 1019,1464.8 1020,1465.2 1021,1465.7 1022,1466.1 1023,1466.6 1024,1467 1025,1467.4 1026,1467.9 1027,1468.3 1028,1468.7 1029,1469.2 1030,1469.6 1031,1470.1 1032,1470.5 1033,1471 1034,1471.4 1035,1471.9 1036,1472.3 1037,1472.8 1038,1473.2 1039,1473.7 1040,1474.1 1041,1474.6 1042,1475 1043,1475.5 1044,1475.9 1045,1476.4 1046,1476.8 1047,1477.3 1048,1477.7 1049,1478.1 1050,1478.6 1051,1479 1052,1479.4 1053,1479.7 1054,1480.1 1055,1480.5 1056,1480.9 1057,1481.2 1058,1481.6 1059,1482 1060,1482.4 1061,1482.7 1062,1483.1 1063,1483.5 1064,1483.9 1065,1484 1066,1484.2 1066,1491.6" fill="#006400" stroke="#000" stroke-width="2" stroke-linejoin="round"/>
<polygon points="853,1512.6 853,1512.6 854,1512.6 855,1512.6 856,1512.6 857,1512.6 858,1512.6 859,1512.6 860,1512.6 861,1512.6 862,1512.6 863,1512.6 864,1512.6 865,1512.6 866,1512.6 867,1512.6 868,1512.6 869,1512.6 870,1512.6 871,1512.6 872,1512.6 873,1512.6 874,1512.6 875,1512.6 876,1512.6 877,1512.6 878,1512.6 879,1512.6 880,1512.6 881,1512.6 882,1512.6 883,1512.6 884,1512.6 885,1512.6 886,1512.6 887,1512.6 888,1512.6 889,1512.6 890,1512.6 891,1512.6 892,1512.6 893,1512.6 894,1512.6 895,1512.6 896,1512.6 897,1512.6 898,1512.6 899,1512.6 900,1512.6 901,1512.6 902,1512.6 903,1512.6 904,1512.6 905,1512.6 906,1512.6 907,1512.6 908,1512.6 909,1512.6 910,1512.6 911,1512.6 912,1512.6 913,1512.6 914,1512.6 915,1512.6 916,1512.6 917,1512.6 918,1512.6 919,1512.6 920,1512.6 921,1512.6 922,1512.6 923,1512.6 924,1512.6 925,1512.6 926,1512.6 927,1512.6 928,1512.6 929,1512.6 930,1512.6 931,1512.6 932,1512.6 933,1512.6 934,1512.6 935,1512.6 936,1512.6 937,1512.6 938,1512.6 939,1512.6 940,1512.6 941,1512.6 942,1512.6 943,1512.6 944,1512.6 945,1512.6 946,1512.6 947,1512.6 948,1512.6 949,1512.6 950,1512.6 951,1512.6 952,1512.6 953,1512.6 954,1512.6 955,1512.6 956,1512.6 957,1512.6 958,1512.6 959,1512.6 960,1512.6 961,1512.6 962,1512.6 963,1512.6 964,1512.6 965,1512.6 966,1512.6 967,1512.6 968,1512.6 969,1512.6 970,1512.6 971,1511.9 972,1509.9 973,1506.6 974,1501.9 975,1495.9 976,1489.4 977,1483 978,1476.7 979,1470.6 980,1464.6 981,1459.3 982,1454.8 983,1451.1 984,1448.6 985,1447.3 986,1446.4 987,1446 988,1446 989,1446 990,1446 991,1446.2 992,1447.1 993,1448.5 994,1450.6 995,1453.3 996,1456.4 997,1459.6 998,1462.8 999,1466.1 1000,1469.4 1001,1472.8 1002,1476.3 1003,1479.7 1004,1483.1 1005,1486.5 1006,1489.9 1007,1493.2 1008,1496.6 1009,1499.9 1010,1503.2 1011,1506.4 1012,1509 1013,1510.8 1014,1512 1015,1512.6 1016,1512.6 1017,1512.6 1018,1512.6 1019,1512.6 1020,1512.6 1021,1512.6 1022,1512.4 1023,1512.1 1024,1511.7 1025,1511.1 1026,1510.3 1027,1509.6 1028,1508.8 1029,1508.1 1030,1507.3 1031,1506.6 1032,1505.8 1033,1505.1 1034,1504.4 1035,1503.8 1036,1503.2 1037,1502.8 1038,1502.4 1039,1502 1040,1501.6 1041,1501.2 1042,1500.9 1043,1500.7 1044,1500.6 1045,1500.6 1046,1500.8 1047,1501.1 1048,1501.4 1049,1501.7 1050,1502 1051,1502.3 1052,1502.6 1053,1502.9 1054,1503.2 1055,1503.5 1056,1503.7 1057,1503.9 1058,1504.1 1059,1504.3 1060,1504.5 1061,1504.6 1062,1504.8 1063,1505 1064,1505.2 1065,1505.3 1066,1505.4 1066,1512.6" fill="#006400" stroke="#000" stroke-width="2" stroke-linejoin="round"/>
<polygon points="853,1533.5 853,1533.5 854,1533.5 855,1533.5 856,1533.5 857,1533.5 858,1533.5 859,1533.5 860,1533.5 861,1533.5 862,1533.5 863,1533.5 864,1533.5 865,1533.5 866,1533.5 867,1533.5 868,1533.5 869,1533.5 870,1533.5 871,1533.5 872,1533.5 873,1533.5 874,1533.5 875,1533.5 876,1533.5 877,1533.5 878,1533.5 879,1533.5 880,1533.5 881,1533.5 882,1533.5 883,1533.5 884,1533.5 885,1533.5 886,1533.5 887,1533.5 888,1533.5 889,1533.5 890,1533.5 891,1533.5 892,1533.5 893,1533.5 894,1533.5 895,1533.5 896,1533.5 897,1533.5 898,1533.5 899,1533.5 900,1533.5 901,1533.5 902,1533.5 903,1533.5 904,1533.5 905,1533.5 906,1533.5 907,1533.5 908,1533.5 909,1533.4 910,1533.4 911,1533.3 912,1533.2 913,1533 914,1532.9 915,1532.8 916,1532.7 917,1532.6 918,1532.5 919,1532.3 920,1532.2 921,1532.1 922,1532 923,1531.9 924,1531.8 925,1531.7 926,1531.5 927,1531.4 928,1531.3 929,1531.2 930,1531.1 931,1531 932,1530.8 933,1530.7 934,1530.5 935,1530.3 936,1529.9 937,1529.4 938,1528.9 939,1528.4 940,1527.8 941,1527.3 942,1526.8 943,1526.2 944,1525.7 945,1525.2 946,1524.6 947,1524.1 948,1523.6 949,1523.1 950,1522.5 951,1522 952,1521.5 953,1520.9 954,1520.4 955,1519.9 956,1519.3 957,1518.8 958,1518.2 959,1517.6 960,1517 961,1516.3 962,1515.6 963,1514.9 964,1514.2 965,1513.5 966,1512.8 967,1512.1 968,1511.5 969,1510.8 970,1510.1 971,1509.5 972,1508.9 973,1508.5 974,1508.1 975,1507.8 976,1507.4 977,1507.1 978,1506.8 979,1506.5 980,1506.2 981,1506.1 982,1506.1 983,1506.4 984,1506.8 985,1507.3 986,1507.8 987,1508.4 988,1508.9 989,1509.4 990,1510 991,1510.5 992,1511 993,1511.5 994,1512 995,1512.5 996,1513.1 997,1513.8 998,1514.5 999,1515.4 1000,1516.4 1001,1517.3 1002,1518.3 1003,1519.2 1004,1520 1005,1520.6 1006,1521 1007,1521.3 1008,1521.4 1009,1521.5 1010,1521.6 1011,1521.7 1012,1521.8 1013,1521.9 1014,1522 1015,1522.1 1016,1522.2 1017,1522.3 1018,1522.4 1019,1522.4 1020,1522.4 1021,1522.3 1022,1522.1 1023,1521.9 1024,1521.6 1025,1521.4 1026,1521.1 1027,1520.9 1028,1520.7 1029,1520.4 1030,1520.2 1031,1519.9 1032,1519.7 1033,1519.5 1034,1519.2 1035,1519 1036,1518.7 1037,1518.5 1038,1518.4 1039,1518.4 1040,1518.5 1041,1518.8 1042,1519.2 1043,1519.6 1044,1520 1045,1520.4 1046,1520.8 1047,1521.3 1048,1521.7 1049,1522.1 1050,1522.5 1051,1522.9 1052,1523.3 1053,1523.7 1054,1524.1 1055,1524.5 1056,1524.9 1057,1525.3 1058,1525.7 1059,1526.1 1060,1526.5 1061,1526.9 1062,1527.3 1063,1527.7 1064,1528.1 1065,1528.3 1066,1528.5 1066,1533.5" fill="#006400" stroke="#000" stroke-width="2" stroke-linejoin="round"/>
<polygon points="853,1554.4 853,1554.4 854,1554.4 855,1554.4 856,1554.4 857,1554.4 858,1554.4 859,1554.4 860,1554.4 861,1554.4 862,1554.4 863,1554.4 864,1554.4 865,1554.4 866,1554.4 867,1554.4 868,1554.4 869,1554.4 870,1554.4 871,1554.4 872,1554.4 873,1554.4 874,1554.4 875,1554.4 876,1554.4 877,1554.4 878,1554.4 879,1554.4 880,1554.4 881,1554.4 882,1554.4 883,1554.4 884,1554.4 885,1554.4 886,1554.4 887,1554.4 888,1554.4 889,1554.4 890,1554.4 891,1554.3 892,1554 893,1553.7 894,1553.1 895,1552.5 896,1551.9 897,1551.3 898,1550.7 899,1550.1 900,1549.5 901,1548.8 902,1548.2 903,1547.6 904,1547 905,1546.4 906,1545.8 907,1545.2 908,1544.6 909,1544 910,1543.4 911,1542.8 912,1542.2 913,1541.6 914,1541.2 915,1540.9 916,1540.8 917,1540.8 918,1541 919,1541.2 920,1541.4 921,1541.6 922,1541.8 923,1542 924,1542.3 925,1542.6 926,1543 927,1543.4 928,1543.8 929,1544.3 930,1544.8 931,1545.2 932,1545.7 933,1546.2 934,1546.6 935,1547.1 936,1547.6 937,1548 938,1548.5 939,1549 940,1549.4 941,1549.7 942,1550.1 943,1550.4 944,1550.7 945,1551.1 946,1551.4 947,1551.7 948,1552 949,1552.3 950,1552.4 951,1552.3 952,1552.1 953,1551.6 954,1551 955,1550.4 956,1549.8 957,1549.2 958,1548.6 959,1548 960,1547.4 961,1546.8 962,1546.2 963,1545.6 964,1545 965,1544.4 966,1543.8 967,1543.1 968,1542.4 969,1541.8 970,1541.1 971,1540.4 972,1539.8 973,1539.1 974,1538.4 975,1537.8 976,1537.1 977,1536.4 978,1535.8 979,1535.2 980,1534.7 981,1534.3 982,1534 983,1533.7 984,1533.5 985,1533.3 986,1533.1 987,1532.8 988,1532.6 989,1532.4 990,1532.1 991,1531.9 992,1531.7 993,1531.5 994,1531.6 995,1531.7 996,1532 997,1532.4 998,1532.9 999,1533.4 1000,1533.8 1001,1534.3 1002,1534.7 1003,1535.2 1004,1535.7 1005,1536.1 1006,1536.6 1007,1537.1 1008,1537.5 1009,1537.9 1010,1538.3 1011,1538.7 1012,1538.9 1013,1539.2 1014,1539.4 1015,1539.7 1016,1539.9 1017,1540.2 1018,1540.4 1019,1540.7 1020,1540.9 1021,1541.2 1022,1541.4 1023,1541.7 1024,1541.9 1025,1542.2 1026,1542.4 1027,1542.7 1028,1542.9 1029,1543.2 1030,1543.4 1031,1543.6 1032,1543.8 1033,1543.9 1034,1544.1 1035,1544.3 1036,1544.4 1037,1544.6 1038,1544.8 1039,1544.9 1040,1545.1 1041,1545.3 1042,1545.4 1043,1545.6 1044,1545.8 1045,1545.9 1046,1546.1 1047,1546.3 1048,1546.4 1049,1546.6 1050,1546.8 1051,1546.9 1052,1547.1 1053,1547.3 1054,1547.4 1055,1547.6 1056,1547.8 1057,1547.9 1058,1548.1 1059,1548.3 1060,1548.4 1061,1548.6 1062,1548.8 1063,1548.9 1064,1549.1 1065,1549.2 1066,1549.3 1066,1554.4" fill="#006400" stroke="#000" stroke-width="2" stroke-linejoin="round"/>
<polygon points="853,1575.4 853,1570.8 854,1570.8 855,1570.8 856,1570.9 857,1570.9 858,1570.9 859,1570.9 860,1570.9 861,1571 862,1571 863,1571 864,1571 865,1571.1 866,1571.1 867,1571.1 868,1571.1 869,1571.1 870,1571.2 871,1571.2 872,1571.2 873,1571.2 874,1571.3 875,1571.3 876,1571.3 877,1571.3 878,1571.3 879,1571.4 880,1571.4 881,1571.4 882,1571.4 883,1571.4 884,1571.4 885,1571.4 886,1571.4 887,1571.4 888,1571.4 889,1571.4 890,1571.4 891,1571.4 892,1571.4 893,1571.4 894,1571.4 895,1571.4 896,1571.4 897,1571.4 898,1571.4 899,1571.4 900,1571.4 901,1571.4 902,1571.4 903,1571.4 904,1571.4 905,1571.4 906,1571.4 907,1571.4 908,1571.4 909,1571.4 910,1571.4 911,1571.4 912,1571.3 913,1571.2 914,1571.1 915,1570.8 916,1570.6 917,1570.3 918,1570 919,1569.7 920,1569.5 921,1569.2 922,1568.9 923,1568.6 924,1568.4 925,1568.1 926,1567.8 927,1567.5 928,1567.1 929,1566.8 930,1566.4 931,1565.9 932,1565.5 933,1565.1 934,1564.7 935,1564.3 936,1563.9 937,1563.5 938,1563 939,1562.6 940,1562.2 941,1561.8 942,1561.5 943,1561.1 944,1560.8 945,1560.5 946,1560.2 947,1559.9 948,1559.6 949,1559.2 950,1558.9 951,1558.6 952,1558.3 953,1558 954,1557.7 955,1557.4 956,1557.2 957,1557.2 958,1557.3 959,1557.5 960,1557.9 961,1558.2 962,1558.6 963,1559 964,1559.3 965,1559.7 966,1560 967,1560.3 968,1560.6 969,1560.8 970,1561.1 971,1561.3 972,1561.5 973,1561.7 974,1561.9 975,1562.2 976,1562.4 977,1562.6 978,1562.6 979,1562.5 980,1562.2 981,1561.9 982,1561.4 983,1560.9 984,1560.4 985,1559.9 986,1559.4 987,1558.9 988,1558.4 989,1557.8 990,1557.1 991,1556.4 992,1555.6 993,1554.7 994,1553.8 995,1552.9 996,1552 997,1551.1 998,1550.2 999,1549.4 1000,1548.7 1001,1548.1 1002,1547.6 1003,1547.3 1004,1546.9 1005,1546.6 1006,1546.5 1007,1546.5 1008,1546.8 1009,1547.2 1010,1547.8 1011,1548.3 1012,1549.1 1013,1550.3 1014,1551.7 1015,1553.4 1016,1555.4 1017,1557.4 1018,1559.4 1019,1561.5 1020,1563.6 1021,1565.9 1022,1568.2 1023,1570.6 1024,1572.5 1025,1574 1026,1574.9 1027,1575.4 1028,1575.4 1029,1575.4 1030,1575.4 1031,1575.4 1032,1575.4 1033,1575.4 1034,1575.4 1035,1575.4 1036,1575.4 1037,1575.4 1038,1575.4 1039,1575.4 1040,1575.4 1041,1575.4 1042,1575.4 1043,1575.4 1044,1575.4 1045,1575.4 1046,1575.4 1047,1575.4 1048,1575.4 1049,1575.4 1050,1575.4 1051,1575.4 1052,1575.4 1053,1575.4 1054,1575.4 1055,1575.4 1056,1575.4 1057,1575.4 1058,1575.4 1059,1575.4 1060,1575.4 1061,1575.4 1062,1575.4 1063,1575.4 1064,1575.4 1065,1575.4 1066,1575.4 1066,1575.4" fill="#006400" stroke="#000" stroke-width="2" stroke-linejoin="round"/>
<polygon points="853,1596.3 853,1587.5 854,1587.1 855,1586.7 856,1585.9 857,1585.3 858,1584.7 859,1584.3 860,1583.9 861,1583.7 862,1583.5 863,1583.5 864,1583.5 865,1583.7 866,1583.9 867,1584.3 868,1584.7 869,1585.1 870,1585.5 871,1586 872,1586.6 873,1587.2 874,1587.9 875,1588.6 876,1589.4 877,1590.2 878,1591 879,1591.7 880,1592.5 881,1593.3 882,1594 883,1594.8 884,1595.4 885,1595.9 886,1596.2 887,1596.3 888,1596.3 889,1596.3 890,1596.3 891,1596.3 892,1596.3 893,1596.3 894,1596.3 895,1596.3 896,1596.3 897,1596.3 898,1596.3 899,1596.3 900,1596.3 901,1596.3 902,1596.3 903,1596.3 904,1596.3 905,1596.3 906,1596.3 907,1596.3 908,1596.3 909,1596.3 910,1596.3 911,1596.3 912,1596.3 913,1596.3 914,1596.3 915,1596.3 916,1596.3 917,1596.3 918,1596.3 919,1596.3 920,1596.3 921,1596.3 922,1596.3 923,1596.3 924,1596.3 925,1596.3 926,1596.3 927,1596.3 928,1596.3 929,1596.3 930,1596.3 931,1596.3 932,1596.3 933,1596.3 934,1596.1 935,1595.7 936,1595.1 937,1594.3 938,1593.3 939,1592.3 940,1591.3 941,1590.3 942,1589.3 943,1588.3 944,1587.4 945,1586.5 946,1585.6 947,1584.8 948,1584.1 949,1583.3 950,1582.6 951,1581.8 952,1581.1 953,1580.3 954,1579.7 955,1579.3 956,1579.1 957,1579.1 958,1579.3 959,1579.6 960,1579.9 961,1580.2 962,1580.5 963,1580.8 964,1581 965,1581.3 966,1581.6 967,1581.9 968,1582.1 969,1582.4 970,1582.6 971,1582.9 972,1583.2 973,1583.4 974,1583.7 975,1584 976,1584.2 977,1584.4 978,1584.5 979,1584.5 980,1584.5 981,1584.3 982,1584.2 983,1584 984,1583.9 985,1583.7 986,1583.6 987,1583.5 988,1583.3 989,1583.2 990,1583 991,1582.9 992,1582.8 993,1582.6 994,1582.5 995,1582.3 996,1582.1 997,1581.9 998,1581.7 999,1581.5 1000,1581.3 1001,1581.1 1002,1580.8 1003,1580.6 1004,1580.4 1005,1580.2 1006,1580 1007,1579.8 1008,1579.6 1009,1579.3 1010,1579.1 1011,1578.9 1012,1578.9 1013,1578.9 1014,1579 1015,1579.3 1016,1579.6 1017,1580 1018,1580.3 1019,1580.6 1020,1581 1021,1581.3 1022,1581.6 1023,1582 1024,1582.3 1025,1582.7 1026,1583 1027,1583.3 1028,1583.7 1029,1584 1030,1584.3 1031,1584.7 1032,1585 1033,1585.4 1034,1585.7 1035,1586.1 1036,1586.4 1037,1586.8 1038,1587.1 1039,1587.5 1040,1587.8 1041,1588.2 1042,1588.5 1043,1588.9 1044,1589.2 1045,1589.6 1046,1589.9 1047,1590.3 1048,1590.6 1049,1591 1050,1591.3 1051,1591.6 1052,1591.8 1053,1592.1 1054,1592.3 1055,1592.6 1056,1592.8 1057,1593.1 1058,1593.3 1059,1593.6 1060,1593.8 1061,1594.1 1062,1594.3 1063,1594.6 1064,1594.8 1065,1595 1066,1595.1 1066,1596.3" fill="#006400" stroke="#000" stroke-width="2" stroke-linejoin="round"/>
<polygon points="853,1617.3 853,1611.3 854,1610.8 855,1610.3 856,1609.3 857,1608.3 858,1607.3 859,1606.4 860,1605.6 861,1605 862,1604.5 863,1604.1 864,1603.7 865,1603.3 866,1602.9 867,1602.5 868,1602.1 869,1601.8 870,1601.4 871,1601 872,1600.6 873,1600.2 874,1600.1 875,1600.1 876,1600.2 877,1600.6 878,1601.1 879,1601.6 880,1602.2 881,1602.7 882,1603.2 883,1603.7 884,1604.2 885,1604.7 886,1605.2 887,1605.7 888,1606.3 889,1606.8 890,1607.5 891,1608.2 892,1609 893,1609.8 894,1610.6 895,1611.5 896,1612.3 897,1613.1 898,1614 899,1614.8 900,1615.6 901,1616.3 902,1616.8 903,1617.1 904,1617.3 905,1617.3 906,1617.3 907,1617.3 908,1617.3 909,1617.3 910,1617.3 911,1617.3 912,1617.3 913,1617.3 914,1617.3 915,1617.3 916,1617.3 917,1617.3 918,1617.3 919,1617.3 920,1617.3 921,1617.3 922,1617.3 923,1617.3 924,1617.3 925,1617.3 926,1617.3 927,1617.3 928,1617.3 929,1617.2 930,1616.8 931,1616.2 932,1615.4 933,1614.3 934,1613 935,1611.8 936,1610.5 937,1609.3 938,1608 939,1606.8 940,1605.5 941,1604.3 942,1603.2 943,1602.3 944,1601.6 945,1601 946,1600.6 947,1600.2 948,1599.8 949,1599.4 950,1599 951,1598.6 952,1598.2 953,1597.8 954,1597.4 955,1597 956,1596.6 957,1596.3 958,1596.1 959,1596 960,1596.1 961,1596.3 962,1596.6 963,1596.9 964,1597.3 965,1597.6 966,1597.9 967,1598.2 968,1598.5 969,1598.8 970,1599.1 971,1599.4 972,1599.7 973,1600 974,1600.2 975,1600.5 976,1600.7 977,1600.9 978,1601.1 979,1601.3 980,1601.5 981,1601.7 982,1601.9 983,1602.1 984,1602.3 985,1602.4 986,1602.6 987,1602.8 988,1603 989,1603.2 990,1603.4 991,1603.6 992,1603.8 993,1604 994,1604.2 995,1604.4 996,1604.6 997,1604.8 998,1605 999,1605.2 1000,1605.4 1001,1605.6 1002,1605.8 1003,1606 1004,1606.2 1005,1606.4 1006,1606.5 1007,1606.7 1008,1606.8 1009,1607 1010,1607.2 1011,1607.3 1012,1607.5 1013,1607.6 1014,1607.8 1015,1607.9 1016,1608.1 1017,1608.2 1018,1608.4 1019,1608.5 1020,1608.7 1021,1608.8 1022,1609 1023,1609.2 1024,1609.3 1025,1609.5 1026,1609.6 1027,1609.8 1028,1609.9 1029,1610.1 1030,1610.2 1031,1610.4 1032,1610.5 1033,1610.7 1034,1610.9 1035,1611 1036,1611.2 1037,1611.3 1038,1611.5 1039,1611.6 1040,1611.8 1041,1611.9 1042,1612.1 1043,1612.2 1044,1612.4 1045,1612.5 1046,1612.7 1047,1612.9 1048,1613 1049,1613.2 1050,1613.3 1051,1613.5 1052,1613.6 1053,1613.8 1054,1613.9 1055,1614.1 1056,1614.2 1057,1614.4 1058,1614.6 1059,1614.7 1060,1614.9 1061,1615 1062,1615.2 1063,1615.3 1064,1615.5 1065,1615.6 1066,1615.6 1066,1617.3" fill="#006400" stroke="#000" stroke-width="2" stroke-linejoin="round"/>
<polygon points="853,1638.2 853,1634.8 854,1635.1 855,1635.4 856,1635.9 857,1636.5 858,1637.1 859,1637.5 860,1637.9 861,1638.1 862,1638.2 863,1638.2 864,1638.2 865,1638.2 866,1638.2 867,1638.2 868,1638.2 869,1638.2 870,1638.2 871,1638.2 872,1638.2 873,1638.2 874,1638.2 875,1638.2 876,1638.2 877,1638.2 878,1638.2 879,1638.2 880,1638.2 881,1638.2 882,1638.2 883,1638.2 884,1638.2 885,1638.2 886,1638.2 887,1638.2 888,1638.2 889,1638.2 890,1638.2 891,1638.2 892,1638.2 893,1638.2 894,1638.2 895,1638.2 896,1638.2 897,1638.2 898,1638.2 899,1638.2 900,1638.2 901,1638.2 902,1638.2 903,1638.2 904,1638.2 905,1638.2 906,1638.2 907,1638.2 908,1638.2 909,1638.2 910,1638.2 911,1638.2 912,1638.2 913,1638.2 914,1638.2 915,1638.2 916,1638.2 917,1638.2 918,1638.2 919,1638.2 920,1638.2 921,1638.2 922,1638.2 923,1638.2 924,1638.2 925,1638.2 926,1638.2 927,1638.2 928,1638.2 929,1638.2 930,1638.2 931,1638.2 932,1638.2 933,1638 934,1637.7 935,1637.2 936,1636.6 937,1635.9 938,1635.2 939,1634.5 940,1633.8 941,1633.1 942,1632.4 943,1631.6 944,1630.9 945,1630 946,1629.1 947,1628.1 948,1627 949,1625.9 950,1624.8 951,1623.8 952,1622.7 953,1621.6 954,1620.5 955,1619.5 956,1618.4 957,1617.3 958,1616.4 959,1615.4 960,1614.5 961,1613.6 962,1612.8 963,1611.9 964,1611 965,1610.1 966,1609.3 967,1608.4 968,1607.5 969,1606.7 970,1606.1 971,1605.8 972,1605.8 973,1606.1 974,1606.6 975,1607.2 976,1607.8 977,1608.4 978,1608.9 979,1609.5 980,1610.1 981,1610.7 982,1611.3 983,1611.9 984,1612.6 985,1613.2 986,1613.9 987,1614.6 988,1615.2 989,1615.9 990,1616.6 991,1617.2 992,1617.9 993,1618.6 994,1619.2 995,1619.9 996,1620.5 997,1621 998,1621.4 999,1621.8 1000,1622 1001,1622.3 1002,1622.5 1003,1622.8 1004,1623.1 1005,1623.3 1006,1623.6 1007,1623.8 1008,1624.1 1009,1624.4 1010,1624.6 1011,1624.9 1012,1625.1 1013,1625.4 1014,1625.7 1015,1625.9 1016,1626.2 1017,1626.4 1018,1626.7 1019,1627 1020,1627.2 1021,1627.5 1022,1627.7 1023,1627.9 1024,1628.2 1025,1628.4 1026,1628.7 1027,1628.9 1028,1629.1 1029,1629.4 1030,1629.6 1031,1629.9 1032,1630.1 1033,1630.3 1034,1630.6 1035,1630.8 1036,1631.1 1037,1631.3 1038,1631.5 1039,1631.8 1040,1632 1041,1632.3 1042,1632.5 1043,1632.7 1044,1633 1045,1633.2 1046,1633.4 1047,1633.7 1048,1633.9 1049,1634.2 1050,1634.4 1051,1634.6 1052,1634.9 1053,1635.1 1054,1635.4 1055,1635.6 1056,1635.8 1057,1636.1 1058,1636.3 1059,1636.6 1060,1636.8 1061,1637 1062,1637.3 1063,1637.5 1064,1637.8 1065,1637.9 1066,1638 1066,1638.2" fill="#006400" stroke="#000" stroke-width="2" stroke-linejoin="round"/>
<polygon points="853,1659.2 853,1659.2 854,1659.2 855,1659.2 856,1659.2 857,1659.2 858,1659.2 859,1659.2 860,1659.2 861,1659.2 862,1659.2 863,1659.2 864,1659.2 865,1659.2 866,1659.2 867,1659.2 868,1659.2 869,1659.2 870,1659.2 871,1659.2 872,1659.2 873,1659.2 874,1659.2 875,1659.2 876,1659.2 877,1659.2 878,1659.2 879,1659.2 880,1659.2 881,1659.2 882,1659.2 883,1659.2 884,1659.2 885,1659.2 886,1659.2 887,1659.2 888,1659.2 889,1659.2 890,1659.2 891,1659.2 892,1659.2 893,1659.2 894,1659.2 895,1658.7 896,1657.1 897,1654.6 898,1651.1 899,1646.5 900,1641.4 901,1636.3 902,1631.2 903,1626.1 904,1621 905,1615.9 906,1610.8 907,1605.6 908,1600.3 909,1594.3 910,1587.7 911,1580.5 912,1573.8 913,1567.9 914,1563.3 915,1559.9 916,1557.8 917,1556.5 918,1556.1 919,1556.5 920,1557.8 921,1559.9 922,1562.4 923,1565.3 924,1568.6 925,1572.3 926,1576.4 927,1580.4 928,1584.9 929,1591.8 930,1600.9 931,1611.9 932,1624.7 933,1637.6 934,1647.3 935,1653.9 936,1657.9 937,1659.2 938,1659.2 939,1659.2 940,1659.2 941,1659.2 942,1659.2 943,1659.2 944,1659.2 945,1659.2 946,1659.2 947,1659.2 948,1659.2 949,1659.2 950,1659.2 951,1659.2 952,1659.2 953,1659.2 954,1659.2 955,1659.2 956,1659.2 957,1659.2 958,1659.2 959,1659.2 960,1659.2 961,1659.2 962,1659.2 963,1659.2 964,1659.2 965,1659.2 966,1659.2 967,1659.2 968,1659.2 969,1659.2 970,1659.2 971,1659.2 972,1659.2 973,1659.2 974,1659.2 975,1659.2 976,1659.2 977,1659.2 978,1659.2 979,1659.2 980,1659.2 981,1659.2 982,1659.2 983,1659.2 984,1659.2 985,1659.2 986,1659.2 987,1659.2 988,1659.2 989,1659.2 990,1659.2 991,1659.2 992,1659.2 993,1659.2 994,1659.2 995,1659.2 996,1659.2 997,1659.2 998,1659.2 999,1659.2 1000,1659.2 1001,1659.2 1002,1659.2 1003,1659.2 1004,1659.2 1005,1659.2 1006,1659.2 1007,1659.2 1008,1659.2 1009,1659.2 1010,1659.2 1011,1659.2 1012,1659.2 1013,1659.2 1014,1659.2 1015,1659.2 1016,1659.2 1017,1659.2 1018,1659.2 1019,1659.2 1020,1659.2 1021,1659.2 1022,1659.2 1023,1659.2 1024,1659.2 1025,1659.2 1026,1659.2 1027,1659.2 1028,1659.2 1029,1659.2 1030,1659.2 1031,1659.2 1032,1659.2 1033,1659.2 1034,1659.2 1035,1659.2 1036,1659.2 1037,1659.2 1038,1659.2 1039,1659.2 1040,1659.2 1041,1659.2 1042,1659.2 1043,1659.2 1044,1659.2 1045,1659.2 1046,1659.2 1047,1659.2 1048,1659.2 1049,1659.2 1050,1659.2 1051,1659.2 1052,1659.2 1053,1659.2 1054,1659.2 1055,1659.2 1056,1659.2 1057,1659.2 1058,1659.2 1059,1659.2 1060,1659.2 1061,1659.2 1062,1659.2 1063,1659.2 1064,1659.2 1065,1659.2 1066,1659.2 1066,1659.2" fill="#006400" stroke="#000" stroke-width="2" stroke-linejoin="round"/>
<polygon points="853,1680.1 853,1680.1 854,1680.1 855,1680.1 856,1680.1 857,1680.1 858,1680.1 859,1680.1 860,1680.1 861,1680.1 862,1680.1 863,1680.1 864,1680.1 865,1680.1 866,1680.1 867,1680.1 868,1680.1 869,1680.1 870,1680.1 871,1680.1 872,1680.1 873,1680.1 874,1680.1 875,1680.1 876,1680.1 877,1680.1 878,1680.1 879,1680.1 880,1680.1 881,1680.1 882,1680.1 883,1680.1 884,1680.1 885,1680.1 886,1680.1 887,1680.1 888,1680.1 889,1680.1 890,1680.1 891,1680.1 892,1680.1 893,1680.1 894,1680.1 895,1680.1 896,1680.1 897,1680.1 898,1680.1 899,1680.1 900,1680.1 901,1680.1 902,1680.1 903,1680 904,1679.8 905,1679.6 906,1679.4 907,1679.1 908,1678.7 909,1678.2 910,1677.6 911,1676.9 912,1676 913,1675.1 914,1674.2 915,1673.3 916,1672.5 917,1671.6 918,1670.7 919,1669.8 920,1668.9 921,1668 922,1667.2 923,1666.3 924,1665.4 925,1664.5 926,1663.7 927,1663.1 928,1662.6 929,1662.3 930,1662.1 931,1662 932,1661.9 933,1661.9 934,1661.8 935,1661.7 936,1661.7 937,1661.7 938,1661.9 939,1662.1 940,1662.4 941,1662.6 942,1662.9 943,1663.2 944,1663.5 945,1663.8 946,1664 947,1664.3 948,1664.6 949,1664.9 950,1665.1 951,1665.4 952,1665.7 953,1666 954,1666.3 955,1666.5 956,1666.8 957,1667.1 958,1667.4 959,1667.7 960,1668 961,1668.2 962,1668.4 963,1668.5 964,1668.5 965,1668.5 966,1668.5 967,1668.5 968,1668.5 969,1668.5 970,1668.4 971,1668.3 972,1668.1 973,1667.8 974,1667.4 975,1667 976,1666.6 977,1666.2 978,1665.8 979,1665.4 980,1665.1 981,1664.7 982,1664.3 983,1663.9 984,1663.5 985,1663.1 986,1662.8 987,1662.4 988,1662.1 989,1661.8 990,1661.4 991,1661.1 992,1660.7 993,1660.4 994,1660.1 995,1659.7 996,1659.4 997,1659 998,1658.7 999,1658.4 1000,1658 1001,1657.7 1002,1657.4 1003,1657.2 1004,1657.2 1005,1657.3 1006,1657.5 1007,1657.8 1008,1658.1 1009,1658.3 1010,1658.6 1011,1658.9 1012,1659.2 1013,1659.4 1014,1659.7 1015,1660 1016,1660.3 1017,1660.6 1018,1660.8 1019,1661.2 1020,1661.6 1021,1662.1 1022,1662.7 1023,1663.3 1024,1664.1 1025,1664.8 1026,1665.5 1027,1666.3 1028,1667 1029,1667.7 1030,1668.5 1031,1669.2 1032,1669.9 1033,1670.7 1034,1671.3 1035,1672 1036,1672.6 1037,1673.1 1038,1673.6 1039,1674.1 1040,1674.6 1041,1675.1 1042,1675.6 1043,1676.1 1044,1676.6 1045,1677.1 1046,1677.6 1047,1678.1 1048,1678.6 1049,1679.1 1050,1679.5 1051,1679.8 1052,1680 1053,1680.1 1054,1680.1 1055,1680.1 1056,1680.1 1057,1680.1 1058,1680.1 1059,1680.1 1060,1680.1 1061,1680.1 1062,1680.1 1063,1680.1 1064,1680.1 1065,1680.1 1066,1680.1 1066,1680.1" fill="#006400" stroke="#000" stroke-width="2" stroke-linejoin="round"/>
<polygon points="853,1701.1 853,1701 854,1700.9 855,1700.8 856,1700.7 857,1700.6 858,1700.5 859,1700.4 860,1700.2 861,1700.1 862,1700 863,1699.9 864,1699.8 865,1699.7 866,1699.5 867,1699.4 868,1699.3 869,1699.1 870,1698.7 871,1698.2 872,1697.6 873,1696.9 874,1696.2 875,1695.4 876,1694.7 877,1694 878,1693.2 879,1692.5 880,1691.9 881,1691.5 882,1691.1 883,1690.9 884,1690.8 885,1690.8 886,1690.7 887,1690.6 888,1690.5 889,1690.4 890,1690.4 891,1690.3 892,1690.2 893,1690.1 894,1690.1 895,1690 896,1689.9 897,1689.8 898,1689.8 899,1689.7 900,1689.6 901,1689.5 902,1689.4 903,1689.4 904,1689.3 905,1689.2 906,1689.1 907,1689.1 908,1689 909,1688.9 910,1688.8 911,1688.7 912,1688.5 913,1688.3 914,1688 915,1687.6 916,1687.3 917,1686.9 918,1686.6 919,1686.2 920,1685.9 921,1685.5 922,1685.2 923,1684.8 924,1684.5 925,1684.1 926,1683.8 927,1683.4 928,1683.1 929,1682.8 930,1682.4 931,1682.1 932,1681.8 933,1681.5 934,1681.1 935,1680.8 936,1680.5 937,1680.1 938,1679.8 939,1679.5 940,1679.2 941,1678.8 942,1678.5 943,1678.2 944,1677.8 945,1677.5 946,1677.2 947,1676.9 948,1676.5 949,1676.2 950,1675.9 951,1675.5 952,1675.2 953,1674.9 954,1674.5 955,1674.2 956,1673.9 957,1673.6 958,1673.3 959,1673 960,1672.8 961,1672.6 962,1672.4 963,1672.2 964,1672 965,1671.8 966,1671.6 967,1671.4 968,1671.2 969,1671.2 970,1671.3 971,1671.4 972,1671.7 973,1672.6 974,1674.1 975,1676.1 976,1678.7 977,1681.9 978,1685.1 979,1688.3 980,1691.5 981,1694.7 982,1697.2 983,1699.2 984,1700.4 985,1701.1 986,1701.1 987,1701.1 988,1701.1 989,1701.1 990,1701.1 991,1701.1 992,1701.1 993,1701.1 994,1701.1 995,1701.1 996,1701.1 997,1701.1 998,1701.1 999,1701.1 1000,1701.1 1001,1701.1 1002,1701.1 1003,1701.1 1004,1701.1 1005,1701.1 1006,1701.1 1007,1701.1 1008,1701.1 1009,1701.1 1010,1701.1 1011,1701.1 1012,1701.1 1013,1701.1 1014,1701.1 1015,1701.1 1016,1701.1 1017,1701.1 1018,1701.1 1019,1701.1 1020,1701.1 1021,1701.1 1022,1701.1 1023,1701.1 1024,1701.1 1025,1701.1 1026,1701.1 1027,1701.1 1028,1701.1 1029,1701.1 1030,1701.1 1031,1701.1 1032,1701.1 1033,1701.1 1034,1701.1 1035,1701.1 1036,1701.1 1037,1701.1 1038,1701.1 1039,1701.1 1040,1701.1 1041,1701.1 1042,1701.1 1043,1701.1 1044,1701.1 1045,1701.1 1046,1701.1 1047,1701.1 1048,1701.1 1049,1701.1 1050,1701.1 1051,1701.1 1052,1701.1 1053,1701 1054,1700.8 1055,1700.5 1056,1700.1 1057,1699.6 1058,1699.1 1059,1698.6 1060,1698.1 1061,1697.6 1062,1697.1 1063,1696.6 1064,1696.1 1065,1695.8 1066,1695.6 1066,1701.1" fill="#006400" stroke="#000" stroke-width="2" stroke-linejoin="round"/>
<polygon points="853,1722 853,1720.8 854,1720.2 855,1719.6 856,1718.4 857,1717.3 858,1716.2 859,1715.2 860,1714.3 861,1713.4 862,1712.6 863,1711.7 864,1711 865,1710.3 866,1709.7 867,1709.2 868,1708.9 869,1708.6 870,1708.5 871,1708.5 872,1708.7 873,1709 874,1709.3 875,1709.8 876,1710.3 877,1711 878,1711.7 879,1712.6 880,1713.4 881,1714.3 882,1715.1 883,1715.8 884,1716.5 885,1717.2 886,1717.7 887,1718.3 888,1718.9 889,1719.5 890,1720.1 891,1720.6 892,1721.1 893,1721.5 894,1721.8 895,1722 896,1722 897,1722 898,1722 899,1722 900,1722 901,1722 902,1722 903,1722 904,1722 905,1722 906,1722 907,1722 908,1722 909,1722 910,1722 911,1722 912,1722 913,1722 914,1722 915,1722 916,1722 917,1722 918,1722 919,1722 920,1721.8 921,1721.4 922,1720.6 923,1719.6 924,1718.3 925,1716.9 926,1715.5 927,1714.2 928,1712.8 929,1711.4 930,1709.9 931,1708.5 932,1707 933,1705.4 934,1703.9 935,1702.4 936,1700.9 937,1699.5 938,1698.3 939,1697.2 940,1696.4 941,1695.8 942,1695.3 943,1694.7 944,1694.2 945,1693.6 946,1693.1 947,1692.6 948,1692.3 949,1692 950,1691.7 951,1691.6 952,1691.4 953,1691.3 954,1691.3 955,1691.4 956,1691.7 957,1692.2 958,1692.7 959,1693.3 960,1693.9 961,1694.5 962,1695.2 963,1696 964,1696.8 965,1697.8 966,1698.7 967,1699.5 968,1700.4 969,1701.2 970,1702.1 971,1702.9 972,1703.7 973,1704.4 974,1705.2 975,1706 976,1706.8 977,1707.6 978,1708.4 979,1709.2 980,1710 981,1710.7 982,1711.4 983,1712.1 984,1712.8 985,1713.5 986,1714.2 987,1714.9 988,1715.6 989,1716.3 990,1716.9 991,1717.4 992,1718 993,1718.5 994,1718.9 995,1719.4 996,1719.9 997,1720.2 998,1720.6 999,1720.8 1000,1721.1 1001,1721.3 1002,1721.5 1003,1721.7 1004,1721.8 1005,1721.9 1006,1722 1007,1722 1008,1722 1009,1722 1010,1722 1011,1722 1012,1722 1013,1722 1014,1722 1015,1722 1016,1722 1017,1722 1018,1722 1019,1722 1020,1722 1021,1722 1022,1722 1023,1722 1024,1722 1025,1722 1026,1722 1027,1722 1028,1722 1029,1722 1030,1722 1031,1722 1032,1722 1033,1722 1034,1722 1035,1722 1036,1722 1037,1722 1038,1722 1039,1721.9 1040,1721.8 1041,1721.6 1042,1721.3 1043,1721 1044,1720.7 1045,1720.3 1046,1720 1047,1719.7 1048,1719.3 1049,1719 1050,1718.7 1051,1718.3 1052,1718 1053,1717.7 1054,1717.4 1055,1717.2 1056,1717.1 1057,1717 1058,1717 1059,1717 1060,1717 1061,1717 1062,1717 1063,1717 1064,1717 1065,1717 1066,1717 1066,1722" fill="#006400" stroke="#000" stroke-width="2" stroke-linejoin="round"/>
<polygon points="853,1743 853,1742.8 854,1742.7 855,1742.6 856,1742.4 857,1742.2 858,1742 859,1741.8 860,1741.6 861,1741.4 862,1741.2 863,1741 864,1740.8 865,1740.6 866,1740.4 867,1740.2 868,1740 869,1739.8 870,1739.6 871,1739.4 872,1739.3 873,1739.3 874,1739.4 875,1739.5 876,1739.8 877,1740 878,1740.3 879,1740.5 880,1740.8 881,1741 882,1741.2 883,1741.5 884,1741.7 885,1741.9 886,1742.1 887,1742.2 888,1742.3 889,1742.5 890,1742.6 891,1742.7 892,1742.8 893,1742.9 894,1742.9 895,1743 896,1743 897,1743 898,1743 899,1743 900,1743 901,1743 902,1743 903,1743 904,1743 905,1743 906,1743 907,1743 908,1743 909,1743 910,1743 911,1743 912,1743 913,1743 914,1743 915,1743 916,1742.6 917,1741.7 918,1740.5 919,1738.8 920,1736.7 921,1734.5 922,1732.5 923,1730.4 924,1728.4 925,1726.4 926,1724.4 927,1722.5 928,1720.6 929,1718.8 930,1717 931,1715.2 932,1713.5 933,1711.8 934,1710.2 935,1708.6 936,1707 937,1705.5 938,1704 939,1702.6 940,1701.3 941,1699.9 942,1698.7 943,1697.5 944,1696.3 945,1695.2 946,1694.2 947,1693.3 948,1692.4 949,1691.6 950,1690.9 951,1690.4 952,1690 953,1689.9 954,1690.1 955,1690.6 956,1691.3 957,1692.2 958,1693.3 959,1694.5 960,1695.8 961,1697.2 962,1698.6 963,1700.2 964,1701.9 965,1703.6 966,1705.4 967,1707.3 968,1709.2 969,1711.2 970,1713.3 971,1715.5 972,1717.7 973,1719.9 974,1722.2 975,1724.6 976,1727.1 977,1729.5 978,1732.1 979,1734.7 980,1737.3 981,1739.5 982,1741.2 983,1742.3 984,1742.9 985,1743 986,1743 987,1743 988,1743 989,1743 990,1743 991,1743 992,1743 993,1743 994,1743 995,1743 996,1743 997,1743 998,1743 999,1743 1000,1743 1001,1743 1002,1743 1003,1743 1004,1743 1005,1743 1006,1743 1007,1743 1008,1743 1009,1743 1010,1743 1011,1743 1012,1743 1013,1743 1014,1743 1015,1743 1016,1743 1017,1743 1018,1743 1019,1743 1020,1743 1021,1743 1022,1743 1023,1743 1024,1743 1025,1743 1026,1743 1027,1743 1028,1743 1029,1743 1030,1743 1031,1743 1032,1743 1033,1743 1034,1743 1035,1743 1036,1743 1037,1743 1038,1743 1039,1743 1040,1743 1041,1743 1042,1743 1043,1743 1044,1743 1045,1743 1046,1743 1047,1743 1048,1743 1049,1743 1050,1743 1051,1743 1052,1743 1053,1743 1054,1743 1055,1743 1056,1743 1057,1743 1058,1743 1059,1743 1060,1743 1061,1743 1062,1743 1063,1743 1064,1743 1065,1743 1066,1743 1066,1743" fill="#006400" stroke="#000" stroke-width="2" stroke-linejoin="round"/>
<polygon points="853,1763.9 853,1760.1 854,1759.7 855,1759.4 856,1758.6 857,1757.8 858,1757 859,1756.2 860,1755.5 861,1754.8 862,1754.1 863,1753.5 864,1753 865,1752.6 866,1752.2 867,1751.8 868,1751.3 869,1750.9 870,1750.5 871,1750 872,1749.6 873,1749.2 874,1749 875,1749 876,1749.1 877,1749.4 878,1749.8 879,1750.3 880,1750.8 881,1751.2 882,1751.7 883,1752.1 884,1752.6 885,1753 886,1753.5 887,1754.1 888,1754.8 889,1755.5 890,1756.3 891,1757.1 892,1757.9 893,1758.7 894,1759.5 895,1760.3 896,1761 897,1761.8 898,1762.6 899,1763.1 900,1763.6 901,1763.8 902,1763.9 903,1763.9 904,1763.9 905,1763.9 906,1763.9 907,1763.9 908,1763.9 909,1763.9 910,1763.9 911,1763.9 912,1763.9 913,1763.9 914,1763.9 915,1763.9 916,1763.9 917,1763.9 918,1763.9 919,1763.7 920,1763 921,1761.9 922,1760.5 923,1758.6 924,1756.7 925,1754.7 926,1752.8 927,1750.9 928,1749 929,1747.2 930,1745.4 931,1743.7 932,1742 933,1740.3 934,1738.6 935,1737 936,1735.5 937,1733.9 938,1732.4 939,1731 940,1729.6 941,1728.3 942,1726.9 943,1725.7 944,1724.5 945,1723.3 946,1722.2 947,1721.2 948,1720.2 949,1719.3 950,1718.4 951,1717.7 952,1717 953,1716.4 954,1716 955,1715.8 956,1715.9 957,1716.3 958,1716.9 959,1717.7 960,1718.6 961,1719.6 962,1720.8 963,1722 964,1723.3 965,1724.7 966,1726.2 967,1727.7 968,1729.4 969,1731 970,1732.8 971,1734.6 972,1736.5 973,1738.4 974,1740.4 975,1742.4 976,1744.5 977,1746.6 978,1748.8 979,1751.1 980,1753.3 981,1755.7 982,1758.1 983,1760.2 984,1761.8 985,1763 986,1763.7 987,1763.9 988,1763.9 989,1763.9 990,1763.9 991,1763.9 992,1763.9 993,1763.9 994,1763.9 995,1763.9 996,1763.9 997,1763.9 998,1763.9 999,1763.9 1000,1763.9 1001,1763.9 1002,1763.9 1003,1763.9 1004,1763.9 1005,1763.9 1006,1763.9 1007,1763.9 1008,1763.9 1009,1763.9 1010,1763.9 1011,1763.9 1012,1763.9 1013,1763.9 1014,1763.9 1015,1763.9 1016,1763.9 1017,1763.9 1018,1763.9 1019,1763.9 1020,1763.9 1021,1763.9 1022,1763.9 1023,1763.9 1024,1763.9 1025,1763.9 1026,1763.9 1027,1763.9 1028,1763.9 1029,1763.9 1030,1763.9 1031,1763.9 1032,1763.9 1033,1763.9 1034,1763.9 1035,1763.9 1036,1763.9 1037,1763.9 1038,1763.9 1039,1763.9 1040,1763.9 1041,1763.9 1042,1763.9 1043,1763.9 1044,1763.9 1045,1763.9 1046,1763.9 1047,1763.9 1048,1763.9 1049,1763.9 1050,1763.9 1051,1763.9 1052,1763.9 1053,1763.9 1054,1763.9 1055,1763.9 1056,1763.9 1057,1763.9 1058,1763.9 1059,1763.9 1060,1763.9 1061,1763.9 1062,1763.9 1063,1763.9 1064,1763.9 1065,1763.9 1066,1763.9 1066,1763.9" fill="#006400" stroke="#000" stroke-width="2" stroke-linejoin="round"/>
<polygon points="853,1784.9 853,1783.7 854,1783.6 855,1783.5 856,1783.3 857,1783.1 858,1782.9 859,1782.7 860,1782.5 861,1782.3 862,1782.1 863,1781.9 864,1781.7 865,1781.5 866,1781.4 867,1781.2 868,1781.1 869,1780.9 870,1780.7 871,1780.6 872,1780.5 873,1780.5 874,1780.5 875,1780.7 876,1780.9 877,1781.1 878,1781.3 879,1781.6 880,1781.8 881,1782 882,1782.2 883,1782.4 884,1782.6 885,1782.8 886,1783 887,1783.3 888,1783.5 889,1783.7 890,1783.9 891,1784.1 892,1784.3 893,1784.5 894,1784.6 895,1784.7 896,1784.8 897,1784.9 898,1784.9 899,1784.9 900,1784.9 901,1784.9 902,1784.9 903,1784.9 904,1784.9 905,1784.9 906,1784.9 907,1784.9 908,1784.9 909,1784.9 910,1784.9 911,1784.9 912,1784.9 913,1784.9 914,1784.9 915,1784.9 916,1784.9 917,1784.6 918,1783.9 919,1782.7 920,1781.1 921,1779.1 922,1777 923,1774.9 924,1772.8 925,1770.7 926,1768.7 927,1766.7 928,1764.8 929,1762.9 930,1761 931,1759.2 932,1757.4 933,1755.6 934,1753.9 935,1752.2 936,1750.5 937,1748.9 938,1747.4 939,1745.8 940,1744.4 941,1743 942,1741.6 943,1740.3 944,1739 945,1737.8 946,1736.6 947,1735.5 948,1734.5 949,1733.5 950,1732.6 951,1731.8 952,1731.1 953,1730.5 954,1730.1 955,1729.9 956,1730 957,1730.4 958,1731.1 959,1732 960,1733.1 961,1734.3 962,1735.6 963,1737 964,1738.5 965,1740.1 966,1741.8 967,1743.5 968,1745.4 969,1747.3 970,1749.3 971,1751.4 972,1753.5 973,1755.7 974,1758 975,1760.3 976,1762.7 977,1765.1 978,1767.6 979,1770.2 980,1772.8 981,1775.5 982,1778.2 983,1780.6 984,1782.5 985,1783.8 986,1784.6 987,1784.9 988,1784.9 989,1784.9 990,1784.9 991,1784.9 992,1784.9 993,1784.9 994,1784.9 995,1784.9 996,1784.9 997,1784.9 998,1784.9 999,1784.9 1000,1784.9 1001,1784.9 1002,1784.9 1003,1784.9 1004,1784.9 1005,1784.9 1006,1784.9 1007,1784.9 1008,1784.9 1009,1784.9 1010,1784.9 1011,1784.9 1012,1784.9 1013,1784.9 1014,1784.9 1015,1784.9 1016,1784.9 1017,1784.9 1018,1784.9 1019,1784.9 1020,1784.9 1021,1784.9 1022,1784.9 1023,1784.9 1024,1784.9 1025,1784.9 1026,1784.9 1027,1784.9 1028,1784.9 1029,1784.9 1030,1784.9 1031,1784.9 1032,1784.9 1033,1784.9 1034,1784.9 1035,1784.9 1036,1784.9 1037,1784.9 1038,1784.9 1039,1784.9 1040,1784.9 1041,1784.9 1042,1784.9 1043,1784.9 1044,1784.9 1045,1784.9 1046,1784.9 1047,1784.9 1048,1784.9 1049,1784.9 1050,1784.9 1051,1784.9 1052,1784.9 1053,1784.9 1054,1784.9 1055,1784.9 1056,1784.9 1057,1784.9 1058,1784.9 1059,1784.9 1060,1784.9 1061,1784.9 1062,1784.9 1063,1784.9 1064,1784.9 1065,1784.9 1066,1784.9 1066,1784.9" fill="#006400" stroke="#000" stroke-width="2" stroke-linejoin="round"/>
<polygon points="853,1805.8 853,1805.6 854,1805.5 855,1805.4 856,1805.2 857,1804.9 858,1804.7 859,1804.5 860,1804.4 861,1804.2 862,1804.1 863,1804 864,1803.9 865,1803.8 866,1803.7 867,1803.7 868,1803.6 869,1803.6 870,1803.7 871,1803.8 872,1803.9 873,1804 874,1804.1 875,1804.2 876,1804.3 877,1804.5 878,1804.6 879,1804.7 880,1804.8 881,1804.9 882,1805 883,1805.1 884,1805.2 885,1805.3 886,1805.4 887,1805.5 888,1805.6 889,1805.7 890,1805.7 891,1805.8 892,1805.8 893,1805.8 894,1805.8 895,1805.8 896,1805.8 897,1805.8 898,1805.8 899,1805.8 900,1805.8 901,1805.8 902,1805.8 903,1805.8 904,1805.8 905,1805.8 906,1805.8 907,1805.8 908,1805.8 909,1805.8 910,1805.8 911,1805.8 912,1805.8 913,1805.8 914,1805.8 915,1805.8 916,1805.8 917,1805.6 918,1804.9 919,1803.8 920,1802.4 921,1800.5 922,1798.6 923,1796.6 924,1794.7 925,1792.8 926,1790.9 927,1789.1 928,1787.3 929,1785.5 930,1783.8 931,1782.1 932,1780.4 933,1778.8 934,1777.2 935,1775.7 936,1774.1 937,1772.7 938,1771.2 939,1769.8 940,1768.5 941,1767.1 942,1765.9 943,1764.7 944,1763.5 945,1762.4 946,1761.3 947,1760.3 948,1759.3 949,1758.4 950,1757.6 951,1756.9 952,1756.2 953,1755.7 954,1755.3 955,1755.1 956,1755.2 957,1755.6 958,1756.2 959,1757.1 960,1758 961,1759.1 962,1760.3 963,1761.6 964,1763 965,1764.5 966,1766.1 967,1767.7 968,1769.4 969,1771.2 970,1773 971,1774.9 972,1776.9 973,1778.9 974,1781 975,1783.1 976,1785.3 977,1787.6 978,1789.9 979,1792.3 980,1794.7 981,1797.1 982,1799.6 983,1801.9 984,1803.6 985,1804.9 986,1805.6 987,1805.8 988,1805.8 989,1805.8 990,1805.8 991,1805.8 992,1805.8 993,1805.8 994,1805.8 995,1805.8 996,1805.8 997,1805.8 998,1805.8 999,1805.8 1000,1805.8 1001,1805.8 1002,1805.8 1003,1805.8 1004,1805.8 1005,1805.8 1006,1805.8 1007,1805.8 1008,1805.8 1009,1805.8 1010,1805.8 1011,1805.8 1012,1805.8 1013,1805.8 1014,1805.8 1015,1805.8 1016,1805.8 1017,1805.8 1018,1805.8 1019,1805.8 1020,1805.8 1021,1805.8 1022,1805.8 1023,1805.8 1024,1805.8 1025,1805.8 1026,1805.8 1027,1805.8 1028,1805.8 1029,1805.8 1030,1805.8 1031,1805.8 1032,1805.8 1033,1805.8 1034,1805.8 1035,1805.8 1036,1805.8 1037,1805.8 1038,1805.8 1039,1805.8 1040,1805.8 1041,1805.8 1042,1805.8 1043,1805.8 1044,1805.8 1045,1805.8 1046,1805.8 1047,1805.8 1048,1805.8 1049,1805.8 1050,1805.8 1051,1805.8 1052,1805.8 1053,1805.8 1054,1805.8 1055,1805.8 1056,1805.8 1057,1805.8 1058,1805.8 1059,1805.8 1060,1805.8 1061,1805.8 1062,1805.8 1063,1805.8 1064,1805.8 1065,1805.8 1066,1805.8 1066,1805.8" fill="#006400" stroke="#000" stroke-width="2" stroke-linejoin="round"/>
<polygon points="853,1826.7 853,1826.5 854,1826.3 855,1826.2 856,1825.9 857,1825.6 858,1825.3 859,1825.1 860,1824.9 861,1824.7 862,1824.5 863,1824.4 864,1824.3 865,1824.2 866,1824.1 867,1824 868,1823.9 869,1823.9 870,1823.9 871,1823.9 872,1824 873,1824.1 874,1824.2 875,1824.4 876,1824.5 877,1824.6 878,1824.7 879,1824.9 880,1825 881,1825.1 882,1825.3 883,1825.4 884,1825.5 885,1825.7 886,1825.8 887,1826 888,1826.1 889,1826.3 890,1826.4 891,1826.6 892,1826.7 893,1826.7 894,1826.7 895,1826.7 896,1826.7 897,1826.7 898,1826.7 899,1826.7 900,1826.7 901,1826.7 902,1826.7 903,1826.7 904,1826.7 905,1826.7 906,1826.7 907,1826.7 908,1826.7 909,1826.7 910,1826.7 911,1826.7 912,1826.7 913,1826.7 914,1826.7 915,1826.7 916,1826.7 917,1826.5 918,1825.9 919,1824.8 920,1823.4 921,1821.6 922,1819.7 923,1817.8 924,1816 925,1814.1 926,1812.3 927,1810.5 928,1808.8 929,1807.1 930,1805.4 931,1803.7 932,1802.1 933,1800.5 934,1799 935,1797.5 936,1796 937,1794.6 938,1793.2 939,1791.8 940,1790.5 941,1789.2 942,1788 943,1786.8 944,1785.7 945,1784.6 946,1783.5 947,1782.6 948,1781.6 949,1780.8 950,1780 951,1779.3 952,1778.6 953,1778.1 954,1777.7 955,1777.6 956,1777.7 957,1778 958,1778.6 959,1779.4 960,1780.4 961,1781.5 962,1782.6 963,1783.9 964,1785.2 965,1786.7 966,1788.2 967,1789.8 968,1791.4 969,1793.1 970,1794.9 971,1796.8 972,1798.7 973,1800.7 974,1802.7 975,1804.8 976,1806.9 977,1809.1 978,1811.3 979,1813.6 980,1815.9 981,1818.3 982,1820.8 983,1822.9 984,1824.6 985,1825.8 986,1826.5 987,1826.7 988,1826.7 989,1826.7 990,1826.7 991,1826.7 992,1826.7 993,1826.7 994,1826.7 995,1826.7 996,1826.7 997,1826.7 998,1826.7 999,1826.7 1000,1826.7 1001,1826.7 1002,1826.7 1003,1826.7 1004,1826.7 1005,1826.7 1006,1826.7 1007,1826.7 1008,1826.7 1009,1826.7 1010,1826.7 1011,1826.7 1012,1826.7 1013,1826.7 1014,1826.7 1015,1826.7 1016,1826.7 1017,1826.7 1018,1826.7 1019,1826.7 1020,1826.7 1021,1826.7 1022,1826.7 1023,1826.7 1024,1826.7 1025,1826.7 1026,1826.7 1027,1826.7 1028,1826.7 1029,1826.7 1030,1826.7 1031,1826.7 1032,1826.7 1033,1826.7 1034,1826.7 1035,1826.7 1036,1826.7 1037,1826.7 1038,1826.7 1039,1826.7 1040,1826.7 1041,1826.7 1042,1826.7 1043,1826.7 1044,1826.7 1045,1826.7 1046,1826.7 1047,1826.7 1048,1826.7 1049,1826.7 1050,1826.7 1051,1826.7 1052,1826.7 1053,1826.7 1054,1826.7 1055,1826.7 1056,1826.7 1057,1826.7 1058,1826.7 1059,1826.7 1060,1826.7 1061,1826.7 1062,1826.7 1063,1826.7 1064,1826.7 1065,1826.7 1066,1826.7 1066,1826.7" fill="#006400" stroke="#000" stroke-width="2" stroke-linejoin="round"/>
<polygon points="853,1847.7 853,1847.4 854,1847.2 855,1847 856,1846.7 857,1846.4 858,1846 859,1845.7 860,1845.4 861,1845.1 862,1844.8 863,1844.6 864,1844.4 865,1844.3 866,1844.1 867,1844 868,1843.8 869,1843.7 870,1843.5 871,1843.4 872,1843.3 873,1843.3 874,1843.4 875,1843.5 876,1843.7 877,1844 878,1844.2 879,1844.4 880,1844.6 881,1844.8 882,1845 883,1845.3 884,1845.5 885,1845.7 886,1845.9 887,1846.1 888,1846.3 889,1846.5 890,1846.7 891,1846.9 892,1847.1 893,1847.3 894,1847.5 895,1847.6 896,1847.7 897,1847.7 898,1847.7 899,1847.7 900,1847.7 901,1847.7 902,1847.7 903,1847.7 904,1847.7 905,1847.7 906,1847.7 907,1847.7 908,1847.7 909,1847.7 910,1847.7 911,1847.7 912,1847.7 913,1847.7 914,1847.7 915,1847.7 916,1847.7 917,1847.4 918,1846.7 919,1845.6 920,1844.1 921,1842.1 922,1840 923,1837.9 924,1835.9 925,1833.9 926,1831.9 927,1829.9 928,1828 929,1826.2 930,1824.3 931,1822.5 932,1820.7 933,1819 934,1817.3 935,1815.7 936,1814 937,1812.5 938,1810.9 939,1809.5 940,1808 941,1806.6 942,1805.3 943,1804 944,1802.7 945,1801.5 946,1800.4 947,1799.3 948,1798.3 949,1797.4 950,1796.5 951,1795.7 952,1795 953,1794.4 954,1794 955,1793.8 956,1793.9 957,1794.3 958,1795 959,1795.9 960,1796.9 961,1798.1 962,1799.4 963,1800.8 964,1802.2 965,1803.8 966,1805.5 967,1807.2 968,1809 969,1810.9 970,1812.9 971,1814.9 972,1817 973,1819.1 974,1821.3 975,1823.6 976,1826 977,1828.4 978,1830.8 979,1833.3 980,1835.9 981,1838.5 982,1841.1 983,1843.5 984,1845.4 985,1846.7 986,1847.5 987,1847.7 988,1847.7 989,1847.7 990,1847.7 991,1847.7 992,1847.7 993,1847.7 994,1847.7 995,1847.7 996,1847.7 997,1847.7 998,1847.7 999,1847.7 1000,1847.7 1001,1847.7 1002,1847.7 1003,1847.7 1004,1847.7 1005,1847.7 1006,1847.7 1007,1847.7 1008,1847.7 1009,1847.7 1010,1847.7 1011,1847.7 1012,1847.7 1013,1847.7 1014,1847.7 1015,1847.7 1016,1847.7 1017,1847.7 1018,1847.7 1019,1847.7 1020,1847.7 1021,1847.7 1022,1847.7 1023,1847.7 1024,1847.7 1025,1847.7 1026,1847.7 1027,1847.7 1028,1847.7 1029,1847.7 1030,1847.7 1031,1847.7 1032,1847.7 1033,1847.7 1034,1847.7 1035,1847.7 1036,1847.7 1037,1847.7 1038,1847.7 1039,1847.7 1040,1847.7 1041,1847.7 1042,1847.7 1043,1847.7 1044,1847.7 1045,1847.7 1046,1847.7 1047,1847.7 1048,1847.7 1049,1847.7 1050,1847.7 1051,1847.7 1052,1847.7 1053,1847.7 1054,1847.7 1055,1847.7 1056,1847.7 1057,1847.7 1058,1847.7 1059,1847.7 1060,1847.7 1061,1847.7 1062,1847.7 1063,1847.7 1064,1847.7 1065,1847.7 1066,1847.7 1066,1847.7" fill="#006400" stroke="#000" stroke-width="2" stroke-linejoin="round"/>
<polygon points="853,1868.6 853,1868.2 854,1868 855,1867.8 856,1867.4 857,1866.9 858,1866.5 859,1866.1 860,1865.8 861,1865.5 862,1865.3 863,1865.1 864,1864.9 865,1864.7 866,1864.5 867,1864.4 868,1864.3 869,1864.3 870,1864.3 871,1864.5 872,1864.7 873,1864.8 874,1865 875,1865.2 876,1865.4 877,1865.6 878,1865.8 879,1866 880,1866.2 881,1866.4 882,1866.6 883,1866.9 884,1867.1 885,1867.4 886,1867.6 887,1867.9 888,1868.1 889,1868.3 890,1868.5 891,1868.6 892,1868.6 893,1868.6 894,1868.6 895,1868.6 896,1868.6 897,1868.6 898,1868.6 899,1868.6 900,1868.6 901,1868.6 902,1868.6 903,1868.6 904,1868.6 905,1868.6 906,1868.6 907,1868.6 908,1868.6 909,1868.6 910,1868.6 911,1868.6 912,1868.6 913,1868.6 914,1868.6 915,1868.6 916,1868.6 917,1868.4 918,1867.7 919,1866.6 920,1865.1 921,1863.2 922,1861.2 923,1859.2 924,1857.2 925,1855.2 926,1853.3 927,1851.4 928,1849.6 929,1847.7 930,1845.9 931,1844.2 932,1842.5 933,1840.8 934,1839.2 935,1837.6 936,1836 937,1834.5 938,1833 939,1831.5 940,1830.1 941,1828.8 942,1827.5 943,1826.2 944,1825 945,1823.8 946,1822.7 947,1821.7 948,1820.7 949,1819.8 950,1819 951,1818.2 952,1817.5 953,1816.9 954,1816.5 955,1816.4 956,1816.5 957,1816.9 958,1817.5 959,1818.4 960,1819.4 961,1820.5 962,1821.8 963,1823.1 964,1824.5 965,1826.1 966,1827.7 967,1829.3 968,1831.1 969,1832.9 970,1834.8 971,1836.8 972,1838.8 973,1840.9 974,1843.1 975,1845.3 976,1847.5 977,1849.9 978,1852.2 979,1854.7 980,1857.2 981,1859.7 982,1862.3 983,1864.6 984,1866.4 985,1867.7 986,1868.4 987,1868.6 988,1868.6 989,1868.6 990,1868.6 991,1868.6 992,1868.6 993,1868.6 994,1868.6 995,1868.6 996,1868.6 997,1868.6 998,1868.6 999,1868.6 1000,1868.6 1001,1868.6 1002,1868.6 1003,1868.6 1004,1868.6 1005,1868.6 1006,1868.6 1007,1868.6 1008,1868.6 1009,1868.6 1010,1868.6 1011,1868.6 1012,1868.6 1013,1868.6 1014,1868.6 1015,1868.6 1016,1868.6 1017,1868.6 1018,1868.6 1019,1868.6 1020,1868.6 1021,1868.6 1022,1868.6 1023,1868.6 1024,1868.6 1025,1868.6 1026,1868.6 1027,1868.6 1028,1868.6 1029,1868.6 1030,1868.6 1031,1868.6 1032,1868.6 1033,1868.6 1034,1868.6 1035,1868.6 1036,1868.6 1037,1868.6 1038,1868.6 1039,1868.6 1040,1868.6 1041,1868.6 1042,1868.6 1043,1868.6 1044,1868.6 1045,1868.6 1046,1868.6 1047,1868.6 1048,1868.6 1049,1868.6 1050,1868.6 1051,1868.6 1052,1868.6 1053,1868.6 1054,1868.6 1055,1868.6 1056,1868.6 1057,1868.6 1058,1868.6 1059,1868.6 1060,1868.6 1061,1868.6 1062,1868.6 1063,1868.6 1064,1868.6 1065,1868.6 1066,1868.6 1066,1868.6" fill="#006400" stroke="#000" stroke-width="2" stroke-linejoin="round"/>
<polygon points="853,1889.6 853,1889.2 854,1888.9 855,1888.7 856,1888.3 857,1887.9 858,1887.4 859,1887 860,1886.7 861,1886.4 862,1886.1 863,1885.9 864,1885.6 865,1885.4 866,1885.1 867,1884.9 868,1884.7 869,1884.5 870,1884.4 871,1884.5 872,1884.6 873,1884.8 874,1885 875,1885.2 876,1885.4 877,1885.6 878,1885.8 879,1886 880,1886.2 881,1886.4 882,1886.6 883,1886.9 884,1887.2 885,1887.5 886,1887.8 887,1888.1 888,1888.4 889,1888.7 890,1889 891,1889.2 892,1889.4 893,1889.5 894,1889.6 895,1889.6 896,1889.6 897,1889.6 898,1889.6 899,1889.6 900,1889.6 901,1889.6 902,1889.6 903,1889.6 904,1889.6 905,1889.6 906,1889.6 907,1889.6 908,1889.6 909,1889.6 910,1889.6 911,1889.6 912,1889.6 913,1889.6 914,1889.6 915,1889.6 916,1889.6 917,1889.3 918,1888.7 919,1887.6 920,1886.1 921,1884.2 922,1882.2 923,1880.2 924,1878.3 925,1876.4 926,1874.5 927,1872.6 928,1870.8 929,1869 930,1867.2 931,1865.5 932,1863.8 933,1862.2 934,1860.5 935,1859 936,1857.4 937,1855.9 938,1854.5 939,1853 940,1851.7 941,1850.3 942,1849 943,1847.8 944,1846.6 945,1845.5 946,1844.4 947,1843.4 948,1842.4 949,1841.5 950,1840.7 951,1839.9 952,1839.2 953,1838.7 954,1838.3 955,1838.1 956,1838.2 957,1838.6 958,1839.3 959,1840.2 960,1841.3 961,1842.4 962,1843.7 963,1845.1 964,1846.6 965,1848.2 966,1849.9 967,1851.6 968,1853.4 969,1855.3 970,1857.3 971,1859.3 972,1861.4 973,1863.6 974,1865.8 975,1868.1 976,1870.5 977,1872.9 978,1875.4 979,1877.9 980,1880.5 981,1883.1 982,1885.5 983,1887.3 984,1888.6 985,1889.4 986,1889.6 987,1889.6 988,1889.6 989,1889.6 990,1889.6 991,1889.6 992,1889.6 993,1889.6 994,1889.6 995,1889.6 996,1889.6 997,1889.6 998,1889.6 999,1889.6 1000,1889.6 1001,1889.6 1002,1889.6 1003,1889.6 1004,1889.6 1005,1889.6 1006,1889.6 1007,1889.6 1008,1889.6 1009,1889.6 1010,1889.6 1011,1889.6 1012,1889.6 1013,1889.6 1014,1889.6 1015,1889.6 1016,1889.6 1017,1889.6 1018,1889.6 1019,1889.6 1020,1889.6 1021,1889.6 1022,1889.6 1023,1889.6 1024,1889.6 1025,1889.6 1026,1889.6 1027,1889.6 1028,1889.6 1029,1889.6 1030,1889.6 1031,1889.6 1032,1889.6 1033,1889.6 1034,1889.6 1035,1889.6 1036,1889.6 1037,1889.6 1038,1889.6 1039,1889.6 1040,1889.6 1041,1889.6 1042,1889.6 1043,1889.6 1044,1889.6 1045,1889.6 1046,1889.6 1047,1889.6 1048,1889.6 1049,1889.6 1050,1889.6 1051,1889.6 1052,1889.6 1053,1889.6 1054,1889.6 1055,1889.6 1056,1889.6 1057,1889.6 1058,1889.6 1059,1889.6 1060,1889.6 1061,1889.6 1062,1889.6 1063,1889.6 1064,1889.6 1065,1889.6 1066,1889.6 1066,1889.6" fill="#006400" stroke="#000" stroke-width="2" stroke-linejoin="round"/>
</g>
<rect x="1287" y="1235.6" width="121" height="2.2" fill="#00008c"/>
<rect x="1287" y="1844.2" width="121" height="2.2" fill="#0a0aa0"/>
<text transform="translate(1338,828.3) rotate(90)" x="0" y="0" font-size="32.1" font-weight="bold" fill="#0000c8" textLength="17" lengthAdjust="spacingAndGlyphs">Z</text>
<rect x="1346.8" y="850.3" width="3.4" height="15" fill="#0000c8"/>
<text transform="translate(1338,870) rotate(90)" x="0" y="0" font-size="32.8" font-weight="bold" fill="#0000c8" textLength="15.6" lengthAdjust="spacingAndGlyphs">4</text>
<text transform="translate(1338,1512) rotate(90)" x="0" y="0" font-size="32.1" font-weight="bold" fill="#0000c8" textLength="17" lengthAdjust="spacingAndGlyphs">Z</text>
<rect x="1346.8" y="1534" width="3.4" height="15" fill="#0000c8"/>
<text transform="translate(1338,1553.7) rotate(90)" x="0" y="0" font-size="32.8" font-weight="bold" fill="#0000c8" textLength="15.6" lengthAdjust="spacingAndGlyphs">5</text>
<text transform="translate(1338.2,1858) rotate(90)" x="0" y="0" font-size="30.7" font-weight="bold" fill="#0000c8" textLength="16.7" lengthAdjust="spacingAndGlyphs">P</text>
<text transform="translate(1338.2,1878) rotate(90)" x="0" y="0" font-size="30.7" font-weight="bold" fill="#0000c8" textLength="19.5" lengthAdjust="spacingAndGlyphs">D</text>
<rect x="72" y="4" width="1344" height="6" fill="#000"/>
<rect x="72" y="1906" width="1344" height="6" fill="#000"/>
<rect x="72" y="4" width="7" height="1908" fill="#000"/>
<rect x="1408" y="4" width="8" height="1908" fill="#000"/>
<rect x="72" y="476" width="1344" height="5" fill="#000"/>
<rect x="293" y="10" width="2.8" height="1896" fill="#4a4a4a"/>
<rect x="288" y="4" width="5" height="1908" fill="#000"/>
<rect x="417" y="4" width="7" height="1908" fill="#000"/>
<rect x="632" y="4" width="8" height="1908" fill="#000"/>
<rect x="848" y="4" width="7" height="1908" fill="#000"/>
<rect x="1064" y="4" width="7" height="1908" fill="#000"/>
<rect x="1284.5" y="10" width="2.5" height="1896" fill="#2c2c2c"/>
<rect x="1279" y="4" width="5.5" height="1908" fill="#000"/>
<g clip-path="url(#cdot4)" fill="#0000ee">
<circle cx="745.6" cy="483.8" r="5.8"/>
<circle cx="786.3" cy="487" r="5.8"/>
<circle cx="798.9" cy="490.1" r="5.8"/>
<circle cx="812.2" cy="487.7" r="5.8"/>
<circle cx="769.1" cy="493.2" r="5.8"/>
<circle cx="737.8" cy="499.5" r="5.8"/>
<circle cx="750.3" cy="497.9" r="5.8"/>
<circle cx="750.5" cy="499.7" r="5.8"/>
<circle cx="776.9" cy="502.6" r="5.8"/>
<circle cx="759.7" cy="507.3" r="5.8"/>
<circle cx="757" cy="501.6" r="5.8"/>
<circle cx="697.1" cy="506.5" r="5.8"/>
<circle cx="667.3" cy="514.4" r="5.8"/>
<circle cx="660.9" cy="521.1" r="5.8"/>
<circle cx="682.2" cy="518.3" r="5.8"/>
<circle cx="714.3" cy="512.8" r="5.8"/>
<circle cx="726.8" cy="508.9" r="5.8"/>
<circle cx="704.9" cy="521.4" r="5.8"/>
<circle cx="698.1" cy="521.8" r="5.8"/>
<circle cx="728.4" cy="521.4" r="5.8"/>
<circle cx="724.1" cy="517.8" r="5.8"/>
<circle cx="745.6" cy="523" r="5.8"/>
<circle cx="745.1" cy="522.1" r="5.8"/>
<circle cx="708" cy="530.8" r="5.8"/>
<circle cx="733.1" cy="533.9" r="5.8"/>
<circle cx="748.7" cy="529.2" r="5.8"/>
<circle cx="764.4" cy="529.2" r="5.8"/>
<circle cx="767.5" cy="535.5" r="5.8"/>
<circle cx="663.4" cy="540.2" r="5.8"/>
<circle cx="660.3" cy="547.2" r="5.8"/>
<circle cx="675.1" cy="540.2" r="5.8"/>
<circle cx="681.4" cy="549.6" r="5.8"/>
<circle cx="703.3" cy="548.8" r="5.8"/>
<circle cx="722.1" cy="543.3" r="5.8"/>
<circle cx="718.3" cy="540.4" r="5.8"/>
<circle cx="751.9" cy="540.2" r="5.8"/>
<circle cx="755.6" cy="538.8" r="5.8"/>
<circle cx="693.9" cy="559.8" r="5.8"/>
<circle cx="723.7" cy="559" r="5.8"/>
<circle cx="730.1" cy="563.9" r="5.8"/>
<circle cx="737.8" cy="554.3" r="5.8"/>
<circle cx="733.7" cy="560" r="5.8"/>
<circle cx="751.9" cy="555.9" r="5.8"/>
<circle cx="753.4" cy="549.6" r="5.8"/>
<circle cx="715.9" cy="570" r="5.8"/>
<circle cx="709.9" cy="571.8" r="5.8"/>
<circle cx="761.3" cy="568.4" r="5.8"/>
<circle cx="773.8" cy="566.8" r="5.8"/>
<circle cx="768" cy="564.5" r="5.8"/>
<circle cx="787.9" cy="563.7" r="5.8"/>
<circle cx="803.6" cy="568.4" r="5.8"/>
<circle cx="711.2" cy="576.2" r="5.8"/>
<circle cx="707.6" cy="570.6" r="5.8"/>
<circle cx="725.3" cy="579.4" r="5.8"/>
<circle cx="729.4" cy="574.8" r="5.8"/>
<circle cx="762.8" cy="573.1" r="5.8"/>
<circle cx="672" cy="580.9" r="5.8"/>
<circle cx="667.7" cy="584.2" r="5.8"/>
<circle cx="695.5" cy="585.6" r="5.8"/>
<circle cx="697.5" cy="580.2" r="5.8"/>
<circle cx="762.8" cy="591.1" r="5.8"/>
<circle cx="758.8" cy="587.9" r="5.8"/>
<circle cx="728.4" cy="598.1" r="5.8"/>
<circle cx="737.8" cy="601.3" r="5.8"/>
<circle cx="709.6" cy="596.6" r="5.8"/>
<circle cx="715" cy="592.5" r="5.8"/>
<circle cx="703.3" cy="604.4" r="5.8"/>
<circle cx="708.3" cy="606.4" r="5.8"/>
<circle cx="686.1" cy="609.1" r="5.8"/>
<circle cx="693" cy="605.1" r="5.8"/>
<circle cx="700.2" cy="612.2" r="5.8"/>
<circle cx="704" cy="609.8" r="5.8"/>
<circle cx="703.3" cy="623.2" r="5.8"/>
<circle cx="697.4" cy="617.5" r="5.8"/>
<circle cx="747.2" cy="616.2" r="5.8"/>
<circle cx="770.7" cy="615.4" r="5.8"/>
<circle cx="772.1" cy="613.6" r="5.8"/>
<circle cx="781.6" cy="618.5" r="5.8"/>
<circle cx="664.2" cy="629.5" r="5.8"/>
<circle cx="687.7" cy="636.5" r="5.8"/>
<circle cx="688.7" cy="641.6" r="5.8"/>
<circle cx="747.2" cy="632.6" r="5.8"/>
<circle cx="742.3" cy="638.3" r="5.8"/>
<circle cx="762.8" cy="629.5" r="5.8"/>
<circle cx="786.3" cy="638.9" r="5.8"/>
<circle cx="782" cy="642.2" r="5.8"/>
<circle cx="733.1" cy="642" r="5.8"/>
<circle cx="745.6" cy="646.7" r="5.8"/>
<circle cx="751.9" cy="652" r="5.8"/>
<circle cx="751.9" cy="651.4" r="5.8"/>
<circle cx="676.7" cy="646.7" r="5.8"/>
<circle cx="671.2" cy="640.2" r="5.8"/>
<circle cx="706.5" cy="653.7" r="5.8"/>
<circle cx="742.5" cy="657.6" r="5.8"/>
<circle cx="745.3" cy="654.2" r="5.8"/>
<circle cx="780.1" cy="658.4" r="5.8"/>
<circle cx="697.1" cy="667.8" r="5.8"/>
<circle cx="694.2" cy="663.3" r="5.8"/>
<circle cx="714.3" cy="668.6" r="5.8"/>
<circle cx="728.4" cy="666.3" r="5.8"/>
<circle cx="724.6" cy="667.1" r="5.8"/>
<circle cx="744" cy="674.1" r="5.8"/>
<circle cx="761.3" cy="676.4" r="5.8"/>
<circle cx="780.1" cy="678.8" r="5.8"/>
<circle cx="785.9" cy="674.6" r="5.8"/>
<circle cx="731.5" cy="681.9" r="5.8"/>
<circle cx="728.3" cy="681.2" r="5.8"/>
<circle cx="684.5" cy="679.6" r="5.8"/>
<circle cx="680" cy="677.7" r="5.8"/>
<circle cx="673.6" cy="685.8" r="5.8"/>
<circle cx="668.4" cy="683.9" r="5.8"/>
<circle cx="665.8" cy="690.5" r="5.8"/>
<circle cx="687.7" cy="695.2" r="5.8"/>
<circle cx="704.9" cy="699.9" r="5.8"/>
<circle cx="651.7" cy="706.2" r="5.8"/>
<circle cx="652.8" cy="701.2" r="5.8"/>
<circle cx="664.2" cy="706.2" r="5.8"/>
<circle cx="657.4" cy="711.9" r="5.8"/>
<circle cx="675.1" cy="707.8" r="5.8"/>
<circle cx="681.6" cy="701.1" r="5.8"/>
<circle cx="656.4" cy="715.6" r="5.8"/>
<circle cx="656.1" cy="718.8" r="5.8"/>
<circle cx="697.1" cy="714" r="5.8"/>
<circle cx="704.1" cy="708.1" r="5.8"/>
<circle cx="672" cy="720.3" r="5.8"/>
<circle cx="675.3" cy="725.9" r="5.8"/>
<circle cx="683" cy="721.9" r="5.8"/>
<circle cx="685.8" cy="726" r="5.8"/>
<circle cx="689.2" cy="731.2" r="5.8"/>
<circle cx="657.9" cy="732.8" r="5.8"/>
<circle cx="660.5" cy="738.4" r="5.8"/>
<circle cx="675.1" cy="734.4" r="5.8"/>
<circle cx="664.2" cy="742.2" r="5.8"/>
<circle cx="668.3" cy="747.3" r="5.8"/>
<circle cx="684.5" cy="742.2" r="5.8"/>
<circle cx="686.3" cy="740.6" r="5.8"/>
<circle cx="708" cy="745.3" r="5.8"/>
<circle cx="719" cy="748.5" r="5.8"/>
<circle cx="678.3" cy="750" r="5.8"/>
<circle cx="680.2" cy="756.9" r="5.8"/>
<circle cx="689.2" cy="759.4" r="5.8"/>
<circle cx="697.1" cy="765.7" r="5.8"/>
<circle cx="695.5" cy="769" r="5.8"/>
<circle cx="748.7" cy="754.7" r="5.8"/>
<circle cx="755" cy="762.6" r="5.8"/>
<circle cx="759.7" cy="756.7" r="5.8"/>
<circle cx="717.4" cy="770.4" r="5.8"/>
<circle cx="730" cy="770.4" r="5.8"/>
<circle cx="731.4" cy="770.1" r="5.8"/>
<circle cx="717.4" cy="771.6" r="5.8"/>
<circle cx="720.2" cy="771.5" r="5.8"/>
<circle cx="730" cy="771.6" r="5.8"/>
<circle cx="748.7" cy="774.7" r="5.8"/>
<circle cx="766" cy="776.3" r="5.8"/>
<circle cx="759.1" cy="773.5" r="5.8"/>
<circle cx="772.2" cy="779.4" r="5.8"/>
<circle cx="759.7" cy="782.5" r="5.8"/>
<circle cx="755.1" cy="788.2" r="5.8"/>
<circle cx="695.5" cy="781" r="5.8"/>
<circle cx="694.7" cy="786.4" r="5.8"/>
<circle cx="686.1" cy="791.9" r="5.8"/>
<circle cx="688.4" cy="787.7" r="5.8"/>
<circle cx="704.9" cy="793.5" r="5.8"/>
<circle cx="709.2" cy="799.3" r="5.8"/>
<circle cx="722.1" cy="796.6" r="5.8"/>
<circle cx="730" cy="787.2" r="5.8"/>
<circle cx="731.1" cy="784.7" r="5.8"/>
<circle cx="742.5" cy="784.1" r="5.8"/>
<circle cx="742.4" cy="788.8" r="5.8"/>
<circle cx="736.2" cy="791.9" r="5.8"/>
<circle cx="745.6" cy="801.3" r="5.8"/>
<circle cx="750.3" cy="802.9" r="5.8"/>
<circle cx="712.7" cy="802.9" r="5.8"/>
<circle cx="708.1" cy="802.2" r="5.8"/>
<circle cx="704.9" cy="809.1" r="5.8"/>
<circle cx="700.9" cy="807.9" r="5.8"/>
<circle cx="723.7" cy="809.1" r="5.8"/>
<circle cx="744" cy="813.8" r="5.8"/>
<circle cx="701.8" cy="818.5" r="5.8"/>
<circle cx="706.5" cy="825.3" r="5.8"/>
<circle cx="657.9" cy="817" r="5.8"/>
<circle cx="652" cy="810.4" r="5.8"/>
<circle cx="667.3" cy="821.7" r="5.8"/>
<circle cx="664.2" cy="827.9" r="5.8"/>
<circle cx="667.1" cy="828.9" r="5.8"/>
<circle cx="672" cy="835.8" r="5.8"/>
<circle cx="676.1" cy="829" r="5.8"/>
<circle cx="645.4" cy="832.6" r="5.8"/>
<circle cx="644.8" cy="826" r="5.8"/>
<circle cx="645.4" cy="843.6" r="5.8"/>
<circle cx="647" cy="851.4" r="5.8"/>
<circle cx="641.9" cy="845.1" r="5.8"/>
<circle cx="645.4" cy="864" r="5.8"/>
<circle cx="644.6" cy="865.8" r="5.8"/>
<circle cx="657.9" cy="859.3" r="5.8"/>
<circle cx="662.2" cy="865.7" r="5.8"/>
<circle cx="672" cy="857.7" r="5.8"/>
<circle cx="667.8" cy="857.3" r="5.8"/>
<circle cx="742.5" cy="845.2" r="5.8"/>
<circle cx="735.6" cy="844.8" r="5.8"/>
<circle cx="736.2" cy="854.6" r="5.8"/>
<circle cx="712.7" cy="873.4" r="5.8"/>
<circle cx="709.5" cy="871.2" r="5.8"/>
<circle cx="697.1" cy="878" r="5.8"/>
<circle cx="697.4" cy="879.7" r="5.8"/>
<circle cx="698.6" cy="885.9" r="5.8"/>
<circle cx="661.1" cy="871.8" r="5.8"/>
<circle cx="665.1" cy="877.5" r="5.8"/>
<circle cx="662.6" cy="881.2" r="5.8"/>
<circle cx="668.7" cy="884.3" r="5.8"/>
<circle cx="648.5" cy="887.4" r="5.8"/>
<circle cx="647.9" cy="889.2" r="5.8"/>
<circle cx="654.8" cy="892.1" r="5.8"/>
<circle cx="714.3" cy="896.8" r="5.8"/>
<circle cx="715.3" cy="902.2" r="5.8"/>
<circle cx="662.6" cy="900" r="5.8"/>
<circle cx="673.6" cy="904.7" r="5.8"/>
<circle cx="645.4" cy="910.9" r="5.8"/>
<circle cx="647.5" cy="906.8" r="5.8"/>
<circle cx="645.4" cy="918.8" r="5.8"/>
<circle cx="649.9" cy="920.7" r="5.8"/>
<circle cx="667.3" cy="918.8" r="5.8"/>
<circle cx="663.3" cy="924.4" r="5.8"/>
<circle cx="687.7" cy="920.3" r="5.8"/>
<circle cx="659.5" cy="926.6" r="5.8"/>
<circle cx="672" cy="928.2" r="5.8"/>
<circle cx="676.1" cy="925.6" r="5.8"/>
<circle cx="645.4" cy="934.4" r="5.8"/>
<circle cx="704.9" cy="936" r="5.8"/>
<circle cx="725.3" cy="939.1" r="5.8"/>
<circle cx="719.4" cy="938.3" r="5.8"/>
<circle cx="670.5" cy="946.9" r="5.8"/>
<circle cx="674.2" cy="946.8" r="5.8"/>
<circle cx="689.2" cy="945.4" r="5.8"/>
<circle cx="693.6" cy="939.3" r="5.8"/>
<circle cx="758.1" cy="951.6" r="5.8"/>
<circle cx="709.6" cy="957.9" r="5.8"/>
<circle cx="707.3" cy="961.9" r="5.8"/>
<circle cx="731.5" cy="956.3" r="5.8"/>
<circle cx="726.6" cy="956.6" r="5.8"/>
<circle cx="657.9" cy="964.2" r="5.8"/>
<circle cx="662.7" cy="966.8" r="5.8"/>
<circle cx="678.3" cy="967.3" r="5.8"/>
<circle cx="703.3" cy="967.3" r="5.8"/>
<circle cx="742.5" cy="973.6" r="5.8"/>
<circle cx="681.4" cy="976.7" r="5.8"/>
<circle cx="677.5" cy="977.1" r="5.8"/>
<circle cx="700.2" cy="979.8" r="5.8"/>
<circle cx="703.4" cy="981.8" r="5.8"/>
<circle cx="726.8" cy="983" r="5.8"/>
<circle cx="667.3" cy="987.7" r="5.8"/>
<circle cx="681.4" cy="989.2" r="5.8"/>
<circle cx="678.8" cy="987.6" r="5.8"/>
<circle cx="645.4" cy="993.9" r="5.8"/>
<circle cx="661.1" cy="997.1" r="5.8"/>
<circle cx="690.8" cy="1011.2" r="5.8"/>
<circle cx="695.7" cy="1017.7" r="5.8"/>
<circle cx="719" cy="1015.9" r="5.8"/>
<circle cx="717.4" cy="1020.5" r="5.8"/>
<circle cx="672" cy="1019" r="5.8"/>
<circle cx="672.5" cy="1019" r="5.8"/>
<circle cx="664.2" cy="1025.2" r="5.8"/>
<circle cx="657.6" cy="1031.8" r="5.8"/>
<circle cx="651.7" cy="1028.4" r="5.8"/>
<circle cx="650.3" cy="1032.6" r="5.8"/>
<circle cx="645.4" cy="1036.2" r="5.8"/>
<circle cx="645.3" cy="1038.9" r="5.8"/>
<circle cx="667.3" cy="1034.6" r="5.8"/>
<circle cx="667.9" cy="1033.4" r="5.8"/>
<circle cx="791" cy="1044" r="5.8"/>
<circle cx="708" cy="1048.7" r="5.8"/>
<circle cx="700.2" cy="1051.9" r="5.8"/>
<circle cx="699.8" cy="1046.6" r="5.8"/>
<circle cx="681.4" cy="1053.4" r="5.8"/>
<circle cx="685.8" cy="1059" r="5.8"/>
<circle cx="737.8" cy="1048.7" r="5.8"/>
<circle cx="745.6" cy="1055" r="5.8"/>
<circle cx="741.3" cy="1056.6" r="5.8"/>
<circle cx="770.7" cy="1059.7" r="5.8"/>
<circle cx="745.6" cy="1060" r="5.8"/>
<circle cx="749.5" cy="1053.3" r="5.8"/>
<circle cx="770.7" cy="1061.6" r="5.8"/>
<circle cx="766.9" cy="1064.2" r="5.8"/>
<circle cx="792.6" cy="1070.2" r="5.8"/>
<circle cx="790.6" cy="1071.9" r="5.8"/>
<circle cx="751.9" cy="1069.4" r="5.8"/>
<circle cx="755.1" cy="1064.1" r="5.8"/>
<circle cx="714.3" cy="1080.4" r="5.8"/>
<circle cx="733.1" cy="1077.2" r="5.8"/>
<circle cx="728.9" cy="1077.7" r="5.8"/>
<circle cx="745.6" cy="1081.9" r="5.8"/>
<circle cx="743.9" cy="1080.7" r="5.8"/>
<circle cx="730" cy="1086.6" r="5.8"/>
<circle cx="697.1" cy="1089.8" r="5.8"/>
<circle cx="692.9" cy="1091.6" r="5.8"/>
<circle cx="761.3" cy="1088.2" r="5.8"/>
<circle cx="744" cy="1096" r="5.8"/>
<circle cx="737.8" cy="1103.8" r="5.8"/>
<circle cx="726.8" cy="1110.1" r="5.8"/>
<circle cx="783.2" cy="1103.8" r="5.8"/>
<circle cx="766" cy="1111.7" r="5.8"/>
<circle cx="769.3" cy="1116" r="5.8"/>
<circle cx="744" cy="1111.7" r="5.8"/>
<circle cx="739.4" cy="1121.1" r="5.8"/>
<circle cx="736.8" cy="1127" r="5.8"/>
<circle cx="745.6" cy="1125.8" r="5.8"/>
<circle cx="752.6" cy="1131.2" r="5.8"/>
<circle cx="761.3" cy="1121.1" r="5.8"/>
<circle cx="757.6" cy="1124.2" r="5.8"/>
<circle cx="730" cy="1128.9" r="5.8"/>
<circle cx="724.3" cy="1133.6" r="5.8"/>
<circle cx="711.2" cy="1133.6" r="5.8"/>
<circle cx="715.2" cy="1128.4" r="5.8"/>
<circle cx="733.1" cy="1135.2" r="5.8"/>
<circle cx="735.7" cy="1128.4" r="5.8"/>
<circle cx="737.8" cy="1143" r="5.8"/>
<circle cx="740.3" cy="1148.8" r="5.8"/>
<circle cx="701.8" cy="1149.3" r="5.8"/>
<circle cx="730" cy="1149.3" r="5.8"/>
<circle cx="730" cy="1152.9" r="5.8"/>
<circle cx="719" cy="1154" r="5.8"/>
<circle cx="689.2" cy="1161.8" r="5.8"/>
<circle cx="684.9" cy="1155.8" r="5.8"/>
<circle cx="745.6" cy="1166.5" r="5.8"/>
<circle cx="739.1" cy="1167.2" r="5.8"/>
<circle cx="753.4" cy="1166.5" r="5.8"/>
<circle cx="672" cy="1175.9" r="5.8"/>
<circle cx="667.1" cy="1171.5" r="5.8"/>
<circle cx="676.7" cy="1179" r="5.8"/>
<circle cx="681.5" cy="1185.9" r="5.8"/>
<circle cx="690.8" cy="1177.4" r="5.8"/>
<circle cx="714.3" cy="1174.3" r="5.8"/>
<circle cx="708.2" cy="1180.6" r="5.8"/>
<circle cx="723.7" cy="1180.6" r="5.8"/>
<circle cx="764.4" cy="1183.7" r="5.8"/>
<circle cx="773.8" cy="1185.3" r="5.8"/>
<circle cx="773.3" cy="1185.5" r="5.8"/>
<circle cx="698.6" cy="1191.5" r="5.8"/>
<circle cx="700.1" cy="1184.7" r="5.8"/>
<circle cx="722.1" cy="1196.2" r="5.8"/>
<circle cx="742.5" cy="1200.9" r="5.8"/>
<circle cx="755" cy="1199.4" r="5.8"/>
<circle cx="754.4" cy="1202.7" r="5.8"/>
<circle cx="764.4" cy="1200.9" r="5.8"/>
<circle cx="760.1" cy="1196.2" r="5.8"/>
<circle cx="772.2" cy="1202.5" r="5.8"/>
<circle cx="758.1" cy="1205.6" r="5.8"/>
<circle cx="763.6" cy="1209.9" r="5.8"/>
<circle cx="717.4" cy="1204.1" r="5.8"/>
<circle cx="704.9" cy="1208.8" r="5.8"/>
<circle cx="656.4" cy="1207.2" r="5.8"/>
<circle cx="655" cy="1208.6" r="5.8"/>
<circle cx="673.6" cy="1211.9" r="5.8"/>
<circle cx="680.3" cy="1216.2" r="5.8"/>
<circle cx="792.6" cy="1215" r="5.8"/>
<circle cx="798.4" cy="1218.4" r="5.8"/>
<circle cx="731.5" cy="1218.9" r="5.8"/>
<circle cx="661.1" cy="1219.7" r="5.8"/>
<circle cx="662.6" cy="1226" r="5.8"/>
<circle cx="668.2" cy="1231.3" r="5.8"/>
<circle cx="656.4" cy="1230.7" r="5.8"/>
<circle cx="660.1" cy="1234.4" r="5.8"/>
<circle cx="683" cy="1229.1" r="5.8"/>
<circle cx="686.1" cy="1223.1" r="5.8"/>
<circle cx="745.6" cy="1231.5" r="5.8"/>
<circle cx="745.2" cy="1224.6" r="5.8"/>
<circle cx="769.1" cy="1226" r="5.8"/>
<circle cx="771" cy="1227.7" r="5.8"/>
<circle cx="776.9" cy="1226" r="5.8"/>
<circle cx="783.2" cy="1228.3" r="5.8"/>
<circle cx="769.1" cy="1232.3" r="5.8"/>
<circle cx="771.3" cy="1233.2" r="5.8"/>
<circle cx="703.3" cy="1236.9" r="5.8"/>
<circle cx="700.2" cy="1243.2" r="5.8"/>
<circle cx="707.2" cy="1245.2" r="5.8"/>
<circle cx="665.8" cy="1249.5" r="5.8"/>
<circle cx="669.4" cy="1256.2" r="5.8"/>
<circle cx="657.9" cy="1254.2" r="5.8"/>
<circle cx="659.5" cy="1257.5" r="5.8"/>
<circle cx="665.8" cy="1260.4" r="5.8"/>
<circle cx="664.4" cy="1254.1" r="5.8"/>
<circle cx="686.1" cy="1252.6" r="5.8"/>
<circle cx="684.4" cy="1247" r="5.8"/>
<circle cx="761.3" cy="1257.3" r="5.8"/>
<circle cx="767" cy="1258" r="5.8"/>
<circle cx="745.6" cy="1265.1" r="5.8"/>
<circle cx="698.6" cy="1266.7" r="5.8"/>
<circle cx="714.3" cy="1268.3" r="5.8"/>
<circle cx="701.8" cy="1273" r="5.8"/>
<circle cx="667.3" cy="1279.2" r="5.8"/>
<circle cx="671.7" cy="1273.3" r="5.8"/>
<circle cx="678.3" cy="1280.8" r="5.8"/>
<circle cx="681.9" cy="1274.4" r="5.8"/>
<circle cx="687.7" cy="1277.7" r="5.8"/>
<circle cx="701.8" cy="1282.4" r="5.8"/>
<circle cx="701.4" cy="1277.7" r="5.8"/>
<circle cx="720.6" cy="1288.6" r="5.8"/>
<circle cx="714.3" cy="1294.9" r="5.8"/>
<circle cx="715.9" cy="1299.6" r="5.8"/>
<circle cx="722.1" cy="1298.5" r="5.8"/>
<circle cx="692.4" cy="1296.5" r="5.8"/>
<circle cx="693.7" cy="1294.6" r="5.8"/>
<circle cx="730" cy="1301.2" r="5.8"/>
<circle cx="732.1" cy="1302" r="5.8"/>
<circle cx="740.9" cy="1301.2" r="5.8"/>
<circle cx="743.9" cy="1298.3" r="5.8"/>
<circle cx="773.8" cy="1291.8" r="5.8"/>
<circle cx="770.2" cy="1285.4" r="5.8"/>
<circle cx="787.9" cy="1291.8" r="5.8"/>
<circle cx="791.5" cy="1290.2" r="5.8"/>
<circle cx="750.3" cy="1310.5" r="5.8"/>
<circle cx="776.9" cy="1318.4" r="5.8"/>
<circle cx="783.2" cy="1330.9" r="5.8"/>
<circle cx="790" cy="1337.1" r="5.8"/>
<circle cx="645.4" cy="1313.7" r="5.8"/>
<circle cx="651.1" cy="1312.7" r="5.8"/>
<circle cx="653.2" cy="1316.8" r="5.8"/>
<circle cx="659.8" cy="1313.2" r="5.8"/>
<circle cx="673.6" cy="1312.1" r="5.8"/>
<circle cx="679.7" cy="1315.2" r="5.8"/>
<circle cx="650.1" cy="1321.5" r="5.8"/>
<circle cx="656.8" cy="1325.9" r="5.8"/>
<circle cx="681.4" cy="1323.1" r="5.8"/>
<circle cx="676" cy="1324.8" r="5.8"/>
<circle cx="703.3" cy="1324.6" r="5.8"/>
<circle cx="704.9" cy="1332.5" r="5.8"/>
<circle cx="698.6" cy="1332.9" r="5.8"/>
<circle cx="723.7" cy="1326.2" r="5.8"/>
<circle cx="722.9" cy="1328.6" r="5.8"/>
<circle cx="726.8" cy="1332.5" r="5.8"/>
<circle cx="715.9" cy="1338.7" r="5.8"/>
<circle cx="717" cy="1337.6" r="5.8"/>
<circle cx="728.4" cy="1340.3" r="5.8"/>
<circle cx="683" cy="1337.2" r="5.8"/>
<circle cx="689.9" cy="1343.5" r="5.8"/>
<circle cx="748.7" cy="1324.6" r="5.8"/>
<circle cx="645.4" cy="1348.1" r="5.8"/>
<circle cx="641" cy="1353.6" r="5.8"/>
<circle cx="659.5" cy="1348.1" r="5.8"/>
<circle cx="676.7" cy="1346.6" r="5.8"/>
<circle cx="674.7" cy="1343.4" r="5.8"/>
<circle cx="711.2" cy="1351.3" r="5.8"/>
<circle cx="750.3" cy="1352.8" r="5.8"/>
<circle cx="711.2" cy="1353.1" r="5.8"/>
<circle cx="750.3" cy="1353.1" r="5.8"/>
<circle cx="706.5" cy="1364.1" r="5.8"/>
<circle cx="723.7" cy="1367.2" r="5.8"/>
<circle cx="720.2" cy="1373.9" r="5.8"/>
<circle cx="755" cy="1370.4" r="5.8"/>
<circle cx="770.7" cy="1375.1" r="5.8"/>
<circle cx="781.6" cy="1371.9" r="5.8"/>
<circle cx="775.5" cy="1368.7" r="5.8"/>
<circle cx="808.3" cy="1378.2" r="5.8"/>
<circle cx="810" cy="1372.6" r="5.8"/>
<circle cx="678.3" cy="1382.9" r="5.8"/>
<circle cx="672.3" cy="1377.1" r="5.8"/>
<circle cx="689.2" cy="1386" r="5.8"/>
<circle cx="690" cy="1387.9" r="5.8"/>
<circle cx="668.9" cy="1395.4" r="5.8"/>
<circle cx="668.6" cy="1391.4" r="5.8"/>
<circle cx="679.8" cy="1401.7" r="5.8"/>
<circle cx="683.3" cy="1406.4" r="5.8"/>
<circle cx="686.1" cy="1406.4" r="5.8"/>
<circle cx="680.8" cy="1410.7" r="5.8"/>
<circle cx="709.6" cy="1398.5" r="5.8"/>
<circle cx="647" cy="1400.1" r="5.8"/>
<circle cx="748.7" cy="1392.3" r="5.8"/>
<circle cx="747.7" cy="1388.9" r="5.8"/>
<circle cx="704.9" cy="1412.6" r="5.8"/>
<circle cx="717.4" cy="1414.2" r="5.8"/>
<circle cx="719.6" cy="1421.1" r="5.8"/>
<circle cx="723.7" cy="1417.3" r="5.8"/>
<circle cx="724.4" cy="1420.8" r="5.8"/>
<circle cx="686.1" cy="1422" r="5.8"/>
<circle cx="672" cy="1426.7" r="5.8"/>
<circle cx="670.2" cy="1421.1" r="5.8"/>
<circle cx="695.5" cy="1428.3" r="5.8"/>
<circle cx="714.3" cy="1429.9" r="5.8"/>
<circle cx="708.5" cy="1430.8" r="5.8"/>
<circle cx="730" cy="1425.2" r="5.8"/>
<circle cx="704.9" cy="1440.8" r="5.8"/>
<circle cx="737.8" cy="1440.8" r="5.8"/>
<circle cx="741.6" cy="1434.9" r="5.8"/>
<circle cx="758.1" cy="1431.4" r="5.8"/>
<circle cx="760.4" cy="1425.6" r="5.8"/>
<circle cx="719" cy="1445.5" r="5.8"/>
<circle cx="722.1" cy="1448.2" r="5.8"/>
<circle cx="723.7" cy="1451.8" r="5.8"/>
<circle cx="718.7" cy="1449.8" r="5.8"/>
<circle cx="730" cy="1456.5" r="5.8"/>
<circle cx="708" cy="1461.2" r="5.8"/>
<circle cx="702.7" cy="1464.1" r="5.8"/>
<circle cx="683" cy="1462.7" r="5.8"/>
<circle cx="688.8" cy="1468.9" r="5.8"/>
<circle cx="695.5" cy="1469" r="5.8"/>
<circle cx="776.9" cy="1464.3" r="5.8"/>
<circle cx="781.2" cy="1461.6" r="5.8"/>
<circle cx="684.5" cy="1480" r="5.8"/>
<circle cx="683.1" cy="1486.1" r="5.8"/>
<circle cx="748.7" cy="1481.5" r="5.8"/>
<circle cx="733.1" cy="1489.4" r="5.8"/>
<circle cx="731.2" cy="1487.5" r="5.8"/>
<circle cx="745.6" cy="1490.9" r="5.8"/>
<circle cx="744.2" cy="1489.4" r="5.8"/>
<circle cx="668.9" cy="1498.8" r="5.8"/>
<circle cx="669.8" cy="1502.9" r="5.8"/>
<circle cx="690.8" cy="1498.8" r="5.8"/>
<circle cx="695.5" cy="1499.6" r="5.8"/>
<circle cx="701.8" cy="1503.5" r="5.8"/>
<circle cx="705.4" cy="1508.8" r="5.8"/>
<circle cx="672" cy="1506.6" r="5.8"/>
<circle cx="665.3" cy="1506.8" r="5.8"/>
<circle cx="715.9" cy="1516" r="5.8"/>
<circle cx="728.4" cy="1514.4" r="5.8"/>
<circle cx="731.5" cy="1522.3" r="5.8"/>
<circle cx="698.6" cy="1522.3" r="5.8"/>
<circle cx="702.9" cy="1516.1" r="5.8"/>
<circle cx="647" cy="1519.1" r="5.8"/>
<circle cx="651" cy="1513.3" r="5.8"/>
<circle cx="659.5" cy="1528.5" r="5.8"/>
<circle cx="662.8" cy="1534.1" r="5.8"/>
<circle cx="664.2" cy="1533.2" r="5.8"/>
<circle cx="666.1" cy="1528.2" r="5.8"/>
<circle cx="676.7" cy="1534.8" r="5.8"/>
<circle cx="678.8" cy="1531.2" r="5.8"/>
<circle cx="728.4" cy="1536.3" r="5.8"/>
<circle cx="732.1" cy="1536.6" r="5.8"/>
<circle cx="725.3" cy="1542.6" r="5.8"/>
<circle cx="808.3" cy="1541" r="5.8"/>
<circle cx="806" cy="1547.6" r="5.8"/>
<circle cx="661.1" cy="1550.4" r="5.8"/>
<circle cx="661" cy="1551" r="5.8"/>
<circle cx="676.7" cy="1553.6" r="5.8"/>
<circle cx="679.6" cy="1559.4" r="5.8"/>
<circle cx="656.4" cy="1563" r="5.8"/>
<circle cx="660.9" cy="1565.3" r="5.8"/>
<circle cx="667.3" cy="1559.8" r="5.8"/>
<circle cx="681.4" cy="1569.2" r="5.8"/>
<circle cx="651.7" cy="1572.4" r="5.8"/>
<circle cx="661.1" cy="1575.5" r="5.8"/>
<circle cx="645.4" cy="1581.8" r="5.8"/>
<circle cx="681.4" cy="1580.2" r="5.8"/>
<circle cx="681.7" cy="1583.1" r="5.8"/>
<circle cx="651.7" cy="1584.9" r="5.8"/>
<circle cx="667.3" cy="1591.2" r="5.8"/>
<circle cx="666.2" cy="1586.2" r="5.8"/>
<circle cx="697.1" cy="1597.4" r="5.8"/>
<circle cx="703.9" cy="1595.7" r="5.8"/>
<circle cx="645.4" cy="1594.3" r="5.8"/>
<circle cx="641.3" cy="1593.2" r="5.8"/>
<circle cx="672" cy="1600.5" r="5.8"/>
<circle cx="678.6" cy="1594.4" r="5.8"/>
<circle cx="651.7" cy="1606.8" r="5.8"/>
<circle cx="646.3" cy="1608.9" r="5.8"/>
<circle cx="662.6" cy="1611.5" r="5.8"/>
<circle cx="670.5" cy="1616.2" r="5.8"/>
<circle cx="664.3" cy="1615.6" r="5.8"/>
<circle cx="684.5" cy="1617.8" r="5.8"/>
<circle cx="690.3" cy="1611.3" r="5.8"/>
<circle cx="692.4" cy="1619.3" r="5.8"/>
<circle cx="688" cy="1615.4" r="5.8"/>
<circle cx="737.8" cy="1619.3" r="5.8"/>
<circle cx="740.8" cy="1620.7" r="5.8"/>
<circle cx="648.5" cy="1625.6" r="5.8"/>
<circle cx="644.1" cy="1622.5" r="5.8"/>
<circle cx="668.9" cy="1631.9" r="5.8"/>
<circle cx="672.5" cy="1629.2" r="5.8"/>
<circle cx="687.7" cy="1631.9" r="5.8"/>
<circle cx="692.1" cy="1631.6" r="5.8"/>
<circle cx="659.5" cy="1639.7" r="5.8"/>
<circle cx="664.9" cy="1645.5" r="5.8"/>
<circle cx="684.5" cy="1639.7" r="5.8"/>
<circle cx="685.2" cy="1646.1" r="5.8"/>
<circle cx="672" cy="1644.4" r="5.8"/>
<circle cx="668.1" cy="1638.1" r="5.8"/>
<circle cx="706.5" cy="1644.4" r="5.8"/>
<circle cx="687.2" cy="1623.1" r="5.8"/>
<circle cx="670.1" cy="1626.2" r="5.8"/>
<circle cx="670.5" cy="1626.4" r="5.8"/>
<circle cx="645.3" cy="1629.3" r="5.8"/>
<circle cx="652.2" cy="1631.5" r="5.8"/>
<circle cx="656.2" cy="1632.4" r="5.8"/>
<circle cx="649.3" cy="1632" r="5.8"/>
<circle cx="671.7" cy="1637.1" r="5.8"/>
<circle cx="675.8" cy="1640" r="5.8"/>
<circle cx="687.2" cy="1640.2" r="5.8"/>
<circle cx="682.4" cy="1635.4" r="5.8"/>
<circle cx="705.8" cy="1643.3" r="5.8"/>
<circle cx="702.4" cy="1648.4" r="5.8"/>
<circle cx="645.3" cy="1644.8" r="5.8"/>
<circle cx="647.2" cy="1651.7" r="5.8"/>
<circle cx="659.3" cy="1649.5" r="5.8"/>
<circle cx="659.7" cy="1644.6" r="5.8"/>
<circle cx="671.7" cy="1651" r="5.8"/>
<circle cx="645.3" cy="1657.2" r="5.8"/>
<circle cx="649.8" cy="1662.1" r="5.8"/>
<circle cx="660.8" cy="1668.1" r="5.8"/>
<circle cx="674.8" cy="1671.2" r="5.8"/>
<circle cx="671.5" cy="1674.2" r="5.8"/>
<circle cx="744.5" cy="1678.9" r="5.8"/>
<circle cx="744.2" cy="1678.5" r="5.8"/>
<circle cx="656.2" cy="1682" r="5.8"/>
<circle cx="670.1" cy="1686.7" r="5.8"/>
<circle cx="675.1" cy="1683.9" r="5.8"/>
<circle cx="674.8" cy="1696" r="5.8"/>
<circle cx="645.3" cy="1703.7" r="5.8"/>
<circle cx="651.1" cy="1698" r="5.8"/>
<circle cx="656.2" cy="1706.8" r="5.8"/>
<circle cx="671.7" cy="1713" r="5.8"/>
<circle cx="672.3" cy="1713.4" r="5.8"/>
<circle cx="645.3" cy="1722.3" r="5.8"/>
<circle cx="650" cy="1719.7" r="5.8"/>
<circle cx="660.8" cy="1727" r="5.8"/>
<circle cx="654.9" cy="1724.3" r="5.8"/>
<circle cx="646.9" cy="1737.8" r="5.8"/>
<circle cx="649.9" cy="1735.9" r="5.8"/>
<circle cx="645.3" cy="1759.5" r="5.8"/>
<circle cx="641" cy="1758.1" r="5.8"/>
<circle cx="645.3" cy="1767.3" r="5.8"/>
<circle cx="651.8" cy="1771.9" r="5.8"/>
<circle cx="694.9" cy="1792.1" r="5.8"/>
<circle cx="688.1" cy="1790.4" r="5.8"/>
<circle cx="645.3" cy="1799.8" r="5.8"/>
<circle cx="641.6" cy="1800.7" r="5.8"/>
<circle cx="657.7" cy="1807.6" r="5.8"/>
<circle cx="650.9" cy="1814.5" r="5.8"/>
<circle cx="671.7" cy="1804.5" r="5.8"/>
<circle cx="719.7" cy="1816.9" r="5.8"/>
<circle cx="721.3" cy="1814" r="5.8"/>
<circle cx="651.5" cy="1823.1" r="5.8"/>
<circle cx="652.1" cy="1820.3" r="5.8"/>
<circle cx="645.3" cy="1827.8" r="5.8"/>
<circle cx="643.8" cy="1830.1" r="5.8"/>
<circle cx="660.8" cy="1834" r="5.8"/>
<circle cx="656.6" cy="1837.2" r="5.8"/>
<circle cx="670.1" cy="1852.6" r="5.8"/>
<circle cx="676.3" cy="1853.4" r="5.8"/>
<circle cx="645.3" cy="1855.7" r="5.8"/>
<circle cx="642.9" cy="1860.2" r="5.8"/>
<circle cx="656.2" cy="1860.3" r="5.8"/>
<circle cx="651.1" cy="1854.6" r="5.8"/>
<circle cx="671.7" cy="1866.5" r="5.8"/>
<circle cx="674.6" cy="1862" r="5.8"/>
<circle cx="679.4" cy="1868.1" r="5.8"/>
<circle cx="684.1" cy="1869.4" r="5.8"/>
<circle cx="710.4" cy="1861.9" r="5.8"/>
<circle cx="706.6" cy="1857.1" r="5.8"/>
<circle cx="645.3" cy="1872.7" r="5.8"/>
<circle cx="644" cy="1866.7" r="5.8"/>
<circle cx="645.3" cy="1882" r="5.8"/>
<circle cx="708.9" cy="1880.5" r="5.8"/>
<circle cx="709" cy="1882.5" r="5.8"/>
<circle cx="682.5" cy="1886.7" r="5.8"/>
<circle cx="657.7" cy="1889.8" r="5.8"/>
<circle cx="767.8" cy="1889.8" r="5.8"/>
<circle cx="765.4" cy="1888.5" r="5.8"/>
<circle cx="732.1" cy="1900.6" r="5.8"/>
<circle cx="730.7" cy="1903.4" r="5.8"/>
<circle cx="645.3" cy="1906.8" r="5.8"/>
<circle cx="634.5" cy="827" r="5.8"/>
<circle cx="634.5" cy="849" r="5.8"/>
<circle cx="634.5" cy="868" r="5.8"/>
<circle cx="634.5" cy="874" r="5.8"/>
<circle cx="634.5" cy="912" r="5.8"/>
<circle cx="634.5" cy="998" r="5.8"/>
<circle cx="634.5" cy="1004" r="5.8"/>
<circle cx="634.5" cy="1351" r="5.8"/>
<circle cx="634.5" cy="1423" r="5.8"/>
<circle cx="634.5" cy="1661" r="5.8"/>
<circle cx="634.5" cy="1733" r="5.8"/>
<circle cx="634.5" cy="1755" r="5.8"/>
<circle cx="634.5" cy="1767" r="5.8"/>
<circle cx="634.5" cy="1786" r="5.8"/>
<circle cx="634.5" cy="1803" r="5.8"/>
<circle cx="634.5" cy="1809" r="5.8"/>
<circle cx="634.5" cy="1826" r="5.8"/>
<circle cx="634.5" cy="1855" r="5.8"/>
<circle cx="634.5" cy="1861" r="5.8"/>
<circle cx="634.5" cy="1877" r="5.8"/>
</g>
<g clip-path="url(#cdot6)" fill="#0000ee">
<circle cx="1176.6" cy="483.8" r="5.8"/>
<circle cx="1217.3" cy="487" r="5.8"/>
<circle cx="1229.9" cy="490.1" r="5.8"/>
<circle cx="1243.2" cy="487.7" r="5.8"/>
<circle cx="1200.1" cy="493.2" r="5.8"/>
<circle cx="1168.8" cy="499.5" r="5.8"/>
<circle cx="1181.3" cy="497.9" r="5.8"/>
<circle cx="1181.5" cy="499.7" r="5.8"/>
<circle cx="1207.9" cy="502.6" r="5.8"/>
<circle cx="1190.7" cy="507.3" r="5.8"/>
<circle cx="1188" cy="501.6" r="5.8"/>
<circle cx="1128.1" cy="506.5" r="5.8"/>
<circle cx="1098.3" cy="514.4" r="5.8"/>
<circle cx="1091.9" cy="521.1" r="5.8"/>
<circle cx="1113.2" cy="518.3" r="5.8"/>
<circle cx="1145.3" cy="512.8" r="5.8"/>
<circle cx="1157.8" cy="508.9" r="5.8"/>
<circle cx="1135.9" cy="521.4" r="5.8"/>
<circle cx="1129.1" cy="521.8" r="5.8"/>
<circle cx="1159.4" cy="521.4" r="5.8"/>
<circle cx="1155.1" cy="517.8" r="5.8"/>
<circle cx="1176.6" cy="523" r="5.8"/>
<circle cx="1176.1" cy="522.1" r="5.8"/>
<circle cx="1139" cy="530.8" r="5.8"/>
<circle cx="1164.1" cy="533.9" r="5.8"/>
<circle cx="1179.7" cy="529.2" r="5.8"/>
<circle cx="1195.4" cy="529.2" r="5.8"/>
<circle cx="1198.5" cy="535.5" r="5.8"/>
<circle cx="1094.4" cy="540.2" r="5.8"/>
<circle cx="1091.3" cy="547.2" r="5.8"/>
<circle cx="1106.1" cy="540.2" r="5.8"/>
<circle cx="1112.4" cy="549.6" r="5.8"/>
<circle cx="1134.3" cy="548.8" r="5.8"/>
<circle cx="1153.1" cy="543.3" r="5.8"/>
<circle cx="1149.3" cy="540.4" r="5.8"/>
<circle cx="1182.9" cy="540.2" r="5.8"/>
<circle cx="1186.6" cy="538.8" r="5.8"/>
<circle cx="1124.9" cy="559.8" r="5.8"/>
<circle cx="1154.7" cy="559" r="5.8"/>
<circle cx="1161.1" cy="563.9" r="5.8"/>
<circle cx="1168.8" cy="554.3" r="5.8"/>
<circle cx="1164.7" cy="560" r="5.8"/>
<circle cx="1182.9" cy="555.9" r="5.8"/>
<circle cx="1184.4" cy="549.6" r="5.8"/>
<circle cx="1146.9" cy="570" r="5.8"/>
<circle cx="1140.9" cy="571.8" r="5.8"/>
<circle cx="1192.3" cy="568.4" r="5.8"/>
<circle cx="1204.8" cy="566.8" r="5.8"/>
<circle cx="1199" cy="564.5" r="5.8"/>
<circle cx="1218.9" cy="563.7" r="5.8"/>
<circle cx="1234.6" cy="568.4" r="5.8"/>
<circle cx="1142.2" cy="576.2" r="5.8"/>
<circle cx="1138.6" cy="570.6" r="5.8"/>
<circle cx="1156.3" cy="579.4" r="5.8"/>
<circle cx="1160.4" cy="574.8" r="5.8"/>
<circle cx="1193.8" cy="573.1" r="5.8"/>
<circle cx="1103" cy="580.9" r="5.8"/>
<circle cx="1098.7" cy="584.2" r="5.8"/>
<circle cx="1126.5" cy="585.6" r="5.8"/>
<circle cx="1128.5" cy="580.2" r="5.8"/>
<circle cx="1193.8" cy="591.1" r="5.8"/>
<circle cx="1189.8" cy="587.9" r="5.8"/>
<circle cx="1159.4" cy="598.1" r="5.8"/>
<circle cx="1168.8" cy="601.3" r="5.8"/>
<circle cx="1140.6" cy="596.6" r="5.8"/>
<circle cx="1146" cy="592.5" r="5.8"/>
<circle cx="1134.3" cy="604.4" r="5.8"/>
<circle cx="1139.3" cy="606.4" r="5.8"/>
<circle cx="1117.1" cy="609.1" r="5.8"/>
<circle cx="1124" cy="605.1" r="5.8"/>
<circle cx="1131.2" cy="612.2" r="5.8"/>
<circle cx="1135" cy="609.8" r="5.8"/>
<circle cx="1134.3" cy="623.2" r="5.8"/>
<circle cx="1128.4" cy="617.5" r="5.8"/>
<circle cx="1178.2" cy="616.2" r="5.8"/>
<circle cx="1201.7" cy="615.4" r="5.8"/>
<circle cx="1203.1" cy="613.6" r="5.8"/>
<circle cx="1212.6" cy="618.5" r="5.8"/>
<circle cx="1095.2" cy="629.5" r="5.8"/>
<circle cx="1118.7" cy="636.5" r="5.8"/>
<circle cx="1119.7" cy="641.6" r="5.8"/>
<circle cx="1178.2" cy="632.6" r="5.8"/>
<circle cx="1173.3" cy="638.3" r="5.8"/>
<circle cx="1193.8" cy="629.5" r="5.8"/>
<circle cx="1217.3" cy="638.9" r="5.8"/>
<circle cx="1213" cy="642.2" r="5.8"/>
<circle cx="1164.1" cy="642" r="5.8"/>
<circle cx="1176.6" cy="646.7" r="5.8"/>
<circle cx="1182.9" cy="652" r="5.8"/>
<circle cx="1182.9" cy="651.4" r="5.8"/>
<circle cx="1107.7" cy="646.7" r="5.8"/>
<circle cx="1102.2" cy="640.2" r="5.8"/>
<circle cx="1137.5" cy="653.7" r="5.8"/>
<circle cx="1173.5" cy="657.6" r="5.8"/>
<circle cx="1176.3" cy="654.2" r="5.8"/>
<circle cx="1211.1" cy="658.4" r="5.8"/>
<circle cx="1128.1" cy="667.8" r="5.8"/>
<circle cx="1125.2" cy="663.3" r="5.8"/>
<circle cx="1145.3" cy="668.6" r="5.8"/>
<circle cx="1159.4" cy="666.3" r="5.8"/>
<circle cx="1155.6" cy="667.1" r="5.8"/>
<circle cx="1175" cy="674.1" r="5.8"/>
<circle cx="1192.3" cy="676.4" r="5.8"/>
<circle cx="1211.1" cy="678.8" r="5.8"/>
<circle cx="1216.9" cy="674.6" r="5.8"/>
<circle cx="1162.5" cy="681.9" r="5.8"/>
<circle cx="1159.3" cy="681.2" r="5.8"/>
<circle cx="1115.5" cy="679.6" r="5.8"/>
<circle cx="1111" cy="677.7" r="5.8"/>
<circle cx="1104.6" cy="685.8" r="5.8"/>
<circle cx="1099.4" cy="683.9" r="5.8"/>
<circle cx="1096.8" cy="690.5" r="5.8"/>
<circle cx="1118.7" cy="695.2" r="5.8"/>
<circle cx="1135.9" cy="699.9" r="5.8"/>
<circle cx="1082.7" cy="706.2" r="5.8"/>
<circle cx="1083.8" cy="701.2" r="5.8"/>
<circle cx="1095.2" cy="706.2" r="5.8"/>
<circle cx="1088.4" cy="711.9" r="5.8"/>
<circle cx="1106.1" cy="707.8" r="5.8"/>
<circle cx="1112.6" cy="701.1" r="5.8"/>
<circle cx="1087.4" cy="715.6" r="5.8"/>
<circle cx="1087.1" cy="718.8" r="5.8"/>
<circle cx="1128.1" cy="714" r="5.8"/>
<circle cx="1135.1" cy="708.1" r="5.8"/>
<circle cx="1103" cy="720.3" r="5.8"/>
<circle cx="1106.3" cy="725.9" r="5.8"/>
<circle cx="1114" cy="721.9" r="5.8"/>
<circle cx="1116.8" cy="726" r="5.8"/>
<circle cx="1120.2" cy="731.2" r="5.8"/>
<circle cx="1088.9" cy="732.8" r="5.8"/>
<circle cx="1091.5" cy="738.4" r="5.8"/>
<circle cx="1106.1" cy="734.4" r="5.8"/>
<circle cx="1095.2" cy="742.2" r="5.8"/>
<circle cx="1099.3" cy="747.3" r="5.8"/>
<circle cx="1115.5" cy="742.2" r="5.8"/>
<circle cx="1117.3" cy="740.6" r="5.8"/>
<circle cx="1139" cy="745.3" r="5.8"/>
<circle cx="1150" cy="748.5" r="5.8"/>
<circle cx="1109.3" cy="750" r="5.8"/>
<circle cx="1111.2" cy="756.9" r="5.8"/>
<circle cx="1120.2" cy="759.4" r="5.8"/>
<circle cx="1128.1" cy="765.7" r="5.8"/>
<circle cx="1126.5" cy="769" r="5.8"/>
<circle cx="1179.7" cy="754.7" r="5.8"/>
<circle cx="1186" cy="762.6" r="5.8"/>
<circle cx="1190.7" cy="756.7" r="5.8"/>
<circle cx="1148.4" cy="770.4" r="5.8"/>
<circle cx="1161" cy="770.4" r="5.8"/>
<circle cx="1162.4" cy="770.1" r="5.8"/>
<circle cx="1148.4" cy="771.6" r="5.8"/>
<circle cx="1151.2" cy="771.5" r="5.8"/>
<circle cx="1161" cy="771.6" r="5.8"/>
<circle cx="1179.7" cy="774.7" r="5.8"/>
<circle cx="1197" cy="776.3" r="5.8"/>
<circle cx="1190.1" cy="773.5" r="5.8"/>
<circle cx="1203.2" cy="779.4" r="5.8"/>
<circle cx="1190.7" cy="782.5" r="5.8"/>
<circle cx="1186.1" cy="788.2" r="5.8"/>
<circle cx="1126.5" cy="781" r="5.8"/>
<circle cx="1125.7" cy="786.4" r="5.8"/>
<circle cx="1117.1" cy="791.9" r="5.8"/>
<circle cx="1119.4" cy="787.7" r="5.8"/>
<circle cx="1135.9" cy="793.5" r="5.8"/>
<circle cx="1140.2" cy="799.3" r="5.8"/>
<circle cx="1153.1" cy="796.6" r="5.8"/>
<circle cx="1161" cy="787.2" r="5.8"/>
<circle cx="1162.1" cy="784.7" r="5.8"/>
<circle cx="1173.5" cy="784.1" r="5.8"/>
<circle cx="1173.4" cy="788.8" r="5.8"/>
<circle cx="1167.2" cy="791.9" r="5.8"/>
<circle cx="1176.6" cy="801.3" r="5.8"/>
<circle cx="1181.3" cy="802.9" r="5.8"/>
<circle cx="1143.7" cy="802.9" r="5.8"/>
<circle cx="1139.1" cy="802.2" r="5.8"/>
<circle cx="1135.9" cy="809.1" r="5.8"/>
<circle cx="1131.9" cy="807.9" r="5.8"/>
<circle cx="1154.7" cy="809.1" r="5.8"/>
<circle cx="1175" cy="813.8" r="5.8"/>
<circle cx="1132.8" cy="818.5" r="5.8"/>
<circle cx="1137.5" cy="825.3" r="5.8"/>
<circle cx="1088.9" cy="817" r="5.8"/>
<circle cx="1083" cy="810.4" r="5.8"/>
<circle cx="1098.3" cy="821.7" r="5.8"/>
<circle cx="1095.2" cy="827.9" r="5.8"/>
<circle cx="1098.1" cy="828.9" r="5.8"/>
<circle cx="1103" cy="835.8" r="5.8"/>
<circle cx="1107.1" cy="829" r="5.8"/>
<circle cx="1076.4" cy="832.6" r="5.8"/>
<circle cx="1075.8" cy="826" r="5.8"/>
<circle cx="1076.4" cy="843.6" r="5.8"/>
<circle cx="1078" cy="851.4" r="5.8"/>
<circle cx="1072.9" cy="845.1" r="5.8"/>
<circle cx="1076.4" cy="864" r="5.8"/>
<circle cx="1075.6" cy="865.8" r="5.8"/>
<circle cx="1088.9" cy="859.3" r="5.8"/>
<circle cx="1093.2" cy="865.7" r="5.8"/>
<circle cx="1103" cy="857.7" r="5.8"/>
<circle cx="1098.8" cy="857.3" r="5.8"/>
<circle cx="1173.5" cy="845.2" r="5.8"/>
<circle cx="1166.6" cy="844.8" r="5.8"/>
<circle cx="1167.2" cy="854.6" r="5.8"/>
<circle cx="1143.7" cy="873.4" r="5.8"/>
<circle cx="1140.5" cy="871.2" r="5.8"/>
<circle cx="1128.1" cy="878" r="5.8"/>
<circle cx="1128.4" cy="879.7" r="5.8"/>
<circle cx="1129.6" cy="885.9" r="5.8"/>
<circle cx="1092.1" cy="871.8" r="5.8"/>
<circle cx="1096.1" cy="877.5" r="5.8"/>
<circle cx="1093.6" cy="881.2" r="5.8"/>
<circle cx="1099.7" cy="884.3" r="5.8"/>
<circle cx="1079.5" cy="887.4" r="5.8"/>
<circle cx="1078.9" cy="889.2" r="5.8"/>
<circle cx="1085.8" cy="892.1" r="5.8"/>
<circle cx="1145.3" cy="896.8" r="5.8"/>
<circle cx="1146.3" cy="902.2" r="5.8"/>
<circle cx="1093.6" cy="900" r="5.8"/>
<circle cx="1104.6" cy="904.7" r="5.8"/>
<circle cx="1076.4" cy="910.9" r="5.8"/>
<circle cx="1078.5" cy="906.8" r="5.8"/>
<circle cx="1076.4" cy="918.8" r="5.8"/>
<circle cx="1080.9" cy="920.7" r="5.8"/>
<circle cx="1098.3" cy="918.8" r="5.8"/>
<circle cx="1094.3" cy="924.4" r="5.8"/>
<circle cx="1118.7" cy="920.3" r="5.8"/>
<circle cx="1090.5" cy="926.6" r="5.8"/>
<circle cx="1103" cy="928.2" r="5.8"/>
<circle cx="1107.1" cy="925.6" r="5.8"/>
<circle cx="1076.4" cy="934.4" r="5.8"/>
<circle cx="1135.9" cy="936" r="5.8"/>
<circle cx="1156.3" cy="939.1" r="5.8"/>
<circle cx="1150.4" cy="938.3" r="5.8"/>
<circle cx="1101.5" cy="946.9" r="5.8"/>
<circle cx="1105.2" cy="946.8" r="5.8"/>
<circle cx="1120.2" cy="945.4" r="5.8"/>
<circle cx="1124.6" cy="939.3" r="5.8"/>
<circle cx="1189.1" cy="951.6" r="5.8"/>
<circle cx="1140.6" cy="957.9" r="5.8"/>
<circle cx="1138.3" cy="961.9" r="5.8"/>
<circle cx="1162.5" cy="956.3" r="5.8"/>
<circle cx="1157.6" cy="956.6" r="5.8"/>
<circle cx="1088.9" cy="964.2" r="5.8"/>
<circle cx="1093.7" cy="966.8" r="5.8"/>
<circle cx="1109.3" cy="967.3" r="5.8"/>
<circle cx="1134.3" cy="967.3" r="5.8"/>
<circle cx="1173.5" cy="973.6" r="5.8"/>
<circle cx="1112.4" cy="976.7" r="5.8"/>
<circle cx="1108.5" cy="977.1" r="5.8"/>
<circle cx="1131.2" cy="979.8" r="5.8"/>
<circle cx="1134.4" cy="981.8" r="5.8"/>
<circle cx="1157.8" cy="983" r="5.8"/>
<circle cx="1098.3" cy="987.7" r="5.8"/>
<circle cx="1112.4" cy="989.2" r="5.8"/>
<circle cx="1109.8" cy="987.6" r="5.8"/>
<circle cx="1076.4" cy="993.9" r="5.8"/>
<circle cx="1092.1" cy="997.1" r="5.8"/>
<circle cx="1121.8" cy="1011.2" r="5.8"/>
<circle cx="1126.7" cy="1017.7" r="5.8"/>
<circle cx="1150" cy="1015.9" r="5.8"/>
<circle cx="1148.4" cy="1020.5" r="5.8"/>
<circle cx="1103" cy="1019" r="5.8"/>
<circle cx="1103.5" cy="1019" r="5.8"/>
<circle cx="1095.2" cy="1025.2" r="5.8"/>
<circle cx="1088.6" cy="1031.8" r="5.8"/>
<circle cx="1082.7" cy="1028.4" r="5.8"/>
<circle cx="1081.3" cy="1032.6" r="5.8"/>
<circle cx="1076.4" cy="1036.2" r="5.8"/>
<circle cx="1076.3" cy="1038.9" r="5.8"/>
<circle cx="1098.3" cy="1034.6" r="5.8"/>
<circle cx="1098.9" cy="1033.4" r="5.8"/>
<circle cx="1222" cy="1044" r="5.8"/>
<circle cx="1139" cy="1048.7" r="5.8"/>
<circle cx="1131.2" cy="1051.9" r="5.8"/>
<circle cx="1130.8" cy="1046.6" r="5.8"/>
<circle cx="1112.4" cy="1053.4" r="5.8"/>
<circle cx="1116.8" cy="1059" r="5.8"/>
<circle cx="1168.8" cy="1048.7" r="5.8"/>
<circle cx="1176.6" cy="1055" r="5.8"/>
<circle cx="1172.3" cy="1056.6" r="5.8"/>
<circle cx="1201.7" cy="1059.7" r="5.8"/>
<circle cx="1176.6" cy="1060" r="5.8"/>
<circle cx="1180.5" cy="1053.3" r="5.8"/>
<circle cx="1201.7" cy="1061.6" r="5.8"/>
<circle cx="1197.9" cy="1064.2" r="5.8"/>
<circle cx="1223.6" cy="1070.2" r="5.8"/>
<circle cx="1221.6" cy="1071.9" r="5.8"/>
<circle cx="1182.9" cy="1069.4" r="5.8"/>
<circle cx="1186.1" cy="1064.1" r="5.8"/>
<circle cx="1145.3" cy="1080.4" r="5.8"/>
<circle cx="1164.1" cy="1077.2" r="5.8"/>
<circle cx="1159.9" cy="1077.7" r="5.8"/>
<circle cx="1176.6" cy="1081.9" r="5.8"/>
<circle cx="1174.9" cy="1080.7" r="5.8"/>
<circle cx="1161" cy="1086.6" r="5.8"/>
<circle cx="1128.1" cy="1089.8" r="5.8"/>
<circle cx="1123.9" cy="1091.6" r="5.8"/>
<circle cx="1192.3" cy="1088.2" r="5.8"/>
<circle cx="1175" cy="1096" r="5.8"/>
<circle cx="1168.8" cy="1103.8" r="5.8"/>
<circle cx="1157.8" cy="1110.1" r="5.8"/>
<circle cx="1214.2" cy="1103.8" r="5.8"/>
<circle cx="1197" cy="1111.7" r="5.8"/>
<circle cx="1200.3" cy="1116" r="5.8"/>
<circle cx="1175" cy="1111.7" r="5.8"/>
<circle cx="1170.4" cy="1121.1" r="5.8"/>
<circle cx="1167.8" cy="1127" r="5.8"/>
<circle cx="1176.6" cy="1125.8" r="5.8"/>
<circle cx="1183.6" cy="1131.2" r="5.8"/>
<circle cx="1192.3" cy="1121.1" r="5.8"/>
<circle cx="1188.6" cy="1124.2" r="5.8"/>
<circle cx="1161" cy="1128.9" r="5.8"/>
<circle cx="1155.3" cy="1133.6" r="5.8"/>
<circle cx="1142.2" cy="1133.6" r="5.8"/>
<circle cx="1146.2" cy="1128.4" r="5.8"/>
<circle cx="1164.1" cy="1135.2" r="5.8"/>
<circle cx="1166.7" cy="1128.4" r="5.8"/>
<circle cx="1168.8" cy="1143" r="5.8"/>
<circle cx="1171.3" cy="1148.8" r="5.8"/>
<circle cx="1132.8" cy="1149.3" r="5.8"/>
<circle cx="1161" cy="1149.3" r="5.8"/>
<circle cx="1161" cy="1152.9" r="5.8"/>
<circle cx="1150" cy="1154" r="5.8"/>
<circle cx="1120.2" cy="1161.8" r="5.8"/>
<circle cx="1115.9" cy="1155.8" r="5.8"/>
<circle cx="1176.6" cy="1166.5" r="5.8"/>
<circle cx="1170.1" cy="1167.2" r="5.8"/>
<circle cx="1184.4" cy="1166.5" r="5.8"/>
<circle cx="1103" cy="1175.9" r="5.8"/>
<circle cx="1098.1" cy="1171.5" r="5.8"/>
<circle cx="1107.7" cy="1179" r="5.8"/>
<circle cx="1112.5" cy="1185.9" r="5.8"/>
<circle cx="1121.8" cy="1177.4" r="5.8"/>
<circle cx="1145.3" cy="1174.3" r="5.8"/>
<circle cx="1139.2" cy="1180.6" r="5.8"/>
<circle cx="1154.7" cy="1180.6" r="5.8"/>
<circle cx="1195.4" cy="1183.7" r="5.8"/>
<circle cx="1204.8" cy="1185.3" r="5.8"/>
<circle cx="1204.3" cy="1185.5" r="5.8"/>
<circle cx="1129.6" cy="1191.5" r="5.8"/>
<circle cx="1131.1" cy="1184.7" r="5.8"/>
<circle cx="1153.1" cy="1196.2" r="5.8"/>
<circle cx="1173.5" cy="1200.9" r="5.8"/>
<circle cx="1186" cy="1199.4" r="5.8"/>
<circle cx="1185.4" cy="1202.7" r="5.8"/>
<circle cx="1195.4" cy="1200.9" r="5.8"/>
<circle cx="1191.1" cy="1196.2" r="5.8"/>
<circle cx="1203.2" cy="1202.5" r="5.8"/>
<circle cx="1189.1" cy="1205.6" r="5.8"/>
<circle cx="1194.6" cy="1209.9" r="5.8"/>
<circle cx="1148.4" cy="1204.1" r="5.8"/>
<circle cx="1135.9" cy="1208.8" r="5.8"/>
<circle cx="1087.4" cy="1207.2" r="5.8"/>
<circle cx="1086" cy="1208.6" r="5.8"/>
<circle cx="1104.6" cy="1211.9" r="5.8"/>
<circle cx="1111.3" cy="1216.2" r="5.8"/>
<circle cx="1223.6" cy="1215" r="5.8"/>
<circle cx="1229.4" cy="1218.4" r="5.8"/>
<circle cx="1162.5" cy="1218.9" r="5.8"/>
<circle cx="1092.1" cy="1219.7" r="5.8"/>
<circle cx="1093.6" cy="1226" r="5.8"/>
<circle cx="1099.2" cy="1231.3" r="5.8"/>
<circle cx="1087.4" cy="1230.7" r="5.8"/>
<circle cx="1091.1" cy="1234.4" r="5.8"/>
<circle cx="1114" cy="1229.1" r="5.8"/>
<circle cx="1117.1" cy="1223.1" r="5.8"/>
<circle cx="1176.6" cy="1231.5" r="5.8"/>
<circle cx="1176.2" cy="1224.6" r="5.8"/>
<circle cx="1200.1" cy="1226" r="5.8"/>
<circle cx="1202" cy="1227.7" r="5.8"/>
<circle cx="1207.9" cy="1226" r="5.8"/>
<circle cx="1214.2" cy="1228.3" r="5.8"/>
<circle cx="1200.1" cy="1232.3" r="5.8"/>
<circle cx="1202.3" cy="1233.2" r="5.8"/>
<circle cx="1134.3" cy="1236.9" r="5.8"/>
<circle cx="1131.2" cy="1243.2" r="5.8"/>
<circle cx="1138.2" cy="1245.2" r="5.8"/>
<circle cx="1096.8" cy="1249.5" r="5.8"/>
<circle cx="1100.4" cy="1256.2" r="5.8"/>
<circle cx="1088.9" cy="1254.2" r="5.8"/>
<circle cx="1090.5" cy="1257.5" r="5.8"/>
<circle cx="1096.8" cy="1260.4" r="5.8"/>
<circle cx="1095.4" cy="1254.1" r="5.8"/>
<circle cx="1117.1" cy="1252.6" r="5.8"/>
<circle cx="1115.4" cy="1247" r="5.8"/>
<circle cx="1192.3" cy="1257.3" r="5.8"/>
<circle cx="1198" cy="1258" r="5.8"/>
<circle cx="1176.6" cy="1265.1" r="5.8"/>
<circle cx="1129.6" cy="1266.7" r="5.8"/>
<circle cx="1145.3" cy="1268.3" r="5.8"/>
<circle cx="1132.8" cy="1273" r="5.8"/>
<circle cx="1098.3" cy="1279.2" r="5.8"/>
<circle cx="1102.7" cy="1273.3" r="5.8"/>
<circle cx="1109.3" cy="1280.8" r="5.8"/>
<circle cx="1112.9" cy="1274.4" r="5.8"/>
<circle cx="1118.7" cy="1277.7" r="5.8"/>
<circle cx="1132.8" cy="1282.4" r="5.8"/>
<circle cx="1132.4" cy="1277.7" r="5.8"/>
<circle cx="1151.6" cy="1288.6" r="5.8"/>
<circle cx="1145.3" cy="1294.9" r="5.8"/>
<circle cx="1146.9" cy="1299.6" r="5.8"/>
<circle cx="1153.1" cy="1298.5" r="5.8"/>
<circle cx="1123.4" cy="1296.5" r="5.8"/>
<circle cx="1124.7" cy="1294.6" r="5.8"/>
<circle cx="1161" cy="1301.2" r="5.8"/>
<circle cx="1163.1" cy="1302" r="5.8"/>
<circle cx="1171.9" cy="1301.2" r="5.8"/>
<circle cx="1174.9" cy="1298.3" r="5.8"/>
<circle cx="1204.8" cy="1291.8" r="5.8"/>
<circle cx="1201.2" cy="1285.4" r="5.8"/>
<circle cx="1218.9" cy="1291.8" r="5.8"/>
<circle cx="1222.5" cy="1290.2" r="5.8"/>
<circle cx="1181.3" cy="1310.5" r="5.8"/>
<circle cx="1207.9" cy="1318.4" r="5.8"/>
<circle cx="1214.2" cy="1330.9" r="5.8"/>
<circle cx="1221" cy="1337.1" r="5.8"/>
<circle cx="1076.4" cy="1313.7" r="5.8"/>
<circle cx="1082.1" cy="1312.7" r="5.8"/>
<circle cx="1084.2" cy="1316.8" r="5.8"/>
<circle cx="1090.8" cy="1313.2" r="5.8"/>
<circle cx="1104.6" cy="1312.1" r="5.8"/>
<circle cx="1110.7" cy="1315.2" r="5.8"/>
<circle cx="1081.1" cy="1321.5" r="5.8"/>
<circle cx="1087.8" cy="1325.9" r="5.8"/>
<circle cx="1112.4" cy="1323.1" r="5.8"/>
<circle cx="1107" cy="1324.8" r="5.8"/>
<circle cx="1134.3" cy="1324.6" r="5.8"/>
<circle cx="1135.9" cy="1332.5" r="5.8"/>
<circle cx="1129.6" cy="1332.9" r="5.8"/>
<circle cx="1154.7" cy="1326.2" r="5.8"/>
<circle cx="1153.9" cy="1328.6" r="5.8"/>
<circle cx="1157.8" cy="1332.5" r="5.8"/>
<circle cx="1146.9" cy="1338.7" r="5.8"/>
<circle cx="1148" cy="1337.6" r="5.8"/>
<circle cx="1159.4" cy="1340.3" r="5.8"/>
<circle cx="1114" cy="1337.2" r="5.8"/>
<circle cx="1120.9" cy="1343.5" r="5.8"/>
<circle cx="1179.7" cy="1324.6" r="5.8"/>
<circle cx="1076.4" cy="1348.1" r="5.8"/>
<circle cx="1072" cy="1353.6" r="5.8"/>
<circle cx="1090.5" cy="1348.1" r="5.8"/>
<circle cx="1107.7" cy="1346.6" r="5.8"/>
<circle cx="1105.7" cy="1343.4" r="5.8"/>
<circle cx="1142.2" cy="1351.3" r="5.8"/>
<circle cx="1181.3" cy="1352.8" r="5.8"/>
<circle cx="1142.2" cy="1353.1" r="5.8"/>
<circle cx="1181.3" cy="1353.1" r="5.8"/>
<circle cx="1137.5" cy="1364.1" r="5.8"/>
<circle cx="1154.7" cy="1367.2" r="5.8"/>
<circle cx="1151.2" cy="1373.9" r="5.8"/>
<circle cx="1186" cy="1370.4" r="5.8"/>
<circle cx="1201.7" cy="1375.1" r="5.8"/>
<circle cx="1212.6" cy="1371.9" r="5.8"/>
<circle cx="1206.5" cy="1368.7" r="5.8"/>
<circle cx="1239.3" cy="1378.2" r="5.8"/>
<circle cx="1241" cy="1372.6" r="5.8"/>
<circle cx="1109.3" cy="1382.9" r="5.8"/>
<circle cx="1103.3" cy="1377.1" r="5.8"/>
<circle cx="1120.2" cy="1386" r="5.8"/>
<circle cx="1121" cy="1387.9" r="5.8"/>
<circle cx="1099.9" cy="1395.4" r="5.8"/>
<circle cx="1099.6" cy="1391.4" r="5.8"/>
<circle cx="1110.8" cy="1401.7" r="5.8"/>
<circle cx="1114.3" cy="1406.4" r="5.8"/>
<circle cx="1117.1" cy="1406.4" r="5.8"/>
<circle cx="1111.8" cy="1410.7" r="5.8"/>
<circle cx="1140.6" cy="1398.5" r="5.8"/>
<circle cx="1078" cy="1400.1" r="5.8"/>
<circle cx="1179.7" cy="1392.3" r="5.8"/>
<circle cx="1178.7" cy="1388.9" r="5.8"/>
<circle cx="1135.9" cy="1412.6" r="5.8"/>
<circle cx="1148.4" cy="1414.2" r="5.8"/>
<circle cx="1150.6" cy="1421.1" r="5.8"/>
<circle cx="1154.7" cy="1417.3" r="5.8"/>
<circle cx="1155.4" cy="1420.8" r="5.8"/>
<circle cx="1117.1" cy="1422" r="5.8"/>
<circle cx="1103" cy="1426.7" r="5.8"/>
<circle cx="1101.2" cy="1421.1" r="5.8"/>
<circle cx="1126.5" cy="1428.3" r="5.8"/>
<circle cx="1145.3" cy="1429.9" r="5.8"/>
<circle cx="1139.5" cy="1430.8" r="5.8"/>
<circle cx="1161" cy="1425.2" r="5.8"/>
<circle cx="1135.9" cy="1440.8" r="5.8"/>
<circle cx="1168.8" cy="1440.8" r="5.8"/>
<circle cx="1172.6" cy="1434.9" r="5.8"/>
<circle cx="1189.1" cy="1431.4" r="5.8"/>
<circle cx="1191.4" cy="1425.6" r="5.8"/>
<circle cx="1150" cy="1445.5" r="5.8"/>
<circle cx="1153.1" cy="1448.2" r="5.8"/>
<circle cx="1154.7" cy="1451.8" r="5.8"/>
<circle cx="1149.7" cy="1449.8" r="5.8"/>
<circle cx="1161" cy="1456.5" r="5.8"/>
<circle cx="1139" cy="1461.2" r="5.8"/>
<circle cx="1133.7" cy="1464.1" r="5.8"/>
<circle cx="1114" cy="1462.7" r="5.8"/>
<circle cx="1119.8" cy="1468.9" r="5.8"/>
<circle cx="1126.5" cy="1469" r="5.8"/>
<circle cx="1207.9" cy="1464.3" r="5.8"/>
<circle cx="1212.2" cy="1461.6" r="5.8"/>
<circle cx="1115.5" cy="1480" r="5.8"/>
<circle cx="1114.1" cy="1486.1" r="5.8"/>
<circle cx="1179.7" cy="1481.5" r="5.8"/>
<circle cx="1164.1" cy="1489.4" r="5.8"/>
<circle cx="1162.2" cy="1487.5" r="5.8"/>
<circle cx="1176.6" cy="1490.9" r="5.8"/>
<circle cx="1175.2" cy="1489.4" r="5.8"/>
<circle cx="1099.9" cy="1498.8" r="5.8"/>
<circle cx="1100.8" cy="1502.9" r="5.8"/>
<circle cx="1121.8" cy="1498.8" r="5.8"/>
<circle cx="1126.5" cy="1499.6" r="5.8"/>
<circle cx="1132.8" cy="1503.5" r="5.8"/>
<circle cx="1136.4" cy="1508.8" r="5.8"/>
<circle cx="1103" cy="1506.6" r="5.8"/>
<circle cx="1096.3" cy="1506.8" r="5.8"/>
<circle cx="1146.9" cy="1516" r="5.8"/>
<circle cx="1159.4" cy="1514.4" r="5.8"/>
<circle cx="1162.5" cy="1522.3" r="5.8"/>
<circle cx="1129.6" cy="1522.3" r="5.8"/>
<circle cx="1133.9" cy="1516.1" r="5.8"/>
<circle cx="1078" cy="1519.1" r="5.8"/>
<circle cx="1082" cy="1513.3" r="5.8"/>
<circle cx="1090.5" cy="1528.5" r="5.8"/>
<circle cx="1093.8" cy="1534.1" r="5.8"/>
<circle cx="1095.2" cy="1533.2" r="5.8"/>
<circle cx="1097.1" cy="1528.2" r="5.8"/>
<circle cx="1107.7" cy="1534.8" r="5.8"/>
<circle cx="1109.8" cy="1531.2" r="5.8"/>
<circle cx="1159.4" cy="1536.3" r="5.8"/>
<circle cx="1163.1" cy="1536.6" r="5.8"/>
<circle cx="1156.3" cy="1542.6" r="5.8"/>
<circle cx="1239.3" cy="1541" r="5.8"/>
<circle cx="1237" cy="1547.6" r="5.8"/>
<circle cx="1092.1" cy="1550.4" r="5.8"/>
<circle cx="1092" cy="1551" r="5.8"/>
<circle cx="1107.7" cy="1553.6" r="5.8"/>
<circle cx="1110.6" cy="1559.4" r="5.8"/>
<circle cx="1087.4" cy="1563" r="5.8"/>
<circle cx="1091.9" cy="1565.3" r="5.8"/>
<circle cx="1098.3" cy="1559.8" r="5.8"/>
<circle cx="1112.4" cy="1569.2" r="5.8"/>
<circle cx="1082.7" cy="1572.4" r="5.8"/>
<circle cx="1092.1" cy="1575.5" r="5.8"/>
<circle cx="1076.4" cy="1581.8" r="5.8"/>
<circle cx="1112.4" cy="1580.2" r="5.8"/>
<circle cx="1112.7" cy="1583.1" r="5.8"/>
<circle cx="1082.7" cy="1584.9" r="5.8"/>
<circle cx="1098.3" cy="1591.2" r="5.8"/>
<circle cx="1097.2" cy="1586.2" r="5.8"/>
<circle cx="1128.1" cy="1597.4" r="5.8"/>
<circle cx="1134.9" cy="1595.7" r="5.8"/>
<circle cx="1076.4" cy="1594.3" r="5.8"/>
<circle cx="1072.3" cy="1593.2" r="5.8"/>
<circle cx="1103" cy="1600.5" r="5.8"/>
<circle cx="1109.6" cy="1594.4" r="5.8"/>
<circle cx="1082.7" cy="1606.8" r="5.8"/>
<circle cx="1077.3" cy="1608.9" r="5.8"/>
<circle cx="1093.6" cy="1611.5" r="5.8"/>
<circle cx="1101.5" cy="1616.2" r="5.8"/>
<circle cx="1095.3" cy="1615.6" r="5.8"/>
<circle cx="1115.5" cy="1617.8" r="5.8"/>
<circle cx="1121.3" cy="1611.3" r="5.8"/>
<circle cx="1123.4" cy="1619.3" r="5.8"/>
<circle cx="1119" cy="1615.4" r="5.8"/>
<circle cx="1168.8" cy="1619.3" r="5.8"/>
<circle cx="1171.8" cy="1620.7" r="5.8"/>
<circle cx="1079.5" cy="1625.6" r="5.8"/>
<circle cx="1075.1" cy="1622.5" r="5.8"/>
<circle cx="1099.9" cy="1631.9" r="5.8"/>
<circle cx="1103.5" cy="1629.2" r="5.8"/>
<circle cx="1118.7" cy="1631.9" r="5.8"/>
<circle cx="1123.1" cy="1631.6" r="5.8"/>
<circle cx="1090.5" cy="1639.7" r="5.8"/>
<circle cx="1095.9" cy="1645.5" r="5.8"/>
<circle cx="1115.5" cy="1639.7" r="5.8"/>
<circle cx="1116.2" cy="1646.1" r="5.8"/>
<circle cx="1103" cy="1644.4" r="5.8"/>
<circle cx="1099.1" cy="1638.1" r="5.8"/>
<circle cx="1137.5" cy="1644.4" r="5.8"/>
<circle cx="1118.2" cy="1623.1" r="5.8"/>
<circle cx="1101.1" cy="1626.2" r="5.8"/>
<circle cx="1101.5" cy="1626.4" r="5.8"/>
<circle cx="1076.3" cy="1629.3" r="5.8"/>
<circle cx="1083.2" cy="1631.5" r="5.8"/>
<circle cx="1087.2" cy="1632.4" r="5.8"/>
<circle cx="1080.3" cy="1632" r="5.8"/>
<circle cx="1102.7" cy="1637.1" r="5.8"/>
<circle cx="1106.8" cy="1640" r="5.8"/>
<circle cx="1118.2" cy="1640.2" r="5.8"/>
<circle cx="1113.4" cy="1635.4" r="5.8"/>
<circle cx="1136.8" cy="1643.3" r="5.8"/>
<circle cx="1133.4" cy="1648.4" r="5.8"/>
<circle cx="1076.3" cy="1644.8" r="5.8"/>
<circle cx="1078.2" cy="1651.7" r="5.8"/>
<circle cx="1090.3" cy="1649.5" r="5.8"/>
<circle cx="1090.7" cy="1644.6" r="5.8"/>
<circle cx="1102.7" cy="1651" r="5.8"/>
<circle cx="1076.3" cy="1657.2" r="5.8"/>
<circle cx="1080.8" cy="1662.1" r="5.8"/>
<circle cx="1091.8" cy="1668.1" r="5.8"/>
<circle cx="1105.8" cy="1671.2" r="5.8"/>
<circle cx="1102.5" cy="1674.2" r="5.8"/>
<circle cx="1175.5" cy="1678.9" r="5.8"/>
<circle cx="1175.2" cy="1678.5" r="5.8"/>
<circle cx="1087.2" cy="1682" r="5.8"/>
<circle cx="1101.1" cy="1686.7" r="5.8"/>
<circle cx="1106.1" cy="1683.9" r="5.8"/>
<circle cx="1105.8" cy="1696" r="5.8"/>
<circle cx="1076.3" cy="1703.7" r="5.8"/>
<circle cx="1082.1" cy="1698" r="5.8"/>
<circle cx="1087.2" cy="1706.8" r="5.8"/>
<circle cx="1102.7" cy="1713" r="5.8"/>
<circle cx="1103.3" cy="1713.4" r="5.8"/>
<circle cx="1076.3" cy="1722.3" r="5.8"/>
<circle cx="1081" cy="1719.7" r="5.8"/>
<circle cx="1091.8" cy="1727" r="5.8"/>
<circle cx="1085.9" cy="1724.3" r="5.8"/>
<circle cx="1077.9" cy="1737.8" r="5.8"/>
<circle cx="1080.9" cy="1735.9" r="5.8"/>
<circle cx="1076.3" cy="1759.5" r="5.8"/>
<circle cx="1072" cy="1758.1" r="5.8"/>
<circle cx="1076.3" cy="1767.3" r="5.8"/>
<circle cx="1082.8" cy="1771.9" r="5.8"/>
<circle cx="1125.9" cy="1792.1" r="5.8"/>
<circle cx="1119.1" cy="1790.4" r="5.8"/>
<circle cx="1076.3" cy="1799.8" r="5.8"/>
<circle cx="1072.6" cy="1800.7" r="5.8"/>
<circle cx="1088.7" cy="1807.6" r="5.8"/>
<circle cx="1081.9" cy="1814.5" r="5.8"/>
<circle cx="1102.7" cy="1804.5" r="5.8"/>
<circle cx="1150.7" cy="1816.9" r="5.8"/>
<circle cx="1152.3" cy="1814" r="5.8"/>
<circle cx="1082.5" cy="1823.1" r="5.8"/>
<circle cx="1083.1" cy="1820.3" r="5.8"/>
<circle cx="1076.3" cy="1827.8" r="5.8"/>
<circle cx="1074.8" cy="1830.1" r="5.8"/>
<circle cx="1091.8" cy="1834" r="5.8"/>
<circle cx="1087.6" cy="1837.2" r="5.8"/>
<circle cx="1101.1" cy="1852.6" r="5.8"/>
<circle cx="1107.3" cy="1853.4" r="5.8"/>
<circle cx="1076.3" cy="1855.7" r="5.8"/>
<circle cx="1073.9" cy="1860.2" r="5.8"/>
<circle cx="1087.2" cy="1860.3" r="5.8"/>
<circle cx="1082.1" cy="1854.6" r="5.8"/>
<circle cx="1102.7" cy="1866.5" r="5.8"/>
<circle cx="1105.6" cy="1862" r="5.8"/>
<circle cx="1110.4" cy="1868.1" r="5.8"/>
<circle cx="1115.1" cy="1869.4" r="5.8"/>
<circle cx="1141.4" cy="1861.9" r="5.8"/>
<circle cx="1137.6" cy="1857.1" r="5.8"/>
<circle cx="1076.3" cy="1872.7" r="5.8"/>
<circle cx="1075" cy="1866.7" r="5.8"/>
<circle cx="1076.3" cy="1882" r="5.8"/>
<circle cx="1139.9" cy="1880.5" r="5.8"/>
<circle cx="1140" cy="1882.5" r="5.8"/>
<circle cx="1113.5" cy="1886.7" r="5.8"/>
<circle cx="1088.7" cy="1889.8" r="5.8"/>
<circle cx="1198.8" cy="1889.8" r="5.8"/>
<circle cx="1196.4" cy="1888.5" r="5.8"/>
<circle cx="1163.1" cy="1900.6" r="5.8"/>
<circle cx="1161.7" cy="1903.4" r="5.8"/>
<circle cx="1076.3" cy="1906.8" r="5.8"/>
<circle cx="1065.5" cy="827" r="5.8"/>
<circle cx="1065.5" cy="849" r="5.8"/>
<circle cx="1065.5" cy="868" r="5.8"/>
<circle cx="1065.5" cy="874" r="5.8"/>
<circle cx="1065.5" cy="912" r="5.8"/>
<circle cx="1065.5" cy="998" r="5.8"/>
<circle cx="1065.5" cy="1004" r="5.8"/>
<circle cx="1065.5" cy="1351" r="5.8"/>
<circle cx="1065.5" cy="1423" r="5.8"/>
<circle cx="1065.5" cy="1661" r="5.8"/>
<circle cx="1065.5" cy="1733" r="5.8"/>
<circle cx="1065.5" cy="1755" r="5.8"/>
<circle cx="1065.5" cy="1767" r="5.8"/>
<circle cx="1065.5" cy="1786" r="5.8"/>
<circle cx="1065.5" cy="1803" r="5.8"/>
<circle cx="1065.5" cy="1809" r="5.8"/>
<circle cx="1065.5" cy="1826" r="5.8"/>
<circle cx="1065.5" cy="1855" r="5.8"/>
<circle cx="1065.5" cy="1861" r="5.8"/>
<circle cx="1065.5" cy="1877" r="5.8"/>
</g>
</svg></body></html>
